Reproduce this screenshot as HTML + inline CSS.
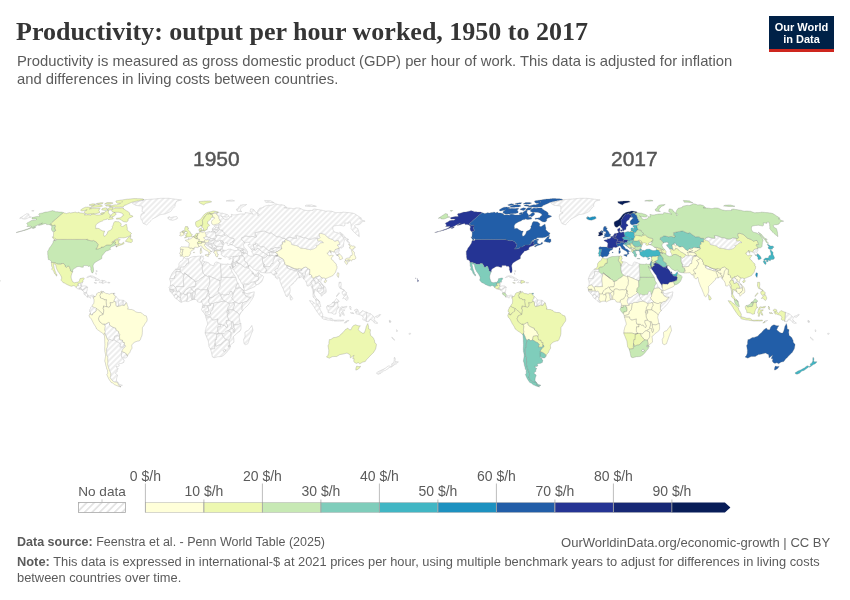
<!DOCTYPE html>
<html><head><meta charset="utf-8">
<style>
html,body{margin:0;padding:0;background:#fff;}
body{width:850px;height:600px;position:relative;overflow:hidden;font-family:"Liberation Sans",Arial,sans-serif;}
.t{position:absolute;white-space:nowrap;will-change:transform;}
#title{left:16px;top:17.4px;font-family:"Liberation Serif",serif;font-weight:bold;font-size:26px;color:#353535;letter-spacing:0px;}
#sub{left:16.5px;top:52px;font-size:14.8px;line-height:18px;color:#5b5b5b;}
#logo{left:769px;top:16px;width:65px;height:33px;background:#002147;border-bottom:3px solid #ce261e;color:#fff;font-weight:bold;font-size:11px;line-height:12px;text-align:center;}
#logo div{padding-top:5px;}
.yr{font-size:21px;color:#555;top:146.5px;-webkit-text-stroke:0.45px #555;}
#foot1{left:17px;top:534.5px;font-size:12.5px;color:#5b5b5b;}
#foot2{left:17px;top:553.5px;font-size:12.85px;line-height:16px;color:#5b5b5b;}
#foot3{right:20px;top:534.5px;font-size:13.05px;color:#5b5b5b;}
b{font-weight:bold;}
</style></head><body>
<div class="t" id="title">Productivity: output per hour worked, 1950 to 2017</div>
<div class="t" id="sub">Productivity is measured as gross domestic product (GDP) per hour of work. This data is adjusted for inflation<br>and differences in living costs between countries.</div>
<div class="t" id="logo"><div>Our World<br>in Data</div></div>
<div class="t yr" style="left:193px">1950</div>
<div class="t yr" style="left:611px">2017</div>
<svg class="t" style="left:0;top:0" width="850" height="600" viewBox="0 0 850 600">
<defs>
<pattern id="hatch" patternUnits="userSpaceOnUse" width="4" height="4" patternTransform="translate(2.7,0) rotate(-45)">
<rect width="4" height="4" fill="#fff"/><line x1="0" y1="2" x2="4" y2="2" stroke="#e5e5e5" stroke-width="1.35"/>
</pattern>
<pattern id="hatch2" patternUnits="userSpaceOnUse" width="5.3" height="5.3" patternTransform="translate(1,0) rotate(-45)">
<rect width="5.3" height="5.3" fill="#fff"/><line x1="0" y1="2.65" x2="5.3" y2="2.65" stroke="#dedede" stroke-width="1.4"/>
</pattern>
</defs>
<g id="maps">
<path d="M132.4 203.3L132.4 202.8L133.3 202.6L134.2 202.4L135.1 202.3L135.9 202.1L136.8 201.9L137.6 201.7L138.5 201.5L139.4 201.3L140.3 201L141.1 200.8L142 200.5L142.9 200.2L143.8 199.9L144.6 199.7L145.3 199.6L146.1 199.6L146.8 199.5L147.5 199.5L148.3 199.4L149 199.4L149.7 199.3L150.4 199.3L151.2 199.2L151.9 199.2L152.6 199.1L153.3 199.1L154.1 199L154.8 198.9L155.5 198.9L156.3 198.8L157 198.7L157.7 198.6L158.4 198.6L159.1 198.5L159.9 198.4L160.6 198.3L161.3 198.3L162 198.3L162.7 198.3L163.5 198.3L164.2 198.3L164.9 198.3L165.7 198.3L166.4 198.3L167.1 198.3L167.9 198.3L168.6 198.3L169.2 198.4L169.9 198.4L170.5 198.5L171.1 198.6L171.8 198.7L172.4 198.8L173 198.8L173.7 198.9L174.3 199L174.9 199.1L175.6 199.2L176.2 199.3L176.9 199.3L177.5 199.4L178.2 199.5L178.9 199.6L179.5 199.7L180.2 199.8L180.8 199.9L181.5 199.9L180.8 200.1L180.1 200.3L179.4 200.5L178.7 200.7L178 200.9L177.3 201.1L176.6 201.3L176.2 202.1L175.9 202.8L175.5 203.6L175.1 204.4L175.1 205.1L175 205.8L175 206.5L174.4 207.1L173.8 207.7L173.1 208.2L172.4 208.8L172 209.5L171.5 210.3L171.1 211.1L170.4 211.5L169.7 211.9L169 212.3L168.3 212.6L167.4 213L166.6 213.3L165.8 213.7L165 214L164.2 214.1L163.4 214.2L162.7 214.3L161.9 214.4L161.1 214.5L160.3 214.7L159.4 215.1L158.6 215.6L157.8 216.1L156.9 216.6L156.1 217.1L155.2 217.6L154.3 218L153.4 218.5L152.4 219L151.7 219.7L151 220.5L150.2 221.3L149.5 222.1L148.6 223.1L147.6 224L146.7 224.9L146 224.6L145.3 224.3L144.6 224L143.9 223.7L143.2 223.4L142.8 222.6L142.5 221.8L142.2 221L141.9 220.2L141.5 219.8L141.1 219.3L140.9 218.4L140.8 217.4L140.6 216.5L140.8 215.7L141 214.9L141.3 214L142.1 213.7L142.9 213.4L143.7 213.1L144.5 212.9L143.9 212.6L143.2 212.3L142.6 212L142 211.7L142.1 210.9L142.2 210.1L142.3 209.4L142.2 208.5L142.2 207.7L142.2 206.8L142.2 206L141.5 205.9L140.8 205.9L140.1 205.8L139.4 205.8L138.7 205.7L138 205.6L137.3 205.6L136.6 205.5L135.9 205.5L135.4 205.1L134.8 204.8L134.3 204.5L133.8 204.2L133.3 203.9L132.8 203.6L132.4 203.3ZM143.7 199.6L143.9 199.7L143.1 199.8L142.3 200L143 199.8L143.7 199.6Z" fill="url(#hatch)" stroke="#c4c4c4" stroke-width="0.5"/>
<path d="M96 274.3L95.9 273.6L95.8 272.8L95.9 273.1L96.1 273.8L96.3 274.5L96 274.3ZM95.8 271.1L96.2 270.6L96.8 270.7L97.3 270.9L96.7 271.9L95.8 271.1Z" fill="url(#hatch)" stroke="#c4c4c4" stroke-width="0.5"/>
<path d="M96.2 279.4L95.4 278.6L94.5 277.9L93.5 277.8L92.5 277.6L91.5 277.4L90.8 276.9L90.1 276.4L89 276.9L87.8 277.5L86.7 277.6L87.3 277L88 276.4L88.8 276.2L89.7 276L90.5 275.7L91.3 275.9L92.1 276L92.9 276.1L93.9 276.6L94.8 277.1L95.8 277.7L96.5 278L97.2 278.4L98 278.8L98.8 279.4L99.7 279.9L98.5 280.3L97.4 280.4L96.3 280.4L95.4 280.2L96.2 279.4Z" fill="url(#hatch)" stroke="#c4c4c4" stroke-width="0.5"/>
<path d="M-0.8 279.9L-0.2 280.4L0.4 280.9L-0.4 281.3L-1.1 281.8L-1.1 280.6L-0.8 279.9ZM-1.2 279.4L-1.4 278.8L-0.6 279.1L-1.2 279.4ZM-3 278.5L-3.1 277.9L-2.4 278.4L-3 278.5ZM110.1 248.6L110.7 249.4L110.1 249.6L109.5 249.8L108.3 250.4L107.5 250.7L106.8 250.9L106.2 251.1L105.6 251.2L105.2 252.2L104.5 252.8L103.9 253.4L103.4 254.2L102.7 254.9L101.8 256.2L101.9 256.7L101.8 257.6L101.8 258.6L101 259L100.3 259.4L99.3 260L98.3 260.5L97.5 261L96.6 261.5L95.9 262L95.1 262.5L94 263.4L93.6 264.2L93.2 265.1L93.1 265.8L93.1 266.6L93.3 267.5L93.4 268.3L93.5 269.5L93.5 270.4L93.5 271.3L93.2 272.1L92.9 272.8L92 272.9L91.5 271.9L91.3 271L91 270.2L90.7 269.5L90.8 268.6L90.9 267.8L90.5 267.2L90.2 266.6L89.5 266.1L88.8 266.3L88.2 266.5L87.7 266L87.3 265.5L86.5 265.6L85.7 265.6L85.1 265.6L84.6 265.5L83.9 265.6L83.2 265.8L83.3 266.5L83.3 267.2L82.3 267.3L81.6 267.2L81 267L80.3 266.8L79.7 266.6L78.9 266.5L78 266.5L76.8 266.9L75.6 267.8L74.6 268.3L73.5 268.9L73.1 269.6L72.7 270.3L72.7 271L72.7 271.8L72.1 271.7L71.2 271.4L70.5 271L70.4 270.3L70.4 269.6L70 269L69.7 268.5L69.5 267.3L68.9 266.3L67.7 266.3L67.1 266.9L66.5 267.5L65.9 267L65.2 266.6L65.1 265.9L65 265.2L64.3 264.4L63.6 263.5L62.6 263.5L61.6 263.5L61.4 264.2L60.2 264.2L59.1 264.2L57.9 264.2L56.9 263.8L56 263.3L55 262.9L54 262.5L53.1 262.5L52.2 262.5L51.3 262.4L51.4 261.7L50.9 260.8L50.4 260.4L50 260.1L49.5 259.8L48.9 259.7L48.3 259.5L48.3 258.6L48 257.7L48 256.7L47.8 255.9L48 255.2L47.7 254.5L47.7 253.5L47.7 252.6L47.6 252L47.6 251.4L48.2 250.5L48.8 249.5L49.1 248.8L49.3 248L50.1 247.2L50.8 246.3L51.5 245.3L52.1 244.2L52.6 243.5L53 242.7L53.1 242.1L53.2 241.5L53.8 240.4L54.4 240.4L55 240.5L55.5 240.6L56.2 240.4L56.5 239.4L57.6 239.4L58.7 239.4L59.7 239.4L60.8 239.4L61.9 239.4L63 239.4L64.1 239.4L65.1 239.4L66.2 239.4L67.3 239.4L68.4 239.4L69.4 239.4L70.5 239.4L71.6 239.4L72.7 239.4L73.8 239.4L74.8 239.4L75.9 239.4L77 239.4L78.1 239.4L79.2 239.4L80.2 239.4L81.3 239.4L82.4 239.4L83.5 239.4L84.5 239.4L85.6 239.4L86.7 239.4L87 238.9L87.3 239L87.1 239.8L87.9 239.9L88.8 240L89.4 240.3L90.1 240.6L91.1 240.7L92.1 240.8L92.9 240.6L93.6 240.4L94.4 240.9L95.1 241.3L95.9 241.8L96.6 242.3L96.8 242.9L97.1 243.3L97.7 243.7L98 244.1L98.4 244.5L98 245.6L97.6 246.7L97.2 247.7L96.4 248.4L95.9 249.1L96.7 249L97.6 248.9L98.4 248.8L99.2 248.6L99.9 248.4L101.1 247.9L101.2 247.3L101.1 247.1L102 247L102.9 247L103.9 246.9L104.7 246.1L105.6 245.6L106.6 245.1L106.9 244.9L107.8 244.9L108.7 244.9L109.6 244.9L110.5 244.9L111.1 244.5L111.6 244.4L112.6 243.3L113 242.6L113.6 242.1L114.3 241.5L115.2 241.7L115.6 242L115.3 243L115 244L115.4 244.1L115.6 245.1L115.5 245.2L114.8 245.5L114.2 245.8L113.5 246L112.9 246.2L112.1 246.5L111.4 246.7L110.6 247.6L110.1 248.6ZM116.2 246.3L116.7 246.8L116.4 247L116.2 246.3ZM35.2 227.8L34.4 228.1L33.6 228.5L32.9 228.3L32.2 228.2L33.1 227.8L34 227.3L34.9 227.1L35.7 226.9L35.2 227.8ZM49.4 224.7L48.7 224.6L48 224.6L47.2 224.6L46.5 224.6L46.3 224L46.1 223.5L45.1 223.7L44 223.9L43 224.3L41.9 224.7L40.8 225L39.7 225.3L39 225.3L38.4 225.3L39.4 224.7L40.5 224.2L41.5 223.6L42.6 223.1L41.6 223.4L40.6 223.6L39.5 224.2L38.4 224.7L37.2 225.3L36 226L35 226.4L33.9 226.9L32.6 227.4L31.3 228L30 228.5L28.7 229L27.6 229.4L26.4 229.8L25.3 230.2L24.4 230.4L23.4 230.6L22.5 230.9L21.4 231.2L20.2 231.5L19 231.9L17.8 232.2L17.1 232.4L16.4 232.6L16.1 232.5L17.2 232.2L18.5 231.8L19.9 231.5L20.9 231.2L21.8 231L23.1 230.5L24.4 230.1L25.9 229.5L27.4 229L28.5 228.5L29.6 228L30.6 227.3L31.6 226.6L31.1 226.4L30.6 226.2L29.7 226.4L28.8 226.5L27.9 226.5L26.9 226.5L27.7 225.7L27.7 225.3L27.8 224.8L27.4 224.4L27.1 224L26.7 223.6L27.3 222.8L28.2 222.4L29.1 222L30.2 221.3L31.3 220.6L32.2 220.5L33.2 220.3L34.1 220.2L34.8 220.2L35.5 220.2L36.1 219.6L36.8 219.1L36.2 219L35.6 219L35 219L34.3 219L33.7 219L33 219.1L32.5 219L32 218.8L32 218.2L32 217.6L33.2 217.3L34.3 217.1L35.5 216.8L36.7 216.6L37.8 216.4L38.8 216.4L39.7 216.4L39.5 216L39.5 215.6L39.4 215.1L39.1 214.8L38.7 214.5L39.1 214L39.4 213.6L40.4 213.4L41.4 213.2L42.4 213.1L43.8 212.6L45.3 212.1L46 212.1L46.7 212L47.4 211.9L48.4 211.7L49.3 211.4L50.3 211.2L51.4 210.9L52.5 210.6L53 210.8L53.6 210.9L54.1 211.1L54.7 211.2L55.1 211.4L55.6 211.7L56.3 211.7L57.1 211.7L57.8 211.8L58.5 211.9L59.2 212L59.9 212.1L60.6 212.1L61.4 212.1L62.1 212.1L62.5 212.3L63 212.5L63.5 212.7L62.1 213.8L60.7 214.9L59.4 216.1L58 217.2L56.7 218.4L55.4 219.5L54.1 220.7L52.8 221.9L51.5 223.1L50.3 224.3L51 224.4L51.8 224.6L52 224.9L52.2 225.3L52.3 225.7L53.3 225.5L54.2 225.2L55.1 224.9L55.2 225.3L55.3 226L55.5 226.8L54.9 227.8L54.9 228.5L54.9 229.1L55.4 229.6L56 230.1L55.3 230.9L54 231.7L53.3 231.6L52.6 231.5L52.3 231.1L51.9 230.6L51.7 229.9L51.5 229.3L51.5 228.7L51.5 228.2L51.7 227.6L52 227L51.7 226.6L51.4 226.1L51.1 225.7L50.8 225.2L50.1 224.9L49.4 224.7Z" fill="#c7e9b4" stroke="#6f6f6f" stroke-opacity="0.75" stroke-width="0.35"/>
<path d="M132.5 241.3L131.8 242L131.2 242.7L130.4 242.5L129.6 242.3L128.8 242.2L127.9 242L127 241.7L126.1 241.5L125.3 241.3L126.1 240.3L126.9 239.3L127.8 238.2L128.7 237.1L129.4 236.7L130.2 236.3L131 235.9L130.7 236.8L130.4 237.8L130.1 238.9L130.8 238.9L131.4 239L132.2 239.1L132.3 240.2L132.5 241.3ZM72 212.7L73 212.6L74.1 212.4L75 212.2L75.9 212L76.2 212.3L76.5 212.6L76.8 212.9L77.9 212.5L79 212.1L79.3 212.5L79.5 212.9L80.2 212.9L81 212.9L81.7 213L82.3 213.1L82.8 213.2L83.4 213.3L83.9 213.4L84.5 213.7L85 213.9L85.5 214.2L84.4 214.9L85.2 214.9L86.1 214.9L86.8 214.9L87.6 214.8L88.4 214.8L89.1 214.8L89.7 214.9L90.2 215.1L90.8 215.3L91.1 214.4L91.9 214.3L92.6 214.2L93.4 214L93.9 214.2L94.4 214.4L95 214.5L95.6 214.7L96.2 214.9L96.8 215L97.6 215L98.5 215L99.3 214.9L100.1 214.9L101.2 214.6L102.2 214.3L102.9 214L102.1 214L101.3 214L100.4 213.9L101.2 212.9L102 212.7L102.9 212.6L103.7 212.5L103.6 213.2L103.4 213.8L104.1 213.6L104 213.1L104 212.7L105.1 211.8L106.3 210.9L107.1 210.4L107.9 210L108.4 210.3L109 210.6L108.6 211.3L108.2 212L108.3 212.4L108.5 212.7L108.7 213.1L108.9 213.4L109.3 213.9L109.6 214.3L109.8 214.9L110 215.5L111.2 214.7L112.4 213.9L112.9 213.3L113.5 212.7L114.2 212.6L115 212.5L115.4 212.9L115.9 213.2L115.9 213.8L116 214.4L115.5 215L114.9 215.6L113.9 216.2L112.9 216.7L112.3 216.4L111.7 216L110.9 216.2L110.2 216.4L110.4 216.6L109.3 217.3L109.8 217.1L110.5 217.2L111.1 217.2L111.8 217.3L112.5 217.3L112.7 217.9L113 218.4L113.3 219L112.4 219.1L111.6 219.2L110.7 219.3L109.8 219.4L109 219.5L108.1 219.6L107.7 219.1L107.3 218.7L106.3 219.5L105.4 219.6L104.5 219.8L103.6 220L102.5 221L101.5 221.3L100.4 221.7L99.7 222.1L98.9 222.5L98 223.1L97.1 223.6L96.1 224.8L95.8 225.5L95.4 226.2L95.7 226.6L95.9 227L95.8 227.8L95.7 228.6L96.8 228.5L97.8 228.3L98.6 228.5L99.3 228.7L99.6 229.1L100 229.4L100.4 229.7L100.9 230L101.4 230.3L102 230.6L102.6 230.9L103.3 231L104 231L104.7 231.1L104.2 232.2L103.9 233.1L103.6 234.1L103.6 234.7L103.7 235.3L103.9 235.8L104.1 236.3L105.1 236L106.3 235L106.9 234L107.5 232.9L107.6 231.8L108.5 231.1L109.6 230.6L110.7 230.1L111.2 229.5L111.8 229L112.1 228.3L112.5 227.6L112.3 227.1L112.1 226.6L112.9 225.5L113.3 224.4L113.5 223.6L113.8 222.8L114.3 222.1L114.8 221.5L115.7 221.6L116.5 221.6L117.4 221.7L118.1 221.7L118.8 221.7L119.3 222.2L119.9 222.6L120.4 223L120.9 223.4L121.4 223.9L121.2 224.6L120.9 225.2L120.8 226L121.2 226.2L121.6 226.4L122.1 226.4L122.7 226.5L123.8 225.8L124.9 225.1L126 224.3L126.6 224.4L126.7 225.2L126.8 226L126.9 226.5L127.1 227L127.2 227.6L127.4 228.1L127.1 229.3L127.5 230.1L128 230.5L128.5 231L129.1 231.6L129.7 232.2L130.2 232.4L130.6 232.6L131.1 233.1L131.6 233.6L130.5 234.5L130.9 235.4L130.1 235.8L129.2 236.1L128.2 236.5L127.3 236.9L126.3 237.3L125.5 237.5L124.8 237.6L124 237.8L123.1 237.8L122.2 237.8L121.3 237.8L120.4 237.8L119.6 237.8L118.7 237.8L118 238.4L117.4 239L116.6 239.1L115.9 239.3L114.9 240L114 240.6L113.3 241.3L112.6 241.9L111.7 242.4L112.3 242.2L113.1 241.7L113.9 241.2L115.1 240.6L116.2 240L117 239.6L117.9 239.3L118.5 239.2L119.2 239.1L119.7 239.4L120.3 239.7L119.3 240.4L118.5 240.6L117.7 240.8L118.6 241.1L118.9 241.7L118.6 243L119 243.1L119.5 243.7L120.2 243.8L120.9 244L121.5 243.9L122.1 243.8L122.4 243.1L123 242.6L123.7 242.2L124 243.3L123.7 244L123 244.2L122.4 244.5L121.8 244.7L121.2 244.9L120.2 245.2L119.2 245.5L118.2 245.9L117.3 246.5L116.4 247L116.1 245.9L117.2 245.2L117.8 244.9L118.5 244.5L119 243.8L118.3 244.1L117.6 244.3L116.9 244.5L116.3 244.7L115.7 244.8L115.6 245.1L115.4 244.1L115 244L115.3 243L115.6 242L115.2 241.7L114.3 241.5L113.6 242.1L113 242.6L112.6 243.3L111.6 244.4L111.1 244.5L110.5 244.9L109.6 244.9L108.7 244.9L107.8 244.9L106.9 244.9L106.6 245.1L105.6 245.6L104.7 246.1L103.9 246.9L102.9 247L102 247L101.1 247.1L101.2 247.3L101.1 247.9L99.9 248.4L99.2 248.6L98.4 248.8L97.6 248.9L96.7 249L95.9 249.1L96.4 248.4L97.2 247.7L97.6 246.7L98 245.6L98.4 244.5L98 244.1L97.7 243.7L97.1 243.3L96.8 242.9L96.6 242.3L95.9 241.8L95.1 241.3L94.4 240.9L93.6 240.4L92.9 240.6L92.1 240.8L91.1 240.7L90.1 240.6L89.4 240.3L88.8 240L87.9 239.9L87.1 239.8L87.3 239L87 238.9L86.7 239.4L85.6 239.4L84.5 239.4L83.5 239.4L82.4 239.4L81.3 239.4L80.2 239.4L79.2 239.4L78.1 239.4L77 239.4L75.9 239.4L74.8 239.4L73.8 239.4L72.7 239.4L71.6 239.4L70.5 239.4L69.4 239.4L68.4 239.4L67.3 239.4L66.2 239.4L65.1 239.4L64.1 239.4L63 239.4L61.9 239.4L60.8 239.4L59.7 239.4L58.7 239.4L57.6 239.4L56.5 239.4L56.1 239.1L55.6 238.8L55.1 238.4L55.3 239.3L55.4 240.2L54.7 239.9L54 239.5L53.6 238.9L53.1 238.2L52.7 237.6L52.2 236.9L52.8 237.1L53.4 237.2L54.1 237.6L53.9 237.3L53.5 236.9L53.2 236.5L53.5 235.4L53.5 234.6L53.6 233.7L53.5 233.1L53.4 232.6L54 231.7L55.3 230.9L56 230.1L55.4 229.6L54.9 229.1L54.9 228.5L54.9 227.8L55.5 226.8L55.3 226L55.2 225.3L55.1 224.9L54.2 225.2L53.3 225.5L52.3 225.7L52.2 225.3L52 224.9L51.8 224.6L51 224.4L50.3 224.3L51.5 223.1L52.8 221.9L54.1 220.7L55.4 219.5L56.7 218.4L58 217.2L59.4 216.1L60.7 214.9L62.1 213.8L63.5 212.7L64 212.8L64.4 213L64.9 213.1L65.4 213.2L65.9 213.4L66.4 213.6L67.4 213.2L68.4 212.9L69.4 212.6L69.7 212.8L70 213L71 212.9L72 212.7ZM116.4 247L116.7 246.8L116.2 246.3L116.4 247ZM107.9 210L107.4 210L106.8 210L107.9 209L108.9 207.9L109.7 207.8L110.6 207.7L111.4 207.7L112.2 207.6L113.1 207.5L112.9 208.2L112.8 208.8L112 209.4L111.2 210L110.4 210L109.6 210L108.7 210L107.9 210ZM121.2 220.1L120.6 219.7L120 219.4L119.4 219.1L118.7 219.1L118 219.1L117.2 219.2L116.5 219.2L116.4 218.3L117.3 218.2L118.3 218.1L119.2 218L120.2 217.8L121.1 217.7L121.7 216.8L122.2 216L122.9 215.6L123.6 215.3L123.3 214.7L123 214L122.5 213.7L122 213.4L121.5 213.1L121 212.9L120.5 212.7L119.9 212.6L119.3 212.4L118.8 212.3L117.9 212.3L117 212.3L116.1 212.3L115.2 212.3L114.3 212.3L113.7 212.1L113.2 212L112.6 211.8L112.1 211.7L111.9 211.1L111.7 210.5L112 209.9L112.3 209.4L113.2 208.9L114.2 208.5L115.1 208.1L115.7 208.1L116.4 208.2L117 208.2L117.6 208.2L118.3 208.2L119 208.1L119.8 208.1L120.5 208.1L121.2 208L121.3 207.9L121.9 207.9L122.6 207.9L123.2 208L123.8 208L123.2 208.7L123.7 209L124.1 209.2L124.5 209.5L125 209.8L125.4 210.1L125.9 210.4L126.4 210.7L127 211L127.6 211.3L128.1 211.7L128.6 212.1L129.1 212.5L129.6 212.9L129.6 213.7L129.5 214.7L130.2 214.9L130.8 215.2L131.5 215.5L132.2 215.8L132.9 216.1L132.7 216.7L131.9 217L131 217.4L130.2 217.7L129.1 218.3L128.1 219L128.1 219.9L128.1 220.8L127.3 221.5L126.5 222.1L125.8 222L125.1 221.9L124.4 221.8L123.7 221.7L123.1 221.3L122.5 221L121.9 220.6L121.6 220.3L121.2 220.1ZM133.8 198.6L134.4 198.6L135 198.6L135.7 198.6L136.3 198.6L137 198.6L137.6 198.7L138.2 198.7L138.9 198.7L139.5 198.7L140.1 198.7L140.7 198.8L141.3 198.8L141.9 198.9L142.5 198.9L143.1 198.9L143.3 199.2L143.6 199.4L143.9 199.7L143.7 199.6L143 199.8L142.3 200L141.5 200.1L140.7 200.3L139.9 200.4L139.1 200.6L138.3 200.8L137.6 200.9L136.8 201.1L136 201.2L135.3 201.4L134.5 201.5L133.7 201.8L132.8 202L132 202.3L131.1 202.5L130.2 203L129.2 203.4L128.2 203.9L127.3 204.3L126.3 204.8L125.3 205.2L124.5 205.2L124.3 205.7L124 206.2L123.2 206.7L122.4 207.1L121.6 207.1L120.8 207.1L120 207.1L119.2 207.2L118.4 207.2L117.6 207.2L116.8 207.2L115.9 207.2L115.3 207.2L114.7 207.1L114 207.1L113.4 207L112.8 207L112.5 206.8L112.2 206.7L111.9 207L111.1 207L110.2 207L109.4 207L110.2 206.2L110.7 206.2L111.2 206.2L110.9 206L110.5 205.9L111.4 205.7L112.3 205.5L113.2 205.2L114.1 205L115 204.8L115.6 204.8L116.2 204.8L116.7 204.9L117.6 204.5L118.5 204.2L119.3 203.9L120.6 203.2L119.8 203.2L119 203.3L118.3 203.3L117.5 203.3L117.1 203L116.8 202.7L116.4 202.4L116.1 202.1L115.8 201.8L116.1 201.3L116.3 200.8L117.2 200.7L118 200.6L118.9 200.4L119.8 200.3L120.7 200.1L120.8 200.2L121.7 200L122.6 199.9L123.6 199.7L124.5 199.6L125.4 199.4L126.3 199.3L127.1 199.2L127.8 199.1L128.6 199.1L129.3 199L130.1 198.9L130.8 198.9L131.6 198.8L132.3 198.7L133 198.7L133.8 198.6ZM122.5 201.8L122.2 201.6L122 201.4L121.9 201.9L121.8 202.4L122.5 201.8ZM107.6 204.8L108.3 204.8L109 204.9L109.7 204.9L110.4 204.9L110.1 205.6L109.8 206.2L109 206.2L108.3 206.2L107.6 206.1L106.9 206.1L106.1 206.1L105.9 205.8L105.7 205.5L105.5 205.2L106.2 205.1L106.9 205L107.6 204.8ZM107.3 208.2L106.7 209L106.1 209.7L105.5 210.5L104.9 210.4L104.2 210.3L103.6 210.2L103 210.1L102.3 210L101.7 209.9L101.8 209.4L102 208.8L103 208.4L104.1 208.1L105.2 207.8L105.7 207.9L106.2 208L106.8 208.1L107.3 208.2ZM113.1 203L112.1 203.4L111.2 203.9L110.5 203.9L109.7 203.9L109 203.9L108.2 204L107.5 204L106.7 204L106 204L105.2 204.1L104.5 204.1L105.7 203.3L107 202.5L107.7 202.5L108.4 202.5L109.1 202.5L109.9 202.5L110.6 202.5L111.3 202.5L111.8 202.7L112.2 202.8L112.6 202.9L113.1 203ZM85.7 210.5L87.2 209.7L86 210.1L84.8 210.5L84 210.6L83.2 210.7L82.4 210.9L81.6 211L81.3 210.7L80.9 210.4L80.5 210L81.9 209.1L83.2 208.2L84.3 207.7L85.4 207.2L86.1 207.2L86.7 207.2L87.4 207.1L88.1 207.1L88.7 207.2L89.4 207.3L90 207.3L90.6 207.4L90.9 207.7L91.1 208L91.4 208.2L90.4 208.6L89.3 209L90.3 208.8L91.1 208.7L91.9 208.6L92.6 208.4L93.4 208.3L94 208.4L94.6 208.4L95.3 208.4L95.9 208.4L96.6 208.4L97.4 208.4L98.1 208.3L98.8 208.3L99.6 208.2L99.9 208.5L100.2 208.8L99.4 209.4L98.6 209.9L98.8 210.4L99.1 210.8L99.3 211.2L99.6 211.7L99.5 212.3L99.4 212.9L98.5 213L97.7 213.2L96.9 213.4L96 213.6L95.2 213.6L94.5 213.7L93.7 213.7L92.9 213.8L92.1 213.8L91.3 213.9L90.5 213.9L89.7 214L88.9 214L88.1 214.1L87.2 214.2L86.7 214L86.2 213.7L85.7 213.5L85.2 213.3L84.7 213.1L84.5 212.7L84.4 212.3L84.3 211.9L85 211.2L85.7 210.5ZM98.9 204.6L99.4 204.7L99.9 204.9L100.4 205L100.8 205.1L101.3 205.2L101.7 205.5L102.1 205.7L102.5 206L101.3 206.4L100.2 206.9L99.4 206.9L98.6 207L97.8 207.1L97 207.1L96.2 207.2L95.4 207.3L94.6 207.3L93.9 207.3L93.1 207.3L92.4 207.3L91.7 207.2L90.9 207.2L91.7 206.6L92.5 206L93.8 205.5L95.2 204.9L95.9 204.9L96.7 204.8L97.4 204.7L98.1 204.7L98.9 204.6ZM102.3 203.9L101.6 203.9L100.9 204L100.1 204.1L99.4 204.1L98.6 204.2L98.2 204.1L97.7 203.9L97.2 203.8L96.8 203.7L96.3 203.6L97.2 203.4L98.1 203.2L99 203.1L99.8 202.9L100.7 202.7L101.5 202.7L102.3 202.7L103.1 202.7L102.7 203.3L102.3 203.9ZM95.5 204.1L94.5 204.7L93.5 205.2L92.7 205.3L92 205.5L91.2 205.6L90.4 205.7L90.1 205.5L89.7 205.3L89.3 205.1L89 204.9L90.3 204.5L91.5 204.1L92.8 203.8L93.3 203.8L93.9 203.9L94.4 203.9L95 204L95.5 204.1ZM53.9 240.2L54.7 240.4L54.4 240.4L53.8 240.4L53.9 240.2Z" fill="#edf8b1" stroke="#6f6f6f" stroke-opacity="0.75" stroke-width="0.35"/>
<path d="M71.3 275.3L71.2 276.1L71.1 276.9L71.2 277.7L71.3 278.4L71.5 279L71.7 279.6L72 280.3L72.2 280.9L72.6 281.9L73.7 282.3L74.4 282.8L75.2 282.6L76.1 282.4L76.8 282.3L77.4 282.2L78 282.3L78.7 281.6L79.5 280.6L79.7 279.6L80 278.6L80.8 278.5L81.7 278.3L82.5 278.1L83.1 278L83.7 278L84.3 278.5L83.9 279.2L83.4 279.8L82.9 280.5L83 281.6L82.6 282.3L81.9 282.3L81.1 283.1L80.8 283.3L79.6 283.3L78.5 283.3L78.4 284.1L77.8 284.1L78.6 285L79 285.3L78.9 285.8L78.1 285.8L77.3 285.8L76.6 286.9L76.4 287.8L75.9 287.2L75.4 286.6L74.8 286.1L74.2 285.7L73.3 285.6L72.6 285.9L71.9 286.3L71.3 286.2L70.7 286.1L69.8 285.8L69 285.4L68.1 285.1L67.3 284.7L66.7 284.4L66.1 284L65.4 283.6L64.8 283.2L64 282.9L63.2 282.6L62.7 282L62.1 281.5L61.3 280.6L61.1 279.6L61.6 278.5L61.6 277.7L61.5 276.9L61.1 276.3L60.8 275.7L60.3 274.8L59.9 274L59.4 273.4L59 272.8L58.6 272.3L58.1 271.7L57.8 271L57.5 270.3L57.1 269.7L56.7 269L56.5 268L56.2 267.1L56 266.2L55.8 265.3L55.6 264.4L55 264.2L54.5 264.1L53.6 263.5L53.6 264.3L53.5 265.1L53.8 265.8L54 266.6L54.1 267.4L54.2 268.2L54.4 268.7L54.6 269.3L54.8 270.1L55.1 270.9L55.3 271.5L55.6 272.1L55.8 272.8L55.9 273.4L56.1 274.3L56.9 274.3L56.9 275L57 275.7L56.4 276.1L56.1 275.3L55.5 274.6L54.9 274L54.3 273.1L54 272.1L53.7 271.1L53.1 270.6L52.5 270L52.1 269.6L51.6 269.2L52.1 268.5L52.6 267.9L52.1 267.1L51.7 266.3L51.5 265.5L51.5 264.5L51.4 263.5L51.3 262.5L51.3 262.4L52.2 262.5L53.1 262.5L54 262.5L55 262.9L56 263.3L56.9 263.8L57.9 264.2L59.1 264.2L60.2 264.2L61.4 264.2L61.6 263.5L62.6 263.5L63.6 263.5L64.3 264.4L65 265.2L65.1 265.9L65.2 266.6L65.9 267L66.5 267.5L67.1 266.9L67.7 266.3L68.9 266.3L69.5 267.3L69.7 268.5L70 269L70.4 269.6L70.4 270.3L70.5 271L71.2 271.4L72.1 271.7L72.7 271.8L72 273.1L71.7 274.2L71.3 275.3Z" fill="#edf8b1" stroke="#6f6f6f" stroke-opacity="0.75" stroke-width="0.35"/>
<path d="M81.9 283.7L81.7 284.4L81.6 285.2L81.2 286L80.8 286L80.7 285.2L80.6 284.4L80.8 283.3L81.1 283.1L81.9 282.3L82.6 282.3L82.5 282.5L82.2 282.5L81.9 283.7Z" fill="url(#hatch)" stroke="#c4c4c4" stroke-width="0.5"/>
<path d="M80.6 287.7L79.8 288.1L79 289.1L78.7 289L78.1 288.9L77.5 288.8L77 288.3L76.5 287.8L76.4 287.8L76.6 286.9L77.3 285.8L78.1 285.8L78.9 285.8L79 285.3L78.6 285L77.8 284.1L78.4 284.1L78.5 283.3L79.6 283.3L80.8 283.3L80.6 284.4L80.7 285.2L80.8 286L81.1 286.1L81.6 286.3L81.1 287L80.6 287.7Z" fill="url(#hatch)" stroke="#c4c4c4" stroke-width="0.5"/>
<path d="M79 289.1L79.8 288.1L80.5 288.3L81.2 288.6L81.8 288.8L81.9 289.8L81.9 289.9L81.5 289.8L80.7 289.6L79.9 289.4L79 289.1Z" fill="url(#hatch)" stroke="#c4c4c4" stroke-width="0.5"/>
<path d="M86.2 286.1L86.9 286.7L87.7 287.3L86.8 287.4L86 287.6L85.4 288.1L84.7 288.7L83.9 289.2L83.1 289.7L82.3 290.1L81.9 289.8L81.8 288.8L81.2 288.6L80.5 288.3L79.8 288.1L80.6 287.7L81.1 287L81.6 286.3L82.4 286.1L83.3 286L84.3 285.9L85.3 286L86.2 286.1Z" fill="url(#hatch)" stroke="#c4c4c4" stroke-width="0.5"/>
<path d="M86.7 291.7L86.6 292.9L85.8 292.9L84.9 292.8L84.1 292.8L84 292.9L84.1 292.7L83.5 291.5L82.7 290.7L82.2 290.2L82.3 290.1L83.1 289.7L83.9 289.2L84.7 288.7L85.4 288.1L86 287.6L86.8 287.4L87.7 287.3L87.4 288L87.2 288.7L87.2 289.5L87.1 290.4L86.7 291.7Z" fill="url(#hatch)" stroke="#c4c4c4" stroke-width="0.5"/>
<path d="M87.8 294.9L87.7 295.7L87.5 296.5L87.3 297.2L86.8 296.8L86.5 296.3L86 295.8L85.3 294.9L84.6 294.8L83.8 293.9L84 292.9L84.1 292.8L84.9 292.8L85.8 292.9L86.6 292.9L86.6 293.1L87 293.7L87.4 294.4L87.8 294.9Z" fill="url(#hatch)" stroke="#c4c4c4" stroke-width="0.5"/>
<path d="M91.2 295.3L92.3 295L92.9 295.2L93.5 295.3L94.2 296.2L93.9 297.3L93.5 298.3L92.9 297.2L92.7 296.3L91.6 295.9L91 296.5L90.4 297.2L90.9 297.9L90.4 298.2L89.7 297.6L89.1 297.3L88.5 296.9L87.3 297.2L87.5 296.5L87.7 295.7L87.8 294.9L88.3 295.3L88.9 295.7L89.5 296L90.3 295.7L91.2 295.3Z" fill="url(#hatch)" stroke="#c4c4c4" stroke-width="0.5"/>
<path d="M101.2 280.3L101.9 280.4L102.6 280.4L102.4 281.7L102.3 283L101.3 282.7L100.5 282.7L99.7 282.6L98.9 282.5L99.7 281.8L100.5 281.1L101.2 280.3Z" fill="url(#hatch)" stroke="#c4c4c4" stroke-width="0.5"/>
<path d="M104.6 280.6L105.2 281L105.8 281.3L106.6 282.2L105.5 282.5L104.4 282.7L103.5 283.2L102.6 283.6L102.3 283L102.4 281.7L102.6 280.4L103.6 280.5L104.6 280.6Z" fill="url(#hatch)" stroke="#c4c4c4" stroke-width="0.5"/>
<path d="M95.7 283.3L95 283L94.2 282.7L94.1 282.5L95 282.7L95.9 282.8L96.7 283L95.7 283.3Z" fill="url(#hatch)" stroke="#c4c4c4" stroke-width="0.5"/>
<path d="M109.8 283L108.8 283L107.8 283L107.9 282.3L108.9 282.4L109.9 282.5L109.8 283Z" fill="url(#hatch)" stroke="#c4c4c4" stroke-width="0.5"/>
<path d="M113.6 294.2L113.6 293.6L113.7 293.2L114.9 293.2L114.7 294.2L113.6 294.2Z" fill="url(#hatch)" stroke="#c4c4c4" stroke-width="0.5"/>
<path d="M102.4 293.1L103.4 292.2L103.5 291.4L103.9 292.2L104.7 292.7L105.6 293.1L106.1 293.6L106.7 293.6L107.4 293.5L108.5 293.9L109.6 294.2L110.2 293.9L110.8 293.5L111.7 293.4L112.7 293.4L113.6 293.6L113.6 294L113.6 293.6L113.5 294.4L114.1 295.1L114.7 295.8L115.3 296.1L115.9 296.5L115.4 297.3L115 298L115.2 298.7L114.6 299.4L114 300.2L114.9 301.1L114 301.7L113.1 302.3L112.2 302.8L111.1 302.8L110.1 302.7L110.4 303.8L110.7 305L110.4 305.7L110.1 306.4L109.4 306.9L108.8 307.4L107.9 307.1L107.1 306.8L106.8 306.9L106.6 306.1L106.5 305.4L106.4 304.3L106.2 303.1L106.1 302.3L106 301.4L106.2 300.6L106.4 299.7L105.2 299.8L104 299.9L103.6 299.2L103.2 298.6L102.1 298.6L101.2 298.3L100.4 298L100.4 297L100.1 296.3L99.7 295.5L100.4 294.4L100.6 293.6L100.9 292.8L101.5 292.3L102.1 291.8L102.1 291.2L102.3 292.1L101.6 293.1L102.4 293.1Z" fill="#ffffd9" stroke="#6f6f6f" stroke-opacity="0.75" stroke-width="0.35"/>
<path d="M96.5 295.1L96.7 293.8L97.6 292.9L98.4 292.5L99.5 292.5L100.2 292.1L101 291.7L101.4 291L102.1 291.2L102.1 291.8L101.5 292.3L100.9 292.8L100.6 293.6L100.4 294.4L99.7 295.5L100.1 296.3L100.4 297L100.4 298L101.2 298.3L102.1 298.6L103.2 298.6L103.6 299.2L104 299.9L105.2 299.8L106.4 299.7L106.2 300.6L106 301.4L106.1 302.3L106.2 303.1L106.4 304.3L106.5 305.4L106.7 306.7L105.6 306.5L104.5 306.3L103.3 306.1L103.9 307.1L103.6 307.7L103.1 307.7L103.1 308.8L103.6 309.2L103.9 310.1L103.7 311.2L103.6 312.2L103.4 313.3L103.3 314.4L102.3 313.9L101.5 312.9L100.7 311.9L99.6 311.1L98.6 310.3L97.9 309.6L97.1 308.8L96.5 308.6L95.9 308.3L95.3 307.9L94.5 307.7L93.8 307.4L92.9 306.9L92.1 306.5L92 306.5L92.2 305.8L92.4 305.1L93.1 304.2L93.8 303.3L93.9 302.3L94 301.4L94 300.5L94 299.6L93.5 298.3L93.9 297.3L94.2 296.2L94.8 297L95.2 296.5L95.6 295.9L96.5 295.1Z" fill="#ffffd9" stroke="#6f6f6f" stroke-opacity="0.75" stroke-width="0.35"/>
<path d="M89.6 309.9L90.1 309.2L90.5 308.5L90.6 307.4L91.3 306.9L92 306.5L92.1 306.5L92.9 306.9L93.8 307.4L94.5 307.7L95.3 307.9L95.9 308.3L96.5 308.6L96.1 309.8L96.4 310.8L95.6 311.5L94.9 312.2L93.9 312.8L92.8 313.5L92.6 314.2L92.4 315L91.6 314.9L91 314.7L90.4 314.4L90.3 313.3L90.2 313.3L90.7 312.2L89.5 311.6L89.6 310.8L89.6 309.9Z" fill="url(#hatch)" stroke="#c4c4c4" stroke-width="0.5"/>
<path d="M118.2 298.9L118.7 299.4L119.3 300L119.4 300L119.4 300.1L119 301L118.7 301.9L118.3 302.8L118.5 303.9L118.8 305L118.4 305.7L118.1 306.4L117.5 306.5L116.9 306.7L116.4 306L115.9 305.2L115.8 304L115.8 302.8L115.3 302L114.9 301.1L114 300.2L114.6 299.4L115.2 298.7L115 298L115.4 297.3L115.9 296.5L116.1 296.8L116.9 297.5L117.7 298.2L118.2 298.9Z" fill="url(#hatch)" stroke="#c4c4c4" stroke-width="0.5"/>
<path d="M123.1 305.4L122.5 305.2L121.9 305L121.3 305.4L120.6 305.8L119.8 306L119 306.2L118.1 306.4L118.4 305.7L118.8 305L118.5 303.9L118.3 302.8L118.7 301.9L119 301L119.4 300.1L119.4 300L120.1 300.1L120.9 300.2L122.1 300.2L123.2 300.3L123.2 301.6L123.2 302.8L123.2 304.1L123.1 305.4Z" fill="url(#hatch)" stroke="#c4c4c4" stroke-width="0.5"/>
<path d="M126.1 302.6L125.6 303.5L125.1 304.5L124.5 305.4L123.8 305.4L123.1 305.4L123.2 304.1L123.2 302.8L123.2 301.6L123.2 300.3L123.9 300.6L124.6 300.9L125.3 301.7L126.1 302.6Z" fill="url(#hatch)" stroke="#c4c4c4" stroke-width="0.5"/>
<path d="M98.8 330.7L98.1 330.1L97.3 329.6L96.6 329L96.3 328.2L96 327.5L95.5 326.5L94.9 325.6L94.2 324.5L93.5 323.4L93.1 322.5L92.6 321.6L92.2 320.7L91.7 319.7L91.1 318.7L90.3 317.9L89.5 317.1L89.3 316.1L89.1 315.1L89.7 314.3L90.2 313.5L90.2 313.3L90.3 313.3L90.4 314.4L91 314.7L91.6 314.9L92.4 315L92.6 314.2L92.8 313.5L93.9 312.8L94.9 312.2L95.6 311.5L96.4 310.8L96.1 309.8L96.5 308.6L97.1 308.8L97.9 309.6L98.6 310.3L99.6 311.1L100.7 311.9L101.5 312.9L102.3 313.9L103.3 314.4L102.4 314.8L101.5 315.1L100.5 315.5L99.6 315.9L99.3 316.8L98.9 317.8L98.5 318.8L98.9 319.8L99.3 320.8L99.8 321.8L100.8 322.6L101.8 323.4L102.9 324.1L103.5 324L104.1 324L104.7 325.1L105.4 326.2L105.2 327.2L105.1 328.3L104.9 329.2L104.8 330L105.1 330.7L105.4 331.4L105.2 332.3L104.9 333.3L104.5 333.8L104 334.4L103.4 333.9L102.7 333.4L102 332.8L101.3 332.3L100.4 331.8L99.6 331.2L98.8 330.7Z" fill="#ffffd9" stroke="#6f6f6f" stroke-opacity="0.75" stroke-width="0.35"/>
<path d="M109.4 322.6L109.4 323.7L109.5 324.8L110.3 325.5L111.2 326.2L112 326.7L112.9 327.1L113.8 327.6L114.7 327.8L115.6 328L115.8 328.9L116 329.9L116.9 330.4L117.7 331L118.6 331.6L118.6 332.3L118.6 333L119.2 333.6L119.8 334.3L119.6 335.4L119.4 336.5L118.7 336.2L118 335.8L116.9 335.9L115.9 336.1L114.8 336.2L114.5 337.2L114.3 338.2L114.2 339.1L114.1 339.9L113.1 340.3L112.1 340.8L111.1 339.8L110.3 339.6L109.5 339.3L109 340.1L108.5 340.8L107.8 339.7L107.1 338.6L106.6 337.4L106.2 336.1L105.6 335.2L105.3 334.3L104.9 333.3L105.2 332.3L105.4 331.4L105.1 330.7L104.8 330L104.9 329.2L105.1 328.3L105.2 327.2L105.4 326.2L104.7 325.1L104.1 324L104.7 324.1L105.4 324.2L106.4 323.6L107.4 323L108.5 322.4L109.4 322.6Z" fill="url(#hatch)" stroke="#c4c4c4" stroke-width="0.5"/>
<path d="M123.1 342.5L123.8 342.5L124.5 342.6L124.4 343.7L124.3 344.7L124.3 345.5L124.2 346.3L123.8 346.8L123.3 347.3L122.1 347.2L120.9 347.2L119.8 347.1L120 346.2L120.2 345.3L120.6 344.4L119.7 343.4L118.7 342.5L118.1 342.3L117.5 342.2L116.6 341.6L115.8 341L114.9 340.5L114.1 339.9L114.2 339.1L114.3 338.2L114.5 337.2L114.8 336.2L115.9 336.1L116.9 335.9L118 335.8L118.7 336.2L119.4 336.5L119.6 337.6L119.7 338.7L119.9 339.8L120.7 339.9L121.6 340L122.4 340.1L122.7 341.3L123.1 342.5Z" fill="url(#hatch)" stroke="#c4c4c4" stroke-width="0.5"/>
<path d="M122.4 357.3L121.5 356.5L121.4 355.5L121.4 354.5L121.4 353.4L121.5 352.3L121.5 351.2L122.6 351.7L123.6 352.2L124.6 352.6L125.4 353.2L126.2 353.8L126.9 354.3L127.1 355.3L127.4 356.2L127 356.8L126.6 357.5L125.8 357.9L125 357.9L124.2 357.9L123.3 357.6L122.4 357.3Z" fill="url(#hatch)" stroke="#c4c4c4" stroke-width="0.5"/>
<path d="M118.3 386.3L117.4 385.9L116.4 385.5L115.6 385.1L114.7 384.8L113.7 383.9L112.6 383L111.9 382.8L111.2 382.6L110.7 381.8L110.1 381L109.5 380L108.8 379L108.3 377.9L107.8 376.9L107.3 375.7L106.8 374.4L107.3 373.8L107.8 373.2L107.6 372.3L107.5 371.4L107.6 370.7L107.8 370L106.7 369.3L106.6 368.4L106.5 367.6L106.1 366.3L105.7 365.1L105.6 364L105.4 363L105.1 362L104.7 361.1L104.9 359.9L105.1 358.7L105.3 357.6L105.5 356.5L105.5 355.5L105.5 354.5L105.3 353.5L105.1 352.6L104.8 351.7L104.8 350.7L104.7 349.8L104.7 348.8L104.7 347.8L104.8 346.7L104.8 345.6L104.9 344.6L104.8 343.6L104.8 342.7L104.7 341.7L104.7 340.8L104.7 339.9L104.7 338.9L104.6 338L104.5 337L104.5 336.1L104.3 335.2L104.1 334.4L104 334.4L104.5 333.8L104.9 333.3L105.3 334.3L105.6 335.2L106.2 336.1L106.6 337.4L107.1 338.6L107.8 339.7L108.5 340.8L108.2 341.8L107.8 342.9L107.8 344.2L107.7 345.4L107.7 346.7L107.2 347.8L106.7 348.8L106.7 350.1L106.7 351.4L106.8 352.6L106.8 353.9L106.9 355.2L107.4 356.3L108 357.3L107.9 358.4L107.9 359.4L107.9 360.4L108 361.3L108 362.3L107.9 363.3L107.8 364.4L108.1 365.5L108.4 366.7L108.8 367.9L109.1 368.8L109.5 369.7L109.8 370.7L110.2 371.6L110.6 372.5L111 373.5L110.9 374.5L110.9 375.5L110.6 376.6L110.3 377.6L111 378.6L111.7 379.7L112.3 380.3L112.9 381L113.6 381.4L114.2 381.7L115.1 381.8L116 381.9L117 382L117.6 382.5L118.1 383.5L118.5 384.6L119 385.6L119.9 385.7L120.7 385.9L120.9 385.9L120.4 386.2L119.9 386.4L120.9 386.9L120 386.7L119.2 386.5L118.3 386.3Z" fill="#ffffd9" stroke="#6f6f6f" stroke-opacity="0.75" stroke-width="0.35"/>
<path d="M128.1 307.1L128.2 307.8L128.2 308.5L127.4 308.9L128.2 309.1L129.1 309.3L130 309.5L130.9 309.5L131.9 309.5L132.7 309.9L133.5 310.2L134.4 310.6L135 311.3L135.6 311.9L136.5 312.1L137.3 312.3L138.1 312.5L139.4 312.5L140.6 312.5L141.6 313.1L142.5 313.7L143.3 314.5L144.2 315.3L145.2 315.6L146.3 315.9L146.6 316.9L146.9 318L147.2 319.1L147.1 320.2L146.9 321.2L146.3 321.9L145.8 322.6L145.2 323.4L144.7 324.2L144.3 325L143.8 325.8L143.1 326.7L142.4 327.6L142.4 328.6L142.4 329.7L142.4 330.7L142.4 331.7L142.3 332.6L142.3 333.5L142.1 334.8L141.8 336.1L141.2 337.2L140.8 338.4L140.4 339.5L139.9 340.2L139.3 340.9L138.6 341L137.9 341L137 341.3L136.1 341.6L135.1 342L134.1 342.5L133.2 343.3L132.4 344.2L132 344.9L131.7 345.7L131.9 346.9L132.1 348.1L131.5 349L130.8 350L130.5 350.8L130.2 351.6L129.9 352.4L129.1 353.3L128.3 354.2L127.8 355.2L127.4 356.2L127.1 355.3L126.9 354.3L126.2 353.8L125.4 353.2L124.6 352.6L123.6 352.2L122.6 351.7L121.5 351.2L122.1 350.3L122.7 349.3L123.3 348.4L124 347.7L124.7 347L125.5 346.3L124.9 345.5L124.3 344.7L124.4 343.7L124.5 342.6L123.8 342.5L123.1 342.5L122.7 341.3L122.4 340.1L121.6 340L120.7 339.9L119.9 339.8L119.7 338.7L119.6 337.6L119.4 336.5L119.6 335.4L119.8 334.3L119.2 333.6L118.6 333L118.6 332.3L118.6 331.6L117.7 331L116.9 330.4L116 329.9L115.8 328.9L115.6 328L114.7 327.8L113.8 327.6L112.9 327.1L112 326.7L111.2 326.2L110.3 325.5L109.5 324.8L109.4 323.7L109.4 322.6L108.5 322.4L107.4 323L106.4 323.6L105.4 324.2L104.7 324.1L104.1 324L103.5 324L102.9 324.1L101.8 323.4L100.8 322.6L99.8 321.8L99.3 320.8L98.9 319.8L98.5 318.8L98.9 317.8L99.3 316.8L99.6 315.9L100.5 315.5L101.5 315.1L102.4 314.8L103.3 314.4L103.4 313.3L103.6 312.2L103.7 311.2L103.9 310.1L103.6 309.2L103.1 308.8L103.1 307.7L103.6 307.7L103.9 307.1L103.3 306.1L104.5 306.3L105.6 306.5L106.7 306.7L106.8 306.9L107.1 306.8L107.9 307.1L108.8 307.4L109.4 306.9L110.1 306.4L110.4 305.7L110.7 305L110.4 303.8L110.1 302.7L111.1 302.8L112.2 302.8L113.1 302.3L114 301.7L114.9 301.1L115.3 302L115.8 302.8L115.8 304L115.9 305.2L116.4 306L116.9 306.7L117.5 306.5L118.1 306.4L119 306.2L119.8 306L120.6 305.8L121.3 305.4L121.9 305L122.5 305.2L123.1 305.4L123.8 305.4L124.5 305.4L125.1 304.5L125.6 303.5L126.1 302.6L126.8 303L127.1 304.3L127.5 305.7L127.8 306.4L128.1 307.1Z" fill="#ffffd9" stroke="#6f6f6f" stroke-opacity="0.75" stroke-width="0.35"/>
<path d="M121.7 357.4L121.7 357.5L122.1 357.7L122.4 357.9L123.3 358.6L123.4 359.7L124.2 360L124 361.2L123.8 362.4L123 362.8L122.2 363.2L121.3 363.4L120.4 363.5L119.4 363.7L118.6 364.1L118.9 365L119.3 365.9L118.4 366.3L117.5 366.6L116.8 366.4L116 366.2L116.5 367L116.9 367.9L117.6 368.3L118.4 368.7L117.5 369.1L117.2 370.1L117.2 370.8L117.3 371.5L116.6 371.8L116 372.1L115.7 372.8L115.5 373.5L116.5 374.2L117.6 375L117.4 375.9L117.1 376.8L116.8 377.6L116.6 378.4L116.5 379.2L116.5 380.1L116.5 381L117.1 381.6L117.7 382.1L118.2 383L118.9 383.7L119.7 384.4L120.6 384.7L121.5 385L122.4 385.3L121.8 385.5L121.2 385.7L120.9 385.9L120.7 385.9L119.9 385.7L119 385.6L118.5 384.6L118.1 383.5L117.6 382.5L117 382L116 381.9L115.1 381.8L114.2 381.7L113.6 381.4L112.9 381L112.3 380.3L111.7 379.7L111 378.6L110.3 377.6L110.6 376.6L110.9 375.5L110.9 374.5L111 373.5L110.6 372.5L110.2 371.6L109.8 370.7L109.5 369.7L109.1 368.8L108.8 367.9L108.4 366.7L108.1 365.5L107.8 364.4L107.9 363.3L108 362.3L108 361.3L107.9 360.4L107.9 359.4L107.9 358.4L108 357.3L107.4 356.3L106.9 355.2L106.8 353.9L106.8 352.6L106.7 351.4L106.7 350.1L106.7 348.8L107.2 347.8L107.7 346.7L107.7 345.4L107.8 344.2L107.8 342.9L108.2 341.8L108.5 340.8L109 340.1L109.5 339.3L110.3 339.6L111.1 339.8L112.1 340.8L113.1 340.3L114.1 339.9L114.9 340.5L115.8 341L116.6 341.6L117.5 342.2L118.1 342.3L118.7 342.5L119.7 343.4L120.6 344.4L120.2 345.3L120 346.2L119.8 347.1L120.9 347.2L122.1 347.2L123.3 347.3L123.8 346.8L124.2 346.3L124.3 345.5L124.3 344.7L124.9 345.5L125.5 346.3L124.7 347L124 347.7L123.3 348.4L122.7 349.3L122.1 350.3L121.5 351.2L121.5 352.3L121.4 353.4L121.4 354.5L121.4 355.5L121.5 356.5L121.5 357.3L121.7 357.4Z" fill="url(#hatch)" stroke="#c4c4c4" stroke-width="0.5"/>
<path d="M174.3 219.8L173.4 220.1L172.5 220.3L171.7 220.1L170.9 220L170.2 219.8L169.5 219.6L168.9 219.2L168.4 218.8L167.8 218.5L168.6 218.1L169.4 217.7L168.5 217.6L167.7 217.6L168.5 217.1L169.3 216.6L170 217.1L170.8 217.6L171.5 217.4L172.3 217.2L173 217L173.7 216.8L174.4 216.8L175.2 216.7L175.9 216.6L176.6 216.5L177 217.1L177.3 217.6L177.7 218.2L177 218.6L176.4 219.1L175.7 219.3L175 219.6L174.3 219.8Z" fill="url(#hatch)" stroke="#c4c4c4" stroke-width="0.5"/>
<path d="M183.3 230.8L183.3 230.9L183 231.2L182.8 231.3L182.4 231.7L182.1 232L182.6 232.4L183.2 232.1L183.6 232.3L184.1 232.5L184.2 232.8L183.9 233.6L184.1 234.3L184.2 235L183.7 235.1L183.1 235.2L182.3 235.5L181.5 235.9L180.8 235.9L180.1 236L179.5 235.2L180.1 234.8L180.7 234.5L180.2 233.4L180.1 232.3L180.8 232.3L181.6 232.2L181.7 231.3L182.4 231L183 230.7L183.3 230.8Z" fill="#ffffd9" stroke="#6f6f6f" stroke-opacity="0.75" stroke-width="0.35"/>
<path d="M180.4 254.3L179.6 253.6L180 252.8L180.4 251.9L180.5 251.2L180.6 250.5L180.5 249.3L181.4 249.1L182.4 249.3L183.2 249.3L183.5 249.7L182.8 250.5L182.7 251.6L182.5 252.4L181.9 252.6L182.3 253.3L182.5 254.5L181.9 254.7L182 255.9L181.3 256.2L180.2 256.2L180.3 255.2L180.4 254.3Z" fill="#ffffd9" stroke="#6f6f6f" stroke-opacity="0.75" stroke-width="0.35"/>
<path d="M194.1 252.9L193.3 252.5L194.3 252L194.6 252.4L194.1 252.9ZM190.3 252.6L190.8 253.6L190 254.3L189.7 255.3L189.2 255.7L188.7 256.2L188.1 256.6L187.3 256.6L186.5 256.6L185.3 256.6L184.9 257L184.4 257.4L184 257.6L183.2 256.9L182.4 255.9L182 255.9L181.9 254.7L182.5 254.5L182.3 253.3L181.9 252.6L182.5 252.4L182.7 251.6L182.8 250.5L183.5 249.7L183.2 249.3L182.4 249.3L181.4 249.1L180.5 249.3L180.3 248.6L180.1 247.9L180.7 247.3L181.3 246.7L182 246.8L182.7 246.9L183.4 246.9L184 246.9L184.8 246.9L185.6 247L186.3 247L187.1 247.1L187.8 247.1L188.6 247.2L189 247.7L189.8 247.9L190.6 248.1L191.4 247.9L192.2 248.3L192.9 248.6L193.5 248.5L194.1 248.5L194.2 249.3L193.7 249.6L193.1 250L192.4 250.2L191.6 250.5L190.9 251.6L190.3 252.6Z" fill="#ffffd9" stroke="#6f6f6f" stroke-opacity="0.75" stroke-width="0.35"/>
<path d="M200.8 230.6L201.5 230.5L201.9 231.1L201 231.3L200.8 230.6ZM202 230.3L202.5 230.1L203 229.8L203.7 230.3L203.4 231L202.7 231.3L202.2 230.9L202 230.3ZM201.4 228.3L201.2 229.3L201.8 229.5L201.2 230.2L200.7 230.6L200.8 231.4L200.9 231.5L200.5 231.5L199.6 231.4L199 230.5L199 229.7L199 229L199.7 228.7L200.3 228.5L200.9 228.1L201.4 227.7L201.4 228.3Z" fill="#edf8b1" stroke="#6f6f6f" stroke-opacity="0.75" stroke-width="0.35"/>
<path d="M195.6 234.2L196.1 233.4L197 233.4L197.9 233.4L198.2 233.1L198.2 233.7L198.1 234.4L197.7 234.6L198.1 235L197.9 235.4L197 235.6L197.2 236.4L197.1 236.9L196.9 237L196.7 236.9L196.6 236.4L196 236L195.3 236.2L194.8 236.4L194.3 236.2L194.2 236.1L194.3 236.1L194.9 235.4L195.2 234.8L195.6 234.2Z" fill="#edf8b1" stroke="#6f6f6f" stroke-opacity="0.75" stroke-width="0.35"/>
<path d="M200.5 248.3L201.3 247.7L201.4 249L201.2 250L200.4 250L200.5 249.1L200.5 248.3ZM194.3 247.4L194.1 248.4L194.1 248.5L193.5 248.5L192.9 248.6L192.2 248.3L191.4 247.9L190.6 248.1L189.8 247.9L189 247.7L188.6 247.2L188.8 246.4L189 245.6L189.1 244.6L189.3 243.5L188.7 242.8L188.2 242L187.4 241.7L186.6 241.3L185.8 240.9L185.3 240.2L186.3 240L187.3 239.7L188.1 239.7L188.8 239.8L188.7 239.1L188.5 238.4L189.4 238.9L190.1 238.8L190.8 238.7L191.6 238.2L192.3 237.8L192.3 236.8L193 236.6L193.3 236.5L193.7 237.1L194.2 237.3L195.1 237.6L195.2 238.1L195.9 237.8L195.9 238.3L196.6 238.7L196.9 238.6L197.6 238.8L198 239.1L198.8 239.3L199.6 239.4L199.1 240L199.1 240.6L199 241.3L198.3 241.6L197.8 242.3L197.4 242.7L197.4 243.3L198.2 243.5L198.4 243.7L198.1 244.8L198.5 245.4L199 246.2L199.1 246.6L199.2 246.7L198.5 247L198 247.3L197.4 247.6L196.7 247.4L196 247.2L195.2 247.3L194.3 247.4Z" fill="#ffffd9" stroke="#6f6f6f" stroke-opacity="0.75" stroke-width="0.35"/>
<path d="M194.3 236.2L194.8 236.4L195.3 236.2L196 236L196.6 236.4L196.7 236.9L196.9 237L197.1 237L197.5 237.6L197.2 237.9L196.8 238.3L196.9 238.6L196.5 238.7L195.9 238.3L195.9 237.8L195.2 238.1L195.1 237.6L194.2 237.3L193.7 237.1L193.3 236.5L193 236.6L193.3 236.5L194.1 236.2L194.3 236.2Z" fill="#edf8b1" stroke="#6f6f6f" stroke-opacity="0.75" stroke-width="0.35"/>
<path d="M197.7 238.4L197.6 238.8L196.9 238.6L196.8 238.3L197.2 237.9L197.3 237.9L197.7 238.4Z" fill="#edf8b1" stroke="#6f6f6f" stroke-opacity="0.75" stroke-width="0.35"/>
<path d="M198.3 241.6L199 241.3L200.1 241.3L200.6 241.4L201.2 241.5L201.1 242L201.6 242.3L202.2 242.3L202.1 242.9L201.8 243.3L201.2 243.5L200.6 243.8L199.9 243.1L199.4 243.6L198.4 243.7L198.2 243.5L197.4 243.3L197.4 242.7L197.8 242.3L198.3 241.6Z" fill="#edf8b1" stroke="#6f6f6f" stroke-opacity="0.75" stroke-width="0.35"/>
<path d="M199.6 231.4L200.2 231.5L200.9 231.5L201.1 231.9L201.6 232.3L202.2 232.6L202.8 232.4L203.5 232.2L204.1 232L204.7 231.8L205.6 232.7L205.5 233.7L206.2 234.5L206.2 235.6L206.7 236.5L206.6 236.9L206 236.7L205.2 237.1L204.4 237.5L203.7 237.6L204.2 238.3L204.8 239L205.7 239.7L205.4 240L204.7 240.5L204.9 241.5L204 241.3L203.4 241.5L202.7 241.6L202.2 241.5L201.2 241.5L200.6 241.4L200.1 241.3L199 241.3L199.1 240.6L199.1 240L199.6 239.4L198.8 239.3L198 239.1L197.6 238.8L197.7 238.4L197.3 237.9L197.2 237.9L197.5 237.6L197.1 237L196.9 237L197.1 236.9L197.2 236.4L197 235.6L197.9 235.4L198.1 235L197.7 234.6L198.1 234.4L198.2 233.7L198.2 233.1L198.9 233.1L199.6 233.1L199.9 232.6L199.6 231.4Z" fill="#ffffd9" stroke="#6f6f6f" stroke-opacity="0.75" stroke-width="0.35"/>
<path d="M204 241.3L204.9 241.5L204.7 240.5L205.4 240L205.7 239.7L206.7 240L207 239.4L207.5 239.6L208.1 239.7L209.1 240L209.4 240.8L208.8 241.5L208.4 242.3L207.8 242.5L207.2 242.6L206.5 242.8L205.8 242.9L205.1 242.7L204.3 242.6L203.3 242.4L202.2 242.3L201.6 242.3L201.1 242L201.2 241.5L202.2 241.5L202.7 241.6L203.4 241.5L204 241.3Z" fill="#ffffd9" stroke="#6f6f6f" stroke-opacity="0.75" stroke-width="0.35"/>
<path d="M207.3 256.2L206.2 255.7L205.2 255.3L205 254.9L205.7 254.7L206.3 254.5L207.1 254.4L207.9 254.4L208.7 254.3L208.5 255.2L208.2 256L208.3 256.7L207.3 256.2ZM201.8 252.6L201 253.5L200.1 253.3L200.2 252.6L200.3 251.9L200 250.7L200.6 250.4L201.1 250.2L201.8 250.7L201.8 251.6L201.8 252.6ZM208.7 249.3L209.4 249.9L210.1 250.5L211 251.2L211.9 251.8L211.2 251.6L210.5 251.4L209.7 252.1L210.1 252.8L210.4 253.5L209.9 254.1L209.3 254.7L208.7 254.3L208.8 253.3L208.8 252.2L208.2 251.7L207.6 251.2L206.9 250.8L206.2 250.5L205.5 250.1L204.5 249.4L203.8 248.9L203.1 248.4L202.5 247.3L202.1 246.5L201.4 246.1L200.7 245.8L200 246.2L199.3 246.6L199.2 246.7L199.1 246.6L199 246.2L198.5 245.4L198.1 244.8L198.4 243.7L199.4 243.6L199.9 243.1L200.6 243.8L201.2 243.5L201.8 243.3L202.1 242.9L202.2 242.3L203.3 242.4L204.3 242.6L205.1 242.7L205.8 242.9L205.7 243.5L205.9 244.1L205.2 244.2L204.5 244.4L204.4 245.6L205.2 246.3L206 247L206.5 247.9L207.1 248.7L207.9 249L208.7 249.3Z" fill="#ffffd9" stroke="#6f6f6f" stroke-opacity="0.75" stroke-width="0.35"/>
<path d="M185.6 231.3L184.7 230.9L184.7 230.1L184.7 229.3L184.8 228L185.2 227.2L185.5 226.5L186.6 226.5L187.6 226.5L187.2 227.7L188 227.8L188.8 228L188.3 228.7L187.9 229.5L188.5 230.2L189 230.6L189.6 231.3L190.1 231.9L190.4 232.5L190.7 233.1L190.9 234L191.7 234.2L192.4 234.5L192 235L191.6 235.6L192.1 236.4L191.2 236.6L190.4 236.8L189.5 236.9L188.8 237L188.1 237L187.4 237.1L186.8 237.3L186.3 237.6L185.3 237.8L184.4 238L185.1 237.2L185.6 236.8L186.1 236.4L186.6 236.3L187.2 236.1L186.3 235.9L185.4 235.6L185.8 235L186.2 234.5L185.7 233.6L186.5 233.6L187.3 233.6L187.4 232.9L187.1 232.3L186.9 231.4L186.1 231.5L185.3 231.5L185.6 231.3ZM183.9 233.6L184.2 232.8L184.1 232.5L183.6 232.3L183.2 232.1L182.6 232.4L182.1 232L182.4 231.7L182.8 231.3L183 231.2L183.3 230.9L183.3 230.8L183 230.7L183.7 230.9L184.3 231L184.8 231.8L184.3 232.6L183.9 233.6Z" fill="#edf8b1" stroke="#6f6f6f" stroke-opacity="0.75" stroke-width="0.35"/>
<path d="M200.9 226L200.2 226.1L199.5 226.6L198.7 227.2L198 227.2L197.3 227.2L196.8 226.7L196.3 226.2L195.8 225.3L195.6 224.2L195.5 223.5L195.5 222.8L195.9 221.7L196.4 221.5L196.9 221.3L197.4 221L197.9 220.7L198.4 220.5L199 220.2L199.6 219.9L200.2 219.6L200.6 219.1L201.1 218.6L201.6 217.9L202.2 217.2L202.7 216.5L203.1 215.9L203.7 215.2L204.3 214.5L204.7 214.1L205.2 213.7L205.7 213.4L206.3 213L206.8 212.7L207.4 212.5L208 212.3L208.5 212.1L209.3 212L210 211.8L210.7 211.7L211.4 211.5L212.1 211.3L212.8 211.1L213.5 211L214.2 211.1L215 211.2L215.7 211.4L216.5 211.6L217.1 211.7L217.7 211.8L218.3 211.9L218 212.2L217.6 212.5L218.4 212.5L218.5 212.5L218.5 212.7L217.9 212.9L217.3 213.1L216.8 213.4L216.8 212.7L216 212.4L215.4 212.3L214.8 212.3L214.4 212.6L213.9 212.9L213.3 213.6L212.9 213.7L212.5 213.9L212 213.9L211.6 213.8L211.1 213.9L210.7 213.9L210.1 213.5L209.6 213.1L209.2 213.4L208.8 214.2L208 214.1L207.1 214L206.5 214.5L206.1 214.9L205.8 215.3L205.4 216L205.1 216.7L204.7 216.8L204.2 217L204.1 217.6L204 218.3L203.5 218.8L203 219.2L202.7 220L202.3 220.8L202.6 221.7L202.6 222.6L202.7 223.4L203 224L202.4 224.8L202.1 226L201.8 226.1L201.8 226L201.1 225.6L201.2 224.8L200.9 226ZM209.9 200.9L210.5 201.2L211.1 201.5L211.7 201.8L211.2 202L210.6 202.2L210 202.3L209.4 202.5L208.7 202.7L208.1 202.8L207.6 203L207 203.1L206.4 203.2L205.9 203.3L205.4 203.7L204.8 204.1L204.3 204.5L203.8 204.9L203 204.6L202.3 204.2L201.5 203.9L200.8 203.5L200.1 203.2L199.4 202.8L199.3 202.2L199.2 201.5L199.8 201.5L200.5 201.4L201.2 201.4L201.9 201.3L202.5 201.3L203.2 201.2L203.9 201.2L204.5 201.1L205.2 201.1L205.9 201.1L206.5 201.1L207.2 201L207.9 201L208.5 201L209.2 201L209.9 200.9Z" fill="#edf8b1" stroke="#6f6f6f" stroke-opacity="0.75" stroke-width="0.35"/>
<path d="M209.9 220.1L209.4 220.3L208.9 220.6L208.4 221L207.9 221.5L207.6 222.5L207.6 223.1L207.6 223.8L208.3 224.1L209 224.4L209.6 225.6L209.1 225.9L208.6 226.1L208.2 226.6L207.6 227L207.5 227.8L207.4 228.6L207.2 229.2L207 229.8L206.4 229.7L205.8 229.7L205.4 230.7L204.7 230.7L204 230.7L203.6 229.8L203.9 229L203.3 228.3L202.8 227.7L202.4 227.2L201.9 226.8L201.8 226L201.8 226.1L202.1 226L202.4 224.8L203 224L202.7 223.4L202.6 222.6L202.6 221.7L202.3 220.8L202.7 220L203 219.2L203.5 218.8L204 218.3L204.1 217.6L204.2 217L204.7 216.8L205.1 216.7L205.4 216L205.8 215.3L206.1 214.9L206.5 214.5L207.1 214L208 214.1L208.8 214.2L209.2 213.4L209.3 213.4L209.7 213.7L210.5 213.9L211.2 214.2L211.8 214.5L212.4 214.8L212.5 215.4L212.6 216.1L213.1 216.7L213.3 217.3L212.5 217.3L211.6 217.3L211.3 217.8L210.9 218.3L210.7 219.2L210.3 219.6L209.9 220.1ZM203.8 230.1L203.7 229.8L203.6 229.8L203.8 230.1Z" fill="#edf8b1" stroke="#6f6f6f" stroke-opacity="0.75" stroke-width="0.35"/>
<path d="M213.5 224.9L212.7 224.5L211.9 224L211.7 223.4L211.6 222.8L211.5 222L211.5 221.3L211.8 220.9L212.1 220.5L212.6 220L213.1 219.6L213.5 219L213.9 218.5L214.7 218.2L214.5 217.7L213.9 217.5L213.4 217.3L213.3 217.3L213.1 216.7L212.6 216.1L212.5 215.4L212.4 214.8L211.8 214.5L211.2 214.2L210.5 213.9L209.7 213.7L209.3 213.4L209.2 213.4L209.6 213.1L210.1 213.5L210.7 213.9L211.1 213.9L211.6 213.8L212 213.9L212.5 213.9L212.9 213.7L213.3 213.6L213.8 213L214.6 213.1L215.4 213.2L216.2 213.3L216.9 213.4L216.6 214.4L217.4 214.7L218.3 215L218 215.7L218.5 216.6L219 217.5L218.9 218.6L219.8 219.3L219.5 220.2L220.3 220.6L221.2 221L220.8 221.6L220.4 222.2L220 222.8L219.5 223.1L219.1 223.4L218.6 223.7L218.2 224L218.2 224.1L217.6 224.1L216.9 224.2L216.2 224.3L215.4 224.5L214.6 224.7L214 224.8L213.5 224.9Z" fill="#ffffd9" stroke="#6f6f6f" stroke-opacity="0.75" stroke-width="0.35"/>
<path d="M214.2 225.7L214.8 225.5L215.5 225.3L216.3 225.3L217.1 225.3L217.9 225.3L218.7 225.3L218.9 225.6L218.4 226.2L218.6 227.3L218.9 227.9L218.3 227.9L217.7 227.9L217.1 227.6L216.6 227.3L216 227.4L215.4 227.5L215.4 227.4L214.9 227L214.4 226.6L214.2 225.7Z" fill="url(#hatch)" stroke="#c4c4c4" stroke-width="0.5"/>
<path d="M213.6 227.6L214.1 228.1L214.5 228.6L215.3 228.6L215.4 227.5L216 227.4L216.6 227.3L217.1 227.6L217.7 227.9L218.3 227.9L218.9 227.9L219.3 228.8L219.7 229.7L218.9 230L218.2 230.3L217.3 230L216.4 229.7L215.7 229.7L215 229.6L214.3 229.5L213.8 229.5L213.3 229.4L212.4 229.8L212.2 228.9L212.7 228.1L213.2 227.9L213.6 227.6Z" fill="url(#hatch)" stroke="#c4c4c4" stroke-width="0.5"/>
<path d="M213.3 229.4L213.8 229.5L214.3 229.5L215 229.6L215.7 229.7L216.4 229.7L217.3 230L218.2 230.3L218.5 230.9L218 231.2L217.6 231.5L217.4 232.2L216.8 232.5L216.3 232.7L215.3 232.7L214.5 232.1L214.2 231.1L213.5 231L212.8 230.9L212.4 229.9L212.4 229.8L213.3 229.4Z" fill="url(#hatch)" stroke="#c4c4c4" stroke-width="0.5"/>
<path d="M212.8 230.9L213.5 231L214.2 231.1L214.5 232.1L213.7 232.1L212.8 232.1L212 232L211.1 232L211.5 231.4L212.1 231.2L212.8 231L212.8 230.9Z" fill="url(#hatch)" stroke="#c4c4c4" stroke-width="0.5"/>
<path d="M210 231.5L210.1 232.1L210.6 232L211.1 232L212 232L212.8 232.1L213.7 232.1L214.5 232.1L215.3 232.7L215.7 233.5L216 234.4L215.4 235L215.9 236L216.6 237.1L216 237.6L215.4 238.4L215.2 239.3L214.6 239.1L214 238.9L213.4 238.9L212.7 238.9L211.8 238.6L211.1 238.7L210.1 238L209.8 237.6L208.9 237.4L208.1 237.5L208.2 237.1L207.3 236.9L206.6 236.9L206.7 236.5L206.2 235.6L206.2 234.5L205.5 233.7L205.6 232.7L206.2 232.5L206.9 232.3L207.6 232L208.4 231.7L209.2 231.6L210 231.5Z" fill="url(#hatch)" stroke="#c4c4c4" stroke-width="0.5"/>
<path d="M206 236.7L206.6 236.9L207.3 236.9L208.2 237.1L208.1 237.5L208.9 237.4L209.8 237.6L210.1 238L211.1 238.7L210.3 239L210 239.4L209.4 239.5L209.1 240L208.1 239.7L207.5 239.6L207 239.4L206.7 240L205.7 239.7L204.8 239L204.2 238.3L203.7 237.6L204.4 237.5L205.2 237.1L206 236.7Z" fill="url(#hatch)" stroke="#c4c4c4" stroke-width="0.5"/>
<path d="M210.3 239L211.1 238.7L211.8 238.6L212.7 238.9L213.4 238.9L214 238.9L214.6 239.1L215.2 239.3L214.9 240.2L214.2 240.1L213.5 240.2L212.9 240.4L212.1 240.5L211.3 241.1L210.7 241.1L210.2 241.1L209.4 240.8L209.1 240L209.4 239.5L210 239.4L210.3 239Z" fill="url(#hatch)" stroke="#c4c4c4" stroke-width="0.5"/>
<path d="M212.1 240.5L212.9 240.4L213.5 240.2L214.2 240.1L214.9 240.2L215.8 240.8L214.9 240.9L214.3 241.5L214.1 242.2L213.9 242.9L213.2 243.3L212.4 243.3L211.5 243.7L210.9 243.7L210.3 243.7L209.7 243.3L208.8 242.7L208.4 242.3L208.8 241.5L209.4 240.8L210.2 241.1L210.7 241.1L211.3 241.1L212.1 240.5Z" fill="url(#hatch)" stroke="#c4c4c4" stroke-width="0.5"/>
<path d="M207.2 242.6L207.8 242.5L208.4 242.3L208.8 242.7L208.1 243.3L207.9 243.8L207.6 244.1L206.9 244.1L205.9 244.3L205.9 244.1L205.7 243.5L205.8 242.9L206.5 242.8L207.2 242.6Z" fill="url(#hatch)" stroke="#c4c4c4" stroke-width="0.5"/>
<path d="M207.7 246.1L207 245.6L206.3 245.1L205.8 244.8L205.9 244.3L206.9 244.1L207.6 244.1L207.9 243.8L208.1 243.3L208.8 242.7L209.7 243.3L210.3 243.7L210.9 243.7L211.5 243.7L211.8 244.2L212.3 244.7L211.9 245.1L211.3 245L210.7 244.8L210.2 244.7L209.6 244.7L208.5 244.7L208.3 245.4L208.8 246.1L209.5 246.6L210.2 247.2L210.5 247.7L211.1 248.1L211.6 248.4L211.6 248.6L211 248.1L210.4 247.7L209.8 247.4L209.1 247L208.4 246.5L207.7 246.1Z" fill="url(#hatch)" stroke="#c4c4c4" stroke-width="0.5"/>
<path d="M212.3 247L212 247.3L211.6 248.4L211.1 248.1L210.5 247.7L210.2 247.2L209.5 246.6L208.8 246.1L208.3 245.4L208.5 244.7L209.6 244.7L210.2 244.7L210.7 244.8L211.3 245L211.9 245.1L212.3 245.9L212.7 246.3L212.3 247Z" fill="url(#hatch)" stroke="#c4c4c4" stroke-width="0.5"/>
<path d="M212 247.3L212.3 247L212.8 247.4L213.6 247.9L213.3 248.3L213 248.3L212.6 248.8L212.7 249.3L212.2 248.9L211.6 248.6L211.6 248.4L212 247.3Z" fill="url(#hatch)" stroke="#c4c4c4" stroke-width="0.5"/>
<path d="M212.8 250L212.7 249.3L212.6 248.8L213 248.3L213.3 248.3L214.1 249.1L214.1 250.1L214.6 250.7L214.7 251.1L214.4 251.8L213.8 252.4L213.7 252.4L212.9 251.5L212.8 250.7L212.8 250Z" fill="url(#hatch)" stroke="#c4c4c4" stroke-width="0.5"/>
<path d="M216.1 248.7L216.9 249.5L216.6 250.3L215.9 250.5L215.2 250.7L214.6 250.7L214.1 250.1L214.1 249.1L214.5 248.8L215.2 248.8L216.1 248.7Z" fill="url(#hatch)" stroke="#c4c4c4" stroke-width="0.5"/>
<path d="M215 247.9L215.2 248.8L214.5 248.8L214.1 249.1L213.3 248.3L213.6 247.9L214.1 247.4L215 247.9Z" fill="url(#hatch)" stroke="#c4c4c4" stroke-width="0.5"/>
<path d="M213.8 244L214.5 244.7L214.7 245.3L215.3 245.3L215.8 245.4L216.1 246.1L215.9 246.6L216.6 247.4L216.2 248.4L216.1 248.7L215.2 248.8L215 247.9L214.1 247.4L213.6 247.9L212.8 247.4L212.3 247L212.7 246.3L212.3 245.9L211.9 245.1L212.3 244.7L211.8 244.2L211.5 243.7L212.4 243.3L213.2 243.3L213.8 244Z" fill="url(#hatch)" stroke="#c4c4c4" stroke-width="0.5"/>
<path d="M219.4 258.4L220.5 258.5L221.5 258.6L220.6 259L219.7 258.8L218.9 258.7L218.3 258.6L218.8 258.5L219.4 258.4ZM216.6 251.9L217.1 252.5L217.5 253.1L217 253.9L217.8 254.2L218.5 254.5L217.9 254.9L217.7 255.9L217.5 256.9L217 257L216 256.4L215.6 255.7L215.2 255L215.7 254.3L214.7 253.6L214.3 253.1L213.9 252.5L213.8 252.4L214.4 251.8L214.7 251.1L214.6 250.7L215.2 250.7L215.9 250.5L216.6 250.3L216.9 250L217.5 249.9L218 249.8L218.8 250L219.5 250.2L220.1 249.9L220.6 249.5L221 249.7L220.6 250.5L220.4 250.8L219.6 250.7L218.7 250.7L217.8 250.9L216.9 251.1L216.6 251.9Z" fill="#ffffd9" stroke="#6f6f6f" stroke-opacity="0.75" stroke-width="0.35"/>
<path d="M222.5 249.2L221.6 249.1L220.9 249.3L220.6 249.5L220.1 249.9L219.5 250.2L218.8 250L218 249.8L217.5 249.9L216.9 250L216.8 249.8L216.9 249.5L216.1 248.7L216.2 248.4L216.6 247.4L215.9 246.6L216.1 246.1L217.1 246.5L218 246.6L218.8 246.7L219.4 246.6L219.9 246.5L220.5 246.3L221 246.2L221.8 246.4L222.8 246.7L222.9 246.7L222.6 247.4L222.3 248L222.5 249.2Z" fill="url(#hatch)" stroke="#c4c4c4" stroke-width="0.5"/>
<path d="M222.8 246.7L221.8 246.4L221 246.2L220.5 246.3L219.9 246.5L219.4 246.6L218.8 246.7L218 246.6L217.1 246.5L216.1 246.1L215.8 245.4L215.3 245.3L214.7 245.3L214.5 244.7L213.8 244L213.2 243.3L213.9 242.9L214.1 242.2L214.3 241.5L214.9 240.9L215.8 240.8L216.4 240.9L217.5 240.9L218.3 241L219.1 240.7L219.8 240.4L220.7 241.2L221.2 241.7L221.7 242.2L222 243.5L222.1 244.3L223 244.4L223.8 244.7L223.4 245.3L222.9 245.9L222.9 246.7L222.8 246.7Z" fill="url(#hatch)" stroke="#c4c4c4" stroke-width="0.5"/>
<path d="M222.7 240.9L223 241.6L223.4 242.3L224 243L223.5 243.1L222.7 242.9L222.8 243.6L222.1 244.3L222 243.5L221.7 242.2L221.2 241.7L220.7 241.2L219.8 240.4L220.7 240.1L221.7 240.5L222.7 240.9Z" fill="url(#hatch)" stroke="#c4c4c4" stroke-width="0.5"/>
<path d="M217.6 231.5L218 231.2L218.5 230.9L218.2 230.3L218.9 230L219.7 229.7L220.7 229.9L221.7 230.1L222.2 230.3L222.8 230.5L222.8 231.5L223.4 232.1L224.1 232.6L224.6 233L225.2 233.4L224.7 233.8L224.2 234.4L224.6 235.2L224 235.7L223.4 236.3L222.7 236.2L222 236.1L221.3 236L220.6 235.9L219.9 235.7L219.1 235.6L218.4 235.4L217.8 235.4L217.1 235.4L216.5 235.7L215.9 236L215.4 235L216 234.4L215.7 233.5L215.3 232.7L216.3 232.7L216.8 232.5L217.4 232.2L217.6 231.5Z" fill="url(#hatch)" stroke="#c4c4c4" stroke-width="0.5"/>
<path d="M228.2 245.6L227.6 245L226.9 244.4L227.4 244L227.9 243.5L227 243.2L226.1 242.9L225.4 242.9L224.8 242.9L224.4 243.3L224 243.8L223.8 244.7L223 244.4L222.1 244.3L222.8 243.6L222.7 242.9L223.5 243.1L224 243L223.4 242.3L223 241.6L222.7 240.9L221.7 240.5L220.7 240.1L219.8 240.4L219.1 240.7L218.3 241L217.5 240.9L216.4 240.9L215.8 240.8L214.9 240.2L215.2 239.3L215.4 238.4L216 237.6L216.6 237.1L215.9 236L216.5 235.7L217.1 235.4L217.8 235.4L218.4 235.4L219.1 235.6L219.9 235.7L220.6 235.9L221.3 236L222 236.1L222.7 236.2L223.4 236.3L224 235.7L224.6 235.2L225.3 235.1L225.9 234.9L226.6 234.8L227.5 235.7L228.1 236.2L228.7 236.7L229.4 237.1L230.1 237.5L230.9 237.8L231.8 238L232.6 238.2L233.3 238.4L234.1 238.6L234.4 239.1L234.1 240L234.4 240.9L233.6 241.1L232.8 241.3L232.8 242L232.7 242.1L232.1 242.2L231.6 242.3L230.8 242.6L230 243L229.9 243.6L229.7 244.2L230.5 244.3L231.4 244.4L231.7 244.4L231.7 244.7L231.5 244.7L230.9 244.7L230.2 244.8L229.2 245.2L228.2 245.6Z" fill="url(#hatch)" stroke="#c4c4c4" stroke-width="0.5"/>
<path d="M229.4 258.5L230.3 258.2L231.2 258L230.7 259L230.1 259.3L229.5 259.5L228.7 259L229.4 258.5Z" fill="url(#hatch)" stroke="#c4c4c4" stroke-width="0.5"/>
<path d="M232.3 256.7L231.2 256.4L230.5 256.9L229.9 257.3L229.3 257.4L228.7 257.4L227.5 257L226.4 256.6L225.8 256.9L225.3 257.3L224.4 256.9L223.6 256.6L222.6 256L221.9 255.2L221.1 254.3L221.3 253.5L221.4 252.8L220.8 251.9L221.2 251.4L220.4 250.8L220.6 250.5L221 249.7L220.9 249.3L221.6 249.1L222.5 249.2L222.5 249.3L223.2 249.8L223.8 250.2L224.6 250.3L225.3 250.3L226.1 250.4L226.8 250L227.5 249.6L228.2 249.3L229 249.2L229.7 249.2L230.5 249.1L231.1 249.3L231.7 249.5L232.5 249.9L233.3 250.2L234.2 250.6L234.9 250.6L235.7 250.5L236.4 250.5L237.2 250.2L238 249.8L238 249.7L238.1 249.7L238.1 249.8L239.2 249.9L239.8 250.1L240.4 250.4L240.7 251.1L240.9 251.8L241.6 252.1L242.3 252.4L241.9 252.8L241.8 253.5L241.8 254.3L242.1 254.9L242.9 255.9L241.9 255.7L241.2 255.7L240.5 255.7L240 256L239.3 256L238.5 256L237.9 256.2L237.4 256.4L236.6 256.4L235.8 256.4L235 256.4L234.3 256.4L233.5 256.4L233.5 257.3L232.8 257.7L232.8 257.6L233 256.7L232.3 256.7ZM224.2 250.9L223.8 250.5L223 250.6L222.1 250.6L221.3 251.4L222 251.4L222.8 251.4L223.5 251.2L224.2 250.9Z" fill="url(#hatch)" stroke="#c4c4c4" stroke-width="0.5"/>
<path d="M237.6 247.4L238.7 247.4L239.5 247.8L240.3 248.1L241 248.2L241.7 248.3L242.7 248.8L243.6 249.3L243.9 249.4L243.7 250.2L242.9 250.2L242.1 250.1L241.2 250.2L240.4 250.4L239.8 250.1L239.2 249.9L238.1 249.8L238.1 249.7L238 249.7L238 249.8L237.9 249L237.9 248.3L236.8 247.7L235.8 247.2L236.7 247.3L237.6 247.4Z" fill="url(#hatch)" stroke="#c4c4c4" stroke-width="0.5"/>
<path d="M243.4 251.5L243.1 252.1L244.3 252.6L244.4 253.5L244 253.5L243.6 253.1L242.9 252.7L242.3 252.4L241.6 252.1L240.9 251.8L240.7 251.1L240.4 250.4L241.2 250.2L242.1 250.1L242.8 250.7L243.4 251.5Z" fill="url(#hatch)" stroke="#c4c4c4" stroke-width="0.5"/>
<path d="M242.3 252.4L242.9 252.7L243.6 253.1L244 253.5L243.3 253.5L242.3 252.8L242.3 252.4ZM247.4 254.2L246.2 253.6L245.6 253.3L244.9 252.9L244.4 253.5L244.3 252.6L243.1 252.1L243.4 251.5L242.8 250.7L242.1 250.1L242.9 250.2L243.7 250.2L243.9 249.4L244.6 249.8L245.3 250.2L246 249.4L246.8 250.5L247.6 251.6L247.4 252.8L247.3 254L247.4 254.2Z" fill="url(#hatch)" stroke="#c4c4c4" stroke-width="0.5"/>
<path d="M227.6 263.8L228.4 264.1L229.2 264.4L230.3 264.3L231.5 264.2L232 265.5L232.5 266.8L232.3 268L232 269.2L231.5 268.7L231 268.2L230.3 267.2L229.7 266.2L230.2 267.3L230.6 268.5L231.1 269.6L231.6 270.5L232 271.5L232.5 272.4L233.2 273.6L234 274.7L234.6 275.6L235.1 276.5L235.7 277.4L234.5 277.4L233.3 277.4L232.1 277.4L230.9 277.4L229.7 277.4L228.5 277.4L227.2 277.4L226 277.4L224.8 277.4L223.6 277.4L222.4 277.4L221.2 277.4L221.1 276.1L221 274.9L221 273.6L220.9 272.3L220.8 271.1L220.7 269.8L220.7 268.6L220.6 267.3L220.5 266.1L220.5 264.9L220.6 263.8L221.7 264L222.9 264.2L224 264.3L225.2 264.3L226.3 264.4L227 264.1L227.6 263.8Z" fill="url(#hatch)" stroke="#c4c4c4" stroke-width="0.5"/>
<path d="M244.4 242.7L243.9 241.9L243.4 241.1L242.8 240.6L242.1 240.2L241.4 239.4L241.6 238.5L241.8 237.6L242.5 237.4L243.2 237.2L243.8 236.8L244.4 236.3L245.1 235.9L246 235.9L246.9 236L247.9 236.3L248.9 236.5L249.9 236.8L250.6 236.7L251.2 236.6L251.9 236.5L252.7 236.5L253.5 236.5L254.2 236.9L254.9 237.3L255.6 237.1L256.4 236.9L256.4 236.3L256.3 235.6L255.5 235.4L254.7 235.3L255 234.6L255.3 234L254.7 232.7L255.3 232.6L256.1 232.4L257 232.2L257.8 232L258.7 231.8L259.4 231.7L260.1 231.5L260.8 231.4L261.6 231.3L262.5 231.1L263.4 231L264.3 230.9L265.3 231.4L266.4 232L267.4 232.6L267.9 232.6L268.6 232.9L269.3 233.3L269.9 233.1L270.5 232.8L271.1 232.6L271.9 233.3L272.8 234L273.8 234.7L274.8 235.4L275.8 236.1L276.8 236.8L277.6 236.8L278.4 236.7L279.2 236.7L280 236.7L281 237.2L281.9 237.8L282.9 238.3L283.9 238.3L284.9 238.3L285.9 239.3L285.3 239.7L284.8 240.1L285 241.1L285.2 242.2L284.2 242.1L283.3 242L282.3 241.9L282.5 243.1L282.7 244.2L282.1 244.6L281.5 245L280.9 245.4L281.3 246.5L281.6 247.7L281.9 248.8L281.1 248.4L280.2 248L279.4 247.9L278.5 247.9L277.6 247.8L276.7 247.7L275.8 247.6L274.9 247.4L274.5 247.9L274.1 248.4L273.2 248.5L272.3 248.6L271.4 248.7L271.3 248.7L270.7 249.1L270.1 249.5L269.5 250L269.2 250.9L268.4 250.4L267.4 249.8L266.5 249.3L266 248.6L265.4 247.9L264.7 247.3L264 246.7L263.1 246.8L262.3 246.9L261.5 247L260.7 247L259.9 246.4L259.2 245.8L258.5 245.4L257.7 245L257.8 244.9L257.5 244.2L257.2 243.5L256.2 243.2L255.3 242.9L255.7 244.2L254.9 244.4L254.1 244.7L253.3 244.9L253.7 246.2L254 247.5L254.3 248.8L254.7 250.1L253.8 249.6L252.9 249.2L252 248.7L251.2 249.3L251 249.1L250.2 248L249.5 247.3L248.8 246.5L248.2 245.8L248 244.7L249 244.6L250.1 244.5L249.7 243.5L249.3 242.4L248.4 242.3L247.6 242.2L246.7 242.4L245.8 242.6L245 242.9L244.9 242.9L244.4 242.7Z" fill="url(#hatch)" stroke="#c4c4c4" stroke-width="0.5"/>
<path d="M252.4 250.1L251.8 249.7L251.2 249.3L252 248.7L252.9 249.2L253.8 249.6L254.7 250.1L255.8 250.1L256.3 249.5L256.7 248.8L257.1 248.1L258 248.5L258.9 248.8L259.7 249.5L260.4 250.2L261.3 251.1L262.2 251.9L263.1 252.3L263.9 252.6L264.8 253.2L265.7 253.8L266.7 254.3L267.4 255L268.2 255.7L267.1 255.5L266.6 256.3L266.2 257.1L265.4 257.4L264.5 257.7L263.9 258.6L263 257.6L262.1 256.7L261.1 256.6L260.2 256L259.4 255.5L258.3 255L257.2 254.5L256.1 254.5L255.1 254.6L254.4 255.2L253.6 255.7L253.5 255.7L253.2 254.5L252.9 253.3L252.3 252.6L251.6 251.9L252 251L252.4 250.1Z" fill="url(#hatch)" stroke="#c4c4c4" stroke-width="0.5"/>
<path d="M257.7 245L258.5 245.4L259.2 245.8L259.9 246.4L260.7 247L261.5 247L262.3 246.9L263.1 246.8L264 246.7L264.7 247.3L265.4 247.9L266 248.6L266.5 249.3L267.4 249.8L268.4 250.4L269.2 250.9L269.5 250L270.1 249.5L270.7 249.1L271.3 248.7L271.9 249.3L272.5 249.8L273.4 250.2L274.3 250.7L273.9 251.2L273.4 251.6L272.6 251.6L271.7 251.6L270.9 251.7L270 251.8L269.8 252.5L268.7 252.5L269.6 253.5L269.7 254.7L269.7 255.9L268.9 255.8L268.2 255.7L267.4 255L266.7 254.3L265.7 253.8L264.8 253.2L263.9 252.6L263.1 252.3L262.2 251.9L261.3 251.1L260.4 250.2L259.7 249.5L258.9 248.8L258 248.5L257.1 248.1L256.7 248.8L256.3 249.5L255.8 250.1L254.7 250.1L254.3 248.8L254 247.5L253.7 246.2L253.3 244.9L254.1 244.7L254.9 244.4L255.7 244.2L255.9 244.9L256.5 245.6L257.1 246.3L257.4 245.7L257.7 245Z" fill="url(#hatch)" stroke="#c4c4c4" stroke-width="0.5"/>
<path d="M276.7 247.7L277.6 247.8L278.5 247.9L279.4 247.9L280.2 248L281.1 248.4L281.9 248.8L281.1 249.3L280.3 249.8L279.5 250.2L278.6 250.5L277.9 251.4L277.3 251.4L276.6 251.4L276.1 252L275.6 252.6L274.8 252.6L273.9 252.5L273.1 252.5L272.3 252.4L271.5 252.2L270.7 252.1L271.5 251.9L272.3 251.6L273.4 251.6L273.9 251.2L274.3 250.7L273.4 250.2L272.5 249.8L271.9 249.3L271.3 248.7L271.4 248.7L272.3 248.6L273.2 248.5L274.1 248.4L274.5 247.9L274.9 247.4L275.8 247.6L276.7 247.7Z" fill="url(#hatch)" stroke="#c4c4c4" stroke-width="0.5"/>
<path d="M269.8 252.5L270 251.8L270.6 251.7L271.3 251.7L270.7 252.1L271.5 252.2L272.3 252.4L273.1 252.5L273.9 252.5L274.8 252.6L275.6 252.6L276.6 253.3L277.6 253.9L277.7 254.8L277.9 255.7L276.8 255.7L275.7 255.6L274.9 255.9L274.2 256.3L273.1 255.8L272.1 255.3L271.3 255.6L270.5 255.9L269.7 255.9L269.7 254.7L269.6 253.5L268.7 252.5L269.8 252.5Z" fill="url(#hatch)" stroke="#c4c4c4" stroke-width="0.5"/>
<path d="M272.3 251.6L271.5 251.9L270.7 252.1L271.3 251.7L271.7 251.6L272.3 251.6Z" fill="url(#hatch)" stroke="#c4c4c4" stroke-width="0.5"/>
<path d="M266.2 257.1L266.6 256.3L267.1 255.5L268.2 255.7L268.9 255.8L269.7 255.9L270.5 255.9L271.3 255.6L272.1 255.3L273.1 255.8L274.2 256.3L274.9 255.9L275.7 255.6L276.9 255.7L278 255.9L277.1 256.4L276.2 256.6L275.2 256.7L274.3 256.9L274.3 257.9L274.2 259L273.8 259.7L273.4 260.4L273.3 261.1L273.1 261.8L273.2 262.6L273.2 263.4L272.5 263.5L271.7 263.6L271.2 264.5L270.7 265.4L270.2 266.3L269.3 266.5L268.4 266.6L267.5 266.8L266.6 266.8L265.7 266.9L264.7 266.6L263.7 266.3L264 265.3L264.2 264.2L263.2 263.9L262.8 262.6L262.4 261.2L262.5 260L262.4 258.9L262.3 257.8L262.1 256.7L263 257.6L263.9 258.6L264.5 257.7L265.4 257.4L266.2 257.1Z" fill="url(#hatch)" stroke="#c4c4c4" stroke-width="0.5"/>
<path d="M259.3 270.2L258.3 270.2L257.5 270.5L256.6 270.9L255.5 270.3L254.5 269.7L253.4 269.2L252.6 268.4L251.7 267.6L251.2 266.8L250.6 265.9L249.9 265.8L249.2 265.6L248.9 266.1L248.8 266.1L248.2 265.3L247.6 264.6L247.6 263.9L247.6 263.2L246.8 262.8L246 262.3L245.2 261.8L244.8 261.1L244.4 260.4L244.4 259.1L244.4 257.9L243.8 257.4L243.3 256.9L242.9 255.9L242.1 254.9L241.8 254.3L241.8 253.5L241.9 252.8L242.3 252.4L242.3 252.8L243.3 253.5L244 253.5L244.4 253.5L244.9 252.9L245.6 253.3L246.2 253.6L247.4 254.2L247.9 254.8L248.3 255.5L249.1 255.8L250 256.1L250.8 256.4L251.7 256.2L252.6 256L253.5 255.7L253.6 255.7L254.4 255.2L255.1 254.6L256.1 254.5L257.2 254.5L258.3 255L259.4 255.5L260.2 256L261.1 256.6L262.1 256.7L262.3 257.8L262.4 258.9L262.5 260L262.4 261.2L262.8 262.6L263.2 263.9L264.2 264.2L263.9 265.2L263.7 266.3L264.4 267.2L265.1 268L265.7 268.3L266.3 268.6L266.3 269.5L266.2 270.3L267.1 270.9L266.4 271.1L265.7 271.4L265.6 272.1L265.5 272.8L264.4 272.8L263.3 272.7L262.3 272.6L261.2 272.3L260.1 272L259.7 271.1L259.3 270.2Z" fill="url(#hatch)" stroke="#c4c4c4" stroke-width="0.5"/>
<path d="M246.5 267.3L245.4 267.3L244.4 267.2L243.5 266.5L242.6 265.8L241.8 265.2L240.9 264.5L239.8 263.9L238.8 263.4L238.1 263.2L237.4 262.9L237 262.1L236.6 261.2L237.4 260.8L238.2 260.3L239 259.8L239.2 259.4L239.1 258.2L239.1 257L239.6 256.5L240 256L240.5 255.7L241.2 255.7L241.9 255.7L242.9 255.9L243.3 256.9L243.8 257.4L244.4 257.9L244.4 259.1L244.4 260.4L244.8 261.1L245.2 261.8L246 262.3L246.8 262.8L247.6 263.2L247.6 263.9L247.6 264.6L248.2 265.3L248.8 266.1L248.2 266.2L247.8 265.9L247.2 266.6L246.5 267.3Z" fill="url(#hatch)" stroke="#c4c4c4" stroke-width="0.5"/>
<path d="M247.8 268.2L247.2 267.8L246.5 267.3L247.2 266.6L247.8 265.9L248.2 266.2L248.6 266.4L248.3 266.8L248.6 267.5L248.9 268.2L247.8 268.2Z" fill="url(#hatch)" stroke="#c4c4c4" stroke-width="0.5"/>
<path d="M232.8 257.7L233.5 257.3L233.5 256.4L234.3 256.4L235 256.4L235.8 256.4L236.6 256.4L237.4 256.4L237.9 256.2L238.5 256L239.3 256L240 256L239.6 256.5L239.1 257L239.1 258.2L239.2 259.4L239 259.8L238.2 260.3L237.4 260.8L236.6 261.2L235.9 261.8L235.1 262.3L234.4 262.8L233.8 262.5L233.2 262.2L233.1 261.4L233.5 260.7L233.9 260.1L233.1 259.5L232.8 259.3L232.9 259L232.8 258.3L232.8 257.7Z" fill="url(#hatch)" stroke="#c4c4c4" stroke-width="0.5"/>
<path d="M233.1 259.5L233.9 260.1L233.5 260.7L233.1 261.4L232.3 261.7L232.6 260.5L232.8 259.5L233.1 259.5Z" fill="url(#hatch)" stroke="#c4c4c4" stroke-width="0.5"/>
<path d="M233.1 261.4L233.2 262.2L232.9 262.7L233 263.9L232.9 264.6L232.8 265.3L232.7 266.1L232.6 266.8L232.5 266.8L232 265.5L231.5 264.2L231.8 263.8L232 262.8L232.1 262.5L232.3 261.7L233.1 261.4Z" fill="url(#hatch)" stroke="#c4c4c4" stroke-width="0.5"/>
<path d="M232.9 262.7L233.2 262.2L233.8 262.5L234.4 262.8L235.1 262.3L235.9 261.8L236.6 261.2L236.9 262.1L237.3 262.9L236.4 263.3L235.6 263.6L234.8 263.9L235.4 264.6L236.1 265.3L235.4 265.7L234.7 266.1L234.4 266.6L234 267.2L233.3 267L232.6 266.9L232.7 266.1L232.8 265.3L232.9 264.6L233 263.9L232.9 262.7Z" fill="url(#hatch)" stroke="#c4c4c4" stroke-width="0.5"/>
<path d="M253.3 272.7L253.3 273L252.9 273.7L252.3 273.5L252.4 273.1L252.4 272.4L252.5 271.6L252.9 272.1L253.3 272.7Z" fill="url(#hatch)" stroke="#c4c4c4" stroke-width="0.5"/>
<path d="M256.4 274.3L257.2 273.4L258 272.6L258.5 271.6L258.7 271.7L258.7 271.8L259 272.6L259.2 273.3L258.9 273.9L258.7 274.5L258.4 275.5L258 276.4L257 276.3L255.9 276.2L254.8 276.1L254.1 275.1L253.3 274.1L252.9 273.7L253.2 273.4L253.4 273.4L253.4 273.7L254.5 274.3L255.5 274.3L256.4 274.3Z" fill="url(#hatch)" stroke="#c4c4c4" stroke-width="0.5"/>
<path d="M262.7 279.5L262.2 280.6L261.7 281.6L261 282.3L260.3 283L259.6 283.5L258.8 284L257.9 284.4L257 284.7L256.1 285L255.6 283.9L255.1 282.7L254.5 281.6L255.4 281.3L256.3 280.9L257.2 280.6L258.1 280.2L258.3 279.3L258.5 278.3L258.7 277.4L258 276.4L258.4 275.5L258.7 274.5L258.9 273.9L259.2 273.3L259.9 274L260.7 274.8L261.5 275L262.3 275.3L263 276L263.7 276.7L263.4 277.6L263 278.6L262.7 279.5Z" fill="url(#hatch)" stroke="#c4c4c4" stroke-width="0.5"/>
<path d="M250.1 288.7L249.2 289.1L248.2 289.5L247.3 290L246.4 290.4L245.5 290.5L244.6 290.5L244.2 289.5L243.9 288.6L243.6 287.6L243.5 286.7L243.4 285.8L243.4 285.3L243.7 284.5L244 283.7L244.7 283.8L245.5 283.9L246.3 283.9L247.1 284L247.9 284L248.6 284.1L249.2 284.2L249.8 283.5L250.3 282.8L250.9 282.2L251.8 282L252.7 281.9L253.6 281.8L254.5 281.6L255.1 282.7L255.6 283.9L256.1 285L255.6 285.7L255.1 286.4L254.1 286.9L253 287.4L252 287.8L251 288.3L250.1 288.7Z" fill="url(#hatch)" stroke="#c4c4c4" stroke-width="0.5"/>
<path d="M252.3 273L252.3 273.5L252.9 273.7L253.3 274.1L254.1 275.1L254.8 276.1L255.9 276.2L257 276.3L258 276.4L258.7 277.4L258.5 278.3L258.3 279.3L258.1 280.2L257.2 280.6L256.3 280.9L255.4 281.3L254.5 281.6L253.6 281.8L252.7 281.9L251.8 282L250.9 282.2L250.3 282.8L249.8 283.5L249.2 284.2L248.6 284.1L247.9 284L247.1 284L246.3 283.9L245.5 283.9L244.7 283.8L244 283.7L243.7 284.5L243.4 285.3L243.2 285.1L242.5 284.2L241.7 283.3L241 282.1L240.4 280.9L239.8 280L239.2 279L238.6 278.1L238.2 277.1L237.9 276.2L237.6 275.3L236.7 274.2L235.8 273.1L235.3 272.3L234.7 271.4L234.2 270.6L233.5 269.7L232.8 268.7L232.6 267.4L232.7 267L233.3 267.1L234 267.2L234.4 266.6L234.7 266.1L235.4 265.7L236.1 265.3L235.4 264.6L234.8 263.9L235.6 263.6L236.4 263.3L237.3 262.9L238 263.2L238.8 263.4L239.8 263.9L240.9 264.5L241.8 265.2L242.6 265.8L243.5 266.5L244.4 267.2L245.4 267.3L246.5 267.3L247.2 267.8L247.8 268.2L248.9 268.2L249.7 269.1L250.5 270L251 270.7L251.4 271.3L251.9 272.2L252.3 273Z" fill="url(#hatch)" stroke="#c4c4c4" stroke-width="0.5"/>
<path d="M266 273L265.5 272.8L265.6 272.1L265.7 271.4L266.4 271.1L267.1 270.9L266.2 270.3L266.3 269.5L266.3 268.6L265.7 268.3L265.1 268L264.4 267.2L263.7 266.3L264.7 266.6L265.7 266.9L266.6 266.8L267.5 266.8L268.4 266.6L269.3 266.5L270.2 266.3L270.7 265.4L271.2 264.5L271.7 263.6L272.5 263.5L273.2 263.4L273.2 262.6L273.1 261.8L273.3 261.1L273.4 260.4L273.8 259.7L274.2 259L274.3 257.9L274.3 256.9L275.2 256.7L276.2 256.6L277.1 256.4L278 255.9L278.8 256.3L279.9 257.1L281 257.9L282.1 258.3L281.5 258.7L280.9 259.1L280.3 259.5L279.6 259.8L278.8 260.1L278.1 260.4L278.7 261.2L279.2 262.1L280.2 262.8L280 263.6L279.8 264.5L279.1 265.5L278.7 266.2L278.2 267.3L277.7 268.5L277 268.7L276.3 269L275.7 269.3L275.2 269.6L274.8 270.3L275.4 271.2L275.9 272.1L276.6 272.8L277.2 274L276.2 274L275.2 274.1L274.4 274.3L273.7 275L272.7 274.5L272.1 273.6L271.5 272.6L270.7 272.7L269.8 272.8L269 272.8L268 272.9L267 272.9L266 273Z" fill="url(#hatch)" stroke="#c4c4c4" stroke-width="0.5"/>
<path d="M291.7 267.5L292.6 267.9L293.5 268.3L294.4 268.7L295.3 268.8L296.2 268.9L297.1 269L297.2 270.1L297.2 271.1L296.3 271.1L295.4 271L294.4 270.7L293.4 270.3L292.5 270L291.5 269.7L290.7 269.5L289.8 269.2L288.9 268.9L288 268.3L287 267.8L286.8 266.8L286.6 265.8L287.7 265.6L288.3 265.8L289 266.1L289.9 266.5L290.8 267L291.7 267.5Z" fill="url(#hatch)" stroke="#c4c4c4" stroke-width="0.5"/>
<path d="M301.8 269.2L301.9 270.4L301.2 270.5L300.4 270.5L299.6 270.6L298.3 270.6L298.1 269.9L298.3 269.2L298.5 268.6L299.5 268.7L300.4 268.9L301.1 269L301.8 269.2Z" fill="url(#hatch)" stroke="#c4c4c4" stroke-width="0.5"/>
<path d="M301.3 276.9L300.7 277.3L300.1 277.7L299.5 277.8L299.5 277.7L299.2 276.8L299 276L298.7 275.1L298.4 274.3L297.9 273.3L297.5 272.4L297.7 271.8L297.8 271.1L298.7 271.4L299.5 271.7L300 272.8L300.9 273L301.8 273.1L302.7 273.3L302.3 273.8L301.9 274.4L302.5 274.8L303.2 275.3L303.5 276.3L303.9 277.4L303.8 278.2L303.8 279L303.2 278.1L302.8 276.8L302.1 276.9L301.3 276.9Z" fill="url(#hatch)" stroke="#c4c4c4" stroke-width="0.5"/>
<path d="M290 297.2L290 295.9L290 294.6L290.7 295.6L291.5 296.5L292.1 297.5L292.7 298.6L292.3 299.2L292 299.7L291.3 299.9L290.5 300L290.3 299.1L290.2 298.1L290 297.2Z" fill="url(#hatch)" stroke="#c4c4c4" stroke-width="0.5"/>
<path d="M312.4 289.4L312 288.2L311.6 287L311.2 285.9L310.5 284.6L309.9 285.1L309.3 285.6L308.6 286.1L307.9 286L307.1 285.9L306.9 284.9L306.8 284L306.6 283L306.1 282L305.6 280.9L304.7 280.1L303.9 279.2L303.8 279L303.8 278.2L303.9 277.4L304.5 277.1L304.5 276L304.8 275.3L305.1 274.5L305.3 273.5L305.5 272.4L305.7 271.7L305.9 271L306.3 270.4L306.7 269.9L307.4 269.2L308.1 268.6L309 269.1L309.9 269.6L309.8 270.6L309.8 271.7L309.7 272.7L309.6 273.7L309.5 274.7L310.6 274.4L311.3 275.2L312.1 276L311.9 276.6L311.7 277.2L312.4 277.7L313.1 278.1L313.8 278L314.4 278L314 278.8L313.5 279.6L312.8 280.1L312 280.5L311.5 281.4L311 282.3L311.6 283.4L312.1 284.4L312.7 285.4L312.6 286.4L312.5 287.3L313 288.3L313.6 289.4L313.6 290.3L313.6 291.3L313.6 292.2L313.4 293.3L313.2 294.4L313.3 293.6L313.1 292.6L312.9 291.5L312.7 290.5L312.4 289.4Z" fill="url(#hatch)" stroke="#c4c4c4" stroke-width="0.5"/>
<path d="M297.1 278.1L296.9 279L296.7 279.9L295.9 280.6L295.1 281.2L294.5 281.9L294 282.6L293.4 283.2L292.8 283.8L292.1 284.4L291.6 284.9L291 285.4L290.4 286L289.8 286.6L289.9 287.7L290 288.9L290.2 290.1L290.1 291.1L289.9 292L289.8 292.9L289.2 293.9L288.6 294.9L288 295.9L287.5 296.5L287.1 297L286.5 296.5L285.8 295.9L285.5 294.8L285.1 293.6L284.7 292.7L284.3 291.8L283.9 290.8L283.6 289.9L283.2 288.9L282.8 288L282.3 287.1L281.8 286.1L281.4 284.9L280.9 283.6L280.4 282.3L280.1 281.6L279.9 280.6L279.8 279.5L279.6 278.8L279.5 278.1L279 277.1L278.3 278.1L277.6 279.1L276.7 278.4L275.8 277.7L274.9 276.9L275.5 276.5L276.1 276.1L275.3 275.7L274.5 275.4L273.7 275L274.4 274.3L275.2 274.1L276.2 274L277.2 274L276.6 272.8L275.9 272.1L275.4 271.2L274.8 270.3L275.2 269.6L275.7 269.3L276.3 269L277 268.7L277.7 268.5L278.2 267.3L278.7 266.2L279.1 265.5L279.8 264.5L280 263.6L280.2 262.8L279.2 262.1L278.7 261.2L278.1 260.4L278.8 260.1L279.6 259.8L280.3 259.5L280.9 259.1L281.5 258.7L282.1 258.3L283 259.1L283.9 260L284 260.9L284 261.8L284.9 262.5L284.8 263.4L284.7 264.2L285.7 264.8L286.7 265.3L287.5 265.6L288.3 265.8L288.8 266L287.7 265.6L286.6 265.8L286.8 266.8L287 267.8L288 268.3L288.9 268.9L289.8 269.2L290.7 269.5L291.5 269.7L292.5 270L293.4 270.3L294.4 270.7L295.4 271L296.3 271.1L297.2 271.1L297.2 270.1L297.1 269L296.2 268.9L295.3 268.8L294.4 268.7L293.5 268.3L292.6 267.9L291.7 267.5L290.6 266.9L289.5 266.3L290.7 266.9L291.9 267.5L293.1 268L294.3 268.6L295.2 268.7L296.1 268.8L297 269L297.9 268.9L298.4 268.9L298.1 269.9L298.3 270.6L299.6 270.6L300.4 270.5L301.2 270.5L301.9 270.4L301.8 269.2L301 269L301.7 269L302.4 268.6L303 268.1L303.7 267.6L304.5 267.4L305.2 267.1L306 266.9L307 267.8L308.1 268.6L307.4 269.2L306.7 269.9L306.3 270.4L305.9 271L305.7 271.7L305.5 272.4L305.3 273.5L305.1 274.5L304.8 275.3L304.5 276L304.5 277.1L303.9 277.4L303.5 276.3L303.2 275.3L302.5 274.8L301.9 274.4L302.3 273.8L302.7 273.3L301.8 273.1L300.9 273L300 272.8L299.5 271.7L298.7 271.4L297.8 271.1L297.7 271.8L297.5 272.4L297.9 273.3L298.4 274.3L298.7 275.1L299 276L299.2 276.8L299.5 277.7L299.5 277.8L299.3 277.8L298.6 277.9L297.8 278L297.1 278.1Z" fill="url(#hatch)" stroke="#c4c4c4" stroke-width="0.5"/>
<path d="M337.2 276L337.1 275.3L337 274.5L337.3 273.6L337.6 272.7L338.3 272.9L338.9 273.1L338.9 274.2L338.8 275.3L338.6 276.4L338.4 277.5L337.8 276.7L337.2 276Z" fill="#ffffd9" stroke="#6f6f6f" stroke-opacity="0.75" stroke-width="0.35"/>
<path d="M344.8 262.1L344.7 261.1L345.1 260.8L345.6 260.5L346.4 261.2L347.2 261.8L347.4 262.9L347.6 263.9L347.2 264.3L346.8 264.6L346 263.9L345.4 263L344.8 262.1ZM350 260.7L349.3 261.4L348.6 262.1L347.9 261.8L347.8 261.1L347.7 260.4L348.3 260.2L348.9 260L350 260.7ZM345.5 260.4L345.1 259.4L345.7 259L346.3 258.6L346.9 258.1L347.9 258.1L348.8 258L349.8 258L350.1 257L350.3 256L350.8 255.6L351.4 255.5L352 255.5L352.2 254.7L352.4 254L352.2 253.1L352 252.2L351.7 251.4L351.4 250.5L351.8 250.2L352.3 250L353.4 251.3L354.5 252.6L354.4 253.5L354.3 254.3L354.8 255.3L355.3 256.3L355.6 257.1L356 258L355.6 258.5L355.3 259L354.6 259.4L353.8 259.5L353 259.5L352.3 259.5L351.9 260.3L351.5 261.1L350.9 260.5L350.3 260L349.6 260L348.9 260L347.7 260L347 260.1L346.3 260.3L345.5 260.4ZM354 245.9L354.7 246.5L355.5 247.2L354.7 247.5L353.9 247.9L353.9 248.5L353.9 249.1L353.1 249.2L352.3 249.3L351.5 249.4L350.6 248.9L349.7 248.4L349.4 247.3L350 247.2L350.6 247L349.6 245.7L348.6 244.4L349 244.2L350.1 244.8L351.1 245.4L352.1 246.1L353.1 246L354 245.9Z" fill="#ffffd9" stroke="#6f6f6f" stroke-opacity="0.75" stroke-width="0.35"/>
<path d="M338.6 251.8L338.3 252.3L337.9 252.8L338.7 253.3L339.5 253.9L338.7 254.3L338.3 254.7L338 255.2L337.3 255.1L336.6 255L335.7 254L335.6 253.3L335.4 252.6L334.7 252.4L333.9 252.1L334.2 251.6L334.5 251.1L334.9 250.3L335.3 249.5L335.9 249.3L336.5 249.1L337.2 248.8L337.9 248.6L338.4 248.5L339 248.4L339.3 248.7L339.2 249.4L339.1 250.1L339.4 250.8L339 251.3L338.6 251.8Z" fill="url(#hatch)" stroke="#c4c4c4" stroke-width="0.5"/>
<path d="M341 259.4L340.4 259.6L339.9 259.8L339.3 258.8L339.3 258.2L339.4 257.6L338.9 256.9L338.4 256.2L338 255.2L338.3 254.7L338.7 254.3L339.5 253.9L340.5 254.9L341.5 255.9L342 256.7L342.4 257.6L342.7 258.6L341.9 259L341 259.4ZM336.7 255.2L336.6 255L337.3 255.1L338 255.2L337.4 255.2L336.7 255.2Z" fill="#ffffd9" stroke="#6f6f6f" stroke-opacity="0.75" stroke-width="0.35"/>
<path d="M322.7 285.4L323.3 286.1L323.8 286.9L323.8 288L322.8 288.1L321.9 288.3L321 288.4L321.1 287.5L321.2 286.6L320.6 285.9L320 285.2L319.8 284.4L319.7 283.7L318.8 283.2L318 282.6L317.4 282.9L316.9 283.2L316.1 283.4L315.3 283.6L314.9 282.3L315 281.5L315 280.8L314.1 280.9L313.5 279.6L314 278.8L314.4 278L314.9 277.4L315.4 276.8L315.9 277.3L316.5 277.8L317.2 279.1L318 279.4L318.8 279.6L318.3 280.8L319.2 281.3L320 281.8L320.7 282.5L320.7 282.6L321.3 283.2L321.9 283.7L322.3 284.6L322.7 285.4Z" fill="url(#hatch)" stroke="#c4c4c4" stroke-width="0.5"/>
<path d="M315.7 289.4L314.6 289.5L314.6 290.5L314.6 291.5L314.3 292.7L314 293.9L314.4 295.1L314.9 295.8L315.4 296.6L315.7 297.5L316 298.3L316.9 298.7L317.4 299.2L317.9 299.7L317.3 300.1L316.7 300.4L315.8 299.4L315.6 299.4L315.5 299.3L314.8 298.6L313.9 297.7L313 296.9L313.1 295.8L313.1 294.6L313.2 294.4L313.4 293.3L313.6 292.2L313.6 291.3L313.6 290.3L313.6 289.4L313 288.3L312.5 287.3L312.6 286.4L312.7 285.4L312.1 284.4L311.6 283.4L311 282.3L311.5 281.4L312 280.5L312.8 280.1L313.5 279.6L314.1 280.9L315 280.8L315 281.5L314.9 282.3L315.3 283.6L316.1 283.4L316.9 283.2L317.4 282.9L318 282.6L318.8 283.2L319.7 283.7L319.8 284.4L320 285.2L320.6 285.9L321.2 286.6L321.1 287.5L321 288.4L320.1 288.4L319.1 288.3L318.1 288.3L317.5 289.3L317.7 290L317.9 290.8L318.5 292.1L318.5 292.2L317.6 291.2L316.7 290.9L315.9 290.5L315.7 289.4Z" fill="url(#hatch)" stroke="#c4c4c4" stroke-width="0.5"/>
<path d="M318.5 292.1L317.9 290.8L317.7 290L317.5 289.3L318.1 288.3L319.1 288.3L320.1 288.4L321 288.4L321.9 288.3L322.8 288.1L323.8 288L323.9 288.9L323.9 289.9L324 290.8L323.4 291.4L322.7 291.9L322.1 292.9L321.1 293.1L320.5 293.8L319.9 293.6L319.3 293.5L318.9 292.9L318.5 292.2L318.5 292.1Z" fill="url(#hatch)" stroke="#c4c4c4" stroke-width="0.5"/>
<path d="M326 289.3L326.1 290.3L326.3 291.2L326 292.1L325.7 292.9L324.9 293.3L324.1 293.6L323.3 294.4L322.7 295L322.1 295.7L321.5 296.3L321.2 295.6L321 294.9L320.5 293.8L321.1 293.1L322.1 292.9L322.7 291.9L323.4 291.4L324 290.8L323.9 289.9L323.9 288.9L323.8 288L323.8 286.9L323.3 286.1L322.7 285.4L322.3 284.6L321.9 283.7L322.7 284.6L323.6 285.4L324.4 286.2L325.2 287L325.5 287.8L325.8 288.6L326 289.3ZM320.7 282.5L320 281.8L319.2 281.3L318.3 280.8L318.8 279.6L318 279.4L317.2 279.1L316.5 277.8L315.9 277.3L315.4 276.8L316.5 276.7L317.5 276.5L318.3 276L319.1 275.5L320 276.1L320.6 276.7L321.1 277.4L322 277.7L322.8 278.1L322.3 278.4L321.7 278.8L321.5 279.6L321.1 280.6L320.7 281.6L320.7 282.5Z" fill="url(#hatch)" stroke="#c4c4c4" stroke-width="0.5"/>
<path d="M332.9 302.8L332.9 302.1L333.8 301.8L334.6 301.4L334.7 302.8L333.8 302.8L332.9 302.8Z" fill="url(#hatch)" stroke="#c4c4c4" stroke-width="0.5"/>
<path d="M319.9 306.7L319.3 306.2L318.7 305.7L317.9 305L317.1 304.4L316.7 303.7L316.3 303L316.1 302.1L315.9 301.1L315.7 300.2L315.6 299.4L315.8 299.4L316.7 300.4L317.3 300.1L317.9 299.7L318.5 300.5L319.1 301.4L319.7 302.2L319.7 303.1L320.1 304L320.4 305L320.6 305.7L320.8 306.5L319.9 306.7ZM338.3 302.1L337.6 302.5L337.4 302.6L336.7 302.4L335.8 302.6L334.9 302.8L334.6 303.9L334.3 305L334 305.7L333.7 306.4L333 306.5L332.4 306.7L331.8 306.5L331.2 306.4L330.5 306.7L329.9 307.1L329.3 307L328.7 306.9L328.1 306.3L327.6 305.6L328.6 305.4L329.5 305.2L330.3 304.8L331 304.4L331.7 304L332.3 303.1L332.9 302.1L332.9 302.8L333.8 302.8L334.7 302.8L334.6 301.4L335 300.7L335.4 300L335.9 299.3L336.4 298.6L337.4 299.4L338.4 300.3L339.3 301.1L338.8 301.6L338.3 302.1Z" fill="url(#hatch)" stroke="#c4c4c4" stroke-width="0.5"/>
<path d="M346.9 300.6L346.1 299.9L345.2 299.3L344.6 298.7L343.9 298L343.3 298.3L342.7 298.6L343.3 297.8L343.8 297.1L344.4 296.3L345.1 295.8L345.9 295.2L346.6 294.6L347.2 295.7L347.7 296.8L348.2 297.9L348 298.7L347.7 299.6L346.9 300.6ZM336.3 296L337 295.2L337.6 294.4L338.3 293.5L339 292.7L339.3 293.5L338.6 294.3L337.9 295.1L337.3 295.8L336.6 296.6L336.3 296ZM342.1 291.8L342.9 291.5L343.7 291.1L344.5 290.8L345.2 291.4L346 292L346.8 292.7L346.4 293.5L346.1 294.4L345.3 294.7L344.5 295.1L343.7 295.5L343 294.6L342.3 293.6L342.2 292.7L342.1 291.8ZM341 282.3L341.1 283.4L341.2 284.4L341.1 285.3L340.9 286.1L341.1 287.3L341.3 288.4L342.3 289L343.4 289.5L344.4 290.1L344.3 290.8L343.5 290.2L342.6 289.6L341.8 289L340.9 288.7L340 288.4L339.4 287.1L338.9 285.9L338.9 284.8L339 283.7L339 283L339 282.3L340 282.3L341 282.3Z" fill="url(#hatch)" stroke="#c4c4c4" stroke-width="0.5"/>
<path d="M357.2 369.7L356.5 369.9L355.8 370.1L355.9 369.1L355.9 368.2L356.3 367.1L356.7 366.1L357.5 366.3L358.4 366.6L359.5 366.5L360.6 366.3L360 367.2L359.4 368.2L358.3 368.9L357.2 369.7ZM353.2 325.8L354.3 325.3L355.3 324.8L356.3 325.1L357.2 325.4L358.2 325.8L359.3 325.8L360.4 325.8L359.8 326.5L359.2 327.3L358.7 328.5L358.1 329.7L358.9 330.4L359.6 331L360.4 331.7L361 332.2L361.7 332.6L362.3 333.1L363.3 333.1L364.2 333.1L364.6 332L365.1 330.9L365.5 329.7L365.8 328.6L366 327.5L366.3 326.3L366.8 325.4L367.3 324.5L367.7 323.6L368 324.5L368.3 325.3L368.5 326.2L368.6 327.5L368.6 328.9L369.6 329.3L370.5 329.7L370.3 331.1L370.1 332.4L370.3 333.4L370.4 334.4L370.5 335.4L371.4 336.1L372.2 336.8L373.1 337.5L373.6 338.4L374 339.4L374.5 340.3L374.6 341.3L374.6 342.2L375.3 343L375.9 343.8L376.5 344.6L376.3 345.7L376.1 346.8L375.9 347.9L375.6 349L375 350.1L374.3 351.2L373.6 352.4L372.7 353.3L371.8 354.2L370.9 355L370.2 355.8L369.5 356.5L368.7 357.4L367.8 358.3L367 359.1L366.1 360.3L365.3 361.5L364.1 361.8L362.9 362L361.8 362.6L360.8 363.2L359.8 363.8L359.1 363.2L358.4 362.7L357.3 363L356.3 363.4L355.7 363.1L355.1 362.7L354.5 362.4L354.1 361.8L353.6 361.1L354 359.9L354.2 358.7L353.6 358.8L352.9 358.9L352.8 358L353.5 356.6L354.1 355.2L352.9 356.1L351.6 357L350.4 357.9L350.3 356.8L350.2 355.8L350.1 354.8L349.3 354.3L348.6 353.9L347.8 353.5L347 353.1L346 353.3L345 353.6L344 353.8L343 354.1L342 354.2L340.9 354.4L339.8 354.6L338.8 355.2L337.8 355.8L336.7 356.5L335.7 356.5L334.6 356.5L333.6 356.6L332.5 356.6L331.5 357.1L330.4 357.6L329.3 358.2L328.4 357.8L327.4 357.4L326.5 357L327.1 356.3L327.8 355.6L328.2 354.6L328.6 353.5L328.7 352.4L328.7 351.3L328.8 350.2L328.6 349.2L328.4 348.1L328.3 347.3L328.1 346.4L328 345.6L328.5 344.7L329 343.9L328.9 343.2L328.9 342.5L329 341.5L329.2 340.6L329.3 339.6L330.3 339.6L331.4 339L332.5 338.3L333.7 337.6L334.6 337.5L335.5 337.4L336.3 337.2L337.3 336.8L338.3 336.5L339.3 336.1L340.2 335L341.1 334L342 333.3L343 332.6L343.7 331.6L344.5 330.7L345.2 329.7L346.1 329.2L347 328.6L347.8 328L348.5 328.9L349.2 329.7L350.1 329.7L351.1 329.7L351.6 328.4L352 327.2L352.6 326.5L353.2 325.8Z" fill="#edf8b1" stroke="#6f6f6f" stroke-opacity="0.75" stroke-width="0.35"/>
<path d="M389.4 322.1L389.4 321.2L389.3 320.2L389.9 320.6L389.8 321.4L389.7 322.1L389.4 322.1ZM373.8 319.1L374.4 319.8L374.9 320.5L375.5 321.2L376 321.9L376.9 322.5L377.8 323.1L376.9 323.2L376.1 323.4L375.1 323L374.1 322.6L373.5 321.8L373 321L372.4 320.2L371.6 320L370.8 319.7L370 319.4L369.6 320.3L369.2 321.2L368.6 321.4L368 321.7L367 321.5L366.1 321.4L366.2 320.1L366.3 318.7L366.4 317.4L366.5 316.1L366.6 314.8L366.7 313.5L366.7 312.2L367.7 312.7L368.6 313.2L369.4 313.4L370.2 313.6L371 313.9L371.8 314.7L372.5 315.6L373.2 316.1L373.9 316.7L374.6 317.3L375 318.1L374.4 318.6L373.8 319.1ZM375.8 317L375.6 316.4L376.7 316L377.8 315.6L378.8 315L379.7 314.4L380.7 314.7L379.9 315.5L379 316.3L378.3 316.8L377.7 317.3L376.7 317.1L375.8 317Z" fill="url(#hatch)" stroke="#c4c4c4" stroke-width="0.5"/>
<path d="M347.4 321.5L346.7 322L346 322.5L346.1 321.3L347.3 320.5L348.2 320.5L349.1 320.4L348.3 321L347.4 321.5Z" fill="url(#hatch)" stroke="#c4c4c4" stroke-width="0.5"/>
<path d="M358.2 312L359 312.6L359.8 313.2L360.7 312.3L361.6 311.5L362.4 310.6L363.4 311L364.5 311.5L365.5 311.9L366.1 312L366.7 312.2L366.7 313.5L366.6 314.8L366.5 316.1L366.4 317.4L366.3 318.7L366.2 320.1L366.1 321.4L365.6 320.7L365 320.1L364.3 320.2L363.6 320.2L363.1 319.7L362.6 319.1L362.9 318.4L363.3 317.7L362.7 316.6L362.2 315.6L361.4 315.3L360.6 315L359.7 314.7L358.8 314.4L357.9 314L357.3 314.1L356.7 314.2L356.1 313.3L355.5 312.5L356.4 312.2L357.4 312L356.4 311.7L355.5 311.3L354.9 310.8L354.3 310.3L355.2 309.7L356.1 309.1L357.1 309.4L358 309.8L358.2 310.9L358.2 312ZM353 312.6L353.5 313.1L354.1 313.6L352.9 313.5L351.7 313.5L351 313.1L350.4 312.7L351.2 312.7L352.1 312.7L353 312.6ZM350.5 307.1L351.4 307.8L350.6 308.5L351.2 309.6L350.2 309.2L350 308.3L349.8 307.4L349.9 306.7L349.9 306L350.5 307.1ZM345.6 321.7L346.1 321.3L346 322.5L345.6 322.8L344.9 322.9L344.2 323.1L344.9 322.4L345.6 321.7ZM340.8 316.3L339.6 316.3L339.7 315.2L339.9 314.2L339.5 313.5L339 312.7L339.3 311.6L339.6 310.4L339.9 309.2L340.2 308.4L340.6 307.5L341.2 307.1L341.8 306.7L342.7 306.9L343.7 307.1L344.5 306.8L345.3 306.6L346.2 306.4L347 306.4L346.5 307.2L345.9 307.9L344.8 307.9L343.6 307.8L342.4 307.8L341.6 308.4L340.8 309.1L341.8 309.9L342.8 309.9L343.7 309.8L344.7 309.8L344.2 310.8L343.2 311L342.3 311.2L342.9 312.1L343.5 313L343.9 314.2L344.4 315.3L343.6 315.1L342.9 314.9L342.5 314L342.1 313.2L341.7 312.3L341.1 312.7L341 313.9L340.9 315.1L340.8 316.3ZM333.9 321L333.8 320.1L334.8 320.2L335.7 320.2L336.7 320.2L337.8 320.1L338.8 320.1L339.7 320.1L340.5 320.2L341.3 320.2L342.1 320.2L343 320.1L343.8 320.1L343.8 320.8L342.7 320.9L341.7 321L340.6 321.1L339.8 321L339 321L338.1 321L337.3 321L336.5 321L335.6 321.1L334.8 321L333.9 321ZM331.7 313L330.9 312.9L330.1 312.7L329.2 312.7L328.2 312.6L328.1 311.6L328 310.6L327.6 309.9L327.1 309.2L326.9 308.5L326.7 307.8L326.7 307.1L326.8 306.4L327.6 305.6L328.1 306.3L328.7 306.9L329.3 307L329.9 307.1L330.5 306.7L331.2 306.4L331.8 306.5L332.4 306.7L333 306.5L333.7 306.4L334 305.7L334.3 305L334.6 303.9L334.9 302.8L335.8 302.6L336.7 302.4L337.4 302.6L337.6 302.5L338.3 302.1L337.5 302.6L337.7 303.4L337.9 304.3L337.9 305.2L338 306.1L338.1 307.1L338.7 307.2L339.3 307.2L338.4 307.9L337.4 308.5L337.1 309.4L336.7 310.3L336.4 311.2L336.1 312L336 313L335.8 314L334.7 314.1L333.7 314.2L332.7 313.6L331.7 313ZM325.2 319.4L324.2 319.2L323.2 319L322.5 318.5L321.8 318.1L322.3 317.5L322.8 316.8L323.8 317L324.7 317.2L325.7 317.4L326.5 317.7L327.4 318L328.2 318.3L329.2 318.3L330.1 318.3L331.1 318.3L332.1 318.8L333.1 319.4L333 320.8L332.1 320.6L331.1 320.4L330.1 320.2L329.3 320.1L328.5 320.1L327.6 320L326.8 319.8L326 319.6L325.2 319.4ZM313.3 302.4L314.4 303.1L315.5 303.8L316.4 304.8L317.3 305.7L318.1 306.4L319 307.1L319.8 307.8L320 308.9L320.2 309.9L320.7 310.6L321.2 311.3L321.7 312.3L322.2 313.2L322.7 314.2L322.6 315.4L322.6 316.7L321.8 316.8L321.1 316.8L320.4 316L319.6 315.2L318.9 314.4L318.4 313.6L317.8 312.8L317.3 312L316.6 311L315.9 309.9L315.4 309.2L314.9 308.5L314.6 307.8L314.2 307.1L313.5 306.2L312.9 305.2L312.2 304.3L311.4 303.4L310.7 302.4L310.1 301.5L309.5 300.6L310.4 300.8L311.3 301L312.3 301.1L312.8 301.8L313.3 302.4ZM319.6 301.7L319.7 302.2L318.9 301.1L318.1 300L318.2 300L318.9 300.9L319.6 301.7Z" fill="url(#hatch)" stroke="#c4c4c4" stroke-width="0.5"/>
<path d="M385.8 367.9L386.9 367L387.9 366.2L389 365.8L389.7 366.1L390.3 366.5L389.6 367.2L388.9 367.9L388 368.6L387 369.3L386.2 369.8L385.4 370.4L384.3 370.7L383.3 371.1L382.1 372.1L381 373.2L379.7 373.7L378.4 374.3L377.6 374L376.8 373.7L376.7 373.2L376.5 372.8L377.9 371.9L379.3 371.1L380.6 370.5L382 369.9L383.3 369.3L384.5 368.6L385.8 367.9ZM391.6 363.9L393 363.2L393.6 362.2L394.2 361.1L394.2 360.2L394.2 359.3L394.2 358.4L394.5 357.2L394.8 357.7L395.1 358.3L395.4 358.9L395.2 359.9L395 360.8L395.3 361.3L395.5 361.8L396.5 361.8L397.5 361.8L398.4 361.8L397.4 362.9L396.3 363.9L395.5 364.2L394.7 364.5L393.8 365.3L392.8 366.1L391.8 366.7L390.7 367.3L390.3 366.9L391.2 366.2L392.1 365.5L391.9 365L391.7 364.5L391.6 363.9Z" fill="url(#hatch)" stroke="#c4c4c4" stroke-width="0.5"/>
<path d="M408.9 334.1L409.2 333.3L409.9 333.3L410.7 333.4L410.1 334.4L409.5 334.3L408.9 334.1Z" fill="url(#hatch)" stroke="#c4c4c4" stroke-width="0.5"/>
<path d="M391.8 337.1L392.3 337.5L392.8 337.9L393.5 338.6L394.1 339.3L394.7 340.1L394.1 340.2L393.4 339.4L392.7 338.7L392 337.9L391.8 337.1Z" fill="url(#hatch)" stroke="#c4c4c4" stroke-width="0.5"/>
<path d="M390.7 322.4L390 322.2L389.4 322.1L389.7 322.1L389.8 321.4L389.9 320.6L390.4 320.9L391 321.2L390.7 322.4Z" fill="url(#hatch)" stroke="#c4c4c4" stroke-width="0.5"/>
<path d="M396.6 330.9L396.6 329.7L397.4 330.4L397.2 331.1L396.9 331.8L396.6 330.9Z" fill="url(#hatch)" stroke="#c4c4c4" stroke-width="0.5"/>
<path d="M326.9 280.8L326.4 281.4L325.9 282.1L325.4 282.7L324.2 282.2L324.1 281.3L324.8 280.7L325.6 280.1L326.3 280.4L326.9 280.8ZM328.2 253.1L327.6 253.2L326.9 253.3L327.7 254L328.4 254.7L329.5 255.9L330.3 255.5L331.1 255L332.3 255.3L333.4 255.6L332.9 256.3L332.3 256.9L331.7 257.6L331.4 258.3L331 259L331.9 259.5L332.7 260L333.6 261.2L334.4 262.4L335.2 263L336 263.6L336.5 264.9L336.1 265.6L337.1 266.3L337 267.3L337 268.2L336.7 268.9L336.3 269.6L336 270.7L335.7 271.7L335.2 272.8L334.7 273.3L334.2 273.8L333.5 274.8L332.8 275.7L332 276L331.3 276.3L330.5 276.7L329.9 276.9L329.4 277.1L328.6 277.4L327.8 277.8L327.1 278.1L326.5 278.3L325.8 278.5L325.6 279.6L325.3 278.9L324.9 278.1L324.1 278L323.4 277.9L322.8 278.1L322 277.7L321.1 277.4L320.6 276.7L320 276.1L319.1 275.5L318.3 276L317.5 276.5L316.5 276.7L315.4 276.8L314.9 277.4L314.4 278L313.8 278L313.1 278.1L312.4 277.7L311.7 277.2L311.9 276.6L312.1 276L311.3 275.2L310.6 274.4L309.5 274.7L309.6 273.7L309.7 272.7L309.8 271.7L309.8 270.6L309.9 269.6L309 269.1L308.1 268.6L307 267.8L306 266.9L305.2 267.1L304.5 267.4L303.7 267.6L303 268.1L302.4 268.6L301.7 269L301 269L300.4 268.9L299.5 268.7L298.5 268.6L298.4 268.9L297.9 268.9L297 269L296.1 268.8L295.2 268.7L294.3 268.6L293.1 268L291.9 267.5L290.7 266.9L289.5 266.3L289 266.1L288.8 266L288.3 265.8L287.5 265.6L286.7 265.3L285.7 264.8L284.7 264.2L284.8 263.4L284.9 262.5L284 261.8L284 260.9L283.9 260L283 259.1L282.1 258.3L281 257.9L279.9 257.1L278.8 256.3L278 255.9L276.9 255.7L275.7 255.6L276.8 255.7L277.9 255.7L277.7 254.8L277.6 253.9L276.6 253.3L275.6 252.6L276.1 252L276.6 251.4L277.3 251.4L277.9 251.4L278.6 250.5L279.5 250.2L280.3 249.8L281.1 249.3L281.9 248.8L281.6 247.7L281.3 246.5L280.9 245.4L281.5 245L282.1 244.6L282.7 244.2L282.5 243.2L282.4 242.2L282.7 241.9L283.5 242L284.4 242.1L285.2 242.2L285 241.1L284.8 240.1L285.3 239.7L285.9 239.3L287 240.1L287.9 240.4L288.7 240.6L289.6 240.9L290.6 241.9L291.6 242.9L291.7 243.7L291.8 244.5L292.8 244.7L293.8 244.9L294.8 245.1L295.9 245.4L297 245.7L298.1 246.1L298.9 246.7L299.8 247.4L300.7 248L301.5 248.1L302.4 248.1L303.3 248.2L304.2 248.3L305.2 248.5L306.3 248.8L307.3 249L308.4 249.2L309.5 249.5L310.5 249.7L311.3 249.4L312.1 249.2L312.9 248.9L313.7 248.7L314.5 248.4L315.1 248L315.6 247.6L316.2 247.2L316.8 246.7L315.9 245.6L316.6 245.4L317.3 245.2L317.9 244.9L318.5 244.7L319.1 244.4L319.5 243.8L319.9 243.3L320.4 242.7L321.3 242.7L322.3 242.6L323.3 242.6L322.1 241.7L320.9 240.9L320.5 241.1L320 241.2L319.2 241.2L318.4 241.2L317.5 240.6L317.4 239.8L317.4 239L317.3 238.2L318.1 238.5L318.9 238.7L319.4 238.2L319.9 237.6L319.5 236.6L319.1 235.6L319.1 234.9L319.1 234.2L319.2 233.6L319.8 233.5L320.4 233.4L321.1 233.3L322.2 233.6L323.3 233.9L324.4 234.2L325.6 235.2L326.8 236.3L327.9 237.3L329.1 238.3L330.3 238.7L331.5 239.1L332.6 239.5L333.8 240.4L334.9 241.2L335.5 241L336.1 240.8L336.7 240.6L337.5 240.5L338.4 240.4L338.9 241.5L339.3 242.4L339.6 243.3L340 244.2L339.6 244.9L338.8 244.7L338.1 244.5L337.4 245.1L338.4 246.4L339.3 247.7L339 248.4L338.4 248.5L337.9 248.6L337.2 248.8L336.5 249.1L335.9 249.3L335.3 249.5L334.9 250.3L334.5 251.1L334.2 251.6L333.9 252.1L333 251.7L332.1 251.4L331.2 251.1L330.4 250.9L329.5 250.7L329.9 250.8L329.3 251.2L328.7 251.6L328.4 252.4L328.2 253.1ZM331 251.4L331.2 252.4L331.3 253.3L330.3 252.6L330.1 251.7L330 250.9L331 251.4Z" fill="#ffffd9" stroke="#6f6f6f" stroke-opacity="0.75" stroke-width="0.35"/>
<path d="M289.9 237.1L291 237.4L292 237.7L293.1 238L293.9 238.1L294.8 238.2L295.6 238.2L296.5 238.3L296.1 237L295.6 235.7L296.7 235.7L297.7 235.7L298.5 235.9L299.4 236.1L300.2 236.3L301.2 236.8L302.2 237.3L303.2 237.8L303.9 237.7L304.6 237.7L305.3 237.6L306.3 238L307.2 238.4L308.2 238.9L309 238.9L309.8 239L310.6 239.1L311.2 239L311.8 238.9L312.5 238.7L313 238.4L313.5 238.1L314.1 237.8L315.1 237.9L316.2 238.1L317.3 238.2L317.4 239L317.4 239.8L317.5 240.6L318.4 241.2L319.2 241.2L320 241.2L320.5 241.1L320.9 240.9L322.1 241.7L323.3 242.6L322.3 242.6L321.3 242.7L320.4 242.7L319.9 243.3L319.5 243.8L319.1 244.4L318.5 244.7L317.9 244.9L317.3 245.2L316.6 245.4L315.9 245.6L316.8 246.7L316.2 247.2L315.6 247.6L315.1 248L314.5 248.4L313.7 248.7L312.9 248.9L312.1 249.2L311.3 249.4L310.5 249.7L309.5 249.5L308.4 249.2L307.3 249L306.3 248.8L305.2 248.5L304.2 248.3L303.3 248.2L302.4 248.1L301.5 248.1L300.7 248L299.8 247.4L298.9 246.7L298.1 246.1L297 245.7L295.9 245.4L294.8 245.1L293.8 244.9L292.8 244.7L291.8 244.5L291.7 243.7L291.6 242.9L290.6 241.9L289.6 240.9L288.7 240.6L287.9 240.4L287 240.1L285.9 239.3L286.4 238.7L286.9 238.3L287.4 237.9L287.9 237.5L288.6 237.3L289.2 237.2L289.9 237.1Z" fill="url(#hatch)" stroke="#c4c4c4" stroke-width="0.5"/>
<path d="M342.6 234.1L343.7 235.4L344.8 236.7L345.8 238L347.3 238.8L348.7 239.5L347.8 239.3L346.9 239.1L347.5 240.1L348.1 241.1L348.7 242.2L350 243.1L349.6 243.3L349.2 243.5L347.8 242.4L347.1 241.3L346.4 240.1L345.6 239.2L344.7 238.3L343.8 237.3L343 236.3L342.1 235.3L341.3 234.3L340.5 233.2L339.6 232.2L341.1 233.1L342.6 234.1ZM218.2 224.1L218.2 224L218.6 223.7L219.1 223.4L219.5 223.1L220 222.8L220.4 222.2L220.8 221.6L221.2 221L220.3 220.6L219.5 220.2L219.8 219.3L218.9 218.6L219 217.5L218.5 216.6L218 215.7L218.3 215L217.4 214.7L216.6 214.4L216.9 213.4L216.2 213.3L215.4 213.2L214.6 213.1L213.8 213L213.3 213.6L213.9 212.9L214.4 212.6L214.8 212.3L215.4 212.3L216 212.4L216.8 212.7L216.8 213.4L217.3 213.1L217.9 212.9L218.5 212.7L218.5 212.5L219.5 212.8L220.4 213.1L221.2 213.1L222 213.2L222.8 213.2L223.6 213.5L224.5 213.8L225.3 214L226.2 214.3L227 214.6L227.9 214.9L228.4 215.5L229 216.1L228.5 216.5L228.1 216.8L227.5 216.9L226.9 217L226.3 217.1L225.6 217L224.8 216.9L224.1 216.8L223.4 216.7L222.6 216.5L221.9 216.4L221.3 216L220.8 215.7L221.6 216.4L222.5 217.1L223.2 218L223.8 219L224.7 219.2L225.6 219.5L226.1 219.3L226.7 219.1L227.3 219L227.9 218.9L228.5 218.8L229.2 218.3L229.6 217.5L229.9 216.6L230.5 216.7L231.2 216.8L231.9 217L231.7 216.1L231.5 215.2L231.3 214.3L232 214.5L232.8 214.7L233.4 214.9L234.2 214.9L235 214.9L235.7 214.9L236.4 214.7L237.1 214.6L237.7 214.5L238.4 214.3L239.1 214.2L239.8 214.1L240.5 214L241.4 214L242.2 214L243.1 213.9L243.8 214L244.6 214.2L244.8 213.6L245 213L245.2 212.5L246.2 212.7L247.1 212.8L248 213L248.7 213.1L249.4 213.2L250 213.3L250.9 213.6L251.7 213.8L252.5 214L253.3 214.3L252.5 213.7L251.8 213L251 212.3L250.2 211.7L250.2 211.1L250.2 210.6L250.3 210L250.5 209.5L250.6 208.9L251.4 209L252.1 209L253.1 209.4L254 209.7L254.3 210.4L254.5 211.1L255.5 211.6L256.3 212.4L257 213.2L257.2 212.6L257.5 212L257.7 211.4L257.9 210.9L258.1 210.4L258.4 210L258.7 209.6L259 209.1L259.4 208.7L259.7 208.2L260.3 208.1L260.8 208L261.4 207.9L262 207.7L262.5 207.6L263.1 207.5L263.7 207.3L263.7 206.9L263.8 206.5L264.3 206.4L264.7 206.2L265.2 206L265.7 205.9L266.2 205.8L266.8 205.7L267.3 205.6L267.9 205.5L268.4 205.3L269.1 205.4L269.7 205.4L270.4 205.4L271 205.5L271.4 205.3L271.9 205.1L272.3 205L272.7 204.8L273.2 204.6L273.6 204.3L274 204.1L274.4 203.9L274.8 203.7L275.8 203.9L276.7 204.1L277.9 204.5L279 204.9L279.7 204.9L280.3 204.8L281 204.8L281.6 204.7L282.7 205L283.9 205.3L285 205.7L286 206.7L287 207.7L286.1 207.7L285.3 207.7L284.4 207.7L285.1 207.8L285.8 207.9L286.5 208L287.2 208L287.9 208L288.6 208.1L289.2 208.1L290.1 208.2L290.9 208.3L291.7 208.4L292.5 208.6L293.4 208.7L293.9 208.5L294.5 208.4L295 208.3L295.6 208.1L296.1 208L296.7 207.9L297.4 208L298.2 208L298.9 208.1L299.7 208.2L301 208.8L302.3 209.4L303.6 209.9L304.5 210.1L305.4 210.3L306.2 210.4L307.1 210.6L307.7 210.6L308.3 210.5L308.9 210.4L309.5 210.4L310.2 210.4L310.9 210.4L311.7 210.5L312.4 210.5L313.1 210.5L313 209.9L312.9 209.4L313.5 209.3L314.1 209.2L314.7 209.1L315.5 209.2L316.4 209.4L317.2 209.5L318 209.6L318.9 209.7L319.9 209.9L320.8 210.1L321.7 210.2L322.7 210.4L323.6 210.7L324.6 210.9L325.6 211.2L326.2 211.1L326.8 211.1L327.3 211L327.9 211L328.7 211L329.6 211.1L330.4 211.2L331.2 211.2L332 211.3L333.2 211.8L334.5 212.3L335.7 212.7L336.4 212.7L337 212.7L337.7 212.6L338.4 212.6L339.1 212.6L339.9 212.6L340.6 212.5L341.4 212.5L341.9 212.4L342.5 212.3L343.1 212.1L343.8 212.2L344.6 212.3L345.4 212.3L346.1 212.4L346.9 212.5L347.8 212.6L348.6 212.6L349.4 212.7L350.3 212.8L351.1 212.9L352 213L353.2 213.3L354.3 213.6L356.1 214.7L357.9 215.9L359.7 217.1L361.5 218.3L361.2 218.5L360.9 218.6L360.3 218.6L359.6 218.7L361.4 219.6L363.1 220.5L364.1 220.8L365.1 221.2L364.4 221.3L363.7 221.4L363 221.5L362.6 221.7L362.1 221.9L361.7 222.1L361.3 222.4L361.1 222.8L360.9 223.2L360.7 223.6L360.4 224L359.9 224.2L359.4 224.4L358.8 224.5L358.3 224.7L357.6 224.7L356.8 224.7L356.1 224.8L355.4 224.8L355.1 225.1L354.7 225.5L354.9 226.1L355.1 226.7L355.3 227.3L356.6 228L357.8 228.6L358 229.3L358.2 229.9L358.5 230.8L358.7 231.7L358.9 232.6L359 233.4L359 234.2L359.1 235L359.2 235.9L359.3 236.7L358 235.6L356.7 234.6L355.5 233.5L354.4 232.4L353.2 231.3L352.5 230.4L351.8 229.5L351.1 228.6L351.2 228L351.2 227.3L351.2 226.6L351.1 226L351 225.3L351 224.7L351 224L350.7 223.4L350.5 222.8L350.2 222.1L349.5 222.2L348.7 222.3L348 222.4L348.1 222.9L348.3 223.4L347.4 223.3L346.5 223.1L345.6 223L344.7 222.9L344.8 223.5L344.9 224.1L344.9 224.7L345 225.3L344.6 225.5L344.2 225.8L343.7 226L342.8 225.8L341.8 225.6L340.8 225.4L339.9 225.2L339.1 225.3L338.4 225.4L337.7 225.4L337 225.5L336.3 225.6L335.6 225.7L335 225.8L334.3 225.9L333.7 226L333.4 226.4L333.2 226.9L332.9 227.3L332.9 228L332.8 228.6L332.8 229.3L333.2 230.2L333.7 231L334.2 231.9L335.2 232.2L336.2 232.5L337.2 232.7L338.3 233L339.8 234L341.4 234.9L342.1 235.9L342.8 237L343.5 238L344 239.1L344.5 240.1L344.3 240.8L344.1 241.5L343.8 242.2L343.8 243L343.7 243.9L343.6 244.8L343.5 245.7L343.5 246.6L342.8 247.1L342.2 247.5L341.5 248L340.7 247.8L340 247.6L339.7 248.1L339.3 248.7L339 248.4L339.3 247.7L338.4 246.4L337.4 245.1L338.1 244.5L338.8 244.7L339.6 244.9L340 244.2L339.6 243.3L339.3 242.4L338.9 241.5L338.4 240.4L337.5 240.5L336.7 240.6L336.1 240.8L335.5 241L334.9 241.2L333.8 240.4L332.6 239.5L331.5 239.1L330.3 238.7L329.1 238.3L327.9 237.3L326.8 236.3L325.6 235.2L324.4 234.2L323.3 233.9L322.2 233.6L321.1 233.3L320.4 233.4L319.8 233.5L319.2 233.6L319.1 234.2L319.1 234.9L319.1 235.6L319.5 236.6L319.9 237.6L319.4 238.2L318.9 238.7L318.1 238.5L317.3 238.2L316.2 238.1L315.1 237.9L314.1 237.8L313.5 238.1L313 238.4L312.5 238.7L311.8 238.9L311.2 239L310.6 239.1L309.8 239L309 238.9L308.2 238.9L307.2 238.4L306.3 238L305.3 237.6L304.6 237.7L303.9 237.7L303.2 237.8L302.2 237.3L301.2 236.8L300.2 236.3L299.4 236.1L298.5 235.9L297.7 235.7L296.7 235.7L295.6 235.7L296.1 237L296.5 238.3L295.6 238.2L294.8 238.2L293.9 238.1L293.1 238L292 237.7L291 237.4L289.9 237.1L289.2 237.2L288.6 237.3L287.9 237.5L287.4 237.9L286.9 238.3L286.4 238.7L285.9 239.3L284.9 238.3L283.9 238.3L282.9 238.3L281.9 237.8L281 237.2L280 236.7L279.2 236.7L278.4 236.7L277.6 236.8L276.8 236.8L275.8 236.1L274.8 235.4L273.8 234.7L272.8 234L271.9 233.3L271.1 232.6L270.5 232.8L269.9 233.1L269.3 233.3L268.6 232.9L267.9 232.6L267.4 232.6L266.4 232L265.3 231.4L264.3 230.9L263.4 231L262.5 231.1L261.6 231.3L260.8 231.4L260.1 231.5L259.4 231.7L258.7 231.8L257.8 232L257 232.2L256.1 232.4L255.3 232.6L254.7 232.7L255.3 234L255 234.6L254.7 235.3L255.5 235.4L256.3 235.6L256.4 236.3L256.4 236.9L255.6 237.1L254.9 237.3L254.2 236.9L253.5 236.5L252.7 236.5L251.9 236.5L251.2 236.6L250.6 236.7L249.9 236.8L248.9 236.5L247.9 236.3L246.9 236L246 235.9L245.1 235.9L244.4 236.3L243.8 236.8L243.2 237.2L242.5 237.4L241.8 237.6L241.6 238.5L241.4 239.4L242.1 240.2L242.8 240.6L243.4 241.1L243.9 241.9L244.4 242.7L244.9 242.9L244.2 243.5L243.6 244.1L243.5 244.9L243.4 245.6L243.9 246.7L244.4 247.7L245.2 248.6L246 249.4L245.3 250.2L244.6 249.8L243.9 249.4L243.6 249.3L242.7 248.8L241.7 248.3L241 248.2L240.3 248.1L239.5 247.8L238.7 247.4L237.6 247.4L236.7 247.3L235.8 247.2L234.8 246.5L233.9 245.8L233.2 245.4L232.5 245.1L231.5 244.7L231.7 244.7L231.7 244.4L232.5 244.4L232.8 243.3L233.4 242.6L233.9 241.9L233.3 242L232.7 242.1L232.8 242L232.8 241.3L233.6 241.1L234.4 240.9L234.1 240L234.4 239.1L234.1 238.6L233.3 238.4L232.6 238.2L231.8 238L230.9 237.8L230.1 237.5L229.4 237.1L228.7 236.7L228.1 236.2L227.5 235.7L226.6 234.8L225.9 234.9L225.3 235.1L224.6 235.2L224.2 234.4L224.7 233.8L225.2 233.4L224.6 233L224.1 232.6L223.4 232.1L222.8 231.5L222.8 230.5L222.2 230.3L221.7 230.1L220.7 229.9L219.7 229.7L219.3 228.8L218.9 227.9L218.6 227.3L218.4 226.2L218.9 225.6L218.7 225.3L219.1 224.9L219.8 224.9L220.5 224.8L219.5 224.4L218.9 224.2L218.4 224L218.2 224.1ZM258.8 213.8L258 213.7L257.3 213.5L257.8 214L257.9 215L258 215.9L258.3 215.5L258.7 215.1L259.1 214.7L258.8 213.8ZM31.4 217L30 217.3L28.6 217.7L27.4 218.3L26.1 218.8L25.3 219L24.4 219.1L23.7 219L23 218.9L22.3 218.8L22.3 218.3L22.3 217.8L21.5 218L20.6 218.2L19.7 218.3L21.5 217.1L23.3 215.9L25.1 214.7L26.9 213.6L27.4 213.7L27.9 213.8L28.4 213.9L28.9 214L28.9 214.5L29 214.9L29 215.3L29.1 215.7L29.3 216.1L29.4 216.4L29.6 216.7L30.2 216.8L30.8 216.9L31.4 217ZM34.1 210.5L33.4 211.2L32.9 211.2L32.3 211.1L31.8 211.1L31.9 210.8L31.9 210.5L32.7 210.5L33.4 210.5L34.1 210.5ZM237.1 210.9L236.8 210L236.6 209.1L237.2 208.9L237.8 208.6L238.3 208.3L238.6 207.6L238.8 206.9L239.1 206.5L239.5 206.1L239.9 205.7L240.3 205.3L240.8 205.2L241.3 205.1L241.8 204.9L242.3 204.8L243.1 204.8L243.8 204.7L244.5 204.7L245.2 204.6L245.9 204.5L246.6 204.5L246.2 204.8L245.7 205.1L245.3 205.5L244.8 205.7L244.3 205.9L243.8 206.1L243.3 206.3L242.8 206.5L242.4 207L242 207.4L241.6 207.9L241.2 208.3L240.7 208.8L240.5 209.4L240.2 209.9L240 210.5L240.9 211L241.8 211.4L241.1 211.4L240.3 211.4L239.6 211.4L238.9 211.3L238.2 211.3L237.6 211.1L237.1 210.9ZM310.9 206.5L310.1 206.5L309.2 206.4L308.4 206.3L307.5 206.2L306.7 206.2L305.9 206.1L305 206L305.3 205.8L305.7 205.6L306 205.4L306.3 205.2L307 205.2L307.6 205.2L308.3 205.1L308.9 205.1L309.6 205L310.2 205L310.9 205L311.5 204.9L312.8 205.3L314 205.6L315.2 206L316.4 206.3L315.7 206.3L315 206.4L314.4 206.4L313.7 206.4L313 206.5L312.3 206.5L311.6 206.5L310.9 206.5ZM269.6 202.3L268.8 202.3L268 202.3L267.2 202.3L266.4 202.3L265.7 202.3L265.3 201.6L265 201L264.7 200.4L265.4 200.5L266.2 200.5L266.9 200.6L267.7 200.6L268.4 200.7L269.2 200.7L269.9 200.8L270.7 200.8L271.8 201.5L273.1 202.2L274.3 202.8L273.5 202.7L272.7 202.7L271.9 202.6L271.1 202.5L270.4 202.4L269.6 202.3ZM226.1 200.9L226.6 200.8L227.1 200.7L227.5 200.5L228 200.4L228.7 200.4L229.3 200.3L229.9 200.3L230.5 200.2L231.2 200.2L231.8 200.2L232.4 200.1L233.1 200.4L233.8 200.6L234.5 200.8L233.9 200.9L233.3 201L232.7 201L232.1 201.1L231.5 201.2L230.9 201.2L230.2 201.2L229.5 201.1L228.8 201.1L228.1 201.1L227.5 201L226.8 201L226.1 200.9Z" fill="url(#hatch)" stroke="#c4c4c4" stroke-width="0.5"/>
<path d="M209.3 264.1L210.2 264.5L211.1 264.9L211.9 265.2L212.8 265.6L213.4 265.5L214 265.3L214.3 264.6L214.6 263.9L214.5 263.1L215.3 262.5L216.1 262L217 262.2L217.9 262.4L218.8 262.8L219.6 263.2L220.4 263.6L220.6 263.8L220.5 264.9L220.5 266.1L220.6 267.3L220.7 268.6L220.7 269.8L220.8 271.1L220.9 272.3L221 273.6L221 274.9L221.1 276.1L221.2 277.4L221.2 278.8L221.3 280.2L220.1 280.2L220.1 280.9L219 280.4L217.8 279.9L216.7 279.4L215.6 278.9L214.5 278.4L213.4 277.9L212.2 277.4L211.1 276.9L210 276.5L208.9 276L208.3 276.2L207.7 276.5L206.8 276.1L206 275.7L205.1 275.3L204.4 274.5L203.7 273.8L203 273.1L202.7 272.1L202.5 271L202.3 269.8L202.2 268.6L202 267.5L202.3 266.6L202.6 265.8L202.7 264.9L202.9 263.9L203.6 263.3L204.3 262.7L204.2 261.7L205.3 261.8L206.3 262L207.1 262.2L207.9 262.5L208.7 262.8L209 263.4L209.3 264.1Z" fill="url(#hatch)" stroke="#c4c4c4" stroke-width="0.5"/>
<path d="M202.6 256.3L203.4 256L202.9 257.1L203.3 257.9L203.7 258.7L203.2 259.3L202.8 260L202.4 260.7L203.1 261L203.8 261.4L204.2 261.7L204.3 262.7L203.6 263.3L202.9 263.9L202.7 264.9L202.6 265.8L202 265.8L201.8 264.4L201.6 263.1L200.8 262.2L200.1 261.4L199.8 260.7L199.6 260L199.9 259.3L200.3 258.7L200.3 257.9L200.4 257L200.6 256.3L201.3 256L202 255.7L202.6 256.3Z" fill="url(#hatch)" stroke="#c4c4c4" stroke-width="0.5"/>
<path d="M194.1 256.4L194.9 256.5L195.7 256.5L196.4 256.6L197.2 256.4L198 256.3L198.8 256.2L199.7 256.2L200.6 256.3L200.4 257L200.3 257.9L200.3 258.7L199.9 259.3L199.6 260L199.8 260.7L200.1 261.4L200.8 262.2L201.6 263.1L201.8 264.4L202 265.8L202.6 265.8L202.3 266.6L202 267.5L202.2 268.6L202.3 269.8L202.5 271L202.7 272.1L203 273.1L203.7 273.8L204.4 274.5L205.1 275.3L205.2 275.3L204.2 276.1L203.2 276.9L202.2 277.7L201.4 278.1L200.6 278.6L199.8 279.1L199.1 279.7L198.4 280.4L197.7 281.1L196.8 281.2L195.8 281.4L194.7 281.6L194.5 280.5L193.7 279.9L192.8 279.4L192.1 278.8L191.2 278.1L190.2 277.4L189.3 276.7L188.4 276L187.5 275.3L186.6 274.5L185.7 273.8L184.8 273.1L184 273.8L183.3 274.5L182.5 273.8L181.7 273.1L180.9 272.4L180.1 271.7L180.1 270.8L180.1 269.9L180.1 268.9L180.1 267.9L180.9 267.4L181.6 266.9L182.4 266.9L183.2 266.8L184 266.8L184.7 266.1L185.4 265.4L186.2 264.8L186.3 263.8L186.9 263.4L187.5 263.1L188.6 263.1L188.6 261.9L188.6 260.6L188.5 259.4L188 258.8L188.7 258.4L189.4 258L190.2 257.7L191 257.3L191.8 257L192.6 256.8L193.3 256.6L194.1 256.4Z" fill="url(#hatch)" stroke="#c4c4c4" stroke-width="0.5"/>
<path d="M179 265.3L178.9 264.6L178.9 263.9L179.4 263.1L180 262.3L180.5 261.5L181.5 261L182.6 260.4L182.9 259.5L183.3 258.6L183.7 257.9L184.4 257.7L185.1 258.2L185.9 258.7L187 258.8L188 258.8L188.5 259.4L188.6 260.6L188.6 261.9L188.6 263.1L187.5 263.1L186.9 263.4L186.3 263.8L186.2 264.8L185.4 265.4L184.7 266.1L184 266.8L183.2 266.8L182.4 266.9L181.6 266.9L180.9 267.4L180.1 267.9L180.1 268.6L180.1 269.4L178.9 269.4L177.7 269.4L176.5 269.4L175.3 269.4L175.4 269.3L176.1 269.1L176.7 268.9L177.6 268L178.6 267.2L178.8 266.3L179 265.3Z" fill="url(#hatch)" stroke="#c4c4c4" stroke-width="0.5"/>
<path d="M172.7 272.4L173.5 271.5L174.3 270.6L174.8 270L175.3 269.4L176.5 269.4L177.7 269.4L178.9 269.4L180.1 269.4L180.1 269.9L180.1 270.8L180.1 271.7L179.1 271.7L178.1 271.7L177.1 271.7L176 271.7L176 272.9L176 274.1L176 275.3L175.3 275.6L174.7 276L174.7 277.2L174.7 278.4L173.7 278.4L172.7 278.5L171.7 278.6L170.7 278.7L169.7 278.8L170.1 277.9L170.4 276.9L170.9 275.9L171.3 274.8L171.8 274L172.3 273.2L172.7 272.4Z" fill="url(#hatch)" stroke="#c4c4c4" stroke-width="0.5"/>
<path d="M169.6 279.1L169.7 278.8L170.7 278.7L171.7 278.6L172.7 278.5L173.7 278.4L174.7 278.4L174.7 277.2L174.7 276L175.3 275.6L176 275.3L176 274.1L176 272.9L176 271.7L177.1 271.7L178.1 271.7L179.1 271.7L180.1 271.7L180.9 272.4L181.7 273.1L182.5 273.8L183.3 274.5L184 273.9L184.7 273.2L184.3 274.4L184 275.6L183.6 276.9L183.3 278.1L183.3 279.3L183.4 280.5L183.5 281.7L183.6 282.9L183.7 284.1L183.8 285.3L184 286.6L183 286.6L182 286.6L180.9 286.7L179.9 286.7L178.9 286.7L177.7 286.6L176.5 286.4L176 287.1L175.5 287.7L175 287.1L174.5 286.4L173.7 285.7L172.9 285L172 285.2L171.1 285.5L170.2 285.7L170.4 284.7L170.6 283.7L170.5 282.4L170.3 281.1L170 280.1L169.6 279.1Z" fill="url(#hatch)" stroke="#c4c4c4" stroke-width="0.5"/>
<path d="M194.5 280.5L194.7 281.6L195.8 281.4L195.8 282.7L195.8 284L195.8 285.3L195.4 286.1L195.1 286.9L194.1 286.9L193.2 286.9L192.2 286.9L191.5 287.1L190.8 287.4L190 287.1L189.1 287.8L188.1 288.4L187.3 288.9L186.4 289.4L185.8 290L185.3 290.5L184.7 291.5L184.1 292.4L184 293.1L183.8 293.8L182.9 294.1L182 294.1L181.1 294.1L180.4 293.8L180.2 293.1L180 292.4L179.6 291.7L179.2 291.1L178.2 291.4L177.3 291.7L176.5 291L176.2 289.8L175.9 288.7L175.5 287.7L176 287.1L176.5 286.4L177.7 286.6L178.9 286.7L179.9 286.7L180.9 286.7L182 286.6L183 286.6L184 286.6L183.8 285.3L183.7 284.1L183.6 282.9L183.5 281.7L183.4 280.5L183.3 279.3L183.3 278.1L183.6 276.9L184 275.6L184.3 274.4L184.7 273.2L184.7 273.1L185.7 273.9L186.6 274.6L187.5 275.3L188.4 276L189.3 276.7L190.2 277.4L191.1 278.1L192.1 278.8L192.8 279.4L193.7 279.9L194.5 280.5Z" fill="url(#hatch)" stroke="#c4c4c4" stroke-width="0.5"/>
<path d="M202.2 277.7L203.2 276.9L204.2 276.1L205.2 275.3L206 275.7L206.9 276.1L207.7 276.5L208.3 276.2L208.9 276L209.1 277L209.4 278L209.6 279.1L209.9 280.3L209.8 281.4L209.7 282.5L209.7 283.5L209.6 284.6L209 285.6L208.4 286.6L207.9 287.8L207.5 289.1L206.8 289.5L206.1 290L204.9 289.8L203.7 289.7L202.7 289.8L201.7 290L200.6 290.1L199.9 289.7L199.2 289.3L198.2 289.1L197.3 289L196.5 289.2L195.7 289.4L195.4 290.7L195.1 291.9L194.2 291.1L193.6 291.7L193.1 290.5L192.4 290.1L191.7 289.7L191.1 288.7L190.8 287.4L191.5 287.1L192.2 286.9L193.2 286.9L194.1 286.9L195.1 286.9L195.4 286.1L195.8 285.3L195.8 284L195.8 282.7L195.8 281.4L196.8 281.2L197.7 281.1L198.4 280.4L199.1 279.7L199.8 279.1L200.6 278.6L201.4 278.1L202.2 277.7Z" fill="url(#hatch)" stroke="#c4c4c4" stroke-width="0.5"/>
<path d="M218.5 288.7L218.4 289.5L218.4 290.4L217.9 291.5L218.4 291.9L218.9 292.4L219.1 293.1L218.3 293.6L217.5 294.2L216.7 294.8L215.9 295.1L215.1 295.4L214.3 295.8L213.6 296.9L212.8 297.2L212 297.5L211.2 297.7L210.5 297.8L209.9 297.9L209.2 296.8L208.5 295.8L208.9 295.1L209.3 294.4L208.6 293.3L208 292.2L208.7 291.5L208.3 290.9L208 290.2L207.5 289.1L207.9 287.8L208.4 286.6L209 285.6L209.6 284.6L209.7 283.5L209.7 282.5L209.8 281.4L209.9 280.3L209.6 279.1L209.4 278L209.1 277L208.9 276L210 276.5L211.1 276.9L212.2 277.4L213.4 277.9L214.5 278.4L215.6 278.9L216.7 279.4L217.8 279.9L219 280.4L220.1 280.9L220.1 282.3L220.2 283.6L220.2 284.9L220.3 286.3L219.7 287.1L219.1 287.9L218.5 288.7Z" fill="url(#hatch)" stroke="#c4c4c4" stroke-width="0.5"/>
<path d="M238 283L237.4 284L236.8 284.9L236.2 285.9L236 287.1L235.8 288.3L235.2 289.5L234.6 290.7L234.3 291.6L234 292.5L233.5 293.7L233 294.9L232.5 293.7L232.1 292.6L231.6 291.4L230.9 291.5L230.3 291.5L229.9 292.6L229.4 293.7L228.9 294.8L228.1 294.7L227.3 294.6L226.4 294.9L225.4 295.2L224.5 295.1L223.6 295.1L222.8 294.5L222.1 293.9L221.4 295.1L220.7 296.2L220.5 295.1L220.2 294.4L219.9 293.6L219.1 293.1L218.9 292.4L218.4 291.9L217.9 291.5L218.4 290.4L218.4 289.5L218.5 288.7L219.1 287.9L219.7 287.1L220.3 286.3L220.2 284.9L220.2 283.6L220.1 282.3L220.1 280.9L220.1 280.2L221.3 280.2L221.2 278.8L221.2 277.4L222.4 277.4L223.6 277.4L224.8 277.4L226 277.4L227.2 277.4L228.5 277.4L229.7 277.4L230.9 277.4L232.1 277.4L233.3 277.4L234.5 277.4L235.7 277.4L236 278.1L236.3 278.8L236.4 279.8L236.5 280.9L237.3 282L238 283Z" fill="url(#hatch)" stroke="#c4c4c4" stroke-width="0.5"/>
<path d="M225.4 295.2L226.4 294.9L227.3 294.6L228.1 294.7L228.9 294.8L229.4 293.7L229.9 292.6L230.3 291.5L230.9 291.5L231.6 291.4L232.1 292.6L232.5 293.7L233 294.9L233 295.7L232.9 296.5L232.3 297L231.7 297.5L232.2 298.3L232.6 299.2L233.4 300L234.3 300.9L234.8 301.4L235.4 302L234.2 302.3L233 302.6L232.4 302.8L231.8 303.1L231 303.2L230.1 303.2L229.3 303.3L229.1 303.5L228.3 303.1L227.6 302.6L226.8 302.1L225.9 301.8L224.9 301.4L224.8 301.3L224 300.6L223.2 300L222.4 299.3L221.8 298.3L221.3 297.2L220.7 296.2L221.4 295.1L222.1 293.9L222.8 294.5L223.6 295.1L224.5 295.1L225.4 295.2Z" fill="url(#hatch)" stroke="#c4c4c4" stroke-width="0.5"/>
<path d="M242.3 289.7L243.2 290.1L244.1 290.5L243.2 290.8L242.6 290.1L242 289.4L241.4 288.7L240.8 288.3L240.1 288L239.2 288.1L238.3 288.1L237.7 288.3L237 288.4L236.4 288.3L235.8 288.3L236 287.1L236.2 285.9L236.8 284.9L237.4 284L238 283L238.5 284.2L239 285.4L239.4 286.6L240.1 287.3L240.7 288L241.5 288.8L242.3 289.7Z" fill="url(#hatch)" stroke="#c4c4c4" stroke-width="0.5"/>
<path d="M244.5 292.2L243.9 292.9L243.2 292.9L242.5 292.9L242.9 291.9L243.2 290.8L244.1 290.5L244.4 291.7L244.7 292.1L244.5 292.2Z" fill="url(#hatch)" stroke="#c4c4c4" stroke-width="0.5"/>
<path d="M250.2 292.8L251.2 292.6L252.1 292.4L253.2 292.1L254.3 291.8L254.2 292.8L254 293.8L253.9 294.8L253.8 295.8L253.4 296.8L252.9 297.9L252.3 298.8L251.7 299.8L251.1 300.7L250.5 301.6L249.9 302.4L249.3 303.3L248.7 304.1L248.1 304.9L247.4 305.7L246.6 306.4L245.8 307.1L245 307.8L244.3 308.5L243.7 309.1L243.1 309.8L242.6 310.9L242.2 310.3L241.8 309.8L241.8 308.5L241.8 307.2L241.8 305.8L241.8 304.5L242.4 303.7L242.9 302.8L243.9 302.2L244.9 301.6L245.8 301.5L246.8 301.4L247.5 300.6L248.2 299.7L248.9 298.9L249.7 298L250.4 297.2L249.1 297.2L247.9 297.2L247.1 296.7L246.2 296.2L245.4 295.8L244.9 294.8L244.4 293.9L243.9 292.9L244.5 292.2L244.7 292.1L245.3 292.9L245.9 293.8L246.9 293.6L247.8 293.4L248.6 293.2L249.4 293L250.2 292.8Z" fill="url(#hatch)" stroke="#c4c4c4" stroke-width="0.5"/>
<path d="M240.1 288L240.8 288.3L241.4 288.7L242 289.4L242.6 290.1L243.2 290.8L242.9 291.9L242.5 292.9L243.2 292.9L243.9 292.9L244.4 293.9L244.9 294.8L245.4 295.8L246.2 296.2L247.1 296.7L247.9 297.2L249.1 297.2L250.4 297.2L249.7 298L248.9 298.9L248.2 299.7L247.5 300.6L246.8 301.4L245.8 301.5L244.9 301.6L243.9 302.2L242.9 302.8L242.2 302.7L241.5 302.6L240.7 303.1L239.9 303.5L239 303.5L238.1 303.4L237.2 303L236.4 302.7L235.5 302.3L235.4 302L234.8 301.4L234.3 300.9L233.4 300L232.6 299.2L232.2 298.3L231.7 297.5L232.3 297L232.9 296.5L233 295.7L233 294.9L233.5 293.7L234 292.5L234.3 291.6L234.6 290.7L235.2 289.5L235.8 288.3L236.4 288.3L237 288.4L237.7 288.3L238.3 288.1L239.2 288.1L240.1 288Z" fill="url(#hatch)" stroke="#c4c4c4" stroke-width="0.5"/>
<path d="M239.5 315.1L238.9 314.3L238.2 313.5L237.6 312.7L236.6 312.2L235.7 311.6L234.8 311L233.9 310.5L233 309.9L233.1 309.9L233.1 308.8L233.1 307.7L233.7 306.7L234.3 305.8L234.3 304.7L234.2 303.5L233.6 303.1L233 302.6L234.2 302.3L235.4 302L235.5 302.3L236.4 302.7L237.2 303L238.1 303.4L239 303.5L239.9 303.5L240.7 303.1L241.5 302.6L242.2 302.7L242.9 302.8L242.4 303.7L241.8 304.5L241.8 305.8L241.8 307.2L241.8 308.5L241.8 309.8L242.2 310.3L242.6 310.9L241.9 311.5L241.2 312L240.7 313L240.2 314L239.5 315.1Z" fill="url(#hatch)" stroke="#c4c4c4" stroke-width="0.5"/>
<path d="M233.1 307.7L233.1 308.8L233.1 309.9L233 309.9L232 309.9L231 309.9L230.1 309.9L229.1 309.9L228 310.5L227.6 310.5L227.6 309.5L227.6 308.5L227.8 307.6L228.1 306.7L228.7 306L229.3 305.2L229.2 304.4L229.1 303.5L229.3 303.3L230.1 303.2L231 303.2L231.8 303.1L232.4 302.8L233 302.6L233.6 303.1L234.2 303.5L234.3 304.7L234.3 305.8L233.7 306.7L233.1 307.7Z" fill="url(#hatch)" stroke="#c4c4c4" stroke-width="0.5"/>
<path d="M228 310.5L228.7 310.1L229 311L229.2 311.9L228.7 311.9L227.8 312.2L226.8 312.5L226.7 311.8L227 310.6L227.6 310.5L228 310.5Z" fill="url(#hatch)" stroke="#c4c4c4" stroke-width="0.5"/>
<path d="M229.1 313.2L228.2 313.9L227.3 314.7L227.2 313.9L227.1 313.2L226.8 312.5L227.8 312.2L228.7 311.9L229.2 311.9L229.1 313.2Z" fill="url(#hatch)" stroke="#c4c4c4" stroke-width="0.5"/>
<path d="M240 322.6L240.8 323.4L239.9 323.7L239 324.1L238.1 324.5L237.2 324.9L236.1 324.8L235.1 324.6L234.3 324.8L233.6 324.9L233.4 323.9L233.1 322.9L232.9 321.9L232.3 321.9L231.7 321.8L231.5 321.8L230.6 321.3L229.7 320.8L228.8 320.2L228.4 319.2L228 318.1L227.5 317L227.4 315.9L227.3 314.7L228.2 313.9L229.1 313.2L229.2 311.9L229 311L228.7 310.1L229.1 309.9L230.1 309.9L231 309.9L232 309.9L233 309.9L233.9 310.5L234.8 311L235.7 311.6L236.6 312.2L237.6 312.7L238.2 313.5L238.9 314.3L239.5 315.1L239.3 316.4L239.1 317.7L239.4 318.8L239.7 319.8L239.8 320.8L239.9 321.7L240 322.6Z" fill="url(#hatch)" stroke="#c4c4c4" stroke-width="0.5"/>
<path d="M201.5 309.5L202 308.3L202.5 307.1L202.8 307.1L203.8 307.1L204.7 307.1L204.7 306.3L204.7 305.4L205.6 305.4L206.4 305.4L207.2 305.4L207.1 306.7L208.1 306.8L208.3 308L208.6 309.2L208.5 310.2L208.3 311.2L207.8 311.6L207 311.8L206.2 311.9L205.2 311.9L205.3 312.6L205.3 313.3L204.7 313.8L204.3 313.5L203.7 312.7L203.1 312L202.5 311.3L202 310.4L201.5 309.5Z" fill="url(#hatch)" stroke="#c4c4c4" stroke-width="0.5"/>
<path d="M204.7 305.4L204.7 306.3L204.7 307.1L203.8 307.1L202.8 307.1L202.5 306.8L202.7 306L202.8 305.2L203.8 305.3L204.7 305.4Z" fill="url(#hatch)" stroke="#c4c4c4" stroke-width="0.5"/>
<path d="M205.3 313.3L205.3 312.6L205.2 311.9L206.2 311.9L207 311.8L207.8 311.6L208.3 311.2L208.5 310.2L208.6 309.2L208.3 308L208.1 306.8L207.1 306.7L207.2 305.4L208 305.4L208.8 305.4L209.7 305.3L210.6 305.2L210.7 304.3L210.8 303.4L211.6 303.5L212.5 303.5L213.1 303.5L213.8 303.5L213.6 304.8L213.4 306.1L213.2 307.4L212.9 308.6L212.7 309.9L211.8 310.8L210.8 311.6L210.6 312.8L210.5 314L209.6 314.6L208.5 314.9L207.4 315.3L206.8 315.4L206.2 315.6L205.6 315.6L205.3 314.9L205 314.2L204.7 313.8L205.3 313.3Z" fill="url(#hatch)" stroke="#c4c4c4" stroke-width="0.5"/>
<path d="M201.5 302.1L201.1 302.2L201.3 301.9L201.5 301.1L201.7 300.3L202.3 299.8L202.8 299.3L203.6 299.1L204.3 298.9L205.3 298.6L205.6 297.9L205.8 297.2L206.7 296.2L206.9 295.2L207.1 294.2L207.6 293.4L208.1 292.7L208.2 292.5L208.7 293.4L209.3 294.4L208.9 295.1L208.5 295.8L209.2 296.8L209.9 297.9L209.3 298.9L208.7 300L208.8 301.1L208.8 302.1L209.4 303.2L210 304.2L210.6 305.2L209.7 305.3L208.8 305.4L208 305.4L207.2 305.4L206.4 305.4L205.6 305.4L204.7 305.4L203.8 305.3L202.8 305.2L202.8 305L202.7 304L202.5 303.1L202 302.6L201.5 302.1Z" fill="url(#hatch)" stroke="#c4c4c4" stroke-width="0.5"/>
<path d="M214.3 295.8L215.1 295.4L215.9 295.1L216.7 294.8L217.5 294.2L218.3 293.6L219.1 293.1L219.9 293.6L220.2 294.4L220.5 295.1L220.7 296.2L221.3 297.2L221.8 298.3L222.4 299.3L223.2 300L224 300.6L224.8 301.3L223.8 301.3L222.8 301.4L221.8 301.4L220.8 301.8L219.7 302.2L218.7 302.6L217.9 302.5L217 302.4L216.2 302.3L215.3 302.7L214.3 303.1L213.8 303.5L213.1 303.5L212.5 303.5L211.6 303.5L210.8 303.4L210.7 304.3L210.6 305.2L210 304.2L209.4 303.2L208.8 302.1L208.8 301.1L208.7 300L209.3 298.9L209.9 297.9L210.5 297.8L211.2 297.7L212 297.5L212.8 297.2L213.6 296.9L214.3 295.8Z" fill="url(#hatch)" stroke="#c4c4c4" stroke-width="0.5"/>
<path d="M196.8 300.3L196.2 299.6L195.5 299.5L194.8 299.4L194 299.5L194 298.3L194 297L194.1 295.8L194.6 295.1L195.1 294.4L195.1 293.1L195.1 291.9L195.4 290.7L195.7 289.4L196.5 289.2L197.3 289L198.2 289.1L199.2 289.3L199.9 289.7L200.6 290.1L201.7 290L202.7 289.8L203.7 289.7L204.9 289.8L206.1 290L206.8 289.5L207.5 289.1L208 290.2L208.1 290.5L208.1 291.3L208.1 292.1L208 292.2L208.1 292.4L208.1 292.7L207.6 293.4L207.1 294.2L206.9 295.2L206.7 296.2L205.8 297.2L205.6 297.9L205.3 298.6L204.3 298.9L203.6 299.1L202.8 299.3L202.3 299.8L201.7 300.3L201.5 301.1L201.3 301.9L201.1 302.2L200.2 302.2L199.3 302.3L198.4 302L197.5 301.7L197.2 301L196.8 300.3Z" fill="url(#hatch)" stroke="#c4c4c4" stroke-width="0.5"/>
<path d="M191.7 292.9L192.4 292.7L193.1 292.4L193.6 291.7L194.2 291.1L195.1 291.9L195.1 293.1L195.1 294.4L194.6 295.1L194.1 295.8L194 297L194 298.3L194 299.5L193.3 299.6L192.6 299.7L192.6 298.4L192.6 297.1L192.6 295.8L192.3 294.8L192 293.9L191.7 292.9Z" fill="url(#hatch)" stroke="#c4c4c4" stroke-width="0.5"/>
<path d="M191.2 296.5L191 295.5L190.7 294.5L190.5 293.5L190.6 292.9L191.7 292.9L192 293.9L192.3 294.8L192.6 295.8L192.6 297.1L192.6 298.4L192.6 299.7L192.1 299.9L191.7 298.9L191.2 297.9L191.2 296.5Z" fill="url(#hatch)" stroke="#c4c4c4" stroke-width="0.5"/>
<path d="M188.1 301.9L187.4 301.6L186.7 301.3L186.9 299.9L187.1 298.6L187.3 297.7L187.5 296.9L187.3 296L187.1 295.1L187.1 294L187.1 292.9L188.2 292.9L189.4 292.8L190.5 292.8L190.6 292.9L190.5 293.5L190.7 294.5L191 295.5L191.2 296.5L191.2 297.9L191.7 298.9L192.1 299.9L191.3 300.2L190.6 300.4L189.7 300.9L188.7 301.4L188.1 301.9Z" fill="url(#hatch)" stroke="#c4c4c4" stroke-width="0.5"/>
<path d="M186.4 289.4L187.3 288.9L188.1 288.4L189.1 287.8L190 287.1L190.8 287.4L191.1 288.7L191.7 289.7L192.4 290.1L193.1 290.5L193.6 291.7L193.1 292.4L192.4 292.7L191.7 292.9L190.6 292.9L190.5 292.8L189.4 292.8L188.2 292.9L187.1 292.9L187.1 293.9L187.1 294.9L186.1 294.5L185 294.9L184.4 294.4L183.8 293.8L184 293.1L184.1 292.4L184.7 291.5L185.3 290.5L185.8 290L186.4 289.4Z" fill="url(#hatch)" stroke="#c4c4c4" stroke-width="0.5"/>
<path d="M181.2 302.3L181.2 301.5L181.1 300.7L180.6 300L180 299.3L180.1 298.6L180.3 297.9L180.4 297.7L180.6 296.5L180.9 295.3L180.6 294.6L180.4 293.8L181.1 294.1L182 294.1L182.9 294.1L183.8 293.8L184.4 294.4L185 294.9L186.1 294.5L187.1 294.9L187.1 295.1L187.3 296L187.5 296.9L187.3 297.7L187.1 298.6L186.9 299.9L186.7 301.3L185.6 301.1L184.7 301.2L183.7 301.3L182.9 301.6L182.1 301.9L181.2 302.3Z" fill="url(#hatch)" stroke="#c4c4c4" stroke-width="0.5"/>
<path d="M176.3 298.7L177 297.6L177.8 296.5L178.9 296.5L179.6 297.2L180.3 297.9L180.1 298.6L180 299.3L180.6 300L181.1 300.7L181.2 301.5L181.2 302.3L180.3 301.9L179.4 301.4L178.4 300.5L177.5 299.6L176.9 299.2L176.3 298.7Z" fill="url(#hatch)" stroke="#c4c4c4" stroke-width="0.5"/>
<path d="M175 294.5L175.9 294.4L176.7 294.4L177.3 295.3L177.8 296.5L177 297.6L176.3 298.7L175.3 298L174.4 297.2L174.2 296.5L174 295.8L174.5 295.1L175 294.5Z" fill="url(#hatch)" stroke="#c4c4c4" stroke-width="0.5"/>
<path d="M171.4 289.3L172.4 289.2L173.5 289.1L173.5 289.6L172.4 289.6L171.4 289.7L170.6 289.8L169.8 289.9L169.8 289.8L169.7 289.3L170.6 289.3L171.4 289.3Z" fill="url(#hatch)" stroke="#c4c4c4" stroke-width="0.5"/>
<path d="M173.6 290.7L173.6 291.9L172.8 292.5L172 293.1L171.3 292.7L170.7 292.2L170.3 291.6L169.9 291L170.8 290.9L171.7 290.8L172.7 290.7L173.6 290.7Z" fill="url(#hatch)" stroke="#c4c4c4" stroke-width="0.5"/>
<path d="M173.6 291.9L173.6 290.7L174.5 290.8L175.3 291L176.5 291L177.3 291.7L178.2 291.4L179.2 291.1L179.6 291.7L180 292.4L180.2 293.1L180.4 293.8L180.6 294.6L180.9 295.3L180.6 296.5L180.4 297.7L180.3 297.9L179.6 297.2L178.9 296.5L177.8 296.5L177.3 295.3L176.7 294.4L175.9 294.4L175 294.5L174.5 295.1L174 295.8L173.3 294.9L172.6 294.1L172 293.1L172.8 292.5L173.6 291.9Z" fill="url(#hatch)" stroke="#c4c4c4" stroke-width="0.5"/>
<path d="M168.9 287.7L169.6 286.8L170.2 285.9L170.2 285.7L171.1 285.5L172 285.2L172.9 285L173.7 285.7L174.5 286.4L175 287.1L175.5 287.7L175.9 288.7L176.2 289.8L176.5 291L175.3 291L174.5 290.8L173.6 290.7L172.7 290.7L171.7 290.8L170.8 290.9L169.9 291L169.8 289.9L170.6 289.8L171.4 289.7L172.4 289.6L173.5 289.6L173.5 289.1L172.4 289.2L171.4 289.3L170.6 289.3L169.7 289.3L169.7 288.7L168.9 287.7Z" fill="url(#hatch)" stroke="#c4c4c4" stroke-width="0.5"/>
<path d="M207.8 324.1L207.5 323.1L207.3 322.2L207 321.2L206.7 320.3L206.5 319.3L206.2 318.4L206 317.7L205.8 317L206.8 316.8L207.8 316.8L208.9 316.8L209.9 316.8L210.9 316.8L211.1 317.6L211.3 318.4L211.8 319.1L212.4 319.8L213.3 319.8L214.3 319.8L215.4 319.5L216.6 319.2L217.8 318.8L217.8 319.9L217.7 320.9L217.7 321.9L218 323L218.3 324.1L219.4 324.1L220.4 324.1L220.4 325.5L220.4 326.9L219.1 326.9L217.9 326.9L217.9 328L217.8 329.2L217.8 330.3L217.8 331.4L218.6 332.4L219.4 333.4L218.4 333.6L217.4 333.8L216.3 334L215.4 333.7L214.4 333.4L213.4 333.1L212.3 333.1L211.1 333.1L210 333.1L208.9 333.1L207.7 333.1L206.9 333.1L206 333L205.1 333L205.3 331.7L205.4 330.4L205.7 329.5L205.9 328.5L206.1 327.6L206.6 326.4L207.2 325.2L207.8 324.1Z" fill="url(#hatch)" stroke="#c4c4c4" stroke-width="0.5"/>
<path d="M224.4 324.9L224.9 325.5L225.3 326.2L225.9 326.8L226.5 327.5L227.3 327.2L227.4 326.5L227.6 325.8L227.1 324.7L226.6 323.7L226.1 322.6L226.1 321.6L226.2 320.5L227.1 320.4L228 320.3L228.8 320.2L229.7 320.8L230.6 321.3L231.5 321.8L231.7 321.8L231.8 322.8L232 323.8L231.9 324.8L231.8 325.9L231.5 326.8L231.1 327.7L231.7 328.3L230.8 328.9L230 329.4L229.1 330L228.2 330.6L227.3 330.9L226.4 331.1L225.6 332L224.7 332.9L223.9 333.8L222.8 333.8L221.8 333.7L220.6 333.5L219.4 333.4L218.6 332.4L217.8 331.4L217.8 330.3L217.8 329.2L217.9 328L217.9 326.9L219.1 326.9L220.4 326.9L220.4 325.5L220.4 324.1L221.2 324.2L222 324.3L222.9 325.3L223.6 325.1L224.4 324.9Z" fill="url(#hatch)" stroke="#c4c4c4" stroke-width="0.5"/>
<path d="M234 327.5L234.5 328.5L235 329.6L234.9 330.4L234.8 331.3L234.4 332L234 332.7L233.5 331.8L233 330.9L233.1 329.9L233.3 329L232.5 328.7L231.7 328.3L231.1 327.7L231.5 326.8L231.8 325.9L231.9 324.8L232 323.8L231.8 322.8L231.7 321.8L232.3 321.9L232.9 321.9L233.1 322.9L233.4 323.9L233.6 324.9L233.8 326.2L234 327.5Z" fill="url(#hatch)" stroke="#c4c4c4" stroke-width="0.5"/>
<path d="M231.1 336.8L230.8 337.5L230.4 338.2L229.6 339.2L228.9 340.2L227.7 340.1L226.5 339.9L225.7 339.4L224.9 338.9L224.5 338.2L224.1 337.5L223.3 336.8L222.5 336.1L222.2 334.9L221.8 333.7L222.8 333.8L223.9 333.8L224.7 332.9L225.6 332L226.4 331.1L227.3 330.9L228.2 330.6L229.2 331.1L230.2 331.6L231.2 332.1L231.1 333.4L231.1 334.7L231.1 335.7L231.1 336.8Z" fill="url(#hatch)" stroke="#c4c4c4" stroke-width="0.5"/>
<path d="M240 331.1L239 331.8L237.9 332.6L236.8 333.3L236 334.2L235.1 335.1L234.2 336.1L233.3 336.5L233.6 337.7L233.8 338.9L233.8 340L233.9 341.1L233.9 342.2L233.1 342.8L232.3 343.4L231.5 344L230.7 344.6L230.2 345.1L230.3 345.9L230.4 346.6L229.9 345.9L229.4 345.1L229.4 344.2L229.4 343.2L229.2 342.2L229 341.2L228.9 340.2L229.6 339.2L230.4 338.2L230.8 337.5L231.1 336.8L231.1 335.7L231.1 334.7L231.1 333.4L231.2 332.1L230.2 331.6L229.2 331.1L228.2 330.6L229.1 330L230 329.4L230.8 328.9L231.7 328.3L232.5 328.7L233.3 329L233.1 329.9L233 330.9L233.5 331.8L234 332.7L234.4 332L234.8 331.3L234.9 330.4L235 329.6L234.5 328.5L234 327.5L233.8 326.2L233.6 324.9L234.3 324.8L235.1 324.6L236.1 324.8L237.2 324.9L238.1 324.5L239 324.1L239.9 323.7L240.8 323.4L240.9 324.3L240.9 325.2L241 326.2L241 327.1L241 328.1L241 329L240.5 330.1L240 331.1Z" fill="url(#hatch)" stroke="#c4c4c4" stroke-width="0.5"/>
<path d="M224.9 338.9L225.7 339.4L226.5 339.9L225.5 340.6L224.5 341.2L223.5 341.9L222.7 342.9L222 343.9L221.2 344.4L220.3 345L219.2 345.1L218.1 345.3L217.4 345.7L216.6 346.1L215.9 346.6L215.6 345.5L215.3 344.5L214.9 343.5L215 342.2L215 340.9L215.1 339.6L216.3 339.6L216.3 338.3L216.4 337L216.4 335.7L216.5 334.4L217.4 334.1L218.4 333.7L219.4 333.4L220.6 333.5L221.8 333.7L222.2 334.9L222.5 336.1L223.3 336.8L224.1 337.5L224.5 338.2L224.9 338.9Z" fill="url(#hatch)" stroke="#c4c4c4" stroke-width="0.5"/>
<path d="M207.1 338.2L206.7 337.2L206.3 336.1L205.8 335L205.4 334L205.1 333L206 333L206.9 333.1L207.7 333.1L208.9 333.1L210 333.1L211.1 333.1L212.3 333.1L213.4 333.1L214.4 333.4L215.4 333.7L216.3 334L217.4 333.8L218.4 333.6L219.4 333.4L218.4 333.7L217.4 334.1L216.5 334.4L216.4 335.7L216.4 337L216.3 338.3L216.3 339.6L215.1 339.6L215 340.9L215 342.2L214.9 343.5L214.9 344.8L214.8 346.1L214.8 347.4L214.7 348.7L213.7 348.8L212.6 349L211.6 349.1L210.5 349L210 348.2L209.5 347.5L209 346.7L208.9 345.6L208.7 344.4L208.6 343.3L208.4 342.2L208.3 341L207.9 340.1L207.5 339.2L207.1 338.2Z" fill="url(#hatch)" stroke="#c4c4c4" stroke-width="0.5"/>
<path d="M225.6 350.9L225 351.4L224.4 351.8L223.7 351.4L223 350.9L223 350.4L223.7 349.7L224.3 349.1L225.1 349.5L225.9 350L225.6 350.9Z" fill="url(#hatch)" stroke="#c4c4c4" stroke-width="0.5"/>
<path d="M228.2 347L228.2 346.1L228.2 345.1L228.9 345.4L229.5 345.6L229.4 346.3L229.3 347L228.2 347Z" fill="url(#hatch)" stroke="#c4c4c4" stroke-width="0.5"/>
<path d="M226.4 352.8L225.6 353.6L224.7 354.4L223.8 355.2L222.9 355.8L222 356.3L221.1 356.5L220.2 356.6L219.4 356.7L218.6 356.7L217.8 356.7L216.9 357L216 357.2L215.1 357.5L214.2 357.7L213.3 357.4L212.5 357L212.2 356L212 354.9L211.8 353.8L211.5 352.7L211.3 351.7L211 350.8L210.8 349.9L210.5 349L211.6 349.1L212.6 349L213.7 348.8L214.7 348.7L214.8 347.4L214.8 346.1L214.9 344.8L214.9 343.5L215.3 344.5L215.6 345.5L215.9 346.6L216.6 346.1L217.4 345.7L218.1 345.3L219.2 345.1L220.3 345L221.2 344.4L222 343.9L222.7 342.9L223.5 341.9L224.5 341.2L225.5 340.6L226.5 339.9L227.7 340.1L228.9 340.2L229 341.2L229.2 342.2L229.4 343.2L229.4 344.2L229.4 345.1L229.9 345.9L230.4 346.6L230 347.7L229.6 348.8L228.7 349.8L227.8 350.8L227.1 351.8L226.4 352.8ZM224.3 349.1L223.7 349.7L223 350.4L223 350.9L223.7 351.4L224.4 351.8L225 351.4L225.6 350.9L225.9 350L225.1 349.5L224.3 349.1ZM228.2 347L229.3 347L229.4 346.3L229.5 345.6L228.9 345.4L228.2 345.1L228.2 346.1L228.2 347Z" fill="url(#hatch)" stroke="#c4c4c4" stroke-width="0.5"/>
<path d="M245.1 336.8L245 335.7L245 334.7L244.9 333.6L244.9 332.6L245.5 331.8L246.2 331.1L247.1 330.9L248.1 330.7L248.7 329.9L249.2 329.1L249.8 328.3L250.5 327.5L251.1 326.6L251.8 325.5L252.1 326.7L252.4 327.8L252.7 329L252.8 329.8L252.9 330.6L252.5 331.5L252 332.4L251.6 333.3L251.3 334.2L250.9 335.1L250.6 336.1L250.2 337.1L249.8 338.1L249.5 339.2L249.1 340.2L248.7 341.4L248.3 342.6L247.9 343.7L247.1 344.1L246.3 344.4L245.5 344.7L244.8 344.2L244.1 343.7L243.9 342.7L243.8 341.7L243.7 340.5L243.6 339.3L244.1 338.5L244.6 337.6L245.1 336.8Z" fill="url(#hatch)" stroke="#c4c4c4" stroke-width="0.5"/>
<path d="M207.4 315.3L208.5 314.9L209.6 314.6L210.5 314L210.6 312.8L210.8 311.6L211.8 310.8L212.7 309.9L212.9 308.6L213.2 307.4L213.4 306.1L213.6 304.8L213.8 303.5L214.3 303.1L215.3 302.7L216.2 302.3L217 302.4L217.9 302.5L218.7 302.6L219.7 302.2L220.8 301.8L221.8 301.4L222.8 301.4L223.8 301.3L224.8 301.3L224.9 301.4L225.9 301.8L226.8 302.1L227.6 302.6L228.3 303.1L229.1 303.5L229.2 304.4L229.3 305.2L228.7 306L228.1 306.7L227.8 307.6L227.6 308.5L227.6 309.5L227.6 310.5L227 310.6L226.7 311.8L226.8 312.5L227.1 313.2L227.2 313.9L227.3 314.7L227.4 315.9L227.5 317L228 318.1L228.4 319.2L228.8 320.2L228 320.3L227.1 320.4L226.2 320.5L226.1 321.6L226.1 322.6L226.6 323.7L227.1 324.7L227.6 325.8L227.4 326.5L227.3 327.2L226.5 327.5L225.9 326.8L225.3 326.2L224.9 325.5L224.4 324.9L223.6 325.1L222.9 325.3L222 324.3L221.2 324.2L220.4 324.1L219.4 324.1L218.3 324.1L218 323L217.7 321.9L217.7 320.9L217.8 319.9L217.8 318.8L216.6 319.2L215.4 319.5L214.3 319.8L213.3 319.8L212.4 319.8L211.8 319.1L211.3 318.4L211.1 317.6L210.9 316.8L209.9 316.8L208.9 316.8L207.8 316.8L206.8 316.8L205.8 317L205.7 316.3L205.6 315.6L206.2 315.6L206.8 315.4L207.4 315.3Z" fill="url(#hatch)" stroke="#c4c4c4" stroke-width="0.5"/>
<path d="M253.3 273L253.4 273.4L253.2 273.4L252.9 273.7L253.3 273ZM248.8 266.1L248.9 266.1L249.2 265.6L248.8 266.2L248.3 266.8L248.6 266.4L248.2 266.2L248.8 266.1ZM243 284.8L243.2 285.1L243.4 285.3L243.4 285.8L243.5 286.7L243.6 287.6L243.4 286.4L243.3 285.3L243 284.8ZM237.3 262.9L236.9 262.1L236.6 261.2L237 262.1L237.4 262.9L238.1 263.2L238.8 263.4L238 263.2L237.3 262.9ZM232.7 267.6L232.5 266.8L232.6 266.8L232.7 266.1L232.8 265.3L232.7 266.1L232.6 266.9L233.3 267L234 267.2L233.3 267.1L232.7 267L232.6 267.4L232.7 267.6ZM231.5 264.2L231.7 263.5L232 262.8L231.8 263.8L231.5 264.2ZM208 292.2L208.1 292.1L208.1 291.3L208.1 290.5L208 290.2L208.3 290.9L208.7 291.5L208 292.2ZM202.5 306.8L202.8 307.1L202.5 307.1L202.5 306.8ZM184.8 273.1L185.7 273.8L186.6 274.5L187.5 275.3L188.4 276L189.3 276.7L190.2 277.4L191.2 278.1L192.1 278.8L191.1 278.1L190.2 277.4L189.3 276.7L188.4 276L187.5 275.3L186.6 274.6L185.7 273.9L184.7 273.1L184.8 273.1Z" fill="url(#hatch)" stroke="#c4c4c4" stroke-width="0.5"/>
<path d="M82 290L81.9 289.9L81.9 289.8L82.3 290.1L82.2 290.2L82 290ZM95.2 280.4L95.4 280.2L96.3 280.4L95.2 280.4ZM216.9 250L216.6 250.3L216.8 249.8L216.9 250ZM220.6 249.5L220.9 249.3L221 249.7L220.6 249.5ZM263.7 266.3L263.9 265.2L264.2 264.2L264 265.2L263.7 266.3ZM336.6 255L337.3 255.1L338 255.2L337.3 255.1L336.6 255ZM282.3 241.9L282.7 241.9L282.4 242.2L282.3 241.9Z" fill="url(#hatch)" stroke="#c4c4c4" stroke-width="0.5"/>
<path d="M551 203.3L551 202.8L551.9 202.6L552.8 202.4L553.7 202.3L554.5 202.1L555.4 201.9L556.2 201.7L557.1 201.5L558 201.3L558.9 201L559.7 200.8L560.6 200.5L561.5 200.2L562.4 199.9L563.2 199.7L563.9 199.6L564.7 199.6L565.4 199.5L566.1 199.5L566.9 199.4L567.6 199.4L568.3 199.3L569 199.3L569.8 199.2L570.5 199.2L571.2 199.1L571.9 199.1L572.7 199L573.4 198.9L574.1 198.9L574.9 198.8L575.6 198.7L576.3 198.6L577 198.6L577.7 198.5L578.5 198.4L579.2 198.3L579.9 198.3L580.6 198.3L581.3 198.3L582.1 198.3L582.8 198.3L583.5 198.3L584.3 198.3L585 198.3L585.7 198.3L586.5 198.3L587.2 198.3L587.8 198.4L588.5 198.4L589.1 198.5L589.7 198.6L590.4 198.7L591 198.8L591.6 198.8L592.3 198.9L592.9 199L593.5 199.1L594.2 199.2L594.8 199.3L595.5 199.3L596.1 199.4L596.8 199.5L597.5 199.6L598.1 199.7L598.8 199.8L599.4 199.9L600.1 199.9L599.4 200.1L598.7 200.3L598 200.5L597.3 200.7L596.6 200.9L595.9 201.1L595.2 201.3L594.8 202.1L594.5 202.8L594.1 203.6L593.7 204.4L593.7 205.1L593.6 205.8L593.6 206.5L593 207.1L592.4 207.7L591.7 208.2L591 208.8L590.6 209.5L590.1 210.3L589.7 211.1L589 211.5L588.3 211.9L587.6 212.3L586.9 212.6L586 213L585.2 213.3L584.4 213.7L583.6 214L582.8 214.1L582 214.2L581.3 214.3L580.5 214.4L579.7 214.5L578.9 214.7L578 215.1L577.2 215.6L576.4 216.1L575.5 216.6L574.7 217.1L573.8 217.6L572.9 218L572 218.5L571 219L570.3 219.7L569.6 220.5L568.8 221.3L568.1 222.1L567.2 223.1L566.2 224L565.3 224.9L564.6 224.6L563.9 224.3L563.2 224L562.5 223.7L561.8 223.4L561.4 222.6L561.1 221.8L560.8 221L560.5 220.2L560.1 219.8L559.7 219.3L559.5 218.4L559.4 217.4L559.2 216.5L559.4 215.7L559.6 214.9L559.9 214L560.7 213.7L561.5 213.4L562.3 213.1L563.1 212.9L562.5 212.6L561.8 212.3L561.2 212L560.6 211.7L560.7 210.9L560.8 210.1L560.9 209.4L560.8 208.5L560.8 207.7L560.8 206.8L560.8 206L560.1 205.9L559.4 205.9L558.7 205.8L558 205.8L557.3 205.7L556.6 205.6L555.9 205.6L555.2 205.5L554.5 205.5L554 205.1L553.4 204.8L552.9 204.5L552.4 204.2L551.9 203.9L551.4 203.6L551 203.3ZM562.3 199.6L562.5 199.7L561.7 199.8L560.9 200L561.6 199.8L562.3 199.6Z" fill="url(#hatch)" stroke="#c4c4c4" stroke-width="0.5"/>
<path d="M514.6 274.3L514.5 273.6L514.4 272.8L514.5 273.1L514.7 273.8L514.9 274.5L514.6 274.3ZM514.4 271.1L514.8 270.6L515.4 270.7L515.9 270.9L515.3 271.9L514.4 271.1Z" fill="url(#hatch)" stroke="#c4c4c4" stroke-width="0.5"/>
<path d="M514.8 279.4L514 278.6L513.1 277.9L512.1 277.8L511.1 277.6L510.1 277.4L509.4 276.9L508.7 276.4L507.6 276.9L506.4 277.5L505.3 277.6L505.9 277L506.6 276.4L507.4 276.2L508.3 276L509.1 275.7L509.9 275.9L510.7 276L511.5 276.1L512.5 276.6L513.4 277.1L514.4 277.7L515.1 278L515.8 278.4L516.6 278.8L517.4 279.4L518.3 279.9L517.1 280.3L516 280.4L514.9 280.4L514 280.2L514.8 279.4Z" fill="url(#hatch)" stroke="#c4c4c4" stroke-width="0.5"/>
<path d="M417.8 279.9L418.4 280.4L419 280.9L418.2 281.3L417.5 281.8L417.5 280.6L417.8 279.9ZM417.4 279.4L417.2 278.8L418 279.1L417.4 279.4ZM415.6 278.5L415.5 277.9L416.2 278.4L415.6 278.5ZM528.7 248.6L529.3 249.4L528.7 249.6L528.1 249.8L526.9 250.4L526.1 250.7L525.4 250.9L524.8 251.1L524.2 251.2L523.8 252.2L523.1 252.8L522.5 253.4L522 254.2L521.3 254.9L520.4 256.2L520.5 256.7L520.4 257.6L520.4 258.6L519.6 259L518.9 259.4L517.9 260L516.9 260.5L516.1 261L515.2 261.5L514.5 262L513.7 262.5L512.6 263.4L512.2 264.2L511.8 265.1L511.7 265.8L511.7 266.6L511.9 267.5L512 268.3L512.1 269.5L512.1 270.4L512.1 271.3L511.8 272.1L511.5 272.8L510.6 272.9L510.1 271.9L509.9 271L509.6 270.2L509.3 269.5L509.4 268.6L509.5 267.8L509.1 267.2L508.8 266.6L508.1 266.1L507.4 266.3L506.8 266.5L506.3 266L505.9 265.5L505.1 265.6L504.3 265.6L503.7 265.6L503.2 265.5L502.5 265.6L501.8 265.8L501.9 266.5L501.9 267.2L500.9 267.3L500.2 267.2L499.6 267L498.9 266.8L498.3 266.6L497.5 266.5L496.6 266.5L495.4 266.9L494.2 267.8L493.2 268.3L492.1 268.9L491.7 269.6L491.3 270.3L491.3 271L491.3 271.8L490.7 271.7L489.8 271.4L489.1 271L489 270.3L489 269.6L488.6 269L488.3 268.5L488.1 267.3L487.5 266.3L486.3 266.3L485.7 266.9L485.1 267.5L484.5 267L483.8 266.6L483.7 265.9L483.6 265.2L482.9 264.4L482.2 263.5L481.2 263.5L480.2 263.5L480 264.2L478.8 264.2L477.7 264.2L476.5 264.2L475.5 263.8L474.6 263.3L473.6 262.9L472.6 262.5L471.7 262.5L470.8 262.5L469.9 262.4L470 261.7L469.5 260.8L469 260.4L468.6 260.1L468.1 259.8L467.5 259.7L466.9 259.5L466.9 258.6L466.6 257.7L466.6 256.7L466.4 255.9L466.6 255.2L466.3 254.5L466.3 253.5L466.3 252.6L466.2 252L466.2 251.4L466.8 250.5L467.4 249.5L467.7 248.8L467.9 248L468.7 247.2L469.4 246.3L470.1 245.3L470.7 244.2L471.2 243.5L471.6 242.7L471.7 242.1L471.8 241.5L472.4 240.4L473 240.4L473.6 240.5L474.1 240.6L474.8 240.4L475.1 239.4L476.2 239.4L477.3 239.4L478.3 239.4L479.4 239.4L480.5 239.4L481.6 239.4L482.7 239.4L483.7 239.4L484.8 239.4L485.9 239.4L487 239.4L488 239.4L489.1 239.4L490.2 239.4L491.3 239.4L492.4 239.4L493.4 239.4L494.5 239.4L495.6 239.4L496.7 239.4L497.8 239.4L498.8 239.4L499.9 239.4L501 239.4L502.1 239.4L503.1 239.4L504.2 239.4L505.3 239.4L505.6 238.9L505.9 239L505.7 239.8L506.5 239.9L507.4 240L508 240.3L508.7 240.6L509.7 240.7L510.7 240.8L511.5 240.6L512.2 240.4L513 240.9L513.7 241.3L514.5 241.8L515.2 242.3L515.4 242.9L515.7 243.3L516.3 243.7L516.6 244.1L517 244.5L516.6 245.6L516.2 246.7L515.8 247.7L515 248.4L514.5 249.1L515.3 249L516.2 248.9L517 248.8L517.8 248.6L518.5 248.4L519.7 247.9L519.8 247.3L519.7 247.1L520.6 247L521.5 247L522.5 246.9L523.3 246.1L524.2 245.6L525.2 245.1L525.5 244.9L526.4 244.9L527.3 244.9L528.2 244.9L529.1 244.9L529.7 244.5L530.2 244.4L531.2 243.3L531.6 242.6L532.2 242.1L532.9 241.5L533.8 241.7L534.2 242L533.9 243L533.6 244L534 244.1L534.2 245.1L534.1 245.2L533.4 245.5L532.8 245.8L532.1 246L531.5 246.2L530.7 246.5L530 246.7L529.2 247.6L528.7 248.6ZM534.8 246.3L535.3 246.8L535 247L534.8 246.3ZM453.8 227.8L453 228.1L452.2 228.5L451.5 228.3L450.8 228.2L451.7 227.8L452.6 227.3L453.5 227.1L454.3 226.9L453.8 227.8ZM468 224.7L467.3 224.6L466.6 224.6L465.8 224.6L465.1 224.6L464.9 224L464.7 223.5L463.7 223.7L462.6 223.9L461.6 224.3L460.5 224.7L459.4 225L458.3 225.3L457.6 225.3L457 225.3L458 224.7L459.1 224.2L460.1 223.6L461.2 223.1L460.2 223.4L459.2 223.6L458.1 224.2L457 224.7L455.8 225.3L454.6 226L453.6 226.4L452.5 226.9L451.2 227.4L449.9 228L448.6 228.5L447.3 229L446.2 229.4L445 229.8L443.9 230.2L443 230.4L442 230.6L441.1 230.9L440 231.2L438.8 231.5L437.6 231.9L436.4 232.2L435.7 232.4L435 232.6L434.7 232.5L435.8 232.2L437.1 231.8L438.5 231.5L439.5 231.2L440.4 231L441.7 230.5L443 230.1L444.5 229.5L446 229L447.1 228.5L448.2 228L449.2 227.3L450.2 226.6L449.7 226.4L449.2 226.2L448.3 226.4L447.4 226.5L446.5 226.5L445.5 226.5L446.3 225.7L446.3 225.3L446.4 224.8L446 224.4L445.7 224L445.3 223.6L445.9 222.8L446.8 222.4L447.7 222L448.8 221.3L449.9 220.6L450.8 220.5L451.8 220.3L452.7 220.2L453.4 220.2L454.1 220.2L454.7 219.6L455.4 219.1L454.8 219L454.2 219L453.6 219L452.9 219L452.3 219L451.6 219.1L451.1 219L450.6 218.8L450.6 218.2L450.6 217.6L451.8 217.3L452.9 217.1L454.1 216.8L455.3 216.6L456.4 216.4L457.4 216.4L458.3 216.4L458.1 216L458.1 215.6L458 215.1L457.7 214.8L457.3 214.5L457.7 214L458 213.6L459 213.4L460 213.2L461 213.1L462.4 212.6L463.9 212.1L464.6 212.1L465.3 212L466 211.9L467 211.7L467.9 211.4L468.9 211.2L470 210.9L471.1 210.6L471.6 210.8L472.2 210.9L472.7 211.1L473.3 211.2L473.7 211.4L474.2 211.7L474.9 211.7L475.7 211.7L476.4 211.8L477.1 211.9L477.8 212L478.5 212.1L479.2 212.1L480 212.1L480.7 212.1L481.1 212.3L481.6 212.5L482.1 212.7L480.7 213.8L479.3 214.9L478 216.1L476.6 217.2L475.3 218.4L474 219.5L472.7 220.7L471.4 221.9L470.1 223.1L468.9 224.3L469.6 224.4L470.4 224.6L470.6 224.9L470.8 225.3L470.9 225.7L471.9 225.5L472.8 225.2L473.7 224.9L473.8 225.3L473.9 226L474.1 226.8L473.5 227.8L473.5 228.5L473.5 229.1L474 229.6L474.6 230.1L473.9 230.9L472.6 231.7L471.9 231.6L471.2 231.5L470.9 231.1L470.5 230.6L470.3 229.9L470.1 229.3L470.1 228.7L470.1 228.2L470.3 227.6L470.6 227L470.3 226.6L470 226.1L469.7 225.7L469.4 225.2L468.7 224.9L468 224.7Z" fill="#253494" stroke="#6f6f6f" stroke-opacity="0.75" stroke-width="0.35"/>
<path d="M551.1 241.3L550.4 242L549.8 242.7L549 242.5L548.2 242.3L547.4 242.2L546.5 242L545.6 241.7L544.7 241.5L543.9 241.3L544.7 240.3L545.5 239.3L546.4 238.2L547.3 237.1L548 236.7L548.8 236.3L549.6 235.9L549.3 236.8L549 237.8L548.7 238.9L549.4 238.9L550 239L550.8 239.1L550.9 240.2L551.1 241.3ZM490.6 212.7L491.6 212.6L492.7 212.4L493.6 212.2L494.5 212L494.8 212.3L495.1 212.6L495.4 212.9L496.5 212.5L497.6 212.1L497.9 212.5L498.1 212.9L498.8 212.9L499.6 212.9L500.3 213L500.9 213.1L501.4 213.2L502 213.3L502.5 213.4L503.1 213.7L503.6 213.9L504.1 214.2L503 214.9L503.8 214.9L504.7 214.9L505.4 214.9L506.2 214.8L507 214.8L507.7 214.8L508.3 214.9L508.8 215.1L509.4 215.3L509.7 214.4L510.5 214.3L511.2 214.2L512 214L512.5 214.2L513 214.4L513.6 214.5L514.2 214.7L514.8 214.9L515.4 215L516.2 215L517.1 215L517.9 214.9L518.7 214.9L519.8 214.6L520.8 214.3L521.5 214L520.7 214L519.9 214L519 213.9L519.8 212.9L520.6 212.7L521.5 212.6L522.3 212.5L522.2 213.2L522 213.8L522.7 213.6L522.6 213.1L522.6 212.7L523.7 211.8L524.9 210.9L525.7 210.4L526.5 210L527 210.3L527.6 210.6L527.2 211.3L526.8 212L526.9 212.4L527.1 212.7L527.3 213.1L527.5 213.4L527.9 213.9L528.2 214.3L528.4 214.9L528.6 215.5L529.8 214.7L531 213.9L531.5 213.3L532.1 212.7L532.8 212.6L533.6 212.5L534 212.9L534.5 213.2L534.5 213.8L534.6 214.4L534.1 215L533.5 215.6L532.5 216.2L531.5 216.7L530.9 216.4L530.3 216L529.5 216.2L528.8 216.4L529 216.6L527.9 217.3L528.4 217.1L529.1 217.2L529.7 217.2L530.4 217.3L531.1 217.3L531.3 217.9L531.6 218.4L531.9 219L531 219.1L530.2 219.2L529.3 219.3L528.4 219.4L527.6 219.5L526.7 219.6L526.3 219.1L525.9 218.7L524.9 219.5L524 219.6L523.1 219.8L522.2 220L521.1 221L520.1 221.3L519 221.7L518.3 222.1L517.5 222.5L516.6 223.1L515.7 223.6L514.7 224.8L514.4 225.5L514 226.2L514.3 226.6L514.5 227L514.4 227.8L514.3 228.6L515.4 228.5L516.4 228.3L517.2 228.5L517.9 228.7L518.2 229.1L518.6 229.4L519 229.7L519.5 230L520 230.3L520.6 230.6L521.2 230.9L521.9 231L522.6 231L523.3 231.1L522.8 232.2L522.5 233.1L522.2 234.1L522.2 234.7L522.3 235.3L522.5 235.8L522.7 236.3L523.7 236L524.9 235L525.5 234L526.1 232.9L526.2 231.8L527.1 231.1L528.2 230.6L529.3 230.1L529.8 229.5L530.4 229L530.7 228.3L531.1 227.6L530.9 227.1L530.7 226.6L531.5 225.5L531.9 224.4L532.1 223.6L532.4 222.8L532.9 222.1L533.4 221.5L534.3 221.6L535.1 221.6L536 221.7L536.7 221.7L537.4 221.7L537.9 222.2L538.5 222.6L539 223L539.5 223.4L540 223.9L539.8 224.6L539.5 225.2L539.4 226L539.8 226.2L540.2 226.4L540.7 226.4L541.3 226.5L542.4 225.8L543.5 225.1L544.6 224.3L545.2 224.4L545.3 225.2L545.4 226L545.5 226.5L545.7 227L545.8 227.6L546 228.1L545.7 229.3L546.1 230.1L546.6 230.5L547.1 231L547.7 231.6L548.3 232.2L548.8 232.4L549.2 232.6L549.7 233.1L550.2 233.6L549.1 234.5L549.5 235.4L548.7 235.8L547.8 236.1L546.8 236.5L545.9 236.9L544.9 237.3L544.1 237.5L543.4 237.6L542.6 237.8L541.7 237.8L540.8 237.8L539.9 237.8L539 237.8L538.2 237.8L537.3 237.8L536.6 238.4L536 239L535.2 239.1L534.5 239.3L533.5 240L532.6 240.6L531.9 241.3L531.2 241.9L530.3 242.4L530.9 242.2L531.7 241.7L532.5 241.2L533.7 240.6L534.8 240L535.6 239.6L536.5 239.3L537.1 239.2L537.8 239.1L538.3 239.4L538.9 239.7L537.9 240.4L537.1 240.6L536.3 240.8L537.2 241.1L537.5 241.7L537.2 243L537.6 243.1L538.1 243.7L538.8 243.8L539.5 244L540.1 243.9L540.7 243.8L541 243.1L541.6 242.6L542.3 242.2L542.6 243.3L542.3 244L541.6 244.2L541 244.5L540.4 244.7L539.8 244.9L538.8 245.2L537.8 245.5L536.8 245.9L535.9 246.5L535 247L534.7 245.9L535.8 245.2L536.4 244.9L537.1 244.5L537.6 243.8L536.9 244.1L536.2 244.3L535.5 244.5L534.9 244.7L534.3 244.8L534.2 245.1L534 244.1L533.6 244L533.9 243L534.2 242L533.8 241.7L532.9 241.5L532.2 242.1L531.6 242.6L531.2 243.3L530.2 244.4L529.7 244.5L529.1 244.9L528.2 244.9L527.3 244.9L526.4 244.9L525.5 244.9L525.2 245.1L524.2 245.6L523.3 246.1L522.5 246.9L521.5 247L520.6 247L519.7 247.1L519.8 247.3L519.7 247.9L518.5 248.4L517.8 248.6L517 248.8L516.2 248.9L515.3 249L514.5 249.1L515 248.4L515.8 247.7L516.2 246.7L516.6 245.6L517 244.5L516.6 244.1L516.3 243.7L515.7 243.3L515.4 242.9L515.2 242.3L514.5 241.8L513.7 241.3L513 240.9L512.2 240.4L511.5 240.6L510.7 240.8L509.7 240.7L508.7 240.6L508 240.3L507.4 240L506.5 239.9L505.7 239.8L505.9 239L505.6 238.9L505.3 239.4L504.2 239.4L503.1 239.4L502.1 239.4L501 239.4L499.9 239.4L498.8 239.4L497.8 239.4L496.7 239.4L495.6 239.4L494.5 239.4L493.4 239.4L492.4 239.4L491.3 239.4L490.2 239.4L489.1 239.4L488 239.4L487 239.4L485.9 239.4L484.8 239.4L483.7 239.4L482.7 239.4L481.6 239.4L480.5 239.4L479.4 239.4L478.3 239.4L477.3 239.4L476.2 239.4L475.1 239.4L474.7 239.1L474.2 238.8L473.7 238.4L473.9 239.3L474 240.2L473.3 239.9L472.6 239.5L472.2 238.9L471.7 238.2L471.3 237.6L470.8 236.9L471.4 237.1L472 237.2L472.7 237.6L472.5 237.3L472.1 236.9L471.8 236.5L472.1 235.4L472.1 234.6L472.2 233.7L472.1 233.1L472 232.6L472.6 231.7L473.9 230.9L474.6 230.1L474 229.6L473.5 229.1L473.5 228.5L473.5 227.8L474.1 226.8L473.9 226L473.8 225.3L473.7 224.9L472.8 225.2L471.9 225.5L470.9 225.7L470.8 225.3L470.6 224.9L470.4 224.6L469.6 224.4L468.9 224.3L470.1 223.1L471.4 221.9L472.7 220.7L474 219.5L475.3 218.4L476.6 217.2L478 216.1L479.3 214.9L480.7 213.8L482.1 212.7L482.6 212.8L483 213L483.5 213.1L484 213.2L484.5 213.4L485 213.6L486 213.2L487 212.9L488 212.6L488.3 212.8L488.6 213L489.6 212.9L490.6 212.7ZM535 247L535.3 246.8L534.8 246.3L535 247ZM526.5 210L526 210L525.4 210L526.5 209L527.5 207.9L528.3 207.8L529.2 207.7L530 207.7L530.8 207.6L531.7 207.5L531.5 208.2L531.4 208.8L530.6 209.4L529.8 210L529 210L528.2 210L527.3 210L526.5 210ZM539.8 220.1L539.2 219.7L538.6 219.4L538 219.1L537.3 219.1L536.6 219.1L535.8 219.2L535.1 219.2L535 218.3L535.9 218.2L536.9 218.1L537.8 218L538.8 217.8L539.7 217.7L540.3 216.8L540.8 216L541.5 215.6L542.2 215.3L541.9 214.7L541.6 214L541.1 213.7L540.6 213.4L540.1 213.1L539.6 212.9L539.1 212.7L538.5 212.6L537.9 212.4L537.4 212.3L536.5 212.3L535.6 212.3L534.7 212.3L533.8 212.3L532.9 212.3L532.3 212.1L531.8 212L531.2 211.8L530.7 211.7L530.5 211.1L530.3 210.5L530.6 209.9L530.9 209.4L531.8 208.9L532.8 208.5L533.7 208.1L534.3 208.1L535 208.2L535.6 208.2L536.2 208.2L536.9 208.2L537.6 208.1L538.4 208.1L539.1 208.1L539.8 208L539.9 207.9L540.5 207.9L541.2 207.9L541.8 208L542.4 208L541.8 208.7L542.3 209L542.7 209.2L543.1 209.5L543.6 209.8L544 210.1L544.5 210.4L545 210.7L545.6 211L546.2 211.3L546.7 211.7L547.2 212.1L547.7 212.5L548.2 212.9L548.2 213.7L548.1 214.7L548.8 214.9L549.4 215.2L550.1 215.5L550.8 215.8L551.5 216.1L551.3 216.7L550.5 217L549.6 217.4L548.8 217.7L547.7 218.3L546.7 219L546.7 219.9L546.7 220.8L545.9 221.5L545.1 222.1L544.4 222L543.7 221.9L543 221.8L542.3 221.7L541.7 221.3L541.1 221L540.5 220.6L540.2 220.3L539.8 220.1ZM552.4 198.6L553 198.6L553.6 198.6L554.3 198.6L554.9 198.6L555.6 198.6L556.2 198.7L556.8 198.7L557.5 198.7L558.1 198.7L558.7 198.7L559.3 198.8L559.9 198.8L560.5 198.9L561.1 198.9L561.7 198.9L561.9 199.2L562.2 199.4L562.5 199.7L562.3 199.6L561.6 199.8L560.9 200L560.1 200.1L559.3 200.3L558.5 200.4L557.7 200.6L556.9 200.8L556.2 200.9L555.4 201.1L554.6 201.2L553.9 201.4L553.1 201.5L552.3 201.8L551.4 202L550.6 202.3L549.7 202.5L548.8 203L547.8 203.4L546.8 203.9L545.9 204.3L544.9 204.8L543.9 205.2L543.1 205.2L542.9 205.7L542.6 206.2L541.8 206.7L541 207.1L540.2 207.1L539.4 207.1L538.6 207.1L537.8 207.2L537 207.2L536.2 207.2L535.4 207.2L534.5 207.2L533.9 207.2L533.3 207.1L532.6 207.1L532 207L531.4 207L531.1 206.8L530.8 206.7L530.5 207L529.7 207L528.8 207L528 207L528.8 206.2L529.3 206.2L529.8 206.2L529.5 206L529.1 205.9L530 205.7L530.9 205.5L531.8 205.2L532.7 205L533.6 204.8L534.2 204.8L534.8 204.8L535.3 204.9L536.2 204.5L537.1 204.2L537.9 203.9L539.2 203.2L538.4 203.2L537.6 203.3L536.9 203.3L536.1 203.3L535.7 203L535.4 202.7L535 202.4L534.7 202.1L534.4 201.8L534.7 201.3L534.9 200.8L535.8 200.7L536.6 200.6L537.5 200.4L538.4 200.3L539.3 200.1L539.4 200.2L540.3 200L541.2 199.9L542.2 199.7L543.1 199.6L544 199.4L544.9 199.3L545.7 199.2L546.4 199.1L547.2 199.1L547.9 199L548.7 198.9L549.4 198.9L550.2 198.8L550.9 198.7L551.6 198.7L552.4 198.6ZM541.1 201.8L540.8 201.6L540.6 201.4L540.5 201.9L540.4 202.4L541.1 201.8ZM526.2 204.8L526.9 204.8L527.6 204.9L528.3 204.9L529 204.9L528.7 205.6L528.4 206.2L527.6 206.2L526.9 206.2L526.2 206.1L525.5 206.1L524.7 206.1L524.5 205.8L524.3 205.5L524.1 205.2L524.8 205.1L525.5 205L526.2 204.8ZM525.9 208.2L525.3 209L524.7 209.7L524.1 210.5L523.5 210.4L522.8 210.3L522.2 210.2L521.6 210.1L520.9 210L520.3 209.9L520.4 209.4L520.6 208.8L521.6 208.4L522.7 208.1L523.8 207.8L524.3 207.9L524.8 208L525.4 208.1L525.9 208.2ZM531.7 203L530.7 203.4L529.8 203.9L529.1 203.9L528.3 203.9L527.6 203.9L526.8 204L526.1 204L525.3 204L524.6 204L523.8 204.1L523.1 204.1L524.3 203.3L525.6 202.5L526.3 202.5L527 202.5L527.7 202.5L528.5 202.5L529.2 202.5L529.9 202.5L530.4 202.7L530.8 202.8L531.2 202.9L531.7 203ZM504.3 210.5L505.8 209.7L504.6 210.1L503.4 210.5L502.6 210.6L501.8 210.7L501 210.9L500.2 211L499.9 210.7L499.5 210.4L499.1 210L500.5 209.1L501.8 208.2L502.9 207.7L504 207.2L504.7 207.2L505.3 207.2L506 207.1L506.7 207.1L507.3 207.2L508 207.3L508.6 207.3L509.2 207.4L509.5 207.7L509.7 208L510 208.2L509 208.6L507.9 209L508.9 208.8L509.7 208.7L510.5 208.6L511.2 208.4L512 208.3L512.6 208.4L513.2 208.4L513.9 208.4L514.5 208.4L515.2 208.4L516 208.4L516.7 208.3L517.4 208.3L518.2 208.2L518.5 208.5L518.8 208.8L518 209.4L517.2 209.9L517.4 210.4L517.7 210.8L517.9 211.2L518.2 211.7L518.1 212.3L518 212.9L517.1 213L516.3 213.2L515.5 213.4L514.6 213.6L513.8 213.6L513.1 213.7L512.3 213.7L511.5 213.8L510.7 213.8L509.9 213.9L509.1 213.9L508.3 214L507.5 214L506.7 214.1L505.8 214.2L505.3 214L504.8 213.7L504.3 213.5L503.8 213.3L503.3 213.1L503.1 212.7L503 212.3L502.9 211.9L503.6 211.2L504.3 210.5ZM517.5 204.6L518 204.7L518.5 204.9L519 205L519.4 205.1L519.9 205.2L520.3 205.5L520.7 205.7L521.1 206L519.9 206.4L518.8 206.9L518 206.9L517.2 207L516.4 207.1L515.6 207.1L514.8 207.2L514 207.3L513.2 207.3L512.5 207.3L511.7 207.3L511 207.3L510.3 207.2L509.5 207.2L510.3 206.6L511.1 206L512.4 205.5L513.8 204.9L514.5 204.9L515.3 204.8L516 204.7L516.7 204.7L517.5 204.6ZM520.9 203.9L520.2 203.9L519.5 204L518.7 204.1L518 204.1L517.2 204.2L516.8 204.1L516.3 203.9L515.8 203.8L515.4 203.7L514.9 203.6L515.8 203.4L516.7 203.2L517.6 203.1L518.4 202.9L519.3 202.7L520.1 202.7L520.9 202.7L521.7 202.7L521.3 203.3L520.9 203.9ZM514.1 204.1L513.1 204.7L512.1 205.2L511.3 205.3L510.6 205.5L509.8 205.6L509 205.7L508.7 205.5L508.3 205.3L507.9 205.1L507.6 204.9L508.9 204.5L510.1 204.1L511.4 203.8L511.9 203.8L512.5 203.9L513 203.9L513.6 204L514.1 204.1ZM472.5 240.2L473.3 240.4L473 240.4L472.4 240.4L472.5 240.2Z" fill="#225ea8" stroke="#6f6f6f" stroke-opacity="0.75" stroke-width="0.35"/>
<path d="M489.9 275.3L489.8 276.1L489.7 276.9L489.8 277.7L489.9 278.4L490.1 279L490.3 279.6L490.6 280.3L490.8 280.9L491.2 281.9L492.3 282.3L493 282.8L493.8 282.6L494.7 282.4L495.4 282.3L496 282.2L496.6 282.3L497.3 281.6L498.1 280.6L498.3 279.6L498.6 278.6L499.4 278.5L500.3 278.3L501.1 278.1L501.7 278L502.3 278L502.9 278.5L502.5 279.2L502 279.8L501.5 280.5L501.6 281.6L501.2 282.3L500.5 282.3L499.7 283.1L499.4 283.3L498.2 283.3L497.1 283.3L497 284.1L496.4 284.1L497.2 285L497.6 285.3L497.5 285.8L496.7 285.8L495.9 285.8L495.2 286.9L495 287.8L494.5 287.2L494 286.6L493.4 286.1L492.8 285.7L491.9 285.6L491.2 285.9L490.5 286.3L489.9 286.2L489.3 286.1L488.4 285.8L487.6 285.4L486.7 285.1L485.9 284.7L485.3 284.4L484.7 284L484 283.6L483.4 283.2L482.6 282.9L481.8 282.6L481.3 282L480.7 281.5L479.9 280.6L479.7 279.6L480.2 278.5L480.2 277.7L480.1 276.9L479.7 276.3L479.4 275.7L478.9 274.8L478.5 274L478 273.4L477.6 272.8L477.2 272.3L476.7 271.7L476.4 271L476.1 270.3L475.7 269.7L475.3 269L475.1 268L474.8 267.1L474.6 266.2L474.4 265.3L474.2 264.4L473.6 264.2L473.1 264.1L472.2 263.5L472.2 264.3L472.1 265.1L472.4 265.8L472.6 266.6L472.7 267.4L472.8 268.2L473 268.7L473.2 269.3L473.4 270.1L473.7 270.9L473.9 271.5L474.2 272.1L474.4 272.8L474.5 273.4L474.7 274.3L475.5 274.3L475.5 275L475.6 275.7L475 276.1L474.7 275.3L474.1 274.6L473.5 274L472.9 273.1L472.6 272.1L472.3 271.1L471.7 270.6L471.1 270L470.7 269.6L470.2 269.2L470.7 268.5L471.2 267.9L470.7 267.1L470.3 266.3L470.1 265.5L470.1 264.5L470 263.5L469.9 262.5L469.9 262.4L470.8 262.5L471.7 262.5L472.6 262.5L473.6 262.9L474.6 263.3L475.5 263.8L476.5 264.2L477.7 264.2L478.8 264.2L480 264.2L480.2 263.5L481.2 263.5L482.2 263.5L482.9 264.4L483.6 265.2L483.7 265.9L483.8 266.6L484.5 267L485.1 267.5L485.7 266.9L486.3 266.3L487.5 266.3L488.1 267.3L488.3 268.5L488.6 269L489 269.6L489 270.3L489.1 271L489.8 271.4L490.7 271.7L491.3 271.8L490.6 273.1L490.3 274.2L489.9 275.3Z" fill="#7fcdbb" stroke="#6f6f6f" stroke-opacity="0.75" stroke-width="0.35"/>
<path d="M500.5 283.7L500.3 284.4L500.2 285.2L499.8 286L499.4 286L499.3 285.2L499.2 284.4L499.4 283.3L499.7 283.1L500.5 282.3L501.2 282.3L501.1 282.5L500.8 282.5L500.5 283.7Z" fill="url(#hatch)" stroke="#c4c4c4" stroke-width="0.5"/>
<path d="M499.2 287.7L498.4 288.1L497.6 289.1L497.3 289L496.7 288.9L496.1 288.8L495.6 288.3L495.1 287.8L495 287.8L495.2 286.9L495.9 285.8L496.7 285.8L497.5 285.8L497.6 285.3L497.2 285L496.4 284.1L497 284.1L497.1 283.3L498.2 283.3L499.4 283.3L499.2 284.4L499.3 285.2L499.4 286L499.7 286.1L500.2 286.3L499.7 287L499.2 287.7Z" fill="#edf8b1" stroke="#6f6f6f" stroke-opacity="0.75" stroke-width="0.35"/>
<path d="M497.6 289.1L498.4 288.1L499.1 288.3L499.8 288.6L500.4 288.8L500.5 289.8L500.5 289.9L500.1 289.8L499.3 289.6L498.5 289.4L497.6 289.1Z" fill="#edf8b1" stroke="#6f6f6f" stroke-opacity="0.75" stroke-width="0.35"/>
<path d="M504.8 286.1L505.5 286.7L506.3 287.3L505.4 287.4L504.6 287.6L504 288.1L503.3 288.7L502.5 289.2L501.7 289.7L500.9 290.1L500.5 289.8L500.4 288.8L499.8 288.6L499.1 288.3L498.4 288.1L499.2 287.7L499.7 287L500.2 286.3L501 286.1L501.9 286L502.9 285.9L503.9 286L504.8 286.1Z" fill="url(#hatch)" stroke="#c4c4c4" stroke-width="0.5"/>
<path d="M505.3 291.7L505.2 292.9L504.4 292.9L503.5 292.8L502.7 292.8L502.6 292.9L502.7 292.7L502.1 291.5L501.3 290.7L500.8 290.2L500.9 290.1L501.7 289.7L502.5 289.2L503.3 288.7L504 288.1L504.6 287.6L505.4 287.4L506.3 287.3L506 288L505.8 288.7L505.8 289.5L505.7 290.4L505.3 291.7Z" fill="url(#hatch)" stroke="#c4c4c4" stroke-width="0.5"/>
<path d="M506.4 294.9L506.3 295.7L506.1 296.5L505.9 297.2L505.4 296.8L505.1 296.3L504.6 295.8L503.9 294.9L503.2 294.8L502.4 293.9L502.6 292.9L502.7 292.8L503.5 292.8L504.4 292.9L505.2 292.9L505.2 293.1L505.6 293.7L506 294.4L506.4 294.9Z" fill="#c7e9b4" stroke="#6f6f6f" stroke-opacity="0.75" stroke-width="0.35"/>
<path d="M509.8 295.3L510.9 295L511.5 295.2L512.1 295.3L512.8 296.2L512.5 297.3L512.1 298.3L511.5 297.2L511.3 296.3L510.2 295.9L509.6 296.5L509 297.2L509.5 297.9L509 298.2L508.3 297.6L507.7 297.3L507.1 296.9L505.9 297.2L506.1 296.5L506.3 295.7L506.4 294.9L506.9 295.3L507.5 295.7L508.1 296L508.9 295.7L509.8 295.3Z" fill="url(#hatch)" stroke="#c4c4c4" stroke-width="0.5"/>
<path d="M519.8 280.3L520.5 280.4L521.2 280.4L521 281.7L520.9 283L519.9 282.7L519.1 282.7L518.3 282.6L517.5 282.5L518.3 281.8L519.1 281.1L519.8 280.3Z" fill="url(#hatch)" stroke="#c4c4c4" stroke-width="0.5"/>
<path d="M523.2 280.6L523.8 281L524.4 281.3L525.2 282.2L524.1 282.5L523 282.7L522.1 283.2L521.2 283.6L520.9 283L521 281.7L521.2 280.4L522.2 280.5L523.2 280.6Z" fill="#edf8b1" stroke="#6f6f6f" stroke-opacity="0.75" stroke-width="0.35"/>
<path d="M514.3 283.3L513.6 283L512.8 282.7L512.7 282.5L513.6 282.7L514.5 282.8L515.3 283L514.3 283.3Z" fill="#edf8b1" stroke="#6f6f6f" stroke-opacity="0.75" stroke-width="0.35"/>
<path d="M528.4 283L527.4 283L526.4 283L526.5 282.3L527.5 282.4L528.5 282.5L528.4 283Z" fill="url(#hatch)" stroke="#c4c4c4" stroke-width="0.5"/>
<path d="M532.2 294.2L532.2 293.6L532.3 293.2L533.5 293.2L533.3 294.2L532.2 294.2Z" fill="#41b6c4" stroke="#6f6f6f" stroke-opacity="0.75" stroke-width="0.35"/>
<path d="M521 293.1L522 292.2L522.1 291.4L522.5 292.2L523.3 292.7L524.2 293.1L524.7 293.6L525.3 293.6L526 293.5L527.1 293.9L528.2 294.2L528.8 293.9L529.4 293.5L530.3 293.4L531.3 293.4L532.2 293.6L532.2 294L532.2 293.6L532.1 294.4L532.7 295.1L533.3 295.8L533.9 296.1L534.5 296.5L534 297.3L533.6 298L533.8 298.7L533.2 299.4L532.6 300.2L533.5 301.1L532.6 301.7L531.7 302.3L530.8 302.8L529.7 302.8L528.7 302.7L529 303.8L529.3 305L529 305.7L528.7 306.4L528 306.9L527.4 307.4L526.5 307.1L525.7 306.8L525.4 306.9L525.2 306.1L525.1 305.4L525 304.3L524.8 303.1L524.7 302.3L524.6 301.4L524.8 300.6L525 299.7L523.8 299.8L522.6 299.9L522.2 299.2L521.8 298.6L520.7 298.6L519.8 298.3L519 298L519 297L518.7 296.3L518.3 295.5L519 294.4L519.2 293.6L519.5 292.8L520.1 292.3L520.7 291.8L520.7 291.2L520.9 292.1L520.2 293.1L521 293.1Z" fill="#edf8b1" stroke="#6f6f6f" stroke-opacity="0.75" stroke-width="0.35"/>
<path d="M515.1 295.1L515.3 293.8L516.2 292.9L517 292.5L518.1 292.5L518.8 292.1L519.6 291.7L520 291L520.7 291.2L520.7 291.8L520.1 292.3L519.5 292.8L519.2 293.6L519 294.4L518.3 295.5L518.7 296.3L519 297L519 298L519.8 298.3L520.7 298.6L521.8 298.6L522.2 299.2L522.6 299.9L523.8 299.8L525 299.7L524.8 300.6L524.6 301.4L524.7 302.3L524.8 303.1L525 304.3L525.1 305.4L525.3 306.7L524.2 306.5L523.1 306.3L521.9 306.1L522.5 307.1L522.2 307.7L521.7 307.7L521.7 308.8L522.2 309.2L522.5 310.1L522.3 311.2L522.2 312.2L522 313.3L521.9 314.4L520.9 313.9L520.1 312.9L519.3 311.9L518.2 311.1L517.2 310.3L516.5 309.6L515.7 308.8L515.1 308.6L514.5 308.3L513.9 307.9L513.1 307.7L512.4 307.4L511.5 306.9L510.7 306.5L510.6 306.5L510.8 305.8L511 305.1L511.7 304.2L512.4 303.3L512.5 302.3L512.6 301.4L512.6 300.5L512.6 299.6L512.1 298.3L512.5 297.3L512.8 296.2L513.4 297L513.8 296.5L514.2 295.9L515.1 295.1Z" fill="#edf8b1" stroke="#6f6f6f" stroke-opacity="0.75" stroke-width="0.35"/>
<path d="M508.2 309.9L508.7 309.2L509.1 308.5L509.2 307.4L509.9 306.9L510.6 306.5L510.7 306.5L511.5 306.9L512.4 307.4L513.1 307.7L513.9 307.9L514.5 308.3L515.1 308.6L514.7 309.8L515 310.8L514.2 311.5L513.5 312.2L512.5 312.8L511.4 313.5L511.2 314.2L511 315L510.2 314.9L509.6 314.7L509 314.4L508.9 313.3L508.8 313.3L509.3 312.2L508.1 311.6L508.2 310.8L508.2 309.9Z" fill="#edf8b1" stroke="#6f6f6f" stroke-opacity="0.75" stroke-width="0.35"/>
<path d="M536.8 298.9L537.3 299.4L537.9 300L538 300L538 300.1L537.6 301L537.3 301.9L536.9 302.8L537.1 303.9L537.4 305L537 305.7L536.7 306.4L536.1 306.5L535.5 306.7L535 306L534.5 305.2L534.4 304L534.4 302.8L533.9 302L533.5 301.1L532.6 300.2L533.2 299.4L533.8 298.7L533.6 298L534 297.3L534.5 296.5L534.7 296.8L535.5 297.5L536.3 298.2L536.8 298.9Z" fill="url(#hatch)" stroke="#c4c4c4" stroke-width="0.5"/>
<path d="M541.7 305.4L541.1 305.2L540.5 305L539.9 305.4L539.2 305.8L538.4 306L537.6 306.2L536.7 306.4L537 305.7L537.4 305L537.1 303.9L536.9 302.8L537.3 301.9L537.6 301L538 300.1L538 300L538.7 300.1L539.5 300.2L540.7 300.2L541.8 300.3L541.8 301.6L541.8 302.8L541.8 304.1L541.7 305.4Z" fill="url(#hatch)" stroke="#c4c4c4" stroke-width="0.5"/>
<path d="M544.7 302.6L544.2 303.5L543.7 304.5L543.1 305.4L542.4 305.4L541.7 305.4L541.8 304.1L541.8 302.8L541.8 301.6L541.8 300.3L542.5 300.6L543.2 300.9L543.9 301.7L544.7 302.6Z" fill="url(#hatch)" stroke="#c4c4c4" stroke-width="0.5"/>
<path d="M517.4 330.7L516.7 330.1L515.9 329.6L515.2 329L514.9 328.2L514.6 327.5L514.1 326.5L513.5 325.6L512.8 324.5L512.1 323.4L511.7 322.5L511.2 321.6L510.8 320.7L510.3 319.7L509.7 318.7L508.9 317.9L508.1 317.1L507.9 316.1L507.7 315.1L508.3 314.3L508.8 313.5L508.8 313.3L508.9 313.3L509 314.4L509.6 314.7L510.2 314.9L511 315L511.2 314.2L511.4 313.5L512.5 312.8L513.5 312.2L514.2 311.5L515 310.8L514.7 309.8L515.1 308.6L515.7 308.8L516.5 309.6L517.2 310.3L518.2 311.1L519.3 311.9L520.1 312.9L520.9 313.9L521.9 314.4L521 314.8L520.1 315.1L519.1 315.5L518.2 315.9L517.9 316.8L517.5 317.8L517.1 318.8L517.5 319.8L517.9 320.8L518.4 321.8L519.4 322.6L520.4 323.4L521.5 324.1L522.1 324L522.7 324L523.3 325.1L524 326.2L523.8 327.2L523.7 328.3L523.5 329.2L523.4 330L523.7 330.7L524 331.4L523.8 332.3L523.5 333.3L523.1 333.8L522.6 334.4L522 333.9L521.3 333.4L520.6 332.8L519.9 332.3L519 331.8L518.2 331.2L517.4 330.7Z" fill="#edf8b1" stroke="#6f6f6f" stroke-opacity="0.75" stroke-width="0.35"/>
<path d="M528 322.6L528 323.7L528.1 324.8L528.9 325.5L529.8 326.2L530.6 326.7L531.5 327.1L532.4 327.6L533.3 327.8L534.2 328L534.4 328.9L534.6 329.9L535.5 330.4L536.3 331L537.2 331.6L537.2 332.3L537.2 333L537.8 333.6L538.4 334.3L538.2 335.4L538 336.5L537.3 336.2L536.6 335.8L535.5 335.9L534.5 336.1L533.4 336.2L533.1 337.2L532.9 338.2L532.8 339.1L532.7 339.9L531.7 340.3L530.7 340.8L529.7 339.8L528.9 339.6L528.1 339.3L527.6 340.1L527.1 340.8L526.4 339.7L525.7 338.6L525.2 337.4L524.8 336.1L524.2 335.2L523.9 334.3L523.5 333.3L523.8 332.3L524 331.4L523.7 330.7L523.4 330L523.5 329.2L523.7 328.3L523.8 327.2L524 326.2L523.3 325.1L522.7 324L523.3 324.1L524 324.2L525 323.6L526 323L527.1 322.4L528 322.6Z" fill="#ffffd9" stroke="#6f6f6f" stroke-opacity="0.75" stroke-width="0.35"/>
<path d="M541.7 342.5L542.4 342.5L543.1 342.6L543 343.7L542.9 344.7L542.9 345.5L542.8 346.3L542.4 346.8L541.9 347.3L540.7 347.2L539.5 347.2L538.4 347.1L538.6 346.2L538.8 345.3L539.2 344.4L538.3 343.4L537.3 342.5L536.7 342.3L536.1 342.2L535.2 341.6L534.4 341L533.5 340.5L532.7 339.9L532.8 339.1L532.9 338.2L533.1 337.2L533.4 336.2L534.5 336.1L535.5 335.9L536.6 335.8L537.3 336.2L538 336.5L538.2 337.6L538.3 338.7L538.5 339.8L539.3 339.9L540.2 340L541 340.1L541.3 341.3L541.7 342.5Z" fill="#edf8b1" stroke="#6f6f6f" stroke-opacity="0.75" stroke-width="0.35"/>
<path d="M541 357.3L540.1 356.5L540 355.5L540 354.5L540 353.4L540.1 352.3L540.1 351.2L541.2 351.7L542.2 352.2L543.2 352.6L544 353.2L544.8 353.8L545.5 354.3L545.7 355.3L546 356.2L545.6 356.8L545.2 357.5L544.4 357.9L543.6 357.9L542.8 357.9L541.9 357.6L541 357.3Z" fill="#7fcdbb" stroke="#6f6f6f" stroke-opacity="0.75" stroke-width="0.35"/>
<path d="M536.9 386.3L536 385.9L535 385.5L534.2 385.1L533.3 384.8L532.3 383.9L531.2 383L530.5 382.8L529.8 382.6L529.3 381.8L528.7 381L528.1 380L527.4 379L526.9 377.9L526.4 376.9L525.9 375.7L525.4 374.4L525.9 373.8L526.4 373.2L526.2 372.3L526.1 371.4L526.2 370.7L526.4 370L525.3 369.3L525.2 368.4L525.1 367.6L524.7 366.3L524.3 365.1L524.2 364L524 363L523.7 362L523.3 361.1L523.5 359.9L523.7 358.7L523.9 357.6L524.1 356.5L524.1 355.5L524.1 354.5L523.9 353.5L523.7 352.6L523.4 351.7L523.4 350.7L523.3 349.8L523.3 348.8L523.3 347.8L523.4 346.7L523.4 345.6L523.5 344.6L523.4 343.6L523.4 342.7L523.3 341.7L523.3 340.8L523.3 339.9L523.3 338.9L523.2 338L523.1 337L523.1 336.1L522.9 335.2L522.7 334.4L522.6 334.4L523.1 333.8L523.5 333.3L523.9 334.3L524.2 335.2L524.8 336.1L525.2 337.4L525.7 338.6L526.4 339.7L527.1 340.8L526.8 341.8L526.4 342.9L526.4 344.2L526.3 345.4L526.3 346.7L525.8 347.8L525.3 348.8L525.3 350.1L525.3 351.4L525.4 352.6L525.4 353.9L525.5 355.2L526 356.3L526.6 357.3L526.5 358.4L526.5 359.4L526.5 360.4L526.6 361.3L526.6 362.3L526.5 363.3L526.4 364.4L526.7 365.5L527 366.7L527.4 367.9L527.7 368.8L528.1 369.7L528.4 370.7L528.8 371.6L529.2 372.5L529.6 373.5L529.5 374.5L529.5 375.5L529.2 376.6L528.9 377.6L529.6 378.6L530.3 379.7L530.9 380.3L531.5 381L532.2 381.4L532.8 381.7L533.7 381.8L534.6 381.9L535.6 382L536.2 382.5L536.7 383.5L537.1 384.6L537.6 385.6L538.5 385.7L539.3 385.9L539.5 385.9L539 386.2L538.5 386.4L539.5 386.9L538.6 386.7L537.8 386.5L536.9 386.3Z" fill="#7fcdbb" stroke="#6f6f6f" stroke-opacity="0.75" stroke-width="0.35"/>
<path d="M546.7 307.1L546.8 307.8L546.8 308.5L546 308.9L546.8 309.1L547.7 309.3L548.6 309.5L549.5 309.5L550.5 309.5L551.3 309.9L552.1 310.2L553 310.6L553.6 311.3L554.2 311.9L555.1 312.1L555.9 312.3L556.7 312.5L558 312.5L559.2 312.5L560.2 313.1L561.1 313.7L561.9 314.5L562.8 315.3L563.8 315.6L564.9 315.9L565.2 316.9L565.5 318L565.8 319.1L565.7 320.2L565.5 321.2L564.9 321.9L564.4 322.6L563.8 323.4L563.3 324.2L562.9 325L562.4 325.8L561.7 326.7L561 327.6L561 328.6L561 329.7L561 330.7L561 331.7L560.9 332.6L560.9 333.5L560.7 334.8L560.4 336.1L559.8 337.2L559.4 338.4L559 339.5L558.5 340.2L557.9 340.9L557.2 341L556.5 341L555.6 341.3L554.7 341.6L553.7 342L552.7 342.5L551.8 343.3L551 344.2L550.6 344.9L550.3 345.7L550.5 346.9L550.7 348.1L550.1 349L549.4 350L549.1 350.8L548.8 351.6L548.5 352.4L547.7 353.3L546.9 354.2L546.4 355.2L546 356.2L545.7 355.3L545.5 354.3L544.8 353.8L544 353.2L543.2 352.6L542.2 352.2L541.2 351.7L540.1 351.2L540.7 350.3L541.3 349.3L541.9 348.4L542.6 347.7L543.3 347L544.1 346.3L543.5 345.5L542.9 344.7L543 343.7L543.1 342.6L542.4 342.5L541.7 342.5L541.3 341.3L541 340.1L540.2 340L539.3 339.9L538.5 339.8L538.3 338.7L538.2 337.6L538 336.5L538.2 335.4L538.4 334.3L537.8 333.6L537.2 333L537.2 332.3L537.2 331.6L536.3 331L535.5 330.4L534.6 329.9L534.4 328.9L534.2 328L533.3 327.8L532.4 327.6L531.5 327.1L530.6 326.7L529.8 326.2L528.9 325.5L528.1 324.8L528 323.7L528 322.6L527.1 322.4L526 323L525 323.6L524 324.2L523.3 324.1L522.7 324L522.1 324L521.5 324.1L520.4 323.4L519.4 322.6L518.4 321.8L517.9 320.8L517.5 319.8L517.1 318.8L517.5 317.8L517.9 316.8L518.2 315.9L519.1 315.5L520.1 315.1L521 314.8L521.9 314.4L522 313.3L522.2 312.2L522.3 311.2L522.5 310.1L522.2 309.2L521.7 308.8L521.7 307.7L522.2 307.7L522.5 307.1L521.9 306.1L523.1 306.3L524.2 306.5L525.3 306.7L525.4 306.9L525.7 306.8L526.5 307.1L527.4 307.4L528 306.9L528.7 306.4L529 305.7L529.3 305L529 303.8L528.7 302.7L529.7 302.8L530.8 302.8L531.7 302.3L532.6 301.7L533.5 301.1L533.9 302L534.4 302.8L534.4 304L534.5 305.2L535 306L535.5 306.7L536.1 306.5L536.7 306.4L537.6 306.2L538.4 306L539.2 305.8L539.9 305.4L540.5 305L541.1 305.2L541.7 305.4L542.4 305.4L543.1 305.4L543.7 304.5L544.2 303.5L544.7 302.6L545.4 303L545.7 304.3L546.1 305.7L546.4 306.4L546.7 307.1Z" fill="#edf8b1" stroke="#6f6f6f" stroke-opacity="0.75" stroke-width="0.35"/>
<path d="M540.3 357.4L540.3 357.5L540.7 357.7L541 357.9L541.9 358.6L542 359.7L542.8 360L542.6 361.2L542.4 362.4L541.6 362.8L540.8 363.2L539.9 363.4L539 363.5L538 363.7L537.2 364.1L537.5 365L537.9 365.9L537 366.3L536.1 366.6L535.4 366.4L534.6 366.2L535.1 367L535.5 367.9L536.2 368.3L537 368.7L536.1 369.1L535.8 370.1L535.8 370.8L535.9 371.5L535.2 371.8L534.6 372.1L534.3 372.8L534.1 373.5L535.1 374.2L536.2 375L536 375.9L535.7 376.8L535.4 377.6L535.2 378.4L535.1 379.2L535.1 380.1L535.1 381L535.7 381.6L536.3 382.1L536.8 383L537.5 383.7L538.3 384.4L539.2 384.7L540.1 385L541 385.3L540.4 385.5L539.8 385.7L539.5 385.9L539.3 385.9L538.5 385.7L537.6 385.6L537.1 384.6L536.7 383.5L536.2 382.5L535.6 382L534.6 381.9L533.7 381.8L532.8 381.7L532.2 381.4L531.5 381L530.9 380.3L530.3 379.7L529.6 378.6L528.9 377.6L529.2 376.6L529.5 375.5L529.5 374.5L529.6 373.5L529.2 372.5L528.8 371.6L528.4 370.7L528.1 369.7L527.7 368.8L527.4 367.9L527 366.7L526.7 365.5L526.4 364.4L526.5 363.3L526.6 362.3L526.6 361.3L526.5 360.4L526.5 359.4L526.5 358.4L526.6 357.3L526 356.3L525.5 355.2L525.4 353.9L525.4 352.6L525.3 351.4L525.3 350.1L525.3 348.8L525.8 347.8L526.3 346.7L526.3 345.4L526.4 344.2L526.4 342.9L526.8 341.8L527.1 340.8L527.6 340.1L528.1 339.3L528.9 339.6L529.7 339.8L530.7 340.8L531.7 340.3L532.7 339.9L533.5 340.5L534.4 341L535.2 341.6L536.1 342.2L536.7 342.3L537.3 342.5L538.3 343.4L539.2 344.4L538.8 345.3L538.6 346.2L538.4 347.1L539.5 347.2L540.7 347.2L541.9 347.3L542.4 346.8L542.8 346.3L542.9 345.5L542.9 344.7L543.5 345.5L544.1 346.3L543.3 347L542.6 347.7L541.9 348.4L541.3 349.3L540.7 350.3L540.1 351.2L540.1 352.3L540 353.4L540 354.5L540 355.5L540.1 356.5L540.1 357.3L540.3 357.4Z" fill="#7fcdbb" stroke="#6f6f6f" stroke-opacity="0.75" stroke-width="0.35"/>
<path d="M592.9 219.8L592 220.1L591.1 220.3L590.3 220.1L589.5 220L588.8 219.8L588.1 219.6L587.5 219.2L587 218.8L586.4 218.5L587.2 218.1L588 217.7L587.1 217.6L586.3 217.6L587.1 217.1L587.9 216.6L588.6 217.1L589.4 217.6L590.1 217.4L590.9 217.2L591.6 217L592.3 216.8L593 216.8L593.8 216.7L594.5 216.6L595.2 216.5L595.6 217.1L595.9 217.6L596.3 218.2L595.6 218.6L595 219.1L594.3 219.3L593.6 219.6L592.9 219.8Z" fill="#1d91c0" stroke="#6f6f6f" stroke-opacity="0.75" stroke-width="0.35"/>
<path d="M601.9 230.8L601.9 230.9L601.6 231.2L601.4 231.3L601 231.7L600.7 232L601.2 232.4L601.8 232.1L602.2 232.3L602.7 232.5L602.8 232.8L602.5 233.6L602.7 234.3L602.8 235L602.3 235.1L601.7 235.2L600.9 235.5L600.1 235.9L599.4 235.9L598.7 236L598.1 235.2L598.7 234.8L599.3 234.5L598.8 233.4L598.7 232.3L599.4 232.3L600.2 232.2L600.3 231.3L601 231L601.6 230.7L601.9 230.8Z" fill="#081d58" stroke="#6f6f6f" stroke-opacity="0.75" stroke-width="0.35"/>
<path d="M599 254.3L598.2 253.6L598.6 252.8L599 251.9L599.1 251.2L599.2 250.5L599.1 249.3L600 249.1L601 249.3L601.8 249.3L602.1 249.7L601.4 250.5L601.3 251.6L601.1 252.4L600.5 252.6L600.9 253.3L601.1 254.5L600.5 254.7L600.6 255.9L599.9 256.2L598.8 256.2L598.9 255.2L599 254.3Z" fill="#41b6c4" stroke="#6f6f6f" stroke-opacity="0.75" stroke-width="0.35"/>
<path d="M612.7 252.9L611.9 252.5L612.9 252L613.2 252.4L612.7 252.9ZM608.9 252.6L609.4 253.6L608.6 254.3L608.3 255.3L607.8 255.7L607.3 256.2L606.7 256.6L605.9 256.6L605.1 256.6L603.9 256.6L603.5 257L603 257.4L602.6 257.6L601.8 256.9L601 255.9L600.6 255.9L600.5 254.7L601.1 254.5L600.9 253.3L600.5 252.6L601.1 252.4L601.3 251.6L601.4 250.5L602.1 249.7L601.8 249.3L601 249.3L600 249.1L599.1 249.3L598.9 248.6L598.7 247.9L599.3 247.3L599.9 246.7L600.6 246.8L601.3 246.9L602 246.9L602.6 246.9L603.4 246.9L604.2 247L604.9 247L605.7 247.1L606.4 247.1L607.2 247.2L607.6 247.7L608.4 247.9L609.2 248.1L610 247.9L610.8 248.3L611.5 248.6L612.1 248.5L612.7 248.5L612.8 249.3L612.3 249.6L611.7 250L611 250.2L610.2 250.5L609.5 251.6L608.9 252.6Z" fill="#225ea8" stroke="#6f6f6f" stroke-opacity="0.75" stroke-width="0.35"/>
<path d="M619.4 230.6L620.1 230.5L620.5 231.1L619.6 231.3L619.4 230.6ZM620.6 230.3L621.1 230.1L621.6 229.8L622.3 230.3L622 231L621.3 231.3L620.8 230.9L620.6 230.3ZM620 228.3L619.8 229.3L620.4 229.5L619.8 230.2L619.3 230.6L619.4 231.4L619.5 231.5L619.1 231.5L618.2 231.4L617.6 230.5L617.6 229.7L617.6 229L618.3 228.7L618.9 228.5L619.5 228.1L620 227.7L620 228.3Z" fill="#253494" stroke="#6f6f6f" stroke-opacity="0.75" stroke-width="0.35"/>
<path d="M614.2 234.2L614.7 233.4L615.6 233.4L616.5 233.4L616.8 233.1L616.8 233.7L616.7 234.4L616.3 234.6L616.7 235L616.5 235.4L615.6 235.6L615.8 236.4L615.7 236.9L615.5 237L615.3 236.9L615.2 236.4L614.6 236L613.9 236.2L613.4 236.4L612.9 236.2L612.8 236.1L612.9 236.1L613.5 235.4L613.8 234.8L614.2 234.2Z" fill="#253494" stroke="#6f6f6f" stroke-opacity="0.75" stroke-width="0.35"/>
<path d="M619.1 248.3L619.9 247.7L620 249L619.8 250L619 250L619.1 249.1L619.1 248.3ZM612.9 247.4L612.7 248.4L612.7 248.5L612.1 248.5L611.5 248.6L610.8 248.3L610 247.9L609.2 248.1L608.4 247.9L607.6 247.7L607.2 247.2L607.4 246.4L607.6 245.6L607.7 244.6L607.9 243.5L607.3 242.8L606.8 242L606 241.7L605.2 241.3L604.4 240.9L603.9 240.2L604.9 240L605.9 239.7L606.7 239.7L607.4 239.8L607.3 239.1L607.1 238.4L608 238.9L608.7 238.8L609.4 238.7L610.2 238.2L610.9 237.8L610.9 236.8L611.6 236.6L611.9 236.5L612.3 237.1L612.8 237.3L613.7 237.6L613.8 238.1L614.5 237.8L614.5 238.3L615.2 238.7L615.5 238.6L616.2 238.8L616.6 239.1L617.4 239.3L618.2 239.4L617.7 240L617.7 240.6L617.6 241.3L616.9 241.6L616.4 242.3L616 242.7L616 243.3L616.8 243.5L617 243.7L616.7 244.8L617.1 245.4L617.6 246.2L617.7 246.6L617.8 246.7L617.1 247L616.6 247.3L616 247.6L615.3 247.4L614.6 247.2L613.8 247.3L612.9 247.4Z" fill="#253494" stroke="#6f6f6f" stroke-opacity="0.75" stroke-width="0.35"/>
<path d="M612.9 236.2L613.4 236.4L613.9 236.2L614.6 236L615.2 236.4L615.3 236.9L615.5 237L615.7 237L616.1 237.6L615.8 237.9L615.4 238.3L615.5 238.6L615.1 238.7L614.5 238.3L614.5 237.8L613.8 238.1L613.7 237.6L612.8 237.3L612.3 237.1L611.9 236.5L611.6 236.6L611.9 236.5L612.7 236.2L612.9 236.2Z" fill="#253494" stroke="#6f6f6f" stroke-opacity="0.75" stroke-width="0.35"/>
<path d="M616.3 238.4L616.2 238.8L615.5 238.6L615.4 238.3L615.8 237.9L615.9 237.9L616.3 238.4Z" fill="#081d58" stroke="#6f6f6f" stroke-opacity="0.75" stroke-width="0.35"/>
<path d="M616.9 241.6L617.6 241.3L618.7 241.3L619.2 241.4L619.8 241.5L619.7 242L620.2 242.3L620.8 242.3L620.7 242.9L620.4 243.3L619.8 243.5L619.2 243.8L618.5 243.1L618 243.6L617 243.7L616.8 243.5L616 243.3L616 242.7L616.4 242.3L616.9 241.6Z" fill="#253494" stroke="#6f6f6f" stroke-opacity="0.75" stroke-width="0.35"/>
<path d="M618.2 231.4L618.8 231.5L619.5 231.5L619.7 231.9L620.2 232.3L620.8 232.6L621.4 232.4L622.1 232.2L622.7 232L623.3 231.8L624.2 232.7L624.1 233.7L624.8 234.5L624.8 235.6L625.3 236.5L625.2 236.9L624.6 236.7L623.8 237.1L623 237.5L622.3 237.6L622.8 238.3L623.4 239L624.3 239.7L624 240L623.3 240.5L623.5 241.5L622.6 241.3L622 241.5L621.3 241.6L620.8 241.5L619.8 241.5L619.2 241.4L618.7 241.3L617.6 241.3L617.7 240.6L617.7 240L618.2 239.4L617.4 239.3L616.6 239.1L616.2 238.8L616.3 238.4L615.9 237.9L615.8 237.9L616.1 237.6L615.7 237L615.5 237L615.7 236.9L615.8 236.4L615.6 235.6L616.5 235.4L616.7 235L616.3 234.6L616.7 234.4L616.8 233.7L616.8 233.1L617.5 233.1L618.2 233.1L618.5 232.6L618.2 231.4Z" fill="#253494" stroke="#6f6f6f" stroke-opacity="0.75" stroke-width="0.35"/>
<path d="M622.6 241.3L623.5 241.5L623.3 240.5L624 240L624.3 239.7L625.3 240L625.6 239.4L626.1 239.6L626.7 239.7L627.7 240L628 240.8L627.4 241.5L627 242.3L626.4 242.5L625.8 242.6L625.1 242.8L624.4 242.9L623.7 242.7L622.9 242.6L621.9 242.4L620.8 242.3L620.2 242.3L619.7 242L619.8 241.5L620.8 241.5L621.3 241.6L622 241.5L622.6 241.3Z" fill="#253494" stroke="#6f6f6f" stroke-opacity="0.75" stroke-width="0.35"/>
<path d="M625.9 256.2L624.8 255.7L623.8 255.3L623.6 254.9L624.3 254.7L624.9 254.5L625.7 254.4L626.5 254.4L627.3 254.3L627.1 255.2L626.8 256L626.9 256.7L625.9 256.2ZM620.4 252.6L619.6 253.5L618.7 253.3L618.8 252.6L618.9 251.9L618.6 250.7L619.2 250.4L619.7 250.2L620.4 250.7L620.4 251.6L620.4 252.6ZM627.3 249.3L628 249.9L628.7 250.5L629.6 251.2L630.5 251.8L629.8 251.6L629.1 251.4L628.3 252.1L628.7 252.8L629 253.5L628.5 254.1L627.9 254.7L627.3 254.3L627.4 253.3L627.4 252.2L626.8 251.7L626.2 251.2L625.5 250.8L624.8 250.5L624.1 250.1L623.1 249.4L622.4 248.9L621.7 248.4L621.1 247.3L620.7 246.5L620 246.1L619.3 245.8L618.6 246.2L617.9 246.6L617.8 246.7L617.7 246.6L617.6 246.2L617.1 245.4L616.7 244.8L617 243.7L618 243.6L618.5 243.1L619.2 243.8L619.8 243.5L620.4 243.3L620.7 242.9L620.8 242.3L621.9 242.4L622.9 242.6L623.7 242.7L624.4 242.9L624.3 243.5L624.5 244.1L623.8 244.2L623.1 244.4L623 245.6L623.8 246.3L624.6 247L625.1 247.9L625.7 248.7L626.5 249L627.3 249.3Z" fill="#225ea8" stroke="#6f6f6f" stroke-opacity="0.75" stroke-width="0.35"/>
<path d="M604.2 231.3L603.3 230.9L603.3 230.1L603.3 229.3L603.4 228L603.8 227.2L604.1 226.5L605.2 226.5L606.2 226.5L605.8 227.7L606.6 227.8L607.4 228L606.9 228.7L606.5 229.5L607.1 230.2L607.6 230.6L608.2 231.3L608.7 231.9L609 232.5L609.3 233.1L609.5 234L610.3 234.2L611 234.5L610.6 235L610.2 235.6L610.7 236.4L609.8 236.6L609 236.8L608.1 236.9L607.4 237L606.7 237L606 237.1L605.4 237.3L604.9 237.6L603.9 237.8L603 238L603.7 237.2L604.2 236.8L604.7 236.4L605.2 236.3L605.8 236.1L604.9 235.9L604 235.6L604.4 235L604.8 234.5L604.3 233.6L605.1 233.6L605.9 233.6L606 232.9L605.7 232.3L605.5 231.4L604.7 231.5L603.9 231.5L604.2 231.3ZM602.5 233.6L602.8 232.8L602.7 232.5L602.2 232.3L601.8 232.1L601.2 232.4L600.7 232L601 231.7L601.4 231.3L601.6 231.2L601.9 230.9L601.9 230.8L601.6 230.7L602.3 230.9L602.9 231L603.4 231.8L602.9 232.6L602.5 233.6Z" fill="#225ea8" stroke="#6f6f6f" stroke-opacity="0.75" stroke-width="0.35"/>
<path d="M619.5 226L618.8 226.1L618.1 226.6L617.3 227.2L616.6 227.2L615.9 227.2L615.4 226.7L614.9 226.2L614.4 225.3L614.2 224.2L614.1 223.5L614.1 222.8L614.5 221.7L615 221.5L615.5 221.3L616 221L616.5 220.7L617 220.5L617.6 220.2L618.2 219.9L618.8 219.6L619.2 219.1L619.7 218.6L620.2 217.9L620.8 217.2L621.3 216.5L621.7 215.9L622.3 215.2L622.9 214.5L623.3 214.1L623.8 213.7L624.3 213.4L624.9 213L625.4 212.7L626 212.5L626.6 212.3L627.1 212.1L627.9 212L628.6 211.8L629.3 211.7L630 211.5L630.7 211.3L631.4 211.1L632.1 211L632.8 211.1L633.6 211.2L634.3 211.4L635.1 211.6L635.7 211.7L636.3 211.8L636.9 211.9L636.6 212.2L636.2 212.5L637 212.5L637.1 212.5L637.1 212.7L636.5 212.9L635.9 213.1L635.4 213.4L635.4 212.7L634.6 212.4L634 212.3L633.4 212.3L633 212.6L632.5 212.9L631.9 213.6L631.5 213.7L631.1 213.9L630.6 213.9L630.2 213.8L629.7 213.9L629.3 213.9L628.7 213.5L628.2 213.1L627.8 213.4L627.4 214.2L626.6 214.1L625.7 214L625.1 214.5L624.7 214.9L624.4 215.3L624 216L623.7 216.7L623.3 216.8L622.8 217L622.7 217.6L622.6 218.3L622.1 218.8L621.6 219.2L621.3 220L620.9 220.8L621.2 221.7L621.2 222.6L621.3 223.4L621.6 224L621 224.8L620.7 226L620.4 226.1L620.4 226L619.7 225.6L619.8 224.8L619.5 226ZM628.5 200.9L629.1 201.2L629.7 201.5L630.3 201.8L629.8 202L629.2 202.2L628.6 202.3L628 202.5L627.3 202.7L626.7 202.8L626.2 203L625.6 203.1L625 203.2L624.5 203.3L624 203.7L623.4 204.1L622.9 204.5L622.4 204.9L621.6 204.6L620.9 204.2L620.1 203.9L619.4 203.5L618.7 203.2L618 202.8L617.9 202.2L617.8 201.5L618.4 201.5L619.1 201.4L619.8 201.4L620.5 201.3L621.1 201.3L621.8 201.2L622.5 201.2L623.1 201.1L623.8 201.1L624.5 201.1L625.1 201.1L625.8 201L626.5 201L627.1 201L627.8 201L628.5 200.9Z" fill="#081d58" stroke="#6f6f6f" stroke-opacity="0.75" stroke-width="0.35"/>
<path d="M628.5 220.1L628 220.3L627.5 220.6L627 221L626.5 221.5L626.2 222.5L626.2 223.1L626.2 223.8L626.9 224.1L627.6 224.4L628.2 225.6L627.7 225.9L627.2 226.1L626.8 226.6L626.2 227L626.1 227.8L626 228.6L625.8 229.2L625.6 229.8L625 229.7L624.4 229.7L624 230.7L623.3 230.7L622.6 230.7L622.2 229.8L622.5 229L621.9 228.3L621.4 227.7L621 227.2L620.5 226.8L620.4 226L620.4 226.1L620.7 226L621 224.8L621.6 224L621.3 223.4L621.2 222.6L621.2 221.7L620.9 220.8L621.3 220L621.6 219.2L622.1 218.8L622.6 218.3L622.7 217.6L622.8 217L623.3 216.8L623.7 216.7L624 216L624.4 215.3L624.7 214.9L625.1 214.5L625.7 214L626.6 214.1L627.4 214.2L627.8 213.4L627.9 213.4L628.3 213.7L629.1 213.9L629.8 214.2L630.4 214.5L631 214.8L631.1 215.4L631.2 216.1L631.7 216.7L631.9 217.3L631.1 217.3L630.2 217.3L629.9 217.8L629.5 218.3L629.3 219.2L628.9 219.6L628.5 220.1ZM622.4 230.1L622.3 229.8L622.2 229.8L622.4 230.1Z" fill="#253494" stroke="#6f6f6f" stroke-opacity="0.75" stroke-width="0.35"/>
<path d="M632.1 224.9L631.3 224.5L630.5 224L630.3 223.4L630.2 222.8L630.1 222L630.1 221.3L630.4 220.9L630.7 220.5L631.2 220L631.7 219.6L632.1 219L632.5 218.5L633.3 218.2L633.1 217.7L632.5 217.5L632 217.3L631.9 217.3L631.7 216.7L631.2 216.1L631.1 215.4L631 214.8L630.4 214.5L629.8 214.2L629.1 213.9L628.3 213.7L627.9 213.4L627.8 213.4L628.2 213.1L628.7 213.5L629.3 213.9L629.7 213.9L630.2 213.8L630.6 213.9L631.1 213.9L631.5 213.7L631.9 213.6L632.4 213L633.2 213.1L634 213.2L634.8 213.3L635.5 213.4L635.2 214.4L636 214.7L636.9 215L636.6 215.7L637.1 216.6L637.6 217.5L637.5 218.6L638.4 219.3L638.1 220.2L638.9 220.6L639.8 221L639.4 221.6L639 222.2L638.6 222.8L638.1 223.1L637.7 223.4L637.2 223.7L636.8 224L636.8 224.1L636.2 224.1L635.5 224.2L634.8 224.3L634 224.5L633.2 224.7L632.6 224.8L632.1 224.9Z" fill="#225ea8" stroke="#6f6f6f" stroke-opacity="0.75" stroke-width="0.35"/>
<path d="M632.8 225.7L633.4 225.5L634.1 225.3L634.9 225.3L635.7 225.3L636.5 225.3L637.3 225.3L637.5 225.6L637 226.2L637.2 227.3L637.5 227.9L636.9 227.9L636.3 227.9L635.7 227.6L635.2 227.3L634.6 227.4L634 227.5L634 227.4L633.5 227L633 226.6L632.8 225.7Z" fill="#41b6c4" stroke="#6f6f6f" stroke-opacity="0.75" stroke-width="0.35"/>
<path d="M632.2 227.6L632.7 228.1L633.1 228.6L633.9 228.6L634 227.5L634.6 227.4L635.2 227.3L635.7 227.6L636.3 227.9L636.9 227.9L637.5 227.9L637.9 228.8L638.3 229.7L637.5 230L636.8 230.3L635.9 230L635 229.7L634.3 229.7L633.6 229.6L632.9 229.5L632.4 229.5L631.9 229.4L631 229.8L630.8 228.9L631.3 228.1L631.8 227.9L632.2 227.6Z" fill="#41b6c4" stroke="#6f6f6f" stroke-opacity="0.75" stroke-width="0.35"/>
<path d="M631.9 229.4L632.4 229.5L632.9 229.5L633.6 229.6L634.3 229.7L635 229.7L635.9 230L636.8 230.3L637.1 230.9L636.6 231.2L636.2 231.5L636 232.2L635.4 232.5L634.9 232.7L633.9 232.7L633.1 232.1L632.8 231.1L632.1 231L631.4 230.9L631 229.9L631 229.8L631.9 229.4Z" fill="#41b6c4" stroke="#6f6f6f" stroke-opacity="0.75" stroke-width="0.35"/>
<path d="M631.4 230.9L632.1 231L632.8 231.1L633.1 232.1L632.3 232.1L631.4 232.1L630.6 232L629.7 232L630.1 231.4L630.7 231.2L631.4 231L631.4 230.9Z" fill="#c7e9b4" stroke="#6f6f6f" stroke-opacity="0.75" stroke-width="0.35"/>
<path d="M628.6 231.5L628.7 232.1L629.2 232L629.7 232L630.6 232L631.4 232.1L632.3 232.1L633.1 232.1L633.9 232.7L634.3 233.5L634.6 234.4L634 235L634.5 236L635.2 237.1L634.6 237.6L634 238.4L633.8 239.3L633.2 239.1L632.6 238.9L632 238.9L631.3 238.9L630.4 238.6L629.7 238.7L628.7 238L628.4 237.6L627.5 237.4L626.7 237.5L626.8 237.1L625.9 236.9L625.2 236.9L625.3 236.5L624.8 235.6L624.8 234.5L624.1 233.7L624.2 232.7L624.8 232.5L625.5 232.3L626.2 232L627 231.7L627.8 231.6L628.6 231.5Z" fill="#41b6c4" stroke="#6f6f6f" stroke-opacity="0.75" stroke-width="0.35"/>
<path d="M624.6 236.7L625.2 236.9L625.9 236.9L626.8 237.1L626.7 237.5L627.5 237.4L628.4 237.6L628.7 238L629.7 238.7L628.9 239L628.6 239.4L628 239.5L627.7 240L626.7 239.7L626.1 239.6L625.6 239.4L625.3 240L624.3 239.7L623.4 239L622.8 238.3L622.3 237.6L623 237.5L623.8 237.1L624.6 236.7Z" fill="#41b6c4" stroke="#6f6f6f" stroke-opacity="0.75" stroke-width="0.35"/>
<path d="M628.9 239L629.7 238.7L630.4 238.6L631.3 238.9L632 238.9L632.6 238.9L633.2 239.1L633.8 239.3L633.5 240.2L632.8 240.1L632.1 240.2L631.5 240.4L630.7 240.5L629.9 241.1L629.3 241.1L628.8 241.1L628 240.8L627.7 240L628 239.5L628.6 239.4L628.9 239Z" fill="#41b6c4" stroke="#6f6f6f" stroke-opacity="0.75" stroke-width="0.35"/>
<path d="M630.7 240.5L631.5 240.4L632.1 240.2L632.8 240.1L633.5 240.2L634.4 240.8L633.5 240.9L632.9 241.5L632.7 242.2L632.5 242.9L631.8 243.3L631 243.3L630.1 243.7L629.5 243.7L628.9 243.7L628.3 243.3L627.4 242.7L627 242.3L627.4 241.5L628 240.8L628.8 241.1L629.3 241.1L629.9 241.1L630.7 240.5Z" fill="#7fcdbb" stroke="#6f6f6f" stroke-opacity="0.75" stroke-width="0.35"/>
<path d="M625.8 242.6L626.4 242.5L627 242.3L627.4 242.7L626.7 243.3L626.5 243.8L626.2 244.1L625.5 244.1L624.5 244.3L624.5 244.1L624.3 243.5L624.4 242.9L625.1 242.8L625.8 242.6Z" fill="#41b6c4" stroke="#6f6f6f" stroke-opacity="0.75" stroke-width="0.35"/>
<path d="M626.3 246.1L625.6 245.6L624.9 245.1L624.4 244.8L624.5 244.3L625.5 244.1L626.2 244.1L626.5 243.8L626.7 243.3L627.4 242.7L628.3 243.3L628.9 243.7L629.5 243.7L630.1 243.7L630.4 244.2L630.9 244.7L630.5 245.1L629.9 245L629.3 244.8L628.8 244.7L628.2 244.7L627.1 244.7L626.9 245.4L627.4 246.1L628.1 246.6L628.8 247.2L629.1 247.7L629.7 248.1L630.2 248.4L630.2 248.6L629.6 248.1L629 247.7L628.4 247.4L627.7 247L627 246.5L626.3 246.1Z" fill="#7fcdbb" stroke="#6f6f6f" stroke-opacity="0.75" stroke-width="0.35"/>
<path d="M630.9 247L630.6 247.3L630.2 248.4L629.7 248.1L629.1 247.7L628.8 247.2L628.1 246.6L627.4 246.1L626.9 245.4L627.1 244.7L628.2 244.7L628.8 244.7L629.3 244.8L629.9 245L630.5 245.1L630.9 245.9L631.3 246.3L630.9 247Z" fill="#edf8b1" stroke="#6f6f6f" stroke-opacity="0.75" stroke-width="0.35"/>
<path d="M630.6 247.3L630.9 247L631.4 247.4L632.2 247.9L631.9 248.3L631.6 248.3L631.2 248.8L631.3 249.3L630.8 248.9L630.2 248.6L630.2 248.4L630.6 247.3Z" fill="#c7e9b4" stroke="#6f6f6f" stroke-opacity="0.75" stroke-width="0.35"/>
<path d="M631.4 250L631.3 249.3L631.2 248.8L631.6 248.3L631.9 248.3L632.7 249.1L632.7 250.1L633.2 250.7L633.3 251.1L633 251.8L632.4 252.4L632.3 252.4L631.5 251.5L631.4 250.7L631.4 250Z" fill="#edf8b1" stroke="#6f6f6f" stroke-opacity="0.75" stroke-width="0.35"/>
<path d="M634.7 248.7L635.5 249.5L635.2 250.3L634.5 250.5L633.8 250.7L633.2 250.7L632.7 250.1L632.7 249.1L633.1 248.8L633.8 248.8L634.7 248.7Z" fill="#edf8b1" stroke="#6f6f6f" stroke-opacity="0.75" stroke-width="0.35"/>
<path d="M633.6 247.9L633.8 248.8L633.1 248.8L632.7 249.1L631.9 248.3L632.2 247.9L632.7 247.4L633.6 247.9Z" fill="url(#hatch)" stroke="#c4c4c4" stroke-width="0.5"/>
<path d="M632.4 244L633.1 244.7L633.3 245.3L633.9 245.3L634.4 245.4L634.7 246.1L634.5 246.6L635.2 247.4L634.8 248.4L634.7 248.7L633.8 248.8L633.6 247.9L632.7 247.4L632.2 247.9L631.4 247.4L630.9 247L631.3 246.3L630.9 245.9L630.5 245.1L630.9 244.7L630.4 244.2L630.1 243.7L631 243.3L631.8 243.3L632.4 244Z" fill="#edf8b1" stroke="#6f6f6f" stroke-opacity="0.75" stroke-width="0.35"/>
<path d="M638 258.4L639.1 258.5L640.1 258.6L639.2 259L638.3 258.8L637.5 258.7L636.9 258.6L637.4 258.5L638 258.4ZM635.2 251.9L635.7 252.5L636.1 253.1L635.6 253.9L636.4 254.2L637.1 254.5L636.5 254.9L636.3 255.9L636.1 256.9L635.6 257L634.6 256.4L634.2 255.7L633.8 255L634.3 254.3L633.3 253.6L632.9 253.1L632.5 252.5L632.4 252.4L633 251.8L633.3 251.1L633.2 250.7L633.8 250.7L634.5 250.5L635.2 250.3L635.5 250L636.1 249.9L636.6 249.8L637.4 250L638.1 250.2L638.7 249.9L639.2 249.5L639.6 249.7L639.2 250.5L639 250.8L638.2 250.7L637.3 250.7L636.4 250.9L635.5 251.1L635.2 251.9Z" fill="#7fcdbb" stroke="#6f6f6f" stroke-opacity="0.75" stroke-width="0.35"/>
<path d="M641.1 249.2L640.2 249.1L639.5 249.3L639.2 249.5L638.7 249.9L638.1 250.2L637.4 250L636.6 249.8L636.1 249.9L635.5 250L635.4 249.8L635.5 249.5L634.7 248.7L634.8 248.4L635.2 247.4L634.5 246.6L634.7 246.1L635.7 246.5L636.6 246.6L637.4 246.7L638 246.6L638.5 246.5L639.1 246.3L639.6 246.2L640.4 246.4L641.4 246.7L641.5 246.7L641.2 247.4L640.9 248L641.1 249.2Z" fill="#c7e9b4" stroke="#6f6f6f" stroke-opacity="0.75" stroke-width="0.35"/>
<path d="M641.4 246.7L640.4 246.4L639.6 246.2L639.1 246.3L638.5 246.5L638 246.6L637.4 246.7L636.6 246.6L635.7 246.5L634.7 246.1L634.4 245.4L633.9 245.3L633.3 245.3L633.1 244.7L632.4 244L631.8 243.3L632.5 242.9L632.7 242.2L632.9 241.5L633.5 240.9L634.4 240.8L635 240.9L636.1 240.9L636.9 241L637.7 240.7L638.4 240.4L639.3 241.2L639.8 241.7L640.3 242.2L640.6 243.5L640.7 244.3L641.6 244.4L642.4 244.7L642 245.3L641.5 245.9L641.5 246.7L641.4 246.7Z" fill="#7fcdbb" stroke="#6f6f6f" stroke-opacity="0.75" stroke-width="0.35"/>
<path d="M641.3 240.9L641.6 241.6L642 242.3L642.6 243L642.1 243.1L641.3 242.9L641.4 243.6L640.7 244.3L640.6 243.5L640.3 242.2L639.8 241.7L639.3 241.2L638.4 240.4L639.3 240.1L640.3 240.5L641.3 240.9Z" fill="#edf8b1" stroke="#6f6f6f" stroke-opacity="0.75" stroke-width="0.35"/>
<path d="M636.2 231.5L636.6 231.2L637.1 230.9L636.8 230.3L637.5 230L638.3 229.7L639.3 229.9L640.3 230.1L640.8 230.3L641.4 230.5L641.4 231.5L642 232.1L642.7 232.6L643.2 233L643.8 233.4L643.3 233.8L642.8 234.4L643.2 235.2L642.6 235.7L642 236.3L641.3 236.2L640.6 236.1L639.9 236L639.2 235.9L638.5 235.7L637.7 235.6L637 235.4L636.4 235.4L635.7 235.4L635.1 235.7L634.5 236L634 235L634.6 234.4L634.3 233.5L633.9 232.7L634.9 232.7L635.4 232.5L636 232.2L636.2 231.5Z" fill="#c7e9b4" stroke="#6f6f6f" stroke-opacity="0.75" stroke-width="0.35"/>
<path d="M646.8 245.6L646.2 245L645.5 244.4L646 244L646.5 243.5L645.6 243.2L644.7 242.9L644 242.9L643.4 242.9L643 243.3L642.6 243.8L642.4 244.7L641.6 244.4L640.7 244.3L641.4 243.6L641.3 242.9L642.1 243.1L642.6 243L642 242.3L641.6 241.6L641.3 240.9L640.3 240.5L639.3 240.1L638.4 240.4L637.7 240.7L636.9 241L636.1 240.9L635 240.9L634.4 240.8L633.5 240.2L633.8 239.3L634 238.4L634.6 237.6L635.2 237.1L634.5 236L635.1 235.7L635.7 235.4L636.4 235.4L637 235.4L637.7 235.6L638.5 235.7L639.2 235.9L639.9 236L640.6 236.1L641.3 236.2L642 236.3L642.6 235.7L643.2 235.2L643.9 235.1L644.5 234.9L645.2 234.8L646.1 235.7L646.7 236.2L647.3 236.7L648 237.1L648.7 237.5L649.5 237.8L650.4 238L651.2 238.2L651.9 238.4L652.7 238.6L653 239.1L652.7 240L653 240.9L652.2 241.1L651.4 241.3L651.4 242L651.3 242.1L650.7 242.2L650.2 242.3L649.4 242.6L648.6 243L648.5 243.6L648.3 244.2L649.1 244.3L650 244.4L650.3 244.4L650.3 244.7L650.1 244.7L649.5 244.7L648.8 244.8L647.8 245.2L646.8 245.6Z" fill="#edf8b1" stroke="#6f6f6f" stroke-opacity="0.75" stroke-width="0.35"/>
<path d="M648 258.5L648.9 258.2L649.8 258L649.3 259L648.7 259.3L648.1 259.5L647.3 259L648 258.5Z" fill="#41b6c4" stroke="#6f6f6f" stroke-opacity="0.75" stroke-width="0.35"/>
<path d="M650.9 256.7L649.8 256.4L649.1 256.9L648.5 257.3L647.9 257.4L647.3 257.4L646.1 257L645 256.6L644.4 256.9L643.9 257.3L643 256.9L642.2 256.6L641.2 256L640.5 255.2L639.7 254.3L639.9 253.5L640 252.8L639.4 251.9L639.8 251.4L639 250.8L639.2 250.5L639.6 249.7L639.5 249.3L640.2 249.1L641.1 249.2L641.1 249.3L641.8 249.8L642.4 250.2L643.2 250.3L643.9 250.3L644.7 250.4L645.4 250L646.1 249.6L646.8 249.3L647.6 249.2L648.3 249.2L649.1 249.1L649.7 249.3L650.3 249.5L651.1 249.9L651.9 250.2L652.8 250.6L653.5 250.6L654.3 250.5L655 250.5L655.8 250.2L656.6 249.8L656.6 249.7L656.7 249.7L656.7 249.8L657.8 249.9L658.4 250.1L659 250.4L659.3 251.1L659.5 251.8L660.2 252.1L660.9 252.4L660.5 252.8L660.4 253.5L660.4 254.3L660.7 254.9L661.5 255.9L660.5 255.7L659.8 255.7L659.1 255.7L658.6 256L657.9 256L657.1 256L656.5 256.2L656 256.4L655.2 256.4L654.4 256.4L653.6 256.4L652.9 256.4L652.1 256.4L652.1 257.3L651.4 257.7L651.4 257.6L651.6 256.7L650.9 256.7ZM642.8 250.9L642.4 250.5L641.6 250.6L640.7 250.6L639.9 251.4L640.6 251.4L641.4 251.4L642.1 251.2L642.8 250.9Z" fill="#41b6c4" stroke="#6f6f6f" stroke-opacity="0.75" stroke-width="0.35"/>
<path d="M656.2 247.4L657.3 247.4L658.1 247.8L658.9 248.1L659.6 248.2L660.3 248.3L661.3 248.8L662.2 249.3L662.5 249.4L662.3 250.2L661.5 250.2L660.7 250.1L659.8 250.2L659 250.4L658.4 250.1L657.8 249.9L656.7 249.8L656.7 249.7L656.6 249.7L656.6 249.8L656.5 249L656.5 248.3L655.4 247.7L654.4 247.2L655.3 247.3L656.2 247.4Z" fill="#edf8b1" stroke="#6f6f6f" stroke-opacity="0.75" stroke-width="0.35"/>
<path d="M662 251.5L661.7 252.1L662.9 252.6L663 253.5L662.6 253.5L662.2 253.1L661.5 252.7L660.9 252.4L660.2 252.1L659.5 251.8L659.3 251.1L659 250.4L659.8 250.2L660.7 250.1L661.4 250.7L662 251.5Z" fill="#edf8b1" stroke="#6f6f6f" stroke-opacity="0.75" stroke-width="0.35"/>
<path d="M660.9 252.4L661.5 252.7L662.2 253.1L662.6 253.5L661.9 253.5L660.9 252.8L660.9 252.4ZM666 254.2L664.8 253.6L664.2 253.3L663.5 252.9L663 253.5L662.9 252.6L661.7 252.1L662 251.5L661.4 250.7L660.7 250.1L661.5 250.2L662.3 250.2L662.5 249.4L663.2 249.8L663.9 250.2L664.6 249.4L665.4 250.5L666.2 251.6L666 252.8L665.9 254L666 254.2Z" fill="#edf8b1" stroke="#6f6f6f" stroke-opacity="0.75" stroke-width="0.35"/>
<path d="M646.2 263.8L647 264.1L647.8 264.4L648.9 264.3L650.1 264.2L650.6 265.5L651.1 266.8L650.9 268L650.6 269.2L650.1 268.7L649.6 268.2L648.9 267.2L648.3 266.2L648.8 267.3L649.2 268.5L649.7 269.6L650.2 270.5L650.6 271.5L651.1 272.4L651.8 273.6L652.6 274.7L653.2 275.6L653.7 276.5L654.3 277.4L653.1 277.4L651.9 277.4L650.7 277.4L649.5 277.4L648.3 277.4L647.1 277.4L645.8 277.4L644.6 277.4L643.4 277.4L642.2 277.4L641 277.4L639.8 277.4L639.7 276.1L639.6 274.9L639.6 273.6L639.5 272.3L639.4 271.1L639.3 269.8L639.3 268.6L639.2 267.3L639.1 266.1L639.1 264.9L639.2 263.8L640.3 264L641.5 264.2L642.6 264.3L643.8 264.3L644.9 264.4L645.6 264.1L646.2 263.8Z" fill="#c7e9b4" stroke="#6f6f6f" stroke-opacity="0.75" stroke-width="0.35"/>
<path d="M663 242.7L662.5 241.9L662 241.1L661.4 240.6L660.7 240.2L660 239.4L660.2 238.5L660.4 237.6L661.1 237.4L661.8 237.2L662.4 236.8L663 236.3L663.7 235.9L664.6 235.9L665.5 236L666.5 236.3L667.5 236.5L668.5 236.8L669.2 236.7L669.8 236.6L670.5 236.5L671.3 236.5L672.1 236.5L672.8 236.9L673.5 237.3L674.2 237.1L675 236.9L675 236.3L674.9 235.6L674.1 235.4L673.3 235.3L673.6 234.6L673.9 234L673.3 232.7L673.9 232.6L674.7 232.4L675.6 232.2L676.4 232L677.3 231.8L678 231.7L678.7 231.5L679.4 231.4L680.2 231.3L681.1 231.1L682 231L682.9 230.9L683.9 231.4L685 232L686 232.6L686.5 232.6L687.2 232.9L687.9 233.3L688.5 233.1L689.1 232.8L689.7 232.6L690.5 233.3L691.4 234L692.4 234.7L693.4 235.4L694.4 236.1L695.4 236.8L696.2 236.8L697 236.7L697.8 236.7L698.6 236.7L699.6 237.2L700.5 237.8L701.5 238.3L702.5 238.3L703.5 238.3L704.5 239.3L703.9 239.7L703.4 240.1L703.6 241.1L703.8 242.2L702.8 242.1L701.9 242L700.9 241.9L701.1 243.1L701.3 244.2L700.7 244.6L700.1 245L699.5 245.4L699.9 246.5L700.2 247.7L700.5 248.8L699.7 248.4L698.8 248L698 247.9L697.1 247.9L696.2 247.8L695.3 247.7L694.4 247.6L693.5 247.4L693.1 247.9L692.7 248.4L691.8 248.5L690.9 248.6L690 248.7L689.9 248.7L689.3 249.1L688.7 249.5L688.1 250L687.8 250.9L687 250.4L686 249.8L685.1 249.3L684.6 248.6L684 247.9L683.3 247.3L682.6 246.7L681.7 246.8L680.9 246.9L680.1 247L679.3 247L678.5 246.4L677.8 245.8L677.1 245.4L676.3 245L676.4 244.9L676.1 244.2L675.8 243.5L674.8 243.2L673.9 242.9L674.3 244.2L673.5 244.4L672.7 244.7L671.9 244.9L672.3 246.2L672.6 247.5L672.9 248.8L673.3 250.1L672.4 249.6L671.5 249.2L670.6 248.7L669.8 249.3L669.6 249.1L668.8 248L668.1 247.3L667.4 246.5L666.8 245.8L666.6 244.7L667.6 244.6L668.7 244.5L668.3 243.5L667.9 242.4L667 242.3L666.2 242.2L665.3 242.4L664.4 242.6L663.6 242.9L663.5 242.9L663 242.7Z" fill="#7fcdbb" stroke="#6f6f6f" stroke-opacity="0.75" stroke-width="0.35"/>
<path d="M671 250.1L670.4 249.7L669.8 249.3L670.6 248.7L671.5 249.2L672.4 249.6L673.3 250.1L674.4 250.1L674.9 249.5L675.3 248.8L675.7 248.1L676.6 248.5L677.5 248.8L678.3 249.5L679 250.2L679.9 251.1L680.8 251.9L681.7 252.3L682.5 252.6L683.4 253.2L684.3 253.8L685.3 254.3L686 255L686.8 255.7L685.7 255.5L685.2 256.3L684.8 257.1L684 257.4L683.1 257.7L682.5 258.6L681.6 257.6L680.7 256.7L679.7 256.6L678.8 256L678 255.5L676.9 255L675.8 254.5L674.7 254.5L673.7 254.6L673 255.2L672.2 255.7L672.1 255.7L671.8 254.5L671.5 253.3L670.9 252.6L670.2 251.9L670.6 251L671 250.1Z" fill="#edf8b1" stroke="#6f6f6f" stroke-opacity="0.75" stroke-width="0.35"/>
<path d="M676.3 245L677.1 245.4L677.8 245.8L678.5 246.4L679.3 247L680.1 247L680.9 246.9L681.7 246.8L682.6 246.7L683.3 247.3L684 247.9L684.6 248.6L685.1 249.3L686 249.8L687 250.4L687.8 250.9L688.1 250L688.7 249.5L689.3 249.1L689.9 248.7L690.5 249.3L691.1 249.8L692 250.2L692.9 250.7L692.5 251.2L692 251.6L691.2 251.6L690.3 251.6L689.5 251.7L688.6 251.8L688.4 252.5L687.3 252.5L688.2 253.5L688.3 254.7L688.3 255.9L687.5 255.8L686.8 255.7L686 255L685.3 254.3L684.3 253.8L683.4 253.2L682.5 252.6L681.7 252.3L680.8 251.9L679.9 251.1L679 250.2L678.3 249.5L677.5 248.8L676.6 248.5L675.7 248.1L675.3 248.8L674.9 249.5L674.4 250.1L673.3 250.1L672.9 248.8L672.6 247.5L672.3 246.2L671.9 244.9L672.7 244.7L673.5 244.4L674.3 244.2L674.5 244.9L675.1 245.6L675.7 246.3L676 245.7L676.3 245Z" fill="#ffffd9" stroke="#6f6f6f" stroke-opacity="0.75" stroke-width="0.35"/>
<path d="M695.3 247.7L696.2 247.8L697.1 247.9L698 247.9L698.8 248L699.7 248.4L700.5 248.8L699.7 249.3L698.9 249.8L698.1 250.2L697.2 250.5L696.5 251.4L695.9 251.4L695.2 251.4L694.7 252L694.2 252.6L693.4 252.6L692.5 252.5L691.7 252.5L690.9 252.4L690.1 252.2L689.3 252.1L690.1 251.9L690.9 251.6L692 251.6L692.5 251.2L692.9 250.7L692 250.2L691.1 249.8L690.5 249.3L689.9 248.7L690 248.7L690.9 248.6L691.8 248.5L692.7 248.4L693.1 247.9L693.5 247.4L694.4 247.6L695.3 247.7Z" fill="#ffffd9" stroke="#6f6f6f" stroke-opacity="0.75" stroke-width="0.35"/>
<path d="M688.4 252.5L688.6 251.8L689.2 251.7L689.9 251.7L689.3 252.1L690.1 252.2L690.9 252.4L691.7 252.5L692.5 252.5L693.4 252.6L694.2 252.6L695.2 253.3L696.2 253.9L696.3 254.8L696.5 255.7L695.4 255.7L694.3 255.6L693.5 255.9L692.8 256.3L691.7 255.8L690.7 255.3L689.9 255.6L689.1 255.9L688.3 255.9L688.3 254.7L688.2 253.5L687.3 252.5L688.4 252.5Z" fill="#ffffd9" stroke="#6f6f6f" stroke-opacity="0.75" stroke-width="0.35"/>
<path d="M690.9 251.6L690.1 251.9L689.3 252.1L689.9 251.7L690.3 251.6L690.9 251.6Z" fill="#ffffd9" stroke="#6f6f6f" stroke-opacity="0.75" stroke-width="0.35"/>
<path d="M684.8 257.1L685.2 256.3L685.7 255.5L686.8 255.7L687.5 255.8L688.3 255.9L689.1 255.9L689.9 255.6L690.7 255.3L691.7 255.8L692.8 256.3L693.5 255.9L694.3 255.6L695.5 255.7L696.6 255.9L695.7 256.4L694.8 256.6L693.8 256.7L692.9 256.9L692.9 257.9L692.8 259L692.4 259.7L692 260.4L691.9 261.1L691.7 261.8L691.8 262.6L691.8 263.4L691.1 263.5L690.3 263.6L689.8 264.5L689.3 265.4L688.8 266.3L687.9 266.5L687 266.6L686.1 266.8L685.2 266.8L684.3 266.9L683.3 266.6L682.3 266.3L682.6 265.3L682.8 264.2L681.8 263.9L681.4 262.6L681 261.2L681.1 260L681 258.9L680.9 257.8L680.7 256.7L681.6 257.6L682.5 258.6L683.1 257.7L684 257.4L684.8 257.1Z" fill="url(#hatch)" stroke="#c4c4c4" stroke-width="0.5"/>
<path d="M677.9 270.2L676.9 270.2L676.1 270.5L675.2 270.9L674.1 270.3L673.1 269.7L672 269.2L671.2 268.4L670.3 267.6L669.8 266.8L669.2 265.9L668.5 265.8L667.8 265.6L667.5 266.1L667.4 266.1L666.8 265.3L666.2 264.6L666.2 263.9L666.2 263.2L665.4 262.8L664.6 262.3L663.8 261.8L663.4 261.1L663 260.4L663 259.1L663 257.9L662.4 257.4L661.9 256.9L661.5 255.9L660.7 254.9L660.4 254.3L660.4 253.5L660.5 252.8L660.9 252.4L660.9 252.8L661.9 253.5L662.6 253.5L663 253.5L663.5 252.9L664.2 253.3L664.8 253.6L666 254.2L666.5 254.8L666.9 255.5L667.7 255.8L668.6 256.1L669.4 256.4L670.3 256.2L671.2 256L672.1 255.7L672.2 255.7L673 255.2L673.7 254.6L674.7 254.5L675.8 254.5L676.9 255L678 255.5L678.8 256L679.7 256.6L680.7 256.7L680.9 257.8L681 258.9L681.1 260L681 261.2L681.4 262.6L681.8 263.9L682.8 264.2L682.5 265.2L682.3 266.3L683 267.2L683.7 268L684.3 268.3L684.9 268.6L684.9 269.5L684.8 270.3L685.7 270.9L685 271.1L684.3 271.4L684.2 272.1L684.1 272.8L683 272.8L681.9 272.7L680.9 272.6L679.8 272.3L678.7 272L678.3 271.1L677.9 270.2Z" fill="#c7e9b4" stroke="#6f6f6f" stroke-opacity="0.75" stroke-width="0.35"/>
<path d="M665.1 267.3L664 267.3L663 267.2L662.1 266.5L661.2 265.8L660.4 265.2L659.5 264.5L658.4 263.9L657.4 263.4L656.7 263.2L656 262.9L655.6 262.1L655.2 261.2L656 260.8L656.8 260.3L657.6 259.8L657.8 259.4L657.7 258.2L657.7 257L658.2 256.5L658.6 256L659.1 255.7L659.8 255.7L660.5 255.7L661.5 255.9L661.9 256.9L662.4 257.4L663 257.9L663 259.1L663 260.4L663.4 261.1L663.8 261.8L664.6 262.3L665.4 262.8L666.2 263.2L666.2 263.9L666.2 264.6L666.8 265.3L667.4 266.1L666.8 266.2L666.4 265.9L665.8 266.6L665.1 267.3Z" fill="#7fcdbb" stroke="#6f6f6f" stroke-opacity="0.75" stroke-width="0.35"/>
<path d="M666.4 268.2L665.8 267.8L665.1 267.3L665.8 266.6L666.4 265.9L666.8 266.2L667.2 266.4L666.9 266.8L667.2 267.5L667.5 268.2L666.4 268.2Z" fill="#253494" stroke="#6f6f6f" stroke-opacity="0.75" stroke-width="0.35"/>
<path d="M651.4 257.7L652.1 257.3L652.1 256.4L652.9 256.4L653.6 256.4L654.4 256.4L655.2 256.4L656 256.4L656.5 256.2L657.1 256L657.9 256L658.6 256L658.2 256.5L657.7 257L657.7 258.2L657.8 259.4L657.6 259.8L656.8 260.3L656 260.8L655.2 261.2L654.5 261.8L653.7 262.3L653 262.8L652.4 262.5L651.8 262.2L651.7 261.4L652.1 260.7L652.5 260.1L651.7 259.5L651.4 259.3L651.5 259L651.4 258.3L651.4 257.7Z" fill="#edf8b1" stroke="#6f6f6f" stroke-opacity="0.75" stroke-width="0.35"/>
<path d="M651.7 259.5L652.5 260.1L652.1 260.7L651.7 261.4L650.9 261.7L651.2 260.5L651.4 259.5L651.7 259.5Z" fill="#edf8b1" stroke="#6f6f6f" stroke-opacity="0.75" stroke-width="0.35"/>
<path d="M651.7 261.4L651.8 262.2L651.5 262.7L651.6 263.9L651.5 264.6L651.4 265.3L651.3 266.1L651.2 266.8L651.1 266.8L650.6 265.5L650.1 264.2L650.4 263.8L650.6 262.8L650.7 262.5L650.9 261.7L651.7 261.4Z" fill="#1d91c0" stroke="#6f6f6f" stroke-opacity="0.75" stroke-width="0.35"/>
<path d="M651.5 262.7L651.8 262.2L652.4 262.5L653 262.8L653.7 262.3L654.5 261.8L655.2 261.2L655.5 262.1L655.9 262.9L655 263.3L654.2 263.6L653.4 263.9L654 264.6L654.7 265.3L654 265.7L653.3 266.1L653 266.6L652.6 267.2L651.9 267L651.2 266.9L651.3 266.1L651.4 265.3L651.5 264.6L651.6 263.9L651.5 262.7Z" fill="#c7e9b4" stroke="#6f6f6f" stroke-opacity="0.75" stroke-width="0.35"/>
<path d="M671.9 272.7L671.9 273L671.5 273.7L670.9 273.5L671 273.1L671 272.4L671.1 271.6L671.5 272.1L671.9 272.7Z" fill="#253494" stroke="#6f6f6f" stroke-opacity="0.75" stroke-width="0.35"/>
<path d="M675 274.3L675.8 273.4L676.6 272.6L677.1 271.6L677.3 271.7L677.3 271.8L677.6 272.6L677.8 273.3L677.5 273.9L677.3 274.5L677 275.5L676.6 276.4L675.6 276.3L674.5 276.2L673.4 276.1L672.7 275.1L671.9 274.1L671.5 273.7L671.8 273.4L672 273.4L672 273.7L673.1 274.3L674.1 274.3L675 274.3Z" fill="#41b6c4" stroke="#6f6f6f" stroke-opacity="0.75" stroke-width="0.35"/>
<path d="M681.3 279.5L680.8 280.6L680.3 281.6L679.6 282.3L678.9 283L678.2 283.5L677.4 284L676.5 284.4L675.6 284.7L674.7 285L674.2 283.9L673.7 282.7L673.1 281.6L674 281.3L674.9 280.9L675.8 280.6L676.7 280.2L676.9 279.3L677.1 278.3L677.3 277.4L676.6 276.4L677 275.5L677.3 274.5L677.5 273.9L677.8 273.3L678.5 274L679.3 274.8L680.1 275L680.9 275.3L681.6 276L682.3 276.7L682 277.6L681.6 278.6L681.3 279.5Z" fill="#c7e9b4" stroke="#6f6f6f" stroke-opacity="0.75" stroke-width="0.35"/>
<path d="M668.7 288.7L667.8 289.1L666.8 289.5L665.9 290L665 290.4L664.1 290.5L663.2 290.5L662.8 289.5L662.5 288.6L662.2 287.6L662.1 286.7L662 285.8L662 285.3L662.3 284.5L662.6 283.7L663.3 283.8L664.1 283.9L664.9 283.9L665.7 284L666.5 284L667.2 284.1L667.8 284.2L668.4 283.5L668.9 282.8L669.5 282.2L670.4 282L671.3 281.9L672.2 281.8L673.1 281.6L673.7 282.7L674.2 283.9L674.7 285L674.2 285.7L673.7 286.4L672.7 286.9L671.6 287.4L670.6 287.8L669.6 288.3L668.7 288.7Z" fill="#ffffd9" stroke="#6f6f6f" stroke-opacity="0.75" stroke-width="0.35"/>
<path d="M670.9 273L670.9 273.5L671.5 273.7L671.9 274.1L672.7 275.1L673.4 276.1L674.5 276.2L675.6 276.3L676.6 276.4L677.3 277.4L677.1 278.3L676.9 279.3L676.7 280.2L675.8 280.6L674.9 280.9L674 281.3L673.1 281.6L672.2 281.8L671.3 281.9L670.4 282L669.5 282.2L668.9 282.8L668.4 283.5L667.8 284.2L667.2 284.1L666.5 284L665.7 284L664.9 283.9L664.1 283.9L663.3 283.8L662.6 283.7L662.3 284.5L662 285.3L661.8 285.1L661.1 284.2L660.3 283.3L659.6 282.1L659 280.9L658.4 280L657.8 279L657.2 278.1L656.8 277.1L656.5 276.2L656.2 275.3L655.3 274.2L654.4 273.1L653.9 272.3L653.3 271.4L652.8 270.6L652.1 269.7L651.4 268.7L651.2 267.4L651.3 267L651.9 267.1L652.6 267.2L653 266.6L653.3 266.1L654 265.7L654.7 265.3L654 264.6L653.4 263.9L654.2 263.6L655 263.3L655.9 262.9L656.6 263.2L657.4 263.4L658.4 263.9L659.5 264.5L660.4 265.2L661.2 265.8L662.1 266.5L663 267.2L664 267.3L665.1 267.3L665.8 267.8L666.4 268.2L667.5 268.2L668.3 269.1L669.1 270L669.6 270.7L670 271.3L670.5 272.2L670.9 273Z" fill="#253494" stroke="#6f6f6f" stroke-opacity="0.75" stroke-width="0.35"/>
<path d="M684.6 273L684.1 272.8L684.2 272.1L684.3 271.4L685 271.1L685.7 270.9L684.8 270.3L684.9 269.5L684.9 268.6L684.3 268.3L683.7 268L683 267.2L682.3 266.3L683.3 266.6L684.3 266.9L685.2 266.8L686.1 266.8L687 266.6L687.9 266.5L688.8 266.3L689.3 265.4L689.8 264.5L690.3 263.6L691.1 263.5L691.8 263.4L691.8 262.6L691.7 261.8L691.9 261.1L692 260.4L692.4 259.7L692.8 259L692.9 257.9L692.9 256.9L693.8 256.7L694.8 256.6L695.7 256.4L696.6 255.9L697.4 256.3L698.5 257.1L699.6 257.9L700.7 258.3L700.1 258.7L699.5 259.1L698.9 259.5L698.2 259.8L697.4 260.1L696.7 260.4L697.3 261.2L697.8 262.1L698.8 262.8L698.6 263.6L698.4 264.5L697.7 265.5L697.3 266.2L696.8 267.3L696.3 268.5L695.6 268.7L694.9 269L694.3 269.3L693.8 269.6L693.4 270.3L694 271.2L694.5 272.1L695.2 272.8L695.8 274L694.8 274L693.8 274.1L693 274.3L692.3 275L691.3 274.5L690.7 273.6L690.1 272.6L689.3 272.7L688.4 272.8L687.6 272.8L686.6 272.9L685.6 272.9L684.6 273Z" fill="#ffffd9" stroke="#6f6f6f" stroke-opacity="0.75" stroke-width="0.35"/>
<path d="M710.3 267.5L711.2 267.9L712.1 268.3L713 268.7L713.9 268.8L714.8 268.9L715.7 269L715.8 270.1L715.8 271.1L714.9 271.1L714 271L713 270.7L712 270.3L711.1 270L710.1 269.7L709.3 269.5L708.4 269.2L707.5 268.9L706.6 268.3L705.6 267.8L705.4 266.8L705.2 265.8L706.3 265.6L706.9 265.8L707.6 266.1L708.5 266.5L709.4 267L710.3 267.5Z" fill="url(#hatch)" stroke="#c4c4c4" stroke-width="0.5"/>
<path d="M720.4 269.2L720.5 270.4L719.8 270.5L719 270.5L718.2 270.6L716.9 270.6L716.7 269.9L716.9 269.2L717.1 268.6L718.1 268.7L719 268.9L719.7 269L720.4 269.2Z" fill="#ffffd9" stroke="#6f6f6f" stroke-opacity="0.75" stroke-width="0.35"/>
<path d="M719.9 276.9L719.3 277.3L718.7 277.7L718.1 277.8L718.1 277.7L717.8 276.8L717.6 276L717.3 275.1L717 274.3L716.5 273.3L716.1 272.4L716.3 271.8L716.4 271.1L717.3 271.4L718.1 271.7L718.6 272.8L719.5 273L720.4 273.1L721.3 273.3L720.9 273.8L720.5 274.4L721.1 274.8L721.8 275.3L722.1 276.3L722.5 277.4L722.4 278.2L722.4 279L721.8 278.1L721.4 276.8L720.7 276.9L719.9 276.9Z" fill="#ffffd9" stroke="#6f6f6f" stroke-opacity="0.75" stroke-width="0.35"/>
<path d="M708.6 297.2L708.6 295.9L708.6 294.6L709.3 295.6L710.1 296.5L710.7 297.5L711.3 298.6L710.9 299.2L710.6 299.7L709.9 299.9L709.1 300L708.9 299.1L708.8 298.1L708.6 297.2Z" fill="#edf8b1" stroke="#6f6f6f" stroke-opacity="0.75" stroke-width="0.35"/>
<path d="M731 289.4L730.6 288.2L730.2 287L729.8 285.9L729.1 284.6L728.5 285.1L727.9 285.6L727.2 286.1L726.5 286L725.7 285.9L725.5 284.9L725.4 284L725.2 283L724.7 282L724.2 280.9L723.3 280.1L722.5 279.2L722.4 279L722.4 278.2L722.5 277.4L723.1 277.1L723.1 276L723.4 275.3L723.7 274.5L723.9 273.5L724.1 272.4L724.3 271.7L724.5 271L724.9 270.4L725.3 269.9L726 269.2L726.7 268.6L727.6 269.1L728.5 269.6L728.4 270.6L728.4 271.7L728.3 272.7L728.2 273.7L728.1 274.7L729.2 274.4L729.9 275.2L730.7 276L730.5 276.6L730.3 277.2L731 277.7L731.7 278.1L732.4 278L733 278L732.6 278.8L732.1 279.6L731.4 280.1L730.6 280.5L730.1 281.4L729.6 282.3L730.2 283.4L730.7 284.4L731.3 285.4L731.2 286.4L731.1 287.3L731.6 288.3L732.2 289.4L732.2 290.3L732.2 291.3L732.2 292.2L732 293.3L731.8 294.4L731.9 293.6L731.7 292.6L731.5 291.5L731.3 290.5L731 289.4Z" fill="#ffffd9" stroke="#6f6f6f" stroke-opacity="0.75" stroke-width="0.35"/>
<path d="M715.7 278.1L715.5 279L715.3 279.9L714.5 280.6L713.7 281.2L713.1 281.9L712.6 282.6L712 283.2L711.4 283.8L710.7 284.4L710.2 284.9L709.6 285.4L709 286L708.4 286.6L708.5 287.7L708.6 288.9L708.8 290.1L708.7 291.1L708.5 292L708.4 292.9L707.8 293.9L707.2 294.9L706.6 295.9L706.1 296.5L705.7 297L705.1 296.5L704.4 295.9L704.1 294.8L703.7 293.6L703.3 292.7L702.9 291.8L702.5 290.8L702.2 289.9L701.8 288.9L701.4 288L700.9 287.1L700.4 286.1L700 284.9L699.5 283.6L699 282.3L698.7 281.6L698.5 280.6L698.4 279.5L698.2 278.8L698.1 278.1L697.6 277.1L696.9 278.1L696.2 279.1L695.3 278.4L694.4 277.7L693.5 276.9L694.1 276.5L694.7 276.1L693.9 275.7L693.1 275.4L692.3 275L693 274.3L693.8 274.1L694.8 274L695.8 274L695.2 272.8L694.5 272.1L694 271.2L693.4 270.3L693.8 269.6L694.3 269.3L694.9 269L695.6 268.7L696.3 268.5L696.8 267.3L697.3 266.2L697.7 265.5L698.4 264.5L698.6 263.6L698.8 262.8L697.8 262.1L697.3 261.2L696.7 260.4L697.4 260.1L698.2 259.8L698.9 259.5L699.5 259.1L700.1 258.7L700.7 258.3L701.6 259.1L702.5 260L702.6 260.9L702.6 261.8L703.5 262.5L703.4 263.4L703.3 264.2L704.3 264.8L705.3 265.3L706.1 265.6L706.9 265.8L707.4 266L706.3 265.6L705.2 265.8L705.4 266.8L705.6 267.8L706.6 268.3L707.5 268.9L708.4 269.2L709.3 269.5L710.1 269.7L711.1 270L712 270.3L713 270.7L714 271L714.9 271.1L715.8 271.1L715.8 270.1L715.7 269L714.8 268.9L713.9 268.8L713 268.7L712.1 268.3L711.2 267.9L710.3 267.5L709.2 266.9L708.1 266.3L709.3 266.9L710.5 267.5L711.7 268L712.9 268.6L713.8 268.7L714.7 268.8L715.6 269L716.5 268.9L717 268.9L716.7 269.9L716.9 270.6L718.2 270.6L719 270.5L719.8 270.5L720.5 270.4L720.4 269.2L719.6 269L720.3 269L721 268.6L721.6 268.1L722.3 267.6L723.1 267.4L723.8 267.1L724.6 266.9L725.6 267.8L726.7 268.6L726 269.2L725.3 269.9L724.9 270.4L724.5 271L724.3 271.7L724.1 272.4L723.9 273.5L723.7 274.5L723.4 275.3L723.1 276L723.1 277.1L722.5 277.4L722.1 276.3L721.8 275.3L721.1 274.8L720.5 274.4L720.9 273.8L721.3 273.3L720.4 273.1L719.5 273L718.6 272.8L718.1 271.7L717.3 271.4L716.4 271.1L716.3 271.8L716.1 272.4L716.5 273.3L717 274.3L717.3 275.1L717.6 276L717.8 276.8L718.1 277.7L718.1 277.8L717.9 277.8L717.2 277.9L716.4 278L715.7 278.1Z" fill="#ffffd9" stroke="#6f6f6f" stroke-opacity="0.75" stroke-width="0.35"/>
<path d="M755.8 276L755.7 275.3L755.6 274.5L755.9 273.6L756.2 272.7L756.9 272.9L757.5 273.1L757.5 274.2L757.4 275.3L757.2 276.4L757 277.5L756.4 276.7L755.8 276Z" fill="#1d91c0" stroke="#6f6f6f" stroke-opacity="0.75" stroke-width="0.35"/>
<path d="M763.4 262.1L763.3 261.1L763.7 260.8L764.2 260.5L765 261.2L765.8 261.8L766 262.9L766.2 263.9L765.8 264.3L765.4 264.6L764.6 263.9L764 263L763.4 262.1ZM768.6 260.7L767.9 261.4L767.2 262.1L766.5 261.8L766.4 261.1L766.3 260.4L766.9 260.2L767.5 260L768.6 260.7ZM764.1 260.4L763.7 259.4L764.3 259L764.9 258.6L765.5 258.1L766.5 258.1L767.4 258L768.4 258L768.7 257L768.9 256L769.4 255.6L770 255.5L770.6 255.5L770.8 254.7L771 254L770.8 253.1L770.6 252.2L770.3 251.4L770 250.5L770.4 250.2L770.9 250L772 251.3L773.1 252.6L773 253.5L772.9 254.3L773.4 255.3L773.9 256.3L774.2 257.1L774.6 258L774.2 258.5L773.9 259L773.2 259.4L772.4 259.5L771.6 259.5L770.9 259.5L770.5 260.3L770.1 261.1L769.5 260.5L768.9 260L768.2 260L767.5 260L766.3 260L765.6 260.1L764.9 260.3L764.1 260.4ZM772.6 245.9L773.3 246.5L774.1 247.2L773.3 247.5L772.5 247.9L772.5 248.5L772.5 249.1L771.7 249.2L770.9 249.3L770.1 249.4L769.2 248.9L768.3 248.4L768 247.3L768.6 247.2L769.2 247L768.2 245.7L767.2 244.4L767.6 244.2L768.7 244.8L769.7 245.4L770.7 246.1L771.7 246L772.6 245.9Z" fill="#41b6c4" stroke="#6f6f6f" stroke-opacity="0.75" stroke-width="0.35"/>
<path d="M757.2 251.8L756.9 252.3L756.5 252.8L757.3 253.3L758.1 253.9L757.3 254.3L756.9 254.7L756.6 255.2L755.9 255.1L755.2 255L754.3 254L754.2 253.3L754 252.6L753.3 252.4L752.5 252.1L752.8 251.6L753.1 251.1L753.5 250.3L753.9 249.5L754.5 249.3L755.1 249.1L755.8 248.8L756.5 248.6L757 248.5L757.6 248.4L757.9 248.7L757.8 249.4L757.7 250.1L758 250.8L757.6 251.3L757.2 251.8Z" fill="url(#hatch)" stroke="#c4c4c4" stroke-width="0.5"/>
<path d="M759.6 259.4L759 259.6L758.5 259.8L757.9 258.8L757.9 258.2L758 257.6L757.5 256.9L757 256.2L756.6 255.2L756.9 254.7L757.3 254.3L758.1 253.9L759.1 254.9L760.1 255.9L760.6 256.7L761 257.6L761.3 258.6L760.5 259L759.6 259.4ZM755.3 255.2L755.2 255L755.9 255.1L756.6 255.2L756 255.2L755.3 255.2Z" fill="#41b6c4" stroke="#6f6f6f" stroke-opacity="0.75" stroke-width="0.35"/>
<path d="M741.3 285.4L741.9 286.1L742.4 286.9L742.4 288L741.4 288.1L740.5 288.3L739.6 288.4L739.7 287.5L739.8 286.6L739.2 285.9L738.6 285.2L738.4 284.4L738.3 283.7L737.4 283.2L736.6 282.6L736 282.9L735.5 283.2L734.7 283.4L733.9 283.6L733.5 282.3L733.6 281.5L733.6 280.8L732.7 280.9L732.1 279.6L732.6 278.8L733 278L733.5 277.4L734 276.8L734.5 277.3L735.1 277.8L735.8 279.1L736.6 279.4L737.4 279.6L736.9 280.8L737.8 281.3L738.6 281.8L739.3 282.5L739.3 282.6L739.9 283.2L740.5 283.7L740.9 284.6L741.3 285.4Z" fill="url(#hatch)" stroke="#c4c4c4" stroke-width="0.5"/>
<path d="M734.3 289.4L733.2 289.5L733.2 290.5L733.2 291.5L732.9 292.7L732.6 293.9L733 295.1L733.5 295.8L734 296.6L734.3 297.5L734.6 298.3L735.5 298.7L736 299.2L736.5 299.7L735.9 300.1L735.3 300.4L734.4 299.4L734.2 299.4L734.1 299.3L733.4 298.6L732.5 297.7L731.6 296.9L731.7 295.8L731.7 294.6L731.8 294.4L732 293.3L732.2 292.2L732.2 291.3L732.2 290.3L732.2 289.4L731.6 288.3L731.1 287.3L731.2 286.4L731.3 285.4L730.7 284.4L730.2 283.4L729.6 282.3L730.1 281.4L730.6 280.5L731.4 280.1L732.1 279.6L732.7 280.9L733.6 280.8L733.6 281.5L733.5 282.3L733.9 283.6L734.7 283.4L735.5 283.2L736 282.9L736.6 282.6L737.4 283.2L738.3 283.7L738.4 284.4L738.6 285.2L739.2 285.9L739.8 286.6L739.7 287.5L739.6 288.4L738.7 288.4L737.7 288.3L736.7 288.3L736.1 289.3L736.3 290L736.5 290.8L737.1 292.1L737.1 292.2L736.2 291.2L735.3 290.9L734.5 290.5L734.3 289.4Z" fill="#edf8b1" stroke="#6f6f6f" stroke-opacity="0.75" stroke-width="0.35"/>
<path d="M737.1 292.1L736.5 290.8L736.3 290L736.1 289.3L736.7 288.3L737.7 288.3L738.7 288.4L739.6 288.4L740.5 288.3L741.4 288.1L742.4 288L742.5 288.9L742.5 289.9L742.6 290.8L742 291.4L741.3 291.9L740.7 292.9L739.7 293.1L739.1 293.8L738.5 293.6L737.9 293.5L737.5 292.9L737.1 292.2L737.1 292.1Z" fill="#ffffd9" stroke="#6f6f6f" stroke-opacity="0.75" stroke-width="0.35"/>
<path d="M744.6 289.3L744.7 290.3L744.9 291.2L744.6 292.1L744.3 292.9L743.5 293.3L742.7 293.6L741.9 294.4L741.3 295L740.7 295.7L740.1 296.3L739.8 295.6L739.6 294.9L739.1 293.8L739.7 293.1L740.7 292.9L741.3 291.9L742 291.4L742.6 290.8L742.5 289.9L742.5 288.9L742.4 288L742.4 286.9L741.9 286.1L741.3 285.4L740.9 284.6L740.5 283.7L741.3 284.6L742.2 285.4L743 286.2L743.8 287L744.1 287.8L744.4 288.6L744.6 289.3ZM739.3 282.5L738.6 281.8L737.8 281.3L736.9 280.8L737.4 279.6L736.6 279.4L735.8 279.1L735.1 277.8L734.5 277.3L734 276.8L735.1 276.7L736.1 276.5L736.9 276L737.7 275.5L738.6 276.1L739.2 276.7L739.7 277.4L740.6 277.7L741.4 278.1L740.9 278.4L740.3 278.8L740.1 279.6L739.7 280.6L739.3 281.6L739.3 282.5Z" fill="#ffffd9" stroke="#6f6f6f" stroke-opacity="0.75" stroke-width="0.35"/>
<path d="M751.5 302.8L751.5 302.1L752.4 301.8L753.2 301.4L753.3 302.8L752.4 302.8L751.5 302.8Z" fill="#c7e9b4" stroke="#6f6f6f" stroke-opacity="0.75" stroke-width="0.35"/>
<path d="M738.5 306.7L737.9 306.2L737.3 305.7L736.5 305L735.7 304.4L735.3 303.7L734.9 303L734.7 302.1L734.5 301.1L734.3 300.2L734.2 299.4L734.4 299.4L735.3 300.4L735.9 300.1L736.5 299.7L737.1 300.5L737.7 301.4L738.3 302.2L738.3 303.1L738.7 304L739 305L739.2 305.7L739.4 306.5L738.5 306.7ZM756.9 302.1L756.2 302.5L756 302.6L755.3 302.4L754.4 302.6L753.5 302.8L753.2 303.9L752.9 305L752.6 305.7L752.3 306.4L751.6 306.5L751 306.7L750.4 306.5L749.8 306.4L749.1 306.7L748.5 307.1L747.9 307L747.3 306.9L746.7 306.3L746.2 305.6L747.2 305.4L748.1 305.2L748.9 304.8L749.6 304.4L750.3 304L750.9 303.1L751.5 302.1L751.5 302.8L752.4 302.8L753.3 302.8L753.2 301.4L753.6 300.7L754 300L754.5 299.3L755 298.6L756 299.4L757 300.3L757.9 301.1L757.4 301.6L756.9 302.1Z" fill="#c7e9b4" stroke="#6f6f6f" stroke-opacity="0.75" stroke-width="0.35"/>
<path d="M765.5 300.6L764.7 299.9L763.8 299.3L763.2 298.7L762.5 298L761.9 298.3L761.3 298.6L761.9 297.8L762.4 297.1L763 296.3L763.7 295.8L764.5 295.2L765.2 294.6L765.8 295.7L766.3 296.8L766.8 297.9L766.6 298.7L766.3 299.6L765.5 300.6ZM754.9 296L755.6 295.2L756.2 294.4L756.9 293.5L757.6 292.7L757.9 293.5L757.2 294.3L756.5 295.1L755.9 295.8L755.2 296.6L754.9 296ZM760.7 291.8L761.5 291.5L762.3 291.1L763.1 290.8L763.8 291.4L764.6 292L765.4 292.7L765 293.5L764.7 294.4L763.9 294.7L763.1 295.1L762.3 295.5L761.6 294.6L760.9 293.6L760.8 292.7L760.7 291.8ZM759.6 282.3L759.7 283.4L759.8 284.4L759.7 285.3L759.5 286.1L759.7 287.3L759.9 288.4L760.9 289L762 289.5L763 290.1L762.9 290.8L762.1 290.2L761.2 289.6L760.4 289L759.5 288.7L758.6 288.4L758 287.1L757.5 285.9L757.5 284.8L757.6 283.7L757.6 283L757.6 282.3L758.6 282.3L759.6 282.3Z" fill="#edf8b1" stroke="#6f6f6f" stroke-opacity="0.75" stroke-width="0.35"/>
<path d="M775.8 369.7L775.1 369.9L774.4 370.1L774.5 369.1L774.5 368.2L774.9 367.1L775.3 366.1L776.1 366.3L777 366.6L778.1 366.5L779.2 366.3L778.6 367.2L778 368.2L776.9 368.9L775.8 369.7ZM771.8 325.8L772.9 325.3L773.9 324.8L774.9 325.1L775.8 325.4L776.8 325.8L777.9 325.8L779 325.8L778.4 326.5L777.8 327.3L777.3 328.5L776.7 329.7L777.5 330.4L778.2 331L779 331.7L779.6 332.2L780.3 332.6L780.9 333.1L781.9 333.1L782.8 333.1L783.2 332L783.7 330.9L784.1 329.7L784.4 328.6L784.6 327.5L784.9 326.3L785.4 325.4L785.9 324.5L786.3 323.6L786.6 324.5L786.9 325.3L787.1 326.2L787.2 327.5L787.2 328.9L788.2 329.3L789.1 329.7L788.9 331.1L788.7 332.4L788.9 333.4L789 334.4L789.1 335.4L790 336.1L790.8 336.8L791.7 337.5L792.2 338.4L792.6 339.4L793.1 340.3L793.2 341.3L793.2 342.2L793.9 343L794.5 343.8L795.1 344.6L794.9 345.7L794.7 346.8L794.5 347.9L794.2 349L793.6 350.1L792.9 351.2L792.2 352.4L791.3 353.3L790.4 354.2L789.5 355L788.8 355.8L788.1 356.5L787.3 357.4L786.4 358.3L785.6 359.1L784.7 360.3L783.9 361.5L782.7 361.8L781.5 362L780.4 362.6L779.4 363.2L778.4 363.8L777.7 363.2L777 362.7L775.9 363L774.9 363.4L774.3 363.1L773.7 362.7L773.1 362.4L772.7 361.8L772.2 361.1L772.6 359.9L772.8 358.7L772.2 358.8L771.5 358.9L771.4 358L772.1 356.6L772.7 355.2L771.5 356.1L770.2 357L769 357.9L768.9 356.8L768.8 355.8L768.7 354.8L767.9 354.3L767.2 353.9L766.4 353.5L765.6 353.1L764.6 353.3L763.6 353.6L762.6 353.8L761.6 354.1L760.6 354.2L759.5 354.4L758.4 354.6L757.4 355.2L756.4 355.8L755.3 356.5L754.3 356.5L753.2 356.5L752.2 356.6L751.1 356.6L750.1 357.1L749 357.6L747.9 358.2L747 357.8L746 357.4L745.1 357L745.7 356.3L746.4 355.6L746.8 354.6L747.2 353.5L747.3 352.4L747.3 351.3L747.4 350.2L747.2 349.2L747 348.1L746.9 347.3L746.7 346.4L746.6 345.6L747.1 344.7L747.6 343.9L747.5 343.2L747.5 342.5L747.6 341.5L747.8 340.6L747.9 339.6L748.9 339.6L750 339L751.1 338.3L752.3 337.6L753.2 337.5L754.1 337.4L754.9 337.2L755.9 336.8L756.9 336.5L757.9 336.1L758.8 335L759.7 334L760.6 333.3L761.6 332.6L762.3 331.6L763.1 330.7L763.8 329.7L764.7 329.2L765.6 328.6L766.4 328L767.1 328.9L767.8 329.7L768.7 329.7L769.7 329.7L770.2 328.4L770.6 327.2L771.2 326.5L771.8 325.8Z" fill="#225ea8" stroke="#6f6f6f" stroke-opacity="0.75" stroke-width="0.35"/>
<path d="M808 322.1L808 321.2L807.9 320.2L808.5 320.6L808.4 321.4L808.3 322.1L808 322.1ZM792.4 319.1L793 319.8L793.5 320.5L794.1 321.2L794.6 321.9L795.5 322.5L796.4 323.1L795.5 323.2L794.7 323.4L793.7 323L792.7 322.6L792.1 321.8L791.6 321L791 320.2L790.2 320L789.4 319.7L788.6 319.4L788.2 320.3L787.8 321.2L787.2 321.4L786.6 321.7L785.6 321.5L784.7 321.4L784.8 320.1L784.9 318.7L785 317.4L785.1 316.1L785.2 314.8L785.3 313.5L785.3 312.2L786.3 312.7L787.2 313.2L788 313.4L788.8 313.6L789.6 313.9L790.4 314.7L791.1 315.6L791.8 316.1L792.5 316.7L793.2 317.3L793.6 318.1L793 318.6L792.4 319.1ZM794.4 317L794.2 316.4L795.3 316L796.4 315.6L797.4 315L798.3 314.4L799.3 314.7L798.5 315.5L797.6 316.3L796.9 316.8L796.3 317.3L795.3 317.1L794.4 317Z" fill="url(#hatch)" stroke="#c4c4c4" stroke-width="0.5"/>
<path d="M766 321.5L765.3 322L764.6 322.5L764.7 321.3L765.9 320.5L766.8 320.5L767.7 320.4L766.9 321L766 321.5Z" fill="url(#hatch)" stroke="#c4c4c4" stroke-width="0.5"/>
<path d="M776.8 312L777.6 312.6L778.4 313.2L779.3 312.3L780.2 311.5L781 310.6L782 311L783.1 311.5L784.1 311.9L784.7 312L785.3 312.2L785.3 313.5L785.2 314.8L785.1 316.1L785 317.4L784.9 318.7L784.8 320.1L784.7 321.4L784.2 320.7L783.6 320.1L782.9 320.2L782.2 320.2L781.7 319.7L781.2 319.1L781.5 318.4L781.9 317.7L781.3 316.6L780.8 315.6L780 315.3L779.2 315L778.3 314.7L777.4 314.4L776.5 314L775.9 314.1L775.3 314.2L774.7 313.3L774.1 312.5L775 312.2L776 312L775 311.7L774.1 311.3L773.5 310.8L772.9 310.3L773.8 309.7L774.7 309.1L775.7 309.4L776.6 309.8L776.8 310.9L776.8 312ZM771.6 312.6L772.1 313.1L772.7 313.6L771.5 313.5L770.3 313.5L769.6 313.1L769 312.7L769.8 312.7L770.7 312.7L771.6 312.6ZM769.1 307.1L770 307.8L769.2 308.5L769.8 309.6L768.8 309.2L768.6 308.3L768.4 307.4L768.5 306.7L768.5 306L769.1 307.1ZM764.2 321.7L764.7 321.3L764.6 322.5L764.2 322.8L763.5 322.9L762.8 323.1L763.5 322.4L764.2 321.7ZM759.4 316.3L758.2 316.3L758.3 315.2L758.5 314.2L758.1 313.5L757.6 312.7L757.9 311.6L758.2 310.4L758.5 309.2L758.8 308.4L759.2 307.5L759.8 307.1L760.4 306.7L761.3 306.9L762.3 307.1L763.1 306.8L763.9 306.6L764.8 306.4L765.6 306.4L765.1 307.2L764.5 307.9L763.4 307.9L762.2 307.8L761 307.8L760.2 308.4L759.4 309.1L760.4 309.9L761.4 309.9L762.3 309.8L763.3 309.8L762.8 310.8L761.8 311L760.9 311.2L761.5 312.1L762.1 313L762.5 314.2L763 315.3L762.2 315.1L761.5 314.9L761.1 314L760.7 313.2L760.3 312.3L759.7 312.7L759.6 313.9L759.5 315.1L759.4 316.3ZM752.5 321L752.4 320.1L753.4 320.2L754.3 320.2L755.3 320.2L756.4 320.1L757.4 320.1L758.3 320.1L759.1 320.2L759.9 320.2L760.7 320.2L761.6 320.1L762.4 320.1L762.4 320.8L761.3 320.9L760.3 321L759.2 321.1L758.4 321L757.6 321L756.7 321L755.9 321L755.1 321L754.2 321.1L753.4 321L752.5 321ZM750.3 313L749.5 312.9L748.7 312.7L747.8 312.7L746.8 312.6L746.7 311.6L746.6 310.6L746.2 309.9L745.7 309.2L745.5 308.5L745.3 307.8L745.3 307.1L745.4 306.4L746.2 305.6L746.7 306.3L747.3 306.9L747.9 307L748.5 307.1L749.1 306.7L749.8 306.4L750.4 306.5L751 306.7L751.6 306.5L752.3 306.4L752.6 305.7L752.9 305L753.2 303.9L753.5 302.8L754.4 302.6L755.3 302.4L756 302.6L756.2 302.5L756.9 302.1L756.1 302.6L756.3 303.4L756.5 304.3L756.5 305.2L756.6 306.1L756.7 307.1L757.3 307.2L757.9 307.2L757 307.9L756 308.5L755.7 309.4L755.3 310.3L755 311.2L754.7 312L754.6 313L754.4 314L753.3 314.1L752.3 314.2L751.3 313.6L750.3 313ZM743.8 319.4L742.8 319.2L741.8 319L741.1 318.5L740.4 318.1L740.9 317.5L741.4 316.8L742.4 317L743.3 317.2L744.3 317.4L745.1 317.7L746 318L746.8 318.3L747.8 318.3L748.7 318.3L749.7 318.3L750.7 318.8L751.7 319.4L751.6 320.8L750.7 320.6L749.7 320.4L748.7 320.2L747.9 320.1L747.1 320.1L746.2 320L745.4 319.8L744.6 319.6L743.8 319.4ZM731.9 302.4L733 303.1L734.1 303.8L735 304.8L735.9 305.7L736.7 306.4L737.6 307.1L738.4 307.8L738.6 308.9L738.8 309.9L739.3 310.6L739.8 311.3L740.3 312.3L740.8 313.2L741.3 314.2L741.2 315.4L741.2 316.7L740.4 316.8L739.7 316.8L739 316L738.2 315.2L737.5 314.4L737 313.6L736.4 312.8L735.9 312L735.2 311L734.5 309.9L734 309.2L733.5 308.5L733.2 307.8L732.8 307.1L732.1 306.2L731.5 305.2L730.8 304.3L730 303.4L729.3 302.4L728.7 301.5L728.1 300.6L729 300.8L729.9 301L730.9 301.1L731.4 301.8L731.9 302.4ZM738.2 301.7L738.3 302.2L737.5 301.1L736.7 300L736.8 300L737.5 300.9L738.2 301.7Z" fill="#edf8b1" stroke="#6f6f6f" stroke-opacity="0.75" stroke-width="0.35"/>
<path d="M804.4 367.9L805.5 367L806.5 366.2L807.6 365.8L808.3 366.1L808.9 366.5L808.2 367.2L807.5 367.9L806.6 368.6L805.6 369.3L804.8 369.8L804 370.4L802.9 370.7L801.9 371.1L800.7 372.1L799.6 373.2L798.3 373.7L797 374.3L796.2 374L795.4 373.7L795.3 373.2L795.1 372.8L796.5 371.9L797.9 371.1L799.2 370.5L800.6 369.9L801.9 369.3L803.1 368.6L804.4 367.9ZM810.2 363.9L811.6 363.2L812.2 362.2L812.8 361.1L812.8 360.2L812.8 359.3L812.8 358.4L813.1 357.2L813.4 357.7L813.7 358.3L814 358.9L813.8 359.9L813.6 360.8L813.9 361.3L814.1 361.8L815.1 361.8L816.1 361.8L817 361.8L816 362.9L814.9 363.9L814.1 364.2L813.3 364.5L812.4 365.3L811.4 366.1L810.4 366.7L809.3 367.3L808.9 366.9L809.8 366.2L810.7 365.5L810.5 365L810.3 364.5L810.2 363.9Z" fill="#41b6c4" stroke="#6f6f6f" stroke-opacity="0.75" stroke-width="0.35"/>
<path d="M827.5 334.1L827.8 333.3L828.5 333.3L829.3 333.4L828.7 334.4L828.1 334.3L827.5 334.1Z" fill="url(#hatch)" stroke="#c4c4c4" stroke-width="0.5"/>
<path d="M810.4 337.1L810.9 337.5L811.4 337.9L812.1 338.6L812.7 339.3L813.3 340.1L812.7 340.2L812 339.4L811.3 338.7L810.6 337.9L810.4 337.1Z" fill="url(#hatch)" stroke="#c4c4c4" stroke-width="0.5"/>
<path d="M809.3 322.4L808.6 322.2L808 322.1L808.3 322.1L808.4 321.4L808.5 320.6L809 320.9L809.6 321.2L809.3 322.4Z" fill="url(#hatch)" stroke="#c4c4c4" stroke-width="0.5"/>
<path d="M815.2 330.9L815.2 329.7L816 330.4L815.8 331.1L815.5 331.8L815.2 330.9Z" fill="url(#hatch)" stroke="#c4c4c4" stroke-width="0.5"/>
<path d="M745.5 280.8L745 281.4L744.5 282.1L744 282.7L742.8 282.2L742.7 281.3L743.4 280.7L744.2 280.1L744.9 280.4L745.5 280.8ZM746.8 253.1L746.2 253.2L745.5 253.3L746.3 254L747 254.7L748.1 255.9L748.9 255.5L749.7 255L750.9 255.3L752 255.6L751.5 256.3L750.9 256.9L750.3 257.6L750 258.3L749.6 259L750.5 259.5L751.3 260L752.2 261.2L753 262.4L753.8 263L754.6 263.6L755.1 264.9L754.7 265.6L755.7 266.3L755.6 267.3L755.6 268.2L755.3 268.9L754.9 269.6L754.6 270.7L754.3 271.7L753.8 272.8L753.3 273.3L752.8 273.8L752.1 274.8L751.4 275.7L750.6 276L749.9 276.3L749.1 276.7L748.5 276.9L748 277.1L747.2 277.4L746.4 277.8L745.7 278.1L745.1 278.3L744.4 278.5L744.2 279.6L743.9 278.9L743.5 278.1L742.7 278L742 277.9L741.4 278.1L740.6 277.7L739.7 277.4L739.2 276.7L738.6 276.1L737.7 275.5L736.9 276L736.1 276.5L735.1 276.7L734 276.8L733.5 277.4L733 278L732.4 278L731.7 278.1L731 277.7L730.3 277.2L730.5 276.6L730.7 276L729.9 275.2L729.2 274.4L728.1 274.7L728.2 273.7L728.3 272.7L728.4 271.7L728.4 270.6L728.5 269.6L727.6 269.1L726.7 268.6L725.6 267.8L724.6 266.9L723.8 267.1L723.1 267.4L722.3 267.6L721.6 268.1L721 268.6L720.3 269L719.6 269L719 268.9L718.1 268.7L717.1 268.6L717 268.9L716.5 268.9L715.6 269L714.7 268.8L713.8 268.7L712.9 268.6L711.7 268L710.5 267.5L709.3 266.9L708.1 266.3L707.6 266.1L707.4 266L706.9 265.8L706.1 265.6L705.3 265.3L704.3 264.8L703.3 264.2L703.4 263.4L703.5 262.5L702.6 261.8L702.6 260.9L702.5 260L701.6 259.1L700.7 258.3L699.6 257.9L698.5 257.1L697.4 256.3L696.6 255.9L695.5 255.7L694.3 255.6L695.4 255.7L696.5 255.7L696.3 254.8L696.2 253.9L695.2 253.3L694.2 252.6L694.7 252L695.2 251.4L695.9 251.4L696.5 251.4L697.2 250.5L698.1 250.2L698.9 249.8L699.7 249.3L700.5 248.8L700.2 247.7L699.9 246.5L699.5 245.4L700.1 245L700.7 244.6L701.3 244.2L701.1 243.2L701 242.2L701.3 241.9L702.1 242L703 242.1L703.8 242.2L703.6 241.1L703.4 240.1L703.9 239.7L704.5 239.3L705.6 240.1L706.5 240.4L707.3 240.6L708.2 240.9L709.2 241.9L710.2 242.9L710.3 243.7L710.4 244.5L711.4 244.7L712.4 244.9L713.4 245.1L714.5 245.4L715.6 245.7L716.7 246.1L717.5 246.7L718.4 247.4L719.3 248L720.1 248.1L721 248.1L721.9 248.2L722.8 248.3L723.8 248.5L724.9 248.8L725.9 249L727 249.2L728.1 249.5L729.1 249.7L729.9 249.4L730.7 249.2L731.5 248.9L732.3 248.7L733.1 248.4L733.7 248L734.2 247.6L734.8 247.2L735.4 246.7L734.5 245.6L735.2 245.4L735.9 245.2L736.5 244.9L737.1 244.7L737.7 244.4L738.1 243.8L738.5 243.3L739 242.7L739.9 242.7L740.9 242.6L741.9 242.6L740.7 241.7L739.5 240.9L739.1 241.1L738.6 241.2L737.8 241.2L737 241.2L736.1 240.6L736 239.8L736 239L735.9 238.2L736.7 238.5L737.5 238.7L738 238.2L738.5 237.6L738.1 236.6L737.7 235.6L737.7 234.9L737.7 234.2L737.8 233.6L738.4 233.5L739 233.4L739.7 233.3L740.8 233.6L741.9 233.9L743 234.2L744.2 235.2L745.4 236.3L746.5 237.3L747.7 238.3L748.9 238.7L750.1 239.1L751.2 239.5L752.4 240.4L753.5 241.2L754.1 241L754.7 240.8L755.3 240.6L756.1 240.5L757 240.4L757.5 241.5L757.9 242.4L758.2 243.3L758.6 244.2L758.2 244.9L757.4 244.7L756.7 244.5L756 245.1L757 246.4L757.9 247.7L757.6 248.4L757 248.5L756.5 248.6L755.8 248.8L755.1 249.1L754.5 249.3L753.9 249.5L753.5 250.3L753.1 251.1L752.8 251.6L752.5 252.1L751.6 251.7L750.7 251.4L749.8 251.1L749 250.9L748.1 250.7L748.5 250.8L747.9 251.2L747.3 251.6L747 252.4L746.8 253.1ZM749.6 251.4L749.8 252.4L749.9 253.3L748.9 252.6L748.7 251.7L748.6 250.9L749.6 251.4Z" fill="#edf8b1" stroke="#6f6f6f" stroke-opacity="0.75" stroke-width="0.35"/>
<path d="M708.5 237.1L709.6 237.4L710.6 237.7L711.7 238L712.5 238.1L713.4 238.2L714.2 238.2L715.1 238.3L714.7 237L714.2 235.7L715.3 235.7L716.3 235.7L717.1 235.9L718 236.1L718.8 236.3L719.8 236.8L720.8 237.3L721.8 237.8L722.5 237.7L723.2 237.7L723.9 237.6L724.9 238L725.8 238.4L726.8 238.9L727.6 238.9L728.4 239L729.2 239.1L729.8 239L730.4 238.9L731.1 238.7L731.6 238.4L732.1 238.1L732.7 237.8L733.7 237.9L734.8 238.1L735.9 238.2L736 239L736 239.8L736.1 240.6L737 241.2L737.8 241.2L738.6 241.2L739.1 241.1L739.5 240.9L740.7 241.7L741.9 242.6L740.9 242.6L739.9 242.7L739 242.7L738.5 243.3L738.1 243.8L737.7 244.4L737.1 244.7L736.5 244.9L735.9 245.2L735.2 245.4L734.5 245.6L735.4 246.7L734.8 247.2L734.2 247.6L733.7 248L733.1 248.4L732.3 248.7L731.5 248.9L730.7 249.2L729.9 249.4L729.1 249.7L728.1 249.5L727 249.2L725.9 249L724.9 248.8L723.8 248.5L722.8 248.3L721.9 248.2L721 248.1L720.1 248.1L719.3 248L718.4 247.4L717.5 246.7L716.7 246.1L715.6 245.7L714.5 245.4L713.4 245.1L712.4 244.9L711.4 244.7L710.4 244.5L710.3 243.7L710.2 242.9L709.2 241.9L708.2 240.9L707.3 240.6L706.5 240.4L705.6 240.1L704.5 239.3L705 238.7L705.5 238.3L706 237.9L706.5 237.5L707.2 237.3L707.8 237.2L708.5 237.1Z" fill="url(#hatch)" stroke="#c4c4c4" stroke-width="0.5"/>
<path d="M761.2 234.1L762.3 235.4L763.4 236.7L764.4 238L765.9 238.8L767.3 239.5L766.4 239.3L765.5 239.1L766.1 240.1L766.7 241.1L767.3 242.2L768.6 243.1L768.2 243.3L767.8 243.5L766.4 242.4L765.7 241.3L765 240.1L764.2 239.2L763.3 238.3L762.4 237.3L761.6 236.3L760.7 235.3L759.9 234.3L759.1 233.2L758.2 232.2L759.7 233.1L761.2 234.1ZM636.8 224.1L636.8 224L637.2 223.7L637.7 223.4L638.1 223.1L638.6 222.8L639 222.2L639.4 221.6L639.8 221L638.9 220.6L638.1 220.2L638.4 219.3L637.5 218.6L637.6 217.5L637.1 216.6L636.6 215.7L636.9 215L636 214.7L635.2 214.4L635.5 213.4L634.8 213.3L634 213.2L633.2 213.1L632.4 213L631.9 213.6L632.5 212.9L633 212.6L633.4 212.3L634 212.3L634.6 212.4L635.4 212.7L635.4 213.4L635.9 213.1L636.5 212.9L637.1 212.7L637.1 212.5L638.1 212.8L639 213.1L639.8 213.1L640.6 213.2L641.4 213.2L642.2 213.5L643.1 213.8L643.9 214L644.8 214.3L645.6 214.6L646.5 214.9L647 215.5L647.6 216.1L647.1 216.5L646.7 216.8L646.1 216.9L645.5 217L644.9 217.1L644.2 217L643.4 216.9L642.7 216.8L642 216.7L641.2 216.5L640.5 216.4L639.9 216L639.4 215.7L640.2 216.4L641.1 217.1L641.8 218L642.4 219L643.3 219.2L644.2 219.5L644.7 219.3L645.3 219.1L645.9 219L646.5 218.9L647.1 218.8L647.8 218.3L648.2 217.5L648.5 216.6L649.1 216.7L649.8 216.8L650.5 217L650.3 216.1L650.1 215.2L649.9 214.3L650.6 214.5L651.4 214.7L652 214.9L652.8 214.9L653.6 214.9L654.3 214.9L655 214.7L655.7 214.6L656.3 214.5L657 214.3L657.7 214.2L658.4 214.1L659.1 214L660 214L660.8 214L661.7 213.9L662.4 214L663.2 214.2L663.4 213.6L663.6 213L663.8 212.5L664.8 212.7L665.7 212.8L666.6 213L667.3 213.1L668 213.2L668.6 213.3L669.5 213.6L670.3 213.8L671.1 214L671.9 214.3L671.1 213.7L670.4 213L669.6 212.3L668.8 211.7L668.8 211.1L668.8 210.6L668.9 210L669.1 209.5L669.2 208.9L670 209L670.7 209L671.7 209.4L672.6 209.7L672.9 210.4L673.1 211.1L674.1 211.6L674.9 212.4L675.6 213.2L675.8 212.6L676.1 212L676.3 211.4L676.5 210.9L676.7 210.4L677 210L677.3 209.6L677.6 209.1L678 208.7L678.3 208.2L678.9 208.1L679.4 208L680 207.9L680.6 207.7L681.1 207.6L681.7 207.5L682.3 207.3L682.3 206.9L682.4 206.5L682.9 206.4L683.3 206.2L683.8 206L684.3 205.9L684.8 205.8L685.4 205.7L685.9 205.6L686.5 205.5L687 205.3L687.7 205.4L688.3 205.4L689 205.4L689.6 205.5L690 205.3L690.5 205.1L690.9 205L691.3 204.8L691.8 204.6L692.2 204.3L692.6 204.1L693 203.9L693.4 203.7L694.4 203.9L695.3 204.1L696.5 204.5L697.6 204.9L698.3 204.9L698.9 204.8L699.6 204.8L700.2 204.7L701.3 205L702.5 205.3L703.6 205.7L704.6 206.7L705.6 207.7L704.7 207.7L703.9 207.7L703 207.7L703.7 207.8L704.4 207.9L705.1 208L705.8 208L706.5 208L707.2 208.1L707.8 208.1L708.7 208.2L709.5 208.3L710.3 208.4L711.1 208.6L712 208.7L712.5 208.5L713.1 208.4L713.6 208.3L714.2 208.1L714.7 208L715.3 207.9L716 208L716.8 208L717.5 208.1L718.3 208.2L719.6 208.8L720.9 209.4L722.2 209.9L723.1 210.1L724 210.3L724.8 210.4L725.7 210.6L726.3 210.6L726.9 210.5L727.5 210.4L728.1 210.4L728.8 210.4L729.5 210.4L730.3 210.5L731 210.5L731.7 210.5L731.6 209.9L731.5 209.4L732.1 209.3L732.7 209.2L733.3 209.1L734.1 209.2L735 209.4L735.8 209.5L736.6 209.6L737.5 209.7L738.5 209.9L739.4 210.1L740.3 210.2L741.3 210.4L742.2 210.7L743.2 210.9L744.2 211.2L744.8 211.1L745.4 211.1L745.9 211L746.5 211L747.3 211L748.2 211.1L749 211.2L749.8 211.2L750.6 211.3L751.8 211.8L753.1 212.3L754.3 212.7L755 212.7L755.6 212.7L756.3 212.6L757 212.6L757.7 212.6L758.5 212.6L759.2 212.5L760 212.5L760.5 212.4L761.1 212.3L761.7 212.1L762.4 212.2L763.2 212.3L764 212.3L764.7 212.4L765.5 212.5L766.4 212.6L767.2 212.6L768 212.7L768.9 212.8L769.7 212.9L770.6 213L771.8 213.3L772.9 213.6L774.7 214.7L776.5 215.9L778.3 217.1L780.1 218.3L779.8 218.5L779.5 218.6L778.9 218.6L778.2 218.7L780 219.6L781.7 220.5L782.7 220.8L783.7 221.2L783 221.3L782.3 221.4L781.6 221.5L781.2 221.7L780.7 221.9L780.3 222.1L779.9 222.4L779.7 222.8L779.5 223.2L779.3 223.6L779 224L778.5 224.2L778 224.4L777.4 224.5L776.9 224.7L776.2 224.7L775.4 224.7L774.7 224.8L774 224.8L773.7 225.1L773.3 225.5L773.5 226.1L773.7 226.7L773.9 227.3L775.2 228L776.4 228.6L776.6 229.3L776.8 229.9L777.1 230.8L777.3 231.7L777.5 232.6L777.6 233.4L777.6 234.2L777.7 235L777.8 235.9L777.9 236.7L776.6 235.6L775.3 234.6L774.1 233.5L773 232.4L771.8 231.3L771.1 230.4L770.4 229.5L769.7 228.6L769.8 228L769.8 227.3L769.8 226.6L769.7 226L769.6 225.3L769.6 224.7L769.6 224L769.3 223.4L769.1 222.8L768.8 222.1L768.1 222.2L767.3 222.3L766.6 222.4L766.7 222.9L766.9 223.4L766 223.3L765.1 223.1L764.2 223L763.3 222.9L763.4 223.5L763.5 224.1L763.5 224.7L763.6 225.3L763.2 225.5L762.8 225.8L762.3 226L761.4 225.8L760.4 225.6L759.4 225.4L758.5 225.2L757.7 225.3L757 225.4L756.3 225.4L755.6 225.5L754.9 225.6L754.2 225.7L753.6 225.8L752.9 225.9L752.3 226L752 226.4L751.8 226.9L751.5 227.3L751.5 228L751.4 228.6L751.4 229.3L751.8 230.2L752.3 231L752.8 231.9L753.8 232.2L754.8 232.5L755.8 232.7L756.9 233L758.4 234L760 234.9L760.7 235.9L761.4 237L762.1 238L762.6 239.1L763.1 240.1L762.9 240.8L762.7 241.5L762.4 242.2L762.4 243L762.3 243.9L762.2 244.8L762.1 245.7L762.1 246.6L761.4 247.1L760.8 247.5L760.1 248L759.3 247.8L758.6 247.6L758.3 248.1L757.9 248.7L757.6 248.4L757.9 247.7L757 246.4L756 245.1L756.7 244.5L757.4 244.7L758.2 244.9L758.6 244.2L758.2 243.3L757.9 242.4L757.5 241.5L757 240.4L756.1 240.5L755.3 240.6L754.7 240.8L754.1 241L753.5 241.2L752.4 240.4L751.2 239.5L750.1 239.1L748.9 238.7L747.7 238.3L746.5 237.3L745.4 236.3L744.2 235.2L743 234.2L741.9 233.9L740.8 233.6L739.7 233.3L739 233.4L738.4 233.5L737.8 233.6L737.7 234.2L737.7 234.9L737.7 235.6L738.1 236.6L738.5 237.6L738 238.2L737.5 238.7L736.7 238.5L735.9 238.2L734.8 238.1L733.7 237.9L732.7 237.8L732.1 238.1L731.6 238.4L731.1 238.7L730.4 238.9L729.8 239L729.2 239.1L728.4 239L727.6 238.9L726.8 238.9L725.8 238.4L724.9 238L723.9 237.6L723.2 237.7L722.5 237.7L721.8 237.8L720.8 237.3L719.8 236.8L718.8 236.3L718 236.1L717.1 235.9L716.3 235.7L715.3 235.7L714.2 235.7L714.7 237L715.1 238.3L714.2 238.2L713.4 238.2L712.5 238.1L711.7 238L710.6 237.7L709.6 237.4L708.5 237.1L707.8 237.2L707.2 237.3L706.5 237.5L706 237.9L705.5 238.3L705 238.7L704.5 239.3L703.5 238.3L702.5 238.3L701.5 238.3L700.5 237.8L699.6 237.2L698.6 236.7L697.8 236.7L697 236.7L696.2 236.8L695.4 236.8L694.4 236.1L693.4 235.4L692.4 234.7L691.4 234L690.5 233.3L689.7 232.6L689.1 232.8L688.5 233.1L687.9 233.3L687.2 232.9L686.5 232.6L686 232.6L685 232L683.9 231.4L682.9 230.9L682 231L681.1 231.1L680.2 231.3L679.4 231.4L678.7 231.5L678 231.7L677.3 231.8L676.4 232L675.6 232.2L674.7 232.4L673.9 232.6L673.3 232.7L673.9 234L673.6 234.6L673.3 235.3L674.1 235.4L674.9 235.6L675 236.3L675 236.9L674.2 237.1L673.5 237.3L672.8 236.9L672.1 236.5L671.3 236.5L670.5 236.5L669.8 236.6L669.2 236.7L668.5 236.8L667.5 236.5L666.5 236.3L665.5 236L664.6 235.9L663.7 235.9L663 236.3L662.4 236.8L661.8 237.2L661.1 237.4L660.4 237.6L660.2 238.5L660 239.4L660.7 240.2L661.4 240.6L662 241.1L662.5 241.9L663 242.7L663.5 242.9L662.8 243.5L662.2 244.1L662.1 244.9L662 245.6L662.5 246.7L663 247.7L663.8 248.6L664.6 249.4L663.9 250.2L663.2 249.8L662.5 249.4L662.2 249.3L661.3 248.8L660.3 248.3L659.6 248.2L658.9 248.1L658.1 247.8L657.3 247.4L656.2 247.4L655.3 247.3L654.4 247.2L653.4 246.5L652.5 245.8L651.8 245.4L651.1 245.1L650.1 244.7L650.3 244.7L650.3 244.4L651.1 244.4L651.4 243.3L652 242.6L652.5 241.9L651.9 242L651.3 242.1L651.4 242L651.4 241.3L652.2 241.1L653 240.9L652.7 240L653 239.1L652.7 238.6L651.9 238.4L651.2 238.2L650.4 238L649.5 237.8L648.7 237.5L648 237.1L647.3 236.7L646.7 236.2L646.1 235.7L645.2 234.8L644.5 234.9L643.9 235.1L643.2 235.2L642.8 234.4L643.3 233.8L643.8 233.4L643.2 233L642.7 232.6L642 232.1L641.4 231.5L641.4 230.5L640.8 230.3L640.3 230.1L639.3 229.9L638.3 229.7L637.9 228.8L637.5 227.9L637.2 227.3L637 226.2L637.5 225.6L637.3 225.3L637.7 224.9L638.4 224.9L639.1 224.8L638.1 224.4L637.5 224.2L637 224L636.8 224.1ZM677.4 213.8L676.6 213.7L675.9 213.5L676.4 214L676.5 215L676.6 215.9L676.9 215.5L677.3 215.1L677.7 214.7L677.4 213.8ZM450 217L448.6 217.3L447.2 217.7L446 218.3L444.7 218.8L443.9 219L443 219.1L442.3 219L441.6 218.9L440.9 218.8L440.9 218.3L440.9 217.8L440.1 218L439.2 218.2L438.3 218.3L440.1 217.1L441.9 215.9L443.7 214.7L445.5 213.6L446 213.7L446.5 213.8L447 213.9L447.5 214L447.5 214.5L447.6 214.9L447.6 215.3L447.7 215.7L447.9 216.1L448 216.4L448.2 216.7L448.8 216.8L449.4 216.9L450 217ZM452.7 210.5L452 211.2L451.5 211.2L450.9 211.1L450.4 211.1L450.5 210.8L450.5 210.5L451.3 210.5L452 210.5L452.7 210.5ZM655.7 210.9L655.4 210L655.2 209.1L655.8 208.9L656.4 208.6L656.9 208.3L657.2 207.6L657.4 206.9L657.7 206.5L658.1 206.1L658.5 205.7L658.9 205.3L659.4 205.2L659.9 205.1L660.4 204.9L660.9 204.8L661.7 204.8L662.4 204.7L663.1 204.7L663.8 204.6L664.5 204.5L665.2 204.5L664.8 204.8L664.3 205.1L663.9 205.5L663.4 205.7L662.9 205.9L662.4 206.1L661.9 206.3L661.4 206.5L661 207L660.6 207.4L660.2 207.9L659.8 208.3L659.3 208.8L659.1 209.4L658.8 209.9L658.6 210.5L659.5 211L660.4 211.4L659.7 211.4L658.9 211.4L658.2 211.4L657.5 211.3L656.8 211.3L656.2 211.1L655.7 210.9ZM729.5 206.5L728.7 206.5L727.8 206.4L727 206.3L726.1 206.2L725.3 206.2L724.5 206.1L723.6 206L723.9 205.8L724.3 205.6L724.6 205.4L724.9 205.2L725.6 205.2L726.2 205.2L726.9 205.1L727.5 205.1L728.2 205L728.8 205L729.5 205L730.1 204.9L731.4 205.3L732.6 205.6L733.8 206L735 206.3L734.3 206.3L733.6 206.4L733 206.4L732.3 206.4L731.6 206.5L730.9 206.5L730.2 206.5L729.5 206.5ZM688.2 202.3L687.4 202.3L686.6 202.3L685.8 202.3L685 202.3L684.3 202.3L683.9 201.6L683.6 201L683.3 200.4L684 200.5L684.8 200.5L685.5 200.6L686.3 200.6L687 200.7L687.8 200.7L688.5 200.8L689.3 200.8L690.4 201.5L691.7 202.2L692.9 202.8L692.1 202.7L691.3 202.7L690.5 202.6L689.7 202.5L689 202.4L688.2 202.3ZM644.7 200.9L645.2 200.8L645.7 200.7L646.1 200.5L646.6 200.4L647.3 200.4L647.9 200.3L648.5 200.3L649.1 200.2L649.8 200.2L650.4 200.2L651 200.1L651.7 200.4L652.4 200.6L653.1 200.8L652.5 200.9L651.9 201L651.3 201L650.7 201.1L650.1 201.2L649.5 201.2L648.8 201.2L648.1 201.1L647.4 201.1L646.7 201.1L646.1 201L645.4 201L644.7 200.9Z" fill="#c7e9b4" stroke="#6f6f6f" stroke-opacity="0.75" stroke-width="0.35"/>
<path d="M627.9 264.1L628.8 264.5L629.7 264.9L630.5 265.2L631.4 265.6L632 265.5L632.6 265.3L632.9 264.6L633.2 263.9L633.1 263.1L633.9 262.5L634.7 262L635.6 262.2L636.5 262.4L637.4 262.8L638.2 263.2L639 263.6L639.2 263.8L639.1 264.9L639.1 266.1L639.2 267.3L639.3 268.6L639.3 269.8L639.4 271.1L639.5 272.3L639.6 273.6L639.6 274.9L639.7 276.1L639.8 277.4L639.8 278.8L639.9 280.2L638.7 280.2L638.7 280.9L637.6 280.4L636.4 279.9L635.3 279.4L634.2 278.9L633.1 278.4L632 277.9L630.8 277.4L629.7 276.9L628.6 276.5L627.5 276L626.9 276.2L626.3 276.5L625.4 276.1L624.6 275.7L623.7 275.3L623 274.5L622.3 273.8L621.6 273.1L621.3 272.1L621.1 271L620.9 269.8L620.8 268.6L620.6 267.5L620.9 266.6L621.2 265.8L621.3 264.9L621.5 263.9L622.2 263.3L622.9 262.7L622.8 261.7L623.9 261.8L624.9 262L625.7 262.2L626.5 262.5L627.3 262.8L627.6 263.4L627.9 264.1Z" fill="url(#hatch)" stroke="#c4c4c4" stroke-width="0.5"/>
<path d="M621.2 256.3L622 256L621.5 257.1L621.9 257.9L622.3 258.7L621.8 259.3L621.4 260L621 260.7L621.7 261L622.4 261.4L622.8 261.7L622.9 262.7L622.2 263.3L621.5 263.9L621.3 264.9L621.2 265.8L620.6 265.8L620.4 264.4L620.2 263.1L619.4 262.2L618.7 261.4L618.4 260.7L618.2 260L618.5 259.3L618.9 258.7L618.9 257.9L619 257L619.2 256.3L619.9 256L620.6 255.7L621.2 256.3Z" fill="#edf8b1" stroke="#6f6f6f" stroke-opacity="0.75" stroke-width="0.35"/>
<path d="M612.7 256.4L613.5 256.5L614.3 256.5L615 256.6L615.8 256.4L616.6 256.3L617.4 256.2L618.3 256.2L619.2 256.3L619 257L618.9 257.9L618.9 258.7L618.5 259.3L618.2 260L618.4 260.7L618.7 261.4L619.4 262.2L620.2 263.1L620.4 264.4L620.6 265.8L621.2 265.8L620.9 266.6L620.6 267.5L620.8 268.6L620.9 269.8L621.1 271L621.3 272.1L621.6 273.1L622.3 273.8L623 274.5L623.7 275.3L623.8 275.3L622.8 276.1L621.8 276.9L620.8 277.7L620 278.1L619.2 278.6L618.4 279.1L617.7 279.7L617 280.4L616.3 281.1L615.4 281.2L614.4 281.4L613.3 281.6L613.1 280.5L612.3 279.9L611.4 279.4L610.7 278.8L609.8 278.1L608.8 277.4L607.9 276.7L607 276L606.1 275.3L605.2 274.5L604.3 273.8L603.4 273.1L602.6 273.8L601.9 274.5L601.1 273.8L600.3 273.1L599.5 272.4L598.7 271.7L598.7 270.8L598.7 269.9L598.7 268.9L598.7 267.9L599.5 267.4L600.2 266.9L601 266.9L601.8 266.8L602.6 266.8L603.3 266.1L604 265.4L604.8 264.8L604.9 263.8L605.5 263.4L606.1 263.1L607.2 263.1L607.2 261.9L607.2 260.6L607.1 259.4L606.6 258.8L607.3 258.4L608 258L608.8 257.7L609.6 257.3L610.4 257L611.2 256.8L611.9 256.6L612.7 256.4Z" fill="#c7e9b4" stroke="#6f6f6f" stroke-opacity="0.75" stroke-width="0.35"/>
<path d="M597.6 265.3L597.5 264.6L597.5 263.9L598 263.1L598.6 262.3L599.1 261.5L600.1 261L601.2 260.4L601.5 259.5L601.9 258.6L602.3 257.9L603 257.7L603.7 258.2L604.5 258.7L605.6 258.8L606.6 258.8L607.1 259.4L607.2 260.6L607.2 261.9L607.2 263.1L606.1 263.1L605.5 263.4L604.9 263.8L604.8 264.8L604 265.4L603.3 266.1L602.6 266.8L601.8 266.8L601 266.9L600.2 266.9L599.5 267.4L598.7 267.9L598.7 268.6L598.7 269.4L597.5 269.4L596.3 269.4L595.1 269.4L593.9 269.4L594 269.3L594.7 269.1L595.3 268.9L596.2 268L597.2 267.2L597.4 266.3L597.6 265.3Z" fill="#edf8b1" stroke="#6f6f6f" stroke-opacity="0.75" stroke-width="0.35"/>
<path d="M591.3 272.4L592.1 271.5L592.9 270.6L593.4 270L593.9 269.4L595.1 269.4L596.3 269.4L597.5 269.4L598.7 269.4L598.7 269.9L598.7 270.8L598.7 271.7L597.7 271.7L596.7 271.7L595.7 271.7L594.6 271.7L594.6 272.9L594.6 274.1L594.6 275.3L593.9 275.6L593.3 276L593.3 277.2L593.3 278.4L592.3 278.4L591.3 278.5L590.3 278.6L589.3 278.7L588.3 278.8L588.7 277.9L589 276.9L589.5 275.9L589.9 274.8L590.4 274L590.9 273.2L591.3 272.4Z" fill="url(#hatch)" stroke="#c4c4c4" stroke-width="0.5"/>
<path d="M588.2 279.1L588.3 278.8L589.3 278.7L590.3 278.6L591.3 278.5L592.3 278.4L593.3 278.4L593.3 277.2L593.3 276L593.9 275.6L594.6 275.3L594.6 274.1L594.6 272.9L594.6 271.7L595.7 271.7L596.7 271.7L597.7 271.7L598.7 271.7L599.5 272.4L600.3 273.1L601.1 273.8L601.9 274.5L602.6 273.9L603.3 273.2L602.9 274.4L602.6 275.6L602.2 276.9L601.9 278.1L601.9 279.3L602 280.5L602.1 281.7L602.2 282.9L602.3 284.1L602.4 285.3L602.6 286.6L601.6 286.6L600.6 286.6L599.5 286.7L598.5 286.7L597.5 286.7L596.3 286.6L595.1 286.4L594.6 287.1L594.1 287.7L593.6 287.1L593.1 286.4L592.3 285.7L591.5 285L590.6 285.2L589.7 285.5L588.8 285.7L589 284.7L589.2 283.7L589.1 282.4L588.9 281.1L588.6 280.1L588.2 279.1Z" fill="url(#hatch)" stroke="#c4c4c4" stroke-width="0.5"/>
<path d="M613.1 280.5L613.3 281.6L614.4 281.4L614.4 282.7L614.4 284L614.4 285.3L614 286.1L613.7 286.9L612.7 286.9L611.8 286.9L610.8 286.9L610.1 287.1L609.4 287.4L608.6 287.1L607.7 287.8L606.7 288.4L605.9 288.9L605 289.4L604.4 290L603.9 290.5L603.3 291.5L602.7 292.4L602.6 293.1L602.4 293.8L601.5 294.1L600.6 294.1L599.7 294.1L599 293.8L598.8 293.1L598.6 292.4L598.2 291.7L597.8 291.1L596.8 291.4L595.9 291.7L595.1 291L594.8 289.8L594.5 288.7L594.1 287.7L594.6 287.1L595.1 286.4L596.3 286.6L597.5 286.7L598.5 286.7L599.5 286.7L600.6 286.6L601.6 286.6L602.6 286.6L602.4 285.3L602.3 284.1L602.2 282.9L602.1 281.7L602 280.5L601.9 279.3L601.9 278.1L602.2 276.9L602.6 275.6L602.9 274.4L603.3 273.2L603.3 273.1L604.3 273.9L605.2 274.6L606.1 275.3L607 276L607.9 276.7L608.8 277.4L609.7 278.1L610.7 278.8L611.4 279.4L612.3 279.9L613.1 280.5Z" fill="#ffffd9" stroke="#6f6f6f" stroke-opacity="0.75" stroke-width="0.35"/>
<path d="M620.8 277.7L621.8 276.9L622.8 276.1L623.8 275.3L624.6 275.7L625.5 276.1L626.3 276.5L626.9 276.2L627.5 276L627.7 277L628 278L628.2 279.1L628.5 280.3L628.4 281.4L628.3 282.5L628.3 283.5L628.2 284.6L627.6 285.6L627 286.6L626.5 287.8L626.1 289.1L625.4 289.5L624.7 290L623.5 289.8L622.3 289.7L621.3 289.8L620.3 290L619.2 290.1L618.5 289.7L617.8 289.3L616.8 289.1L615.9 289L615.1 289.2L614.3 289.4L614 290.7L613.7 291.9L612.8 291.1L612.2 291.7L611.7 290.5L611 290.1L610.3 289.7L609.7 288.7L609.4 287.4L610.1 287.1L610.8 286.9L611.8 286.9L612.7 286.9L613.7 286.9L614 286.1L614.4 285.3L614.4 284L614.4 282.7L614.4 281.4L615.4 281.2L616.3 281.1L617 280.4L617.7 279.7L618.4 279.1L619.2 278.6L620 278.1L620.8 277.7Z" fill="#ffffd9" stroke="#6f6f6f" stroke-opacity="0.75" stroke-width="0.35"/>
<path d="M637.1 288.7L637 289.5L637 290.4L636.5 291.5L637 291.9L637.5 292.4L637.7 293.1L636.9 293.6L636.1 294.2L635.3 294.8L634.5 295.1L633.7 295.4L632.9 295.8L632.2 296.9L631.4 297.2L630.6 297.5L629.8 297.7L629.1 297.8L628.5 297.9L627.8 296.8L627.1 295.8L627.5 295.1L627.9 294.4L627.2 293.3L626.6 292.2L627.3 291.5L626.9 290.9L626.6 290.2L626.1 289.1L626.5 287.8L627 286.6L627.6 285.6L628.2 284.6L628.3 283.5L628.3 282.5L628.4 281.4L628.5 280.3L628.2 279.1L628 278L627.7 277L627.5 276L628.6 276.5L629.7 276.9L630.8 277.4L632 277.9L633.1 278.4L634.2 278.9L635.3 279.4L636.4 279.9L637.6 280.4L638.7 280.9L638.7 282.3L638.8 283.6L638.8 284.9L638.9 286.3L638.3 287.1L637.7 287.9L637.1 288.7Z" fill="#ffffd9" stroke="#6f6f6f" stroke-opacity="0.75" stroke-width="0.35"/>
<path d="M656.6 283L656 284L655.4 284.9L654.8 285.9L654.6 287.1L654.4 288.3L653.8 289.5L653.2 290.7L652.9 291.6L652.6 292.5L652.1 293.7L651.6 294.9L651.1 293.7L650.7 292.6L650.2 291.4L649.5 291.5L648.9 291.5L648.5 292.6L648 293.7L647.5 294.8L646.7 294.7L645.9 294.6L645 294.9L644 295.2L643.1 295.1L642.2 295.1L641.4 294.5L640.7 293.9L640 295.1L639.3 296.2L639.1 295.1L638.8 294.4L638.5 293.6L637.7 293.1L637.5 292.4L637 291.9L636.5 291.5L637 290.4L637 289.5L637.1 288.7L637.7 287.9L638.3 287.1L638.9 286.3L638.8 284.9L638.8 283.6L638.7 282.3L638.7 280.9L638.7 280.2L639.9 280.2L639.8 278.8L639.8 277.4L641 277.4L642.2 277.4L643.4 277.4L644.6 277.4L645.8 277.4L647.1 277.4L648.3 277.4L649.5 277.4L650.7 277.4L651.9 277.4L653.1 277.4L654.3 277.4L654.6 278.1L654.9 278.8L655 279.8L655.1 280.9L655.9 282L656.6 283Z" fill="#c7e9b4" stroke="#6f6f6f" stroke-opacity="0.75" stroke-width="0.35"/>
<path d="M644 295.2L645 294.9L645.9 294.6L646.7 294.7L647.5 294.8L648 293.7L648.5 292.6L648.9 291.5L649.5 291.5L650.2 291.4L650.7 292.6L651.1 293.7L651.6 294.9L651.6 295.7L651.5 296.5L650.9 297L650.3 297.5L650.8 298.3L651.2 299.2L652 300L652.9 300.9L653.4 301.4L654 302L652.8 302.3L651.6 302.6L651 302.8L650.4 303.1L649.6 303.2L648.7 303.2L647.9 303.3L647.7 303.5L646.9 303.1L646.2 302.6L645.4 302.1L644.5 301.8L643.5 301.4L643.4 301.3L642.6 300.6L641.8 300L641 299.3L640.4 298.3L639.9 297.2L639.3 296.2L640 295.1L640.7 293.9L641.4 294.5L642.2 295.1L643.1 295.1L644 295.2Z" fill="url(#hatch)" stroke="#c4c4c4" stroke-width="0.5"/>
<path d="M660.9 289.7L661.8 290.1L662.7 290.5L661.8 290.8L661.2 290.1L660.6 289.4L660 288.7L659.4 288.3L658.7 288L657.8 288.1L656.9 288.1L656.3 288.3L655.6 288.4L655 288.3L654.4 288.3L654.6 287.1L654.8 285.9L655.4 284.9L656 284L656.6 283L657.1 284.2L657.6 285.4L658 286.6L658.7 287.3L659.3 288L660.1 288.8L660.9 289.7Z" fill="url(#hatch)" stroke="#c4c4c4" stroke-width="0.5"/>
<path d="M663.1 292.2L662.5 292.9L661.8 292.9L661.1 292.9L661.5 291.9L661.8 290.8L662.7 290.5L663 291.7L663.3 292.1L663.1 292.2Z" fill="#ffffd9" stroke="#6f6f6f" stroke-opacity="0.75" stroke-width="0.35"/>
<path d="M668.8 292.8L669.8 292.6L670.7 292.4L671.8 292.1L672.9 291.8L672.8 292.8L672.6 293.8L672.5 294.8L672.4 295.8L672 296.8L671.5 297.9L670.9 298.8L670.3 299.8L669.7 300.7L669.1 301.6L668.5 302.4L667.9 303.3L667.3 304.1L666.7 304.9L666 305.7L665.2 306.4L664.4 307.1L663.6 307.8L662.9 308.5L662.3 309.1L661.7 309.8L661.2 310.9L660.8 310.3L660.4 309.8L660.4 308.5L660.4 307.2L660.4 305.8L660.4 304.5L661 303.7L661.5 302.8L662.5 302.2L663.5 301.6L664.4 301.5L665.4 301.4L666.1 300.6L666.8 299.7L667.5 298.9L668.3 298L669 297.2L667.7 297.2L666.5 297.2L665.7 296.7L664.8 296.2L664 295.8L663.5 294.8L663 293.9L662.5 292.9L663.1 292.2L663.3 292.1L663.9 292.9L664.5 293.8L665.5 293.6L666.4 293.4L667.2 293.2L668 293L668.8 292.8Z" fill="url(#hatch)" stroke="#c4c4c4" stroke-width="0.5"/>
<path d="M658.7 288L659.4 288.3L660 288.7L660.6 289.4L661.2 290.1L661.8 290.8L661.5 291.9L661.1 292.9L661.8 292.9L662.5 292.9L663 293.9L663.5 294.8L664 295.8L664.8 296.2L665.7 296.7L666.5 297.2L667.7 297.2L669 297.2L668.3 298L667.5 298.9L666.8 299.7L666.1 300.6L665.4 301.4L664.4 301.5L663.5 301.6L662.5 302.2L661.5 302.8L660.8 302.7L660.1 302.6L659.3 303.1L658.5 303.5L657.6 303.5L656.7 303.4L655.8 303L655 302.7L654.1 302.3L654 302L653.4 301.4L652.9 300.9L652 300L651.2 299.2L650.8 298.3L650.3 297.5L650.9 297L651.5 296.5L651.6 295.7L651.6 294.9L652.1 293.7L652.6 292.5L652.9 291.6L653.2 290.7L653.8 289.5L654.4 288.3L655 288.3L655.6 288.4L656.3 288.3L656.9 288.1L657.8 288.1L658.7 288Z" fill="#ffffd9" stroke="#6f6f6f" stroke-opacity="0.75" stroke-width="0.35"/>
<path d="M658.1 315.1L657.5 314.3L656.8 313.5L656.2 312.7L655.2 312.2L654.3 311.6L653.4 311L652.5 310.5L651.6 309.9L651.7 309.9L651.7 308.8L651.7 307.7L652.3 306.7L652.9 305.8L652.9 304.7L652.8 303.5L652.2 303.1L651.6 302.6L652.8 302.3L654 302L654.1 302.3L655 302.7L655.8 303L656.7 303.4L657.6 303.5L658.5 303.5L659.3 303.1L660.1 302.6L660.8 302.7L661.5 302.8L661 303.7L660.4 304.5L660.4 305.8L660.4 307.2L660.4 308.5L660.4 309.8L660.8 310.3L661.2 310.9L660.5 311.5L659.8 312L659.3 313L658.8 314L658.1 315.1Z" fill="#ffffd9" stroke="#6f6f6f" stroke-opacity="0.75" stroke-width="0.35"/>
<path d="M651.7 307.7L651.7 308.8L651.7 309.9L651.6 309.9L650.6 309.9L649.6 309.9L648.7 309.9L647.7 309.9L646.6 310.5L646.2 310.5L646.2 309.5L646.2 308.5L646.4 307.6L646.7 306.7L647.3 306L647.9 305.2L647.8 304.4L647.7 303.5L647.9 303.3L648.7 303.2L649.6 303.2L650.4 303.1L651 302.8L651.6 302.6L652.2 303.1L652.8 303.5L652.9 304.7L652.9 305.8L652.3 306.7L651.7 307.7Z" fill="#ffffd9" stroke="#6f6f6f" stroke-opacity="0.75" stroke-width="0.35"/>
<path d="M646.6 310.5L647.3 310.1L647.6 311L647.8 311.9L647.3 311.9L646.4 312.2L645.4 312.5L645.3 311.8L645.6 310.6L646.2 310.5L646.6 310.5Z" fill="#ffffd9" stroke="#6f6f6f" stroke-opacity="0.75" stroke-width="0.35"/>
<path d="M647.7 313.2L646.8 313.9L645.9 314.7L645.8 313.9L645.7 313.2L645.4 312.5L646.4 312.2L647.3 311.9L647.8 311.9L647.7 313.2Z" fill="#ffffd9" stroke="#6f6f6f" stroke-opacity="0.75" stroke-width="0.35"/>
<path d="M658.6 322.6L659.4 323.4L658.5 323.7L657.6 324.1L656.7 324.5L655.8 324.9L654.7 324.8L653.7 324.6L652.9 324.8L652.2 324.9L652 323.9L651.7 322.9L651.5 321.9L650.9 321.9L650.3 321.8L650.1 321.8L649.2 321.3L648.3 320.8L647.4 320.2L647 319.2L646.6 318.1L646.1 317L646 315.9L645.9 314.7L646.8 313.9L647.7 313.2L647.8 311.9L647.6 311L647.3 310.1L647.7 309.9L648.7 309.9L649.6 309.9L650.6 309.9L651.6 309.9L652.5 310.5L653.4 311L654.3 311.6L655.2 312.2L656.2 312.7L656.8 313.5L657.5 314.3L658.1 315.1L657.9 316.4L657.7 317.7L658 318.8L658.3 319.8L658.4 320.8L658.5 321.7L658.6 322.6Z" fill="#ffffd9" stroke="#6f6f6f" stroke-opacity="0.75" stroke-width="0.35"/>
<path d="M620.1 309.5L620.6 308.3L621.1 307.1L621.4 307.1L622.4 307.1L623.3 307.1L623.3 306.3L623.3 305.4L624.2 305.4L625 305.4L625.8 305.4L625.7 306.7L626.7 306.8L626.9 308L627.2 309.2L627.1 310.2L626.9 311.2L626.4 311.6L625.6 311.8L624.8 311.9L623.8 311.9L623.9 312.6L623.9 313.3L623.3 313.8L622.9 313.5L622.3 312.7L621.7 312L621.1 311.3L620.6 310.4L620.1 309.5Z" fill="#c7e9b4" stroke="#6f6f6f" stroke-opacity="0.75" stroke-width="0.35"/>
<path d="M623.3 305.4L623.3 306.3L623.3 307.1L622.4 307.1L621.4 307.1L621.1 306.8L621.3 306L621.4 305.2L622.4 305.3L623.3 305.4Z" fill="#ffffd9" stroke="#6f6f6f" stroke-opacity="0.75" stroke-width="0.35"/>
<path d="M623.9 313.3L623.9 312.6L623.8 311.9L624.8 311.9L625.6 311.8L626.4 311.6L626.9 311.2L627.1 310.2L627.2 309.2L626.9 308L626.7 306.8L625.7 306.7L625.8 305.4L626.6 305.4L627.4 305.4L628.3 305.3L629.2 305.2L629.3 304.3L629.4 303.4L630.2 303.5L631.1 303.5L631.7 303.5L632.4 303.5L632.2 304.8L632 306.1L631.8 307.4L631.5 308.6L631.3 309.9L630.4 310.8L629.4 311.6L629.2 312.8L629.1 314L628.2 314.6L627.1 314.9L626 315.3L625.4 315.4L624.8 315.6L624.2 315.6L623.9 314.9L623.6 314.2L623.3 313.8L623.9 313.3Z" fill="#ffffd9" stroke="#6f6f6f" stroke-opacity="0.75" stroke-width="0.35"/>
<path d="M620.1 302.1L619.7 302.2L619.9 301.9L620.1 301.1L620.3 300.3L620.9 299.8L621.4 299.3L622.2 299.1L622.9 298.9L623.9 298.6L624.2 297.9L624.4 297.2L625.3 296.2L625.5 295.2L625.7 294.2L626.2 293.4L626.7 292.7L626.8 292.5L627.3 293.4L627.9 294.4L627.5 295.1L627.1 295.8L627.8 296.8L628.5 297.9L627.9 298.9L627.3 300L627.4 301.1L627.4 302.1L628 303.2L628.6 304.2L629.2 305.2L628.3 305.3L627.4 305.4L626.6 305.4L625.8 305.4L625 305.4L624.2 305.4L623.3 305.4L622.4 305.3L621.4 305.2L621.4 305L621.3 304L621.1 303.1L620.6 302.6L620.1 302.1Z" fill="#ffffd9" stroke="#6f6f6f" stroke-opacity="0.75" stroke-width="0.35"/>
<path d="M632.9 295.8L633.7 295.4L634.5 295.1L635.3 294.8L636.1 294.2L636.9 293.6L637.7 293.1L638.5 293.6L638.8 294.4L639.1 295.1L639.3 296.2L639.9 297.2L640.4 298.3L641 299.3L641.8 300L642.6 300.6L643.4 301.3L642.4 301.3L641.4 301.4L640.4 301.4L639.4 301.8L638.3 302.2L637.3 302.6L636.5 302.5L635.6 302.4L634.8 302.3L633.9 302.7L632.9 303.1L632.4 303.5L631.7 303.5L631.1 303.5L630.2 303.5L629.4 303.4L629.3 304.3L629.2 305.2L628.6 304.2L628 303.2L627.4 302.1L627.4 301.1L627.3 300L627.9 298.9L628.5 297.9L629.1 297.8L629.8 297.7L630.6 297.5L631.4 297.2L632.2 296.9L632.9 295.8Z" fill="url(#hatch)" stroke="#c4c4c4" stroke-width="0.5"/>
<path d="M615.4 300.3L614.8 299.6L614.1 299.5L613.4 299.4L612.6 299.5L612.6 298.3L612.6 297L612.7 295.8L613.2 295.1L613.7 294.4L613.7 293.1L613.7 291.9L614 290.7L614.3 289.4L615.1 289.2L615.9 289L616.8 289.1L617.8 289.3L618.5 289.7L619.2 290.1L620.3 290L621.3 289.8L622.3 289.7L623.5 289.8L624.7 290L625.4 289.5L626.1 289.1L626.6 290.2L626.7 290.5L626.7 291.3L626.7 292.1L626.6 292.2L626.7 292.4L626.7 292.7L626.2 293.4L625.7 294.2L625.5 295.2L625.3 296.2L624.4 297.2L624.2 297.9L623.9 298.6L622.9 298.9L622.2 299.1L621.4 299.3L620.9 299.8L620.3 300.3L620.1 301.1L619.9 301.9L619.7 302.2L618.8 302.2L617.9 302.3L617 302L616.1 301.7L615.8 301L615.4 300.3Z" fill="#ffffd9" stroke="#6f6f6f" stroke-opacity="0.75" stroke-width="0.35"/>
<path d="M610.3 292.9L611 292.7L611.7 292.4L612.2 291.7L612.8 291.1L613.7 291.9L613.7 293.1L613.7 294.4L613.2 295.1L612.7 295.8L612.6 297L612.6 298.3L612.6 299.5L611.9 299.6L611.2 299.7L611.2 298.4L611.2 297.1L611.2 295.8L610.9 294.8L610.6 293.9L610.3 292.9Z" fill="#ffffd9" stroke="#6f6f6f" stroke-opacity="0.75" stroke-width="0.35"/>
<path d="M609.8 296.5L609.6 295.5L609.3 294.5L609.1 293.5L609.2 292.9L610.3 292.9L610.6 293.9L610.9 294.8L611.2 295.8L611.2 297.1L611.2 298.4L611.2 299.7L610.7 299.9L610.3 298.9L609.8 297.9L609.8 296.5Z" fill="url(#hatch)" stroke="#c4c4c4" stroke-width="0.5"/>
<path d="M606.7 301.9L606 301.6L605.3 301.3L605.5 299.9L605.7 298.6L605.9 297.7L606.1 296.9L605.9 296L605.7 295.1L605.7 294L605.7 292.9L606.8 292.9L608 292.8L609.1 292.8L609.2 292.9L609.1 293.5L609.3 294.5L609.6 295.5L609.8 296.5L609.8 297.9L610.3 298.9L610.7 299.9L609.9 300.2L609.2 300.4L608.3 300.9L607.3 301.4L606.7 301.9Z" fill="#ffffd9" stroke="#6f6f6f" stroke-opacity="0.75" stroke-width="0.35"/>
<path d="M605 289.4L605.9 288.9L606.7 288.4L607.7 287.8L608.6 287.1L609.4 287.4L609.7 288.7L610.3 289.7L611 290.1L611.7 290.5L612.2 291.7L611.7 292.4L611 292.7L610.3 292.9L609.2 292.9L609.1 292.8L608 292.8L606.8 292.9L605.7 292.9L605.7 293.9L605.7 294.9L604.7 294.5L603.6 294.9L603 294.4L602.4 293.8L602.6 293.1L602.7 292.4L603.3 291.5L603.9 290.5L604.4 290L605 289.4Z" fill="#ffffd9" stroke="#6f6f6f" stroke-opacity="0.75" stroke-width="0.35"/>
<path d="M599.8 302.3L599.8 301.5L599.7 300.7L599.2 300L598.6 299.3L598.7 298.6L598.9 297.9L599 297.7L599.2 296.5L599.5 295.3L599.2 294.6L599 293.8L599.7 294.1L600.6 294.1L601.5 294.1L602.4 293.8L603 294.4L603.6 294.9L604.7 294.5L605.7 294.9L605.7 295.1L605.9 296L606.1 296.9L605.9 297.7L605.7 298.6L605.5 299.9L605.3 301.3L604.2 301.1L603.3 301.2L602.3 301.3L601.5 301.6L600.7 301.9L599.8 302.3Z" fill="#ffffd9" stroke="#6f6f6f" stroke-opacity="0.75" stroke-width="0.35"/>
<path d="M594.9 298.7L595.6 297.6L596.4 296.5L597.5 296.5L598.2 297.2L598.9 297.9L598.7 298.6L598.6 299.3L599.2 300L599.7 300.7L599.8 301.5L599.8 302.3L598.9 301.9L598 301.4L597 300.5L596.1 299.6L595.5 299.2L594.9 298.7Z" fill="url(#hatch)" stroke="#c4c4c4" stroke-width="0.5"/>
<path d="M593.6 294.5L594.5 294.4L595.3 294.4L595.9 295.3L596.4 296.5L595.6 297.6L594.9 298.7L593.9 298L593 297.2L592.8 296.5L592.6 295.8L593.1 295.1L593.6 294.5Z" fill="url(#hatch)" stroke="#c4c4c4" stroke-width="0.5"/>
<path d="M590 289.3L591 289.2L592.1 289.1L592.1 289.6L591 289.6L590 289.7L589.2 289.8L588.4 289.9L588.4 289.8L588.3 289.3L589.2 289.3L590 289.3Z" fill="#ffffd9" stroke="#6f6f6f" stroke-opacity="0.75" stroke-width="0.35"/>
<path d="M592.2 290.7L592.2 291.9L591.4 292.5L590.6 293.1L589.9 292.7L589.3 292.2L588.9 291.6L588.5 291L589.4 290.9L590.3 290.8L591.3 290.7L592.2 290.7Z" fill="url(#hatch)" stroke="#c4c4c4" stroke-width="0.5"/>
<path d="M592.2 291.9L592.2 290.7L593.1 290.8L593.9 291L595.1 291L595.9 291.7L596.8 291.4L597.8 291.1L598.2 291.7L598.6 292.4L598.8 293.1L599 293.8L599.2 294.6L599.5 295.3L599.2 296.5L599 297.7L598.9 297.9L598.2 297.2L597.5 296.5L596.4 296.5L595.9 295.3L595.3 294.4L594.5 294.4L593.6 294.5L593.1 295.1L592.6 295.8L591.9 294.9L591.2 294.1L590.6 293.1L591.4 292.5L592.2 291.9Z" fill="url(#hatch)" stroke="#c4c4c4" stroke-width="0.5"/>
<path d="M587.5 287.7L588.2 286.8L588.8 285.9L588.8 285.7L589.7 285.5L590.6 285.2L591.5 285L592.3 285.7L593.1 286.4L593.6 287.1L594.1 287.7L594.5 288.7L594.8 289.8L595.1 291L593.9 291L593.1 290.8L592.2 290.7L591.3 290.7L590.3 290.8L589.4 290.9L588.5 291L588.4 289.9L589.2 289.8L590 289.7L591 289.6L592.1 289.6L592.1 289.1L591 289.2L590 289.3L589.2 289.3L588.3 289.3L588.3 288.7L587.5 287.7Z" fill="#ffffd9" stroke="#6f6f6f" stroke-opacity="0.75" stroke-width="0.35"/>
<path d="M626.4 324.1L626.1 323.1L625.9 322.2L625.6 321.2L625.3 320.3L625.1 319.3L624.8 318.4L624.6 317.7L624.4 317L625.4 316.8L626.4 316.8L627.5 316.8L628.5 316.8L629.5 316.8L629.7 317.6L629.9 318.4L630.4 319.1L631 319.8L631.9 319.8L632.9 319.8L634 319.5L635.2 319.2L636.4 318.8L636.4 319.9L636.3 320.9L636.3 321.9L636.6 323L636.9 324.1L638 324.1L639 324.1L639 325.5L639 326.9L637.7 326.9L636.5 326.9L636.5 328L636.4 329.2L636.4 330.3L636.4 331.4L637.2 332.4L638 333.4L637 333.6L636 333.8L634.9 334L634 333.7L633 333.4L632 333.1L630.9 333.1L629.7 333.1L628.6 333.1L627.5 333.1L626.3 333.1L625.5 333.1L624.6 333L623.7 333L623.9 331.7L624 330.4L624.3 329.5L624.5 328.5L624.7 327.6L625.2 326.4L625.8 325.2L626.4 324.1Z" fill="#ffffd9" stroke="#6f6f6f" stroke-opacity="0.75" stroke-width="0.35"/>
<path d="M643 324.9L643.5 325.5L643.9 326.2L644.5 326.8L645.1 327.5L645.9 327.2L646 326.5L646.2 325.8L645.7 324.7L645.2 323.7L644.7 322.6L644.7 321.6L644.8 320.5L645.7 320.4L646.6 320.3L647.4 320.2L648.3 320.8L649.2 321.3L650.1 321.8L650.3 321.8L650.4 322.8L650.6 323.8L650.5 324.8L650.4 325.9L650.1 326.8L649.7 327.7L650.3 328.3L649.4 328.9L648.6 329.4L647.7 330L646.8 330.6L645.9 330.9L645 331.1L644.2 332L643.3 332.9L642.5 333.8L641.4 333.8L640.4 333.7L639.2 333.5L638 333.4L637.2 332.4L636.4 331.4L636.4 330.3L636.4 329.2L636.5 328L636.5 326.9L637.7 326.9L639 326.9L639 325.5L639 324.1L639.8 324.2L640.6 324.3L641.5 325.3L642.2 325.1L643 324.9Z" fill="#ffffd9" stroke="#6f6f6f" stroke-opacity="0.75" stroke-width="0.35"/>
<path d="M652.6 327.5L653.1 328.5L653.6 329.6L653.5 330.4L653.4 331.3L653 332L652.6 332.7L652.1 331.8L651.6 330.9L651.7 329.9L651.9 329L651.1 328.7L650.3 328.3L649.7 327.7L650.1 326.8L650.4 325.9L650.5 324.8L650.6 323.8L650.4 322.8L650.3 321.8L650.9 321.9L651.5 321.9L651.7 322.9L652 323.9L652.2 324.9L652.4 326.2L652.6 327.5Z" fill="#ffffd9" stroke="#6f6f6f" stroke-opacity="0.75" stroke-width="0.35"/>
<path d="M649.7 336.8L649.4 337.5L649 338.2L648.2 339.2L647.5 340.2L646.3 340.1L645.1 339.9L644.3 339.4L643.5 338.9L643.1 338.2L642.7 337.5L641.9 336.8L641.1 336.1L640.8 334.9L640.4 333.7L641.4 333.8L642.5 333.8L643.3 332.9L644.2 332L645 331.1L645.9 330.9L646.8 330.6L647.8 331.1L648.8 331.6L649.8 332.1L649.7 333.4L649.7 334.7L649.7 335.7L649.7 336.8Z" fill="#ffffd9" stroke="#6f6f6f" stroke-opacity="0.75" stroke-width="0.35"/>
<path d="M658.6 331.1L657.6 331.8L656.5 332.6L655.4 333.3L654.6 334.2L653.7 335.1L652.8 336.1L651.9 336.5L652.2 337.7L652.4 338.9L652.4 340L652.5 341.1L652.5 342.2L651.7 342.8L650.9 343.4L650.1 344L649.3 344.6L648.8 345.1L648.9 345.9L649 346.6L648.5 345.9L648 345.1L648 344.2L648 343.2L647.8 342.2L647.6 341.2L647.5 340.2L648.2 339.2L649 338.2L649.4 337.5L649.7 336.8L649.7 335.7L649.7 334.7L649.7 333.4L649.8 332.1L648.8 331.6L647.8 331.1L646.8 330.6L647.7 330L648.6 329.4L649.4 328.9L650.3 328.3L651.1 328.7L651.9 329L651.7 329.9L651.6 330.9L652.1 331.8L652.6 332.7L653 332L653.4 331.3L653.5 330.4L653.6 329.6L653.1 328.5L652.6 327.5L652.4 326.2L652.2 324.9L652.9 324.8L653.7 324.6L654.7 324.8L655.8 324.9L656.7 324.5L657.6 324.1L658.5 323.7L659.4 323.4L659.5 324.3L659.5 325.2L659.6 326.2L659.6 327.1L659.6 328.1L659.6 329L659.1 330.1L658.6 331.1Z" fill="#ffffd9" stroke="#6f6f6f" stroke-opacity="0.75" stroke-width="0.35"/>
<path d="M643.5 338.9L644.3 339.4L645.1 339.9L644.1 340.6L643.1 341.2L642.1 341.9L641.3 342.9L640.6 343.9L639.8 344.4L638.9 345L637.8 345.1L636.7 345.3L636 345.7L635.2 346.1L634.5 346.6L634.2 345.5L633.9 344.5L633.5 343.5L633.6 342.2L633.6 340.9L633.7 339.6L634.9 339.6L634.9 338.3L635 337L635 335.7L635.1 334.4L636 334.1L637 333.7L638 333.4L639.2 333.5L640.4 333.7L640.8 334.9L641.1 336.1L641.9 336.8L642.7 337.5L643.1 338.2L643.5 338.9Z" fill="#edf8b1" stroke="#6f6f6f" stroke-opacity="0.75" stroke-width="0.35"/>
<path d="M625.7 338.2L625.3 337.2L624.9 336.1L624.4 335L624 334L623.7 333L624.6 333L625.5 333.1L626.3 333.1L627.5 333.1L628.6 333.1L629.7 333.1L630.9 333.1L632 333.1L633 333.4L634 333.7L634.9 334L636 333.8L637 333.6L638 333.4L637 333.7L636 334.1L635.1 334.4L635 335.7L635 337L634.9 338.3L634.9 339.6L633.7 339.6L633.6 340.9L633.6 342.2L633.5 343.5L633.5 344.8L633.4 346.1L633.4 347.4L633.3 348.7L632.3 348.8L631.2 349L630.2 349.1L629.1 349L628.6 348.2L628.1 347.5L627.6 346.7L627.5 345.6L627.3 344.4L627.2 343.3L627 342.2L626.9 341L626.5 340.1L626.1 339.2L625.7 338.2Z" fill="#edf8b1" stroke="#6f6f6f" stroke-opacity="0.75" stroke-width="0.35"/>
<path d="M644.2 350.9L643.6 351.4L643 351.8L642.3 351.4L641.6 350.9L641.6 350.4L642.3 349.7L642.9 349.1L643.7 349.5L644.5 350L644.2 350.9Z" fill="url(#hatch)" stroke="#c4c4c4" stroke-width="0.5"/>
<path d="M646.8 347L646.8 346.1L646.8 345.1L647.5 345.4L648.1 345.6L648 346.3L647.9 347L646.8 347Z" fill="url(#hatch)" stroke="#c4c4c4" stroke-width="0.5"/>
<path d="M645 352.8L644.2 353.6L643.3 354.4L642.4 355.2L641.5 355.8L640.6 356.3L639.7 356.5L638.8 356.6L638 356.7L637.2 356.7L636.4 356.7L635.5 357L634.6 357.2L633.7 357.5L632.8 357.7L631.9 357.4L631.1 357L630.8 356L630.6 354.9L630.4 353.8L630.1 352.7L629.9 351.7L629.6 350.8L629.4 349.9L629.1 349L630.2 349.1L631.2 349L632.3 348.8L633.3 348.7L633.4 347.4L633.4 346.1L633.5 344.8L633.5 343.5L633.9 344.5L634.2 345.5L634.5 346.6L635.2 346.1L636 345.7L636.7 345.3L637.8 345.1L638.9 345L639.8 344.4L640.6 343.9L641.3 342.9L642.1 341.9L643.1 341.2L644.1 340.6L645.1 339.9L646.3 340.1L647.5 340.2L647.6 341.2L647.8 342.2L648 343.2L648 344.2L648 345.1L648.5 345.9L649 346.6L648.6 347.7L648.2 348.8L647.3 349.8L646.4 350.8L645.7 351.8L645 352.8ZM642.9 349.1L642.3 349.7L641.6 350.4L641.6 350.9L642.3 351.4L643 351.8L643.6 351.4L644.2 350.9L644.5 350L643.7 349.5L642.9 349.1ZM646.8 347L647.9 347L648 346.3L648.1 345.6L647.5 345.4L646.8 345.1L646.8 346.1L646.8 347Z" fill="#c7e9b4" stroke="#6f6f6f" stroke-opacity="0.75" stroke-width="0.35"/>
<path d="M663.7 336.8L663.6 335.7L663.6 334.7L663.5 333.6L663.5 332.6L664.1 331.8L664.8 331.1L665.7 330.9L666.7 330.7L667.3 329.9L667.8 329.1L668.4 328.3L669.1 327.5L669.7 326.6L670.4 325.5L670.7 326.7L671 327.8L671.3 329L671.4 329.8L671.5 330.6L671.1 331.5L670.6 332.4L670.2 333.3L669.9 334.2L669.5 335.1L669.2 336.1L668.8 337.1L668.4 338.1L668.1 339.2L667.7 340.2L667.3 341.4L666.9 342.6L666.5 343.7L665.7 344.1L664.9 344.4L664.1 344.7L663.4 344.2L662.7 343.7L662.5 342.7L662.4 341.7L662.3 340.5L662.2 339.3L662.7 338.5L663.2 337.6L663.7 336.8Z" fill="#ffffd9" stroke="#6f6f6f" stroke-opacity="0.75" stroke-width="0.35"/>
<path d="M626 315.3L627.1 314.9L628.2 314.6L629.1 314L629.2 312.8L629.4 311.6L630.4 310.8L631.3 309.9L631.5 308.6L631.8 307.4L632 306.1L632.2 304.8L632.4 303.5L632.9 303.1L633.9 302.7L634.8 302.3L635.6 302.4L636.5 302.5L637.3 302.6L638.3 302.2L639.4 301.8L640.4 301.4L641.4 301.4L642.4 301.3L643.4 301.3L643.5 301.4L644.5 301.8L645.4 302.1L646.2 302.6L646.9 303.1L647.7 303.5L647.8 304.4L647.9 305.2L647.3 306L646.7 306.7L646.4 307.6L646.2 308.5L646.2 309.5L646.2 310.5L645.6 310.6L645.3 311.8L645.4 312.5L645.7 313.2L645.8 313.9L645.9 314.7L646 315.9L646.1 317L646.6 318.1L647 319.2L647.4 320.2L646.6 320.3L645.7 320.4L644.8 320.5L644.7 321.6L644.7 322.6L645.2 323.7L645.7 324.7L646.2 325.8L646 326.5L645.9 327.2L645.1 327.5L644.5 326.8L643.9 326.2L643.5 325.5L643 324.9L642.2 325.1L641.5 325.3L640.6 324.3L639.8 324.2L639 324.1L638 324.1L636.9 324.1L636.6 323L636.3 321.9L636.3 320.9L636.4 319.9L636.4 318.8L635.2 319.2L634 319.5L632.9 319.8L631.9 319.8L631 319.8L630.4 319.1L629.9 318.4L629.7 317.6L629.5 316.8L628.5 316.8L627.5 316.8L626.4 316.8L625.4 316.8L624.4 317L624.3 316.3L624.2 315.6L624.8 315.6L625.4 315.4L626 315.3Z" fill="#ffffd9" stroke="#6f6f6f" stroke-opacity="0.75" stroke-width="0.35"/>
<path d="M671.9 273L672 273.4L671.8 273.4L671.5 273.7L671.9 273ZM667.4 266.1L667.5 266.1L667.8 265.6L667.4 266.2L666.9 266.8L667.2 266.4L666.8 266.2L667.4 266.1ZM661.6 284.8L661.8 285.1L662 285.3L662 285.8L662.1 286.7L662.2 287.6L662 286.4L661.9 285.3L661.6 284.8ZM655.9 262.9L655.5 262.1L655.2 261.2L655.6 262.1L656 262.9L656.7 263.2L657.4 263.4L656.6 263.2L655.9 262.9ZM651.3 267.6L651.1 266.8L651.2 266.8L651.3 266.1L651.4 265.3L651.3 266.1L651.2 266.9L651.9 267L652.6 267.2L651.9 267.1L651.3 267L651.2 267.4L651.3 267.6ZM650.1 264.2L650.3 263.5L650.6 262.8L650.4 263.8L650.1 264.2ZM626.6 292.2L626.7 292.1L626.7 291.3L626.7 290.5L626.6 290.2L626.9 290.9L627.3 291.5L626.6 292.2ZM621.1 306.8L621.4 307.1L621.1 307.1L621.1 306.8ZM603.4 273.1L604.3 273.8L605.2 274.5L606.1 275.3L607 276L607.9 276.7L608.8 277.4L609.8 278.1L610.7 278.8L609.7 278.1L608.8 277.4L607.9 276.7L607 276L606.1 275.3L605.2 274.6L604.3 273.9L603.3 273.1L603.4 273.1Z" fill="#ffffd9" stroke="#6f6f6f" stroke-opacity="0.75" stroke-width="0.35"/>
<path d="M500.6 290L500.5 289.9L500.5 289.8L500.9 290.1L500.8 290.2L500.6 290ZM513.8 280.4L514 280.2L514.9 280.4L513.8 280.4ZM635.5 250L635.2 250.3L635.4 249.8L635.5 250ZM639.2 249.5L639.5 249.3L639.6 249.7L639.2 249.5ZM682.3 266.3L682.5 265.2L682.8 264.2L682.6 265.2L682.3 266.3ZM755.2 255L755.9 255.1L756.6 255.2L755.9 255.1L755.2 255ZM700.9 241.9L701.3 241.9L701 242.2L700.9 241.9Z" fill="url(#hatch)" stroke="#c4c4c4" stroke-width="0.5"/>
</g>
<g id="legend" font-family="Liberation Sans, Arial, sans-serif" font-size="14" fill="#5b5b5b">
<text x="102" y="496" text-anchor="middle" font-size="13.6">No data</text>
<rect x="78.5" y="502.5" width="47" height="10" fill="url(#hatch2)" stroke="#a8a8a8" stroke-width="0.8"/>
<line x1="102" y1="499.3" x2="102" y2="502.5" stroke="#bbb" stroke-width="0.8"/>
<rect x="145.4" y="502.5" width="58.5" height="10" fill="#ffffd9" stroke="#b0b0b0" stroke-width="0.5"/>
<rect x="203.9" y="502.5" width="58.5" height="10" fill="#edf8b1" stroke="#b0b0b0" stroke-width="0.5"/>
<rect x="262.4" y="502.5" width="58.5" height="10" fill="#c7e9b4" stroke="#b0b0b0" stroke-width="0.5"/>
<rect x="320.9" y="502.5" width="58.5" height="10" fill="#7fcdbb" stroke="#b0b0b0" stroke-width="0.5"/>
<rect x="379.4" y="502.5" width="58.5" height="10" fill="#41b6c4" stroke="#b0b0b0" stroke-width="0.5"/>
<rect x="437.9" y="502.5" width="58.5" height="10" fill="#1d91c0" stroke="#b0b0b0" stroke-width="0.5"/>
<rect x="496.4" y="502.5" width="58.5" height="10" fill="#225ea8" stroke="#b0b0b0" stroke-width="0.5"/>
<rect x="554.9" y="502.5" width="58.5" height="10" fill="#253494" stroke="#b0b0b0" stroke-width="0.5"/>
<rect x="613.4" y="502.5" width="58.5" height="10" fill="#172875" stroke="#b0b0b0" stroke-width="0.5"/>
<path d="M671.9 502.5 L724.9 502.5 L730.4 507.5 L724.9 512.5 L671.9 512.5 Z" fill="#081d58"/>
<line x1="145.4" y1="483.5" x2="145.4" y2="512.5" stroke="#a0a0a0" stroke-width="0.7"/>
<text x="145.4" y="481" text-anchor="middle">0 $/h</text>
<line x1="203.9" y1="499.5" x2="203.9" y2="512.5" stroke="#a0a0a0" stroke-width="0.7"/>
<text x="203.9" y="496" text-anchor="middle">10 $/h</text>
<line x1="262.4" y1="483.5" x2="262.4" y2="512.5" stroke="#a0a0a0" stroke-width="0.7"/>
<text x="262.4" y="481" text-anchor="middle">20 $/h</text>
<line x1="320.9" y1="499.5" x2="320.9" y2="512.5" stroke="#a0a0a0" stroke-width="0.7"/>
<text x="320.9" y="496" text-anchor="middle">30 $/h</text>
<line x1="379.4" y1="483.5" x2="379.4" y2="512.5" stroke="#a0a0a0" stroke-width="0.7"/>
<text x="379.4" y="481" text-anchor="middle">40 $/h</text>
<line x1="437.9" y1="499.5" x2="437.9" y2="512.5" stroke="#a0a0a0" stroke-width="0.7"/>
<text x="437.9" y="496" text-anchor="middle">50 $/h</text>
<line x1="496.4" y1="483.5" x2="496.4" y2="512.5" stroke="#a0a0a0" stroke-width="0.7"/>
<text x="496.4" y="481" text-anchor="middle">60 $/h</text>
<line x1="554.9" y1="499.5" x2="554.9" y2="512.5" stroke="#a0a0a0" stroke-width="0.7"/>
<text x="554.9" y="496" text-anchor="middle">70 $/h</text>
<line x1="613.4" y1="483.5" x2="613.4" y2="512.5" stroke="#a0a0a0" stroke-width="0.7"/>
<text x="613.4" y="481" text-anchor="middle">80 $/h</text>
<line x1="671.9" y1="499.5" x2="671.9" y2="512.5" stroke="#a0a0a0" stroke-width="0.7"/>
<text x="671.9" y="496" text-anchor="middle">90 $/h</text>
</g>
</svg>
<div class="t" id="foot1"><b>Data source:</b> Feenstra et al. - Penn World Table (2025)</div>
<div class="t" id="foot3">OurWorldinData.org/economic-growth | CC BY</div>
<div class="t" id="foot2"><b>Note:</b> This data is expressed in international-$ at 2021 prices per hour, using multiple benchmark years to adjust for differences in living costs<br>between countries over time.</div>
</body></html>
